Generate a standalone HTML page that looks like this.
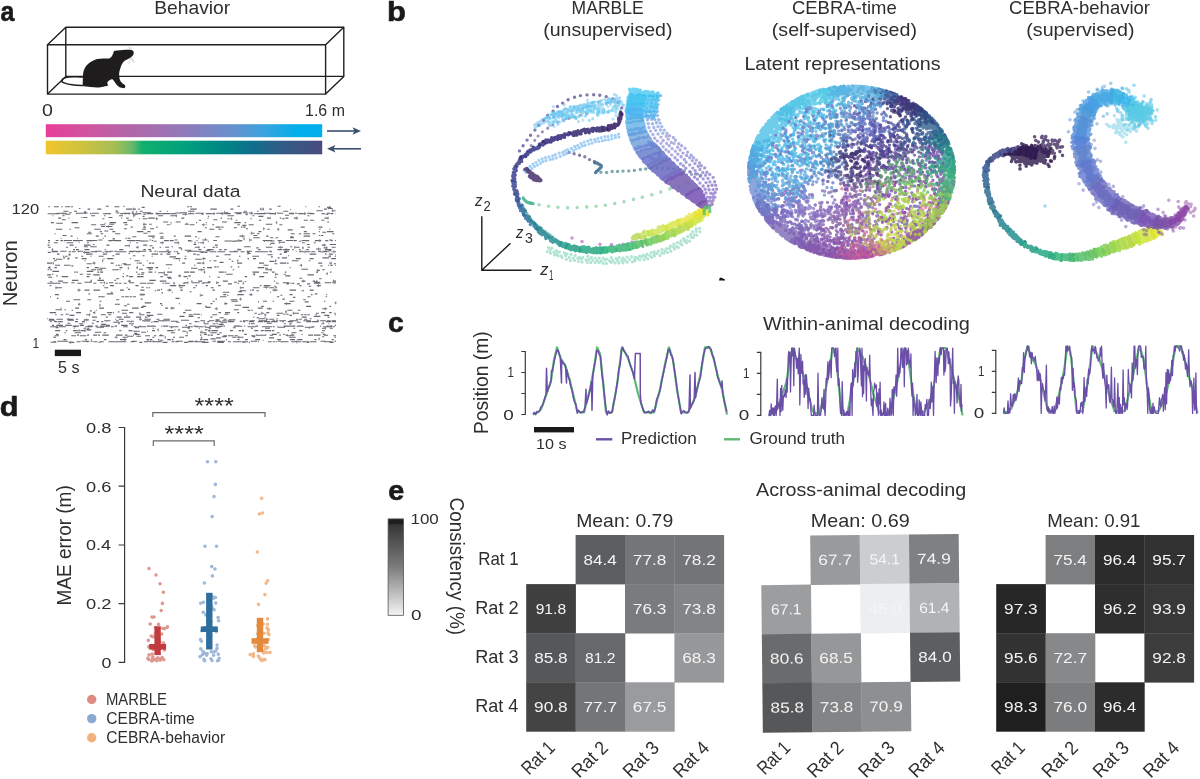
<!DOCTYPE html><html><head><meta charset="utf-8"><style>html,body{margin:0;padding:0;background:#fff;}body{width:1200px;height:779px;overflow:hidden;font-family:"Liberation Sans",sans-serif;}svg{display:block;}#w{will-change:transform;width:1200px;height:779px;}</style></head><body><div id="w"><svg width="1200" height="779" viewBox="0 0 1200 779" font-family="Liberation Sans, sans-serif" fill="#2e2e2e"><rect width="1200" height="779" fill="#fff"/><text x="0.4" y="21" font-size="27" textLength="13.9" lengthAdjust="spacingAndGlyphs" font-weight="bold" fill="#1a1a1a" stroke="#1a1a1a" stroke-width="0.6">a</text><text x="154.2" y="14.2" font-size="17.7" textLength="76" lengthAdjust="spacingAndGlyphs">Behavior</text><g fill="none" stroke="#231f20" stroke-width="1.4" stroke-linejoin="round"><path d="M65.8 27.2H343.8V76.4H65.8Z"/><path d="M47.5 44.8H325.6V94.1H47.5Z"/><path d="M47.5 44.8L65.8 27.2M325.6 44.8L343.8 27.2M325.6 94.1L343.8 76.4M47.5 94.1L65.8 76.4"/></g><path fill="#1e1c1d" d="M114.3 50.9C114.9 50.5 115.9 50.5 117.3 50.4C118.6 50.2 120.4 50.0 122.5 49.9C124.6 49.8 128.2 49.5 130.0 49.8C131.8 50.0 132.9 50.4 133.4 51.3C133.9 52.1 133.7 53.9 133.2 55.0C132.6 56.1 131.3 57.1 130.0 58.0C128.7 58.9 126.8 59.4 125.5 60.3C124.3 61.1 123.4 61.9 122.5 63.3C121.6 64.6 120.8 66.8 120.3 68.5C119.7 70.3 119.2 71.9 119.1 73.8C119.1 75.6 119.4 78.2 119.9 79.8C120.4 81.3 121.3 82.2 122.1 83.1C123.0 84.1 124.8 84.6 125.1 85.4C125.5 86.2 125.2 87.6 124.4 88.0C123.6 88.4 121.3 87.9 120.3 87.6C119.2 87.3 118.9 87.0 118.0 86.1C117.1 85.3 116.0 83.5 115.0 82.4C114.0 81.2 113.3 79.2 112.0 79.2C110.8 79.1 108.2 81.0 107.5 82.0C106.8 83.0 108.0 84.4 107.9 85.0C107.8 85.7 108.3 85.5 106.8 85.9C105.2 86.3 101.3 87.2 98.5 87.4C95.8 87.6 92.8 87.1 90.3 86.9C87.8 86.6 84.8 87.0 83.5 85.9C82.3 84.8 82.8 82.9 82.8 80.5C82.8 78.1 82.9 74.0 83.5 71.5C84.1 69.0 85.3 67.1 86.5 65.5C87.8 63.9 89.3 62.8 91.0 61.8C92.8 60.7 95.0 59.7 97.0 59.1C99.0 58.6 101.0 58.7 103.0 58.5C105.0 58.4 107.5 58.8 109.0 58.4C110.5 58.0 111.3 57.1 112.0 56.1C112.7 55.2 113.0 53.6 113.4 52.8C113.7 51.9 113.6 51.3 114.3 50.9Z"/><path fill="none" stroke="#1e1c1d" stroke-width="1.5" d="M83.5 85.5C81.9 85.4 77.0 85.4 73.8 85.0C70.5 84.6 66.0 83.7 64.0 82.9C62.0 82.2 61.8 81.3 61.9 80.5C62.0 79.7 62.8 78.5 64.8 77.9C66.7 77.3 70.7 76.9 73.8 76.8C76.8 76.6 81.4 77.0 82.9 77.1"/><path fill="none" stroke="#aaa" stroke-width="0.45" d="M131 58L133.5 63M130.5 58.5L128.5 64.5M131.5 57.5L134.5 62M129.8 49.6L129 46.5M130.5 50L131.5 47"/><text x="42.1" y="115.6" font-size="16.2" textLength="10.9" lengthAdjust="spacingAndGlyphs">0</text><text x="305.1" y="115.6" font-size="15.8" textLength="39.8" lengthAdjust="spacingAndGlyphs">1.6 m</text><defs><linearGradient id="gr1" x1="0" x2="1" y1="0" y2="0"><stop offset="0" stop-color="#e83e97"/><stop offset="0.15" stop-color="#d0559f"/><stop offset="0.3" stop-color="#b366a8"/><stop offset="0.45" stop-color="#9a75b5"/><stop offset="0.6" stop-color="#7a86c5"/><stop offset="0.7" stop-color="#5f95d2"/><stop offset="0.8" stop-color="#35a5e0"/><stop offset="0.9" stop-color="#05aeea"/><stop offset="1" stop-color="#00b0ed"/></linearGradient><linearGradient id="gr2" x1="0" x2="1" y1="0" y2="0"><stop offset="0" stop-color="#f0c52c"/><stop offset="0.15" stop-color="#c8c243"/><stop offset="0.25" stop-color="#a5bd55"/><stop offset="0.31" stop-color="#6ab96a"/><stop offset="0.35" stop-color="#12b06e"/><stop offset="0.5" stop-color="#00a07d"/><stop offset="0.65" stop-color="#008585"/><stop offset="0.75" stop-color="#0f6e8c"/><stop offset="0.85" stop-color="#2f5d85"/><stop offset="1" stop-color="#4a4a80"/></linearGradient></defs><rect x="45.8" y="124.2" width="276.4" height="13" fill="url(#gr1)"/><rect x="45.8" y="140.7" width="276.4" height="13.6" fill="url(#gr2)"/><path d="M327 131H355" stroke="#3d4f6e" stroke-width="1.6"/><path d="M361 131L352.5 127.2L354.5 131L352.5 134.8Z" fill="#3d4f6e"/><path d="M333 148.8H361" stroke="#3d4f6e" stroke-width="1.6"/><path d="M327 148.8L335.5 145L333.5 148.8L335.5 152.6Z" fill="#3d4f6e"/><text x="140.4" y="196.5" font-size="17.4" textLength="100.1" lengthAdjust="spacingAndGlyphs">Neural data</text><text x="11.6" y="214" font-size="14.8" textLength="27.6" lengthAdjust="spacingAndGlyphs">120</text><text x="32.5" y="347.6" font-size="14.8" textLength="6.7" lengthAdjust="spacingAndGlyphs">1</text><text x="-1.6" y="0" font-size="19.9" textLength="66" lengthAdjust="spacingAndGlyphs" transform="translate(16.7 304.7) rotate(-90)">Neuron</text><rect x="54.8" y="349.7" width="26.2" height="6.4" fill="#1a1a1a"/><text x="58" y="372.6" font-size="16.2" textLength="21.5" lengthAdjust="spacingAndGlyphs">5 s</text><path stroke="#676970" stroke-width="1.1" fill="none" d="M48.4 206.8h1.5M53.9 206.8h5M61.3 206.8h1.5M65.2 206.8h5M71 206.8h2M105.8 206.2h3M114.4 206.8h5M123.4 206.2h1.5M141.7 207.4h3M187.1 206.8h2M189.9 206.8h2M237.5 206.2h2.5M277.6 206.2h3M305.4 206.8h1M318.4 206.8h1.5M327.1 207.4h4M78.9 208.5h1.5M87.6 209.1h2.5M97.3 209.1h4M126.1 209.1h6.5M133.4 209.1h2.5M138.3 209.1h1.5M190.2 209.1h6.5M210.3 209.1h6.5M230.4 209.1h3M259.8 209.1h1.5M262.1 209.1h1.5M269.2 209.1h2.5M290.1 209.7h1M323.9 209.1h3M327.7 208.5h5M63.4 211.3h5M74 211.3h3M84.2 211.9h2M115.8 211.3h2.5M131.9 211.9h1.5M135.8 211.9h1.5M139.7 211.3h3M159.5 211.3h2M167.1 211.3h1M188.1 211.3h6.5M224.2 211.3h1M243.6 211.3h3M257 211.3h1.5M283.3 211.3h5M316.3 210.7h6.5M331.6 210.7h4M55.6 213.6h4M62 213.6h2.5M65.3 214.2h5M75.9 213.6h1M82.5 213h5M89.9 213.6h1.5M105 213.6h2M107.8 213.6h3M116.4 213h3M120.2 213.6h3M124 213.6h3M127.8 213.6h2.5M132.7 214.2h5M138.5 213.6h2.5M143.4 214.2h2.5M146.7 213.6h6.5M155.6 213.6h5M163 213.6h6.5M171.9 213.6h2.5M175.2 213h6.5M182.5 214.2h5M189.9 213h1M191.7 213.6h1M201.5 214.2h2M205.9 213.6h5M213.3 213.6h1.5M220.4 213.6h3M224.2 213.6h6.5M236.3 213.6h5M245.3 214.2h2.5M248.6 213h4M256.6 213.6h1.5M258.9 213.6h6.5M269.4 213.6h6.5M276.7 213h2M289.1 213.6h5M298.1 213.6h5M303.9 213.6h1.5M309.4 213.6h5M321.6 213.6h3M325.4 214.2h3M330.8 213.6h2.5M335.7 213.6h0.3M52.4 215.8h1M62.2 215.8h2.5M91.1 215.8h4M103.9 215.8h1.5M119 215.8h4M133.4 215.8h2M142.6 216.4h2M158.2 215.8h5M170.4 215.8h6.5M208.1 216.4h1M227.5 215.8h6.5M252.4 215.8h2M258.4 216.4h5M285 215.2h4M307.4 215.8h2M58.2 218.1h3M68.4 218.1h1M81.4 217.5h1M83.2 217.5h4M102.4 218.7h2M108.4 217.5h4M121.2 218.1h1M126.2 218.1h2.5M139.1 218.7h1M142.5 218.7h5M148.3 218.1h6.5M155.6 218.7h2.5M181.3 218.1h3M207.5 218.1h1M220.5 218.1h1.5M227.6 218.7h2M230.4 218.7h1.5M250.3 218.7h1.5M267 218.1h4M279.8 218.1h1.5M282.1 218.7h2.5M285.4 218.1h3M294 218.1h4M324.4 218.1h4M61.8 219.7h4M127.4 220.3h5M198.8 220.3h2.5M213.3 219.7h4M235.7 220.3h1.5M258.8 220.3h2.5M303.7 220.3h4M310.1 220.3h4M321.3 220.3h3M50.9 222.6h3M56.3 223.2h6.5M71.6 222.6h6.5M104.5 223.2h1M109.5 222.6h6.5M123.2 222.6h4M163.2 222h5M170.6 222.6h1M175.6 222h5M186.2 223.2h1M196 222.6h1M205.8 222.6h1M222 222h5M234.2 222.6h6.5M244.7 222.6h1.5M275.8 222.6h1M327.2 222h2M91.2 224.8h5M100.2 224.8h5M109.2 224.2h5M124.6 224.8h3M142.8 224.2h4M149.2 224.2h2.5M166.9 224.8h2.5M170.2 224.2h1M184.8 224.2h4M189.6 224.8h5M201.8 224.8h3M205.6 224.8h1M212.2 224.8h2M237.4 224.8h2.5M242.3 225.4h4M248.7 224.8h5M265.7 224.2h6.5M279.4 224.8h3M74.5 227.7h5M101.1 226.5h4M105.9 226.5h6.5M130.8 227.1h2M143.2 227.1h2.5M156.1 227.1h1.5M204.8 227.7h2M215.6 227.1h5M221.4 227.1h2M233.8 227.7h3M240.8 227.1h1.5M243.1 227.1h2.5M300.8 227.1h4M318.4 227.1h4M55.8 229.3h6.5M69.5 229.3h1.5M94.2 229.3h6.5M109.5 229.3h4M123.9 228.7h3M142.1 229.3h4M150.1 228.7h4M209.3 229.3h5M218.3 229.3h3M246.1 228.7h2M263.3 228.7h1.5M267.2 229.3h2.5M276.9 229.3h2M287.7 229.9h5M319.1 229.3h1.5M329.4 229.3h1M88.1 232.2h3M99.9 231.6h2M104.3 231h4M112.3 231.6h3M136.9 231.6h6.5M147.4 231.6h3M197.6 231.6h4M258.4 231.6h3M303.8 231.6h3M318.8 231.6h1M322.2 232.2h4M327 231.6h6.5M54.7 233.8h1M86.9 233.8h5M100.7 233.8h2.5M115.2 233.8h5M143.4 233.2h4M159.4 233.2h4M250.6 233.2h4M257 233.8h2.5M290.7 233.8h4M298.7 233.8h2.5M303.6 233.8h6.5M312.5 233.8h3M332.3 233.8h2M62.6 235.5h4M70.6 236.1h2M95.8 236.1h3M104.4 236.1h1.5M132.3 236.7h4M148.3 236.1h6.5M160.4 236.7h3M173.8 236.1h2M184.6 236.1h6.5M195.1 236.7h2M215.5 236.7h4M239.5 236.1h5M253.3 235.5h4M266.1 236.1h2.5M290.2 236.7h3M303.6 236.1h6.5M318.9 235.5h1M320.7 235.5h2.5M60.7 238.3h1M76.9 238.3h1M102.7 238.3h1M112.5 238.9h2.5M125.4 238.3h1.5M127.7 238.3h3M152.3 237.7h2M159.9 238.3h4M198.3 238.3h1M204.9 238.9h1M243.5 238.9h1M253.3 237.7h6.5M270.2 237.7h3M275.6 237.7h2.5M290.1 237.7h4M48 240.6h2M60.4 240.6h2.5M63.7 240.6h2M72.9 240.6h6.5M86.6 240.6h6.5M108.3 240.6h4M114.7 240.6h6.5M128.4 240.6h6.5M138.9 240.6h1.5M141.2 241.2h1M143 241.2h1M149.6 240h1.5M151.9 240.6h1.5M154.2 241.2h2.5M163.9 240.6h5M169.7 240.6h4M174.5 240h3M187.9 240.6h3M196.5 240.6h1M207.9 241.2h1M232.1 241.2h5M237.9 240h1.5M240.2 240.6h2M249.4 240h2.5M263.9 241.2h1M265.7 240.6h6.5M293.8 240.6h3M299.2 241.2h2M305.2 240.6h4M314.8 240.6h6.5M325.3 240.6h3M330.7 240.6h2M48.3 242.8h1.5M53.8 242.8h4M66.6 242.8h6.5M78.7 242.2h1M86.9 242.8h2M129.7 242.8h1M136.3 242.8h2M159.9 242.8h4M174.3 242.8h5M194.5 242.8h1M197.9 242.8h1.5M200.2 242.8h4M270.6 243.4h4M278.6 242.2h6.5M301.9 242.8h3M313.7 242.8h2M47.6 245.1h2M69.6 245.1h4M84 245.1h6.5M92.9 244.5h1.5M106.4 245.1h3M124.6 245.7h5M143.2 245.1h4M149.6 245.7h3M193.4 244.5h3M214.8 245.1h3M269.8 244.5h1M306.8 244.5h3M321.8 245.1h4M329.8 244.5h6.2M48.2 247.3h2.5M65.9 247.3h2M75.1 247.3h1.5M83.8 246.7h4M90.2 246.7h6.5M135.9 247.3h2.5M152 247.9h2M159.6 247.3h1.5M165.1 247.3h4M171.5 246.7h1.5M178.6 247.9h2.5M194.7 247.3h5M203.7 247.3h1.5M212.4 247.3h2.5M215.7 247.3h2M244.1 246.7h6.5M256.2 247.9h2.5M265.9 247.3h6.5M278 247.3h5M290.2 246.7h2M294.6 247.3h5M302 247.9h1.5M307.5 247.3h2.5M323.6 247.9h4M331.6 247.3h4M51.6 249.6h1.5M73.1 249.6h2M75.9 249.6h3M84.5 249.6h5M104.7 249.6h1M119.3 249.6h4M143.3 249.6h2.5M148.2 249.6h3M166.4 250.2h2.5M180.9 249h1.5M184.8 250.2h6.5M198.5 249.6h3M207.1 249.6h6.5M219.2 249.6h2.5M224.1 249.6h2.5M237 249.6h1M238.8 249.6h2.5M258.1 249.6h2.5M277.4 249.6h5M283.2 249.6h6.5M292.1 249.6h1.5M299.2 249.6h1.5M306.3 249.6h2.5M316 249h5M325 249.6h6.5M47.8 252.4h3M51.6 251.8h6.5M68.5 251.8h2.5M71.8 251.8h4M78.2 251.8h1M83.2 252.4h6.5M90.5 251.8h6.5M97.8 251.2h4M102.6 252.4h1M104.4 251.8h6.5M116.5 251.8h2.5M119.8 251.8h6.5M128.7 251.8h5M136.1 251.8h4M142.5 251.2h3M149.5 251.2h2.5M154.4 251.2h2M157.2 251.8h1M159 251.8h6.5M167.9 252.4h2M173.9 251.8h1.5M176.2 251.8h2M187 251.8h2.5M196.7 251.2h1.5M200.6 252.4h3M204.4 252.4h3M209.8 251.8h6.5M218.7 251.8h6.5M229.2 251.8h4M234 251.2h2.5M240.5 251.8h4M246.9 252.4h2.5M250.2 251.2h1M255.2 251.8h6.5M262.5 251.8h5M269.9 251.8h2M283.9 252.4h3M295.7 251.2h1M299.1 251.8h1.5M301.4 251.8h2.5M304.7 251.8h2.5M308 251.8h2.5M311.3 251.8h4M319.3 251.8h1.5M321.6 252.4h1M323.4 251.8h4M328.2 251.8h1M331.6 251.8h1M333.4 251.8h2.6M57 254.1h2.5M68.3 254.7h2.5M86 254.1h6.5M102.9 254.1h4M115.7 254.1h4M128.5 253.5h1.5M151.6 254.1h6.5M160.5 254.1h2M166.5 254.1h4M177.7 253.5h2M193.3 254.1h2.5M196.6 254.7h3M224.4 254.7h6.5M247.7 253.5h3M267.5 254.7h5M279.7 254.1h2M309.7 254.1h6.5M325 254.1h1.5M328.9 254.1h4M335.3 254.7h0.7M62.8 256.3h1.5M65.1 256.3h2.5M81.2 256.3h2M90.4 256.3h1M98.6 256.3h5M112.4 255.7h2M132.8 255.7h2.5M142.5 255.7h2M151.7 256.3h1M169.5 256.9h6.5M184.8 256.3h1.5M215.9 256.3h3M238.9 256.3h1.5M252.4 256.3h6.5M270.9 256.9h2M288.1 255.7h1M328.3 256.3h2.5M334.8 256.3h1.2M53.1 258.6h2M55.9 259.2h6.5M63.2 257.9h2M67.6 258.6h2M75.2 257.9h2.5M81.7 258.6h5M103.5 258.6h1M106.9 258.6h6.5M130.2 258.6h1M173.6 258.6h1M175.4 258.6h5M184.4 258.6h2M195.2 259.2h6.5M202.5 258.6h3M228.7 259.2h2M247.5 258.6h1.5M253 258.6h3M277.6 257.9h2M282 257.9h5M295.8 258.6h5M309.6 258.6h4M322.4 257.9h6.5M331.3 258.6h4.7M54.1 260.8h2.5M84.6 260.8h1M102.4 260.8h1M134.6 260.8h5M146.8 260.8h1M179 260.8h1M209.6 260.8h1.5M213.5 260.8h3M231.7 261.4h1.5M237.2 260.8h1M269.4 261.4h5M275.2 260.8h1.5M291.9 260.8h6.5M308.8 260.8h1.5M47 263.1h5M52.8 263.1h1M86.6 263.7h5M92.4 263.1h3M110.6 263.1h3M122.4 263.7h4M136.8 263.1h1M138.6 263.1h3M148.8 263.1h2.5M152.1 263.1h2M182.1 263.1h3M197.1 263.1h4M201.9 263.1h2.5M219.6 262.4h4M237.2 263.1h5M259 263.1h5M274.4 263.7h3M279.8 263.1h6.5M287.1 263.1h1.5M318.2 263.1h4M329.4 263.1h2M333.8 263.7h2.2M55 265.3h5M64 265.3h6.5M71.3 265.9h2M115.7 265.3h1.5M118 265.3h2M120.8 265.3h1M124.2 264.7h6.5M142.7 265.3h1.5M165.8 264.7h6.5M193.9 265.3h1.5M263.4 265.3h5M299.6 265.3h2.5M320.5 265.9h2M328.1 265.3h1M329.9 265.3h3M335.3 265.3h0.7M47.9 267.6h2.5M54.4 267.6h2.5M86.5 267.6h2.5M94.6 267.6h4M99.4 268.2h6.5M119.5 267.6h3M128.1 268.2h1M136.3 267.6h1.5M146.6 267.6h6.5M155.5 267.6h2.5M168.4 268.2h1M191 268.2h6.5M203.1 267.6h1.5M207 267.6h5M214.4 266.9h2M217.2 266.9h1.5M230.7 266.9h1.5M237.8 266.9h1.5M257.7 267.6h6.5M265 268.2h3M289.6 267.6h1M47.6 269.8h1.5M49.9 269.8h2M91.1 269.8h5M96.9 269.8h5M112.3 269.8h6.5M119.6 269.8h1M139 269.2h4M148.6 269.2h4M198.2 269.8h6.5M232.7 269.8h1.5M265.4 269.8h6.5M301.5 269.2h6.5M316.8 270.4h3M322.2 269.8h2.5M52.5 271.4h6.5M74.2 272.1h1.5M76.5 272.1h1.5M86.8 271.4h6.5M97.3 272.1h2M100.1 272.1h3M135.9 272.1h1.5M141.4 272.7h3M148.4 272.1h4M154.8 272.1h1M158.2 272.7h6.5M167.1 272.1h5M184.1 272.1h5M189.9 272.1h5M203.7 272.1h1.5M218.8 272.1h5M224.6 272.1h1.5M252.5 272.1h6.5M263 272.7h5M272 272.1h2.5M284.9 272.1h1.5M316 272.1h2M330 272.1h1.5M47.1 274.9h4M51.9 274.3h1.5M79.8 274.3h3M86.8 274.3h4M93.2 274.9h6.5M122.9 273.7h1M137.5 274.3h2.5M140.8 274.3h3M163.8 274.9h4M226.2 274.3h6.5M252.7 274.3h2.5M275.2 274.3h3M283.8 274.3h2M307.4 274.9h6.5M325.9 273.7h1.5M48.2 277.2h4M56.2 275.9h1.5M61.7 276.6h6.5M86.6 276.6h3M122.4 276.6h1.5M126.3 275.9h2M129.1 276.6h4M137.1 276.6h6.5M160.4 276.6h2.5M166.9 277.2h4M178.1 275.9h3M183.5 276.6h4M188.3 275.9h2.5M209.2 276.6h1M217.4 277.2h2.5M244.7 276.6h2.5M259.2 276.6h5M274.6 277.2h2M285.4 275.9h5M99.4 278.2h1.5M116.1 278.8h3M167.9 278.2h4M187.1 278.8h1M299.3 278.2h3M319.1 278.8h2.5M50 281.7h2.5M58.1 281.1h5M71.9 280.4h6.5M90.4 281.1h1.5M97.5 280.4h6.5M114.4 280.4h1.5M127.9 281.1h3M149.3 280.4h6.5M159.8 281.1h6.5M191.1 281.1h1.5M198.2 281.1h4M207.8 281.7h3M222.8 281.1h5M238.2 281.1h4M244.6 281.7h1.5M274.1 281.1h1M301.5 281.1h4M312.7 281.1h2.5M316 281.1h1.5M332.7 281.1h3.3M48.2 283.3h5M55.6 283.3h5M93.4 283.3h3M103.6 282.7h1.5M105.9 283.3h2M115.1 283.3h3M118.9 283.3h2.5M123.8 283.3h3M129.2 282.7h5M139.8 283.3h6.5M147.1 283.3h6.5M162.4 283.3h1.5M164.7 283.3h5M173.7 283.3h1.5M184 282.7h4M201.6 283.3h2.5M216.1 282.7h3M227.9 283.9h4M237.5 283.3h1.5M243 283.3h1M286.4 283.9h2.5M289.7 283.3h1M291.5 283.3h3M296.9 283.9h3M307.1 283.9h3M314.1 283.3h6.5M324.6 282.7h6.5M331.9 282.7h2M334.7 282.7h1.3M49.8 285.6h1.5M103.3 285.6h1M109.9 285.6h4M135.5 285.6h3M169.7 285.6h6.5M178.6 285.6h6.5M195.5 285.6h1.5M205.8 285.6h2M218.2 285.6h2.5M259.9 285.6h1.5M263.8 285.6h6.5M274.3 286.2h2M299.5 285.6h2M308.7 286.2h2.5M316.8 285.6h4M55.4 287.8h6.5M104.3 287.8h4M126.7 287.8h1M141.3 287.2h2.5M146.2 287.8h1.5M148.5 287.8h1.5M179.6 287.8h3M193 287.8h2.5M210.7 287.8h3M240.1 287.8h4M252.9 287.8h6.5M263.4 287.2h5M269.2 287.8h5M275 287.8h2M77.5 290.1h3M84.5 290.1h5M93.5 290.1h6.5M120 290.1h4M128 289.4h2M140.4 290.1h4M154.8 290.7h1.5M157.1 290.1h3M160.9 289.4h1M167.5 290.1h4M180.3 290.1h2.5M212.4 290.1h2.5M239.7 290.7h6.5M250.2 290.1h1M252 290.1h2M256.4 290.7h2.5M272.5 290.1h5M289.5 290.1h6.5M301.6 290.7h2.5M309.7 290.1h4M110.7 292.3h2M161.5 292.9h1.5M171.8 292.3h1M189.6 291.7h2M222.8 292.3h6.5M238.1 291.7h4M270.1 292.3h1M54.9 294.6h4M88.5 293.9h1.5M106.8 293.9h6.5M139.7 294.6h2M142.5 294.6h2.5M200.2 295.2h3M223.2 294.6h3M227 295.2h1.5M237.3 294.6h6.5M249.4 294.6h3M280.4 295.2h2M289.6 294.6h3M311 294.6h1.5M314.9 293.9h2.5M326.2 294.6h1M50 296.8h1M98.2 296.8h6.5M121.5 296.8h2.5M124.8 296.8h4M129.6 296.8h2.5M132.9 296.8h3M219.9 296.8h6.5M276.8 296.8h2.5M292.9 297.4h2.5M307.4 296.8h3M325.6 296.8h1.5M56.9 298.4h1.5M73.6 299.7h6.5M87.3 299.7h4M116.1 299.7h3M140.7 299.1h2M175.5 298.4h4M215.5 299.1h1.5M230.6 299.7h6.5M239.5 299.1h2M282.3 299.1h2.5M303.2 299.7h2.5M65.9 301.3h4M99.5 301.3h2M212.7 301.3h2M231.5 301.3h6.5M258 301.9h1M263 301.3h4M272.6 301.3h1.5M289.3 301.3h5M304.7 301.9h4M323.9 301.3h1.5M77.9 304.2h2.5M114.8 304.2h5M127 304.2h2.5M144.7 302.9h6.5M160 303.6h2M178.8 303.6h1M196.6 303.6h5M210.4 303.6h2M224.4 303.6h3M284.2 303.6h6.5M334.7 302.9h1.3M99.7 305.2h1M123.9 305.8h3M142.1 306.4h4M161.3 305.2h1.5M205.2 306.4h1.5M234.7 305.2h6.5M261.2 306.4h2.5M306.1 306.4h5M329.5 306.4h1.5M60.5 308.1h1M75.1 308.1h4M99.1 308.1h5M132.1 308.1h6.5M141 307.4h2.5M165.1 308.1h3M170.5 308.1h4M205.7 307.4h5M214.7 308.7h3M242.5 307.4h6.5M257.8 308.1h5M266.8 308.7h5M322.2 308.7h5M55.5 309.7h6.5M64.4 309.7h1.5M71.5 310.3h1.5M89.8 310.9h2M95.8 310.3h1M121.6 310.3h6.5M184.9 310.3h6.5M233.8 309.7h5M247.6 310.3h3M251.4 310.3h1.5M287.3 310.3h5M297.9 310.3h2.5M49.6 312.6h6.5M76.1 312.6h5M93.1 312.6h2M107.1 312.6h5M112.9 312.6h1M117.9 311.9h1.5M121.8 313.2h5M129.2 312.6h4M138.8 313.2h2M146.4 312.6h4M183.2 312.6h2.5M218.5 312.6h2.5M225 312.6h5M237.2 312.6h2M254.4 313.2h2.5M260.9 313.2h3M266.3 312.6h3M276.5 313.2h6.5M285.4 311.9h1.5M292.5 313.2h6.5M315.8 313.2h3M321.2 312.6h4M329.2 312.6h2.5M334.1 313.2h1.5M55.2 314.8h1.5M60.7 314.8h2.5M65.6 314.2h3M69.4 315.4h5M86.4 314.8h4M100.8 314.8h5M108.2 314.8h3M126.4 315.4h1M139.4 314.8h5M146.8 315.4h6.5M157.3 314.2h5M188.7 314.8h4M193.5 314.2h6.5M200.8 314.8h1M212.2 314.8h5M224.4 314.2h4M258 314.2h2.5M264.5 314.8h2M276.9 315.4h2.5M283.4 314.2h2M286.2 314.2h2.5M289.5 315.4h2.5M300.8 314.8h2.5M304.1 314.8h2.5M307.4 314.8h2.5M315.5 314.8h1.5M324.2 315.4h5M334.8 314.8h1.2M92 317.1h5M105.8 317.1h2M116.6 317.1h5M124 317.1h6.5M136.1 317.1h5M145.1 317.1h2.5M148.4 316.4h1.5M179.5 316.4h5M188.5 316.4h5M197.5 317.7h2.5M210.4 317.1h2M219.6 317.7h4M253.2 317.1h1M256.6 317.7h2.5M264.7 317.1h1M301.7 317.1h5M313.9 316.4h6.5M327.6 317.1h2M47.2 318.7h1M49 319.3h5M56.4 319.3h6.5M66.9 319.3h6.5M75.8 319.3h2.5M83.9 319.9h5M115.3 319.3h1M118.7 319.3h5M138.9 319.3h3M144.3 319.3h6.5M156.4 319.3h3M163.4 319.3h6.5M215.5 319.9h4M223.5 319.3h3M228.9 319.9h6.5M258.6 318.7h6.5M265.9 319.3h2.5M269.2 319.3h5M276.6 318.7h1M296 319.3h2.5M299.3 319.3h2.5M304.2 319.3h3M309.6 318.7h2M50.2 321.6h1.5M54.1 321.6h3M57.9 321.6h5M74.9 321.6h3M81.9 321.6h2.5M96.4 321.6h2.5M101.3 321.6h2M105.7 320.9h2M113.3 322.2h6.5M120.6 321.6h2.5M130.3 321.6h1.5M143.8 320.9h6.5M151.1 322.2h1.5M153.4 321.6h5M162.4 320.9h2M176.4 322.2h3M194.6 321.6h3M198.4 321.6h1M203.4 322.2h1.5M207.3 321.6h2M216.5 320.9h1.5M220.4 322.2h6.5M227.7 321.6h6.5M243 321.6h2M249 321.6h5M258 321.6h5M263.8 321.6h6.5M271.1 321.6h6.5M280 320.9h1.5M282.3 321.6h1.5M287.8 321.6h5M296.8 322.2h4M306.4 321.6h5M312.2 321.6h6.5M322.7 322.2h1M326.1 321.6h5M331.9 321.6h4M58.6 323.8h1.5M67.3 323.2h3M79.1 323.8h4M91.9 323.2h2M101.1 324.4h5M118.1 323.8h2M128.9 323.8h5M189.1 323.8h2.5M203.6 323.8h5M212.6 323.8h3M216.4 323.8h1.5M218.7 324.4h5M248.5 323.8h1.5M250.8 323.8h4M266.8 323.2h5M283.8 323.8h2M289.8 323.8h2M321.4 323.8h3M328.4 323.8h1M52 325.4h2M56.4 325.4h6.5M65.3 325.4h6.5M72.6 326.1h6.5M79.9 325.4h4M87.9 326.1h5M95.3 326.1h2.5M100.2 326.1h5M106 325.4h4M110.8 326.7h3M114.6 326.1h2.5M121.1 325.4h6.5M131.6 325.4h1M139.8 326.1h1M141.6 326.7h3M147 326.1h2M149.8 326.1h1.5M152.1 326.1h2M161.3 326.1h1M163.1 326.1h5M175.3 326.7h3M185.5 325.4h1.5M187.8 326.7h5M193.6 326.1h2M196.4 326.1h1M204.6 326.1h1M209.6 326.1h6.5M218.5 326.7h2.5M223.4 326.1h1.5M233.7 326.1h6.5M244.2 326.1h1M255.6 326.1h2.5M266.9 326.7h5M272.7 326.7h2M277.1 326.7h1M283.7 326.1h4M288.5 326.1h2M291.3 326.1h4M297.7 326.1h5M311.5 326.7h3M320.1 326.1h1M326.7 326.1h2M329.5 326.1h3M334.9 325.4h1.1M55.6 327.7h3M73.8 328.3h1M83.6 328.3h2.5M86.9 328.9h2.5M135 327.7h4M152.6 328.3h1.5M170.9 327.7h1.5M187.6 328.3h2.5M198.9 328.3h1M208.7 328.3h2.5M215.2 327.7h4M232.8 327.7h3M251 328.3h2M265 328.3h5M293.2 328.3h2M308.8 328.3h1M321.8 328.3h4M329.8 328.3h3M55.2 330.6h5M65.8 330.6h1.5M72.9 330.6h5M78.7 330.6h1M80.5 330.6h5M86.3 329.9h5M119.3 330.6h2M128.5 330.6h4M133.3 331.2h6.5M147 331.2h1M152 330.6h3M157.4 329.9h1M167.2 330.6h6.5M174.5 329.9h1M177.9 329.9h2M182.3 331.2h4M188.7 330.6h3M200.5 331.2h2M204.9 329.9h2.5M208.2 330.6h2.5M211.5 330.6h6.5M230 330.6h3M238.6 330.6h2.5M241.9 330.6h2M254.3 330.6h4M260.7 330.6h3M264.5 330.6h6.5M271.8 330.6h2.5M287.9 330.6h1M299.3 330.6h3M322.3 330.6h2.5M64.3 332.8h1.5M74.6 332.8h6.5M94.7 332.2h6.5M103.6 332.8h2.5M134.1 333.4h3M141.1 332.2h5M170.9 332.8h4M186.9 332.8h1M199.9 332.8h6.5M210.4 332.8h6.5M219.3 332.8h2.5M277 332.8h2.5M291.5 332.8h5M321.3 332.8h2M56.1 334.4h2.5M77 335.1h2M79.8 335.7h6.5M87.1 335.1h2M93.1 335.1h4M97.9 335.1h2M102.3 335.1h6.5M116 335.1h6.5M124.9 335.1h2.5M133 335.1h1M134.8 334.4h5M159.8 335.1h2M185 335.7h3M200 335.1h1.5M203.9 334.4h3M207.7 335.1h2M210.5 335.1h2.5M217 334.4h2.5M244.3 334.4h2.5M255.6 335.1h2M264.8 335.1h1.5M271.9 334.4h5M279.3 335.1h1.5M283.2 334.4h1.5M285.5 335.1h2.5M290.4 335.1h4M301.6 334.4h1M308.2 335.1h5M314 335.1h6.5M322.9 334.4h2.5M334.2 335.7h1.8M53.1 337.3h3M114.5 337.3h2.5M122.6 337.3h5M152.4 337.3h2M164.8 337.3h1M173 337.3h2M179 337.3h5M200.8 337.9h1.5M215.9 337.9h5M221.7 336.7h5M232.3 337.3h4M237.1 337.3h6.5M252.4 336.7h3M269 337.9h5M289.2 337.3h6.5M322.1 336.7h2M334.5 337.3h1.5M63.5 339.6h3M84.9 339.6h2M90.9 339.6h1M103.9 339.6h2.5M120 339.6h6.5M146.5 339.6h2.5M149.8 339.6h2.5M157.9 339.6h1.5M160.2 340.2h3M167.2 339.6h4M172 339.6h1.5M199.9 339.6h2.5M203.2 339.6h5M210.6 338.9h5M226 339.6h1M237.4 339.6h2M245 339.6h3M255.2 339.6h5M262.6 340.2h1M277.2 339.6h4M290 339.6h5M297.4 339.6h5M314.4 339.6h2M318.8 338.9h1M331.8 339.6h2M53 341.8h3M61.6 341.2h6.5M68.9 342.4h2M71.7 342.4h2.5M76.6 341.8h4M86.2 341.8h2M90.6 341.2h2M93.4 341.8h4M99.8 341.8h4M111 341.8h2.5M114.3 341.8h5M123.3 341.8h3M131.9 341.2h5M139.3 342.4h3M144.7 341.8h3M150.1 341.8h1.5M152.4 341.2h2M155.2 341.8h6.5M162.5 342.4h5M171.5 341.8h3M175.3 341.8h3M183.9 342.4h4M188.7 341.2h5M194.5 341.2h3M198.3 341.8h3M202.1 342.4h6.5M217.4 342.4h6.5M227.9 341.8h3M233.3 341.8h1.5M238.8 341.8h2M241.6 341.8h6.5M248.9 342.4h1M250.7 341.2h6.5M258 341.8h1M267.8 341.8h4M272.6 341.8h2.5M275.9 341.8h1.5M278.2 341.2h2M282.6 341.8h1.5M291.3 341.8h6.5M298.6 341.8h2.5M301.9 341.8h4M306.7 342.4h2.5M310 341.8h6.5M320.5 341.2h5M329.5 342.4h4M334.3 341.2h1.7M47.6 213.8h8.9M57.6 213.3h8.9M69.2 212.8h2.5M76.2 213.3h6.7M84 213.3h3.3M91.8 213.3h7.1M102.9 213.8h4.8M122.9 213.3h7.7M131.7 213.3h2.4M135 213.8h6.5M142.5 212.8h8.5M160.6 213.8h2.7M168.1 213.8h7.8M180.5 212.8h6.5M188 213.8h6.4M195.4 213.3h8.3M206.3 213.8h8.8M216.2 213.3h6.4M223.5 212.8h4.9M234.3 212.8h7.6M242.9 212.8h4.8M250.6 213.8h2.2M253.9 213.8h5.3M260.1 213.8h2.5M263.6 213.3h7.1M278.2 213.3h5M289.1 213.3h5M295.1 213.3h2.3M298.4 213.8h7.5M306.9 213.3h4.6M326.9 213.3h3.7M52 251.3h5.6M60.2 251.3h6.3M77.6 251.3h5.4M95.2 251.3h4.9M109.9 251.3h3.4M114.3 251.3h2.2M117.5 251.8h8.9M129.6 251.3h7.6M138.1 251.3h4.8M143.9 251.3h2.3M162.3 251.8h8.9M189.1 251.3h8.3M198.4 251.8h6.1M205.5 250.8h4.6M217.5 251.8h7.5M231.2 251.8h6.8M246.6 251.3h5.4M261 251.8h7M269.1 251.3h2.5M284.3 251.3h4.7M299.7 251.3h2M305.9 251.8h3.3M317.9 251.3h3.6M322.5 251.3h5.2M328.7 250.8h2.4M55.7 240.5h2.8M65.2 240.5h6.9M78 240.5h4.8M90.1 240.5h7.2M98.3 240h4.1M112.4 240.5h4.8M126.9 240.5h7.3M135.2 240.5h4.3M140.5 241h7.8M187.9 241h4.6M202.3 240h5.2M213.3 240.5h3.6M224.5 241h7.9M233.5 241h7.6M262.6 240.5h6.8M270.4 241h4.1M277.6 240.5h4.2M285.9 240.5h7.5M301.6 240.5h5.7M329.1 240h3M335.1 240.5h0.9M48.6 320.3h6.6M67.7 320.3h6.4M92.5 320.3h3.1M104.2 320.8h6.2M116.1 320.8h2.6M126.4 321.3h3.5M130.9 321.3h3M142 320.8h8.1M158.1 320.8h5.3M164.4 320.8h5.3M170.7 321.3h6.9M181 320.3h8.2M200.3 320.8h4.7M208.8 320.8h5.4M215.1 321.3h6M222.2 320.8h4.6M227.7 320.3h3.4M239.7 321.3h2.3M242.9 320.8h5.6M249.6 320.8h5.3M258.8 320.8h8.5M272.5 320.8h2.5M276 320.3h2.2M279.2 320.8h6.7M289.4 320.8h8.6M303.3 320.8h7.7M316.8 320.3h2.3M320.1 320.8h5.8M326.9 320.8h3.7M331.6 320.8h4.4M50.2 326.7h7.8M58.9 326.7h6.9M73.8 326.7h2.3M85.4 326.7h6.8M96.5 327.2h7.5M105.1 326.2h4.4M123.1 326.7h4.7M133.6 326.7h3.1M137.7 326.7h8.5M147.3 326.2h8.7M163.5 326.2h4.8M169.3 326.7h8.6M181.9 327.2h7.7M195.3 326.7h8.4M204.8 327.2h5.5M215.2 326.2h7.6M234.6 326.2h7.7M247.6 326.7h8.1M261.9 326.7h5.9M268.7 326.7h2.5M277.9 327.2h7.2M286.1 326.2h5.7M296.6 326.2h7.1M304.8 327.2h8.6M323.2 326.7h8.7M332.9 326.7h2M50.5 342.2h5.8M57.3 341.2h8.2M68.7 342.2h4.2M81.6 341.2h7.9M98.4 342.2h2.2M108.5 341.7h6.1M115.6 341.7h7.9M130.5 341.7h4.2M143.9 341.7h2.1M147 341.2h4.3M152.3 341.7h5M158.3 341.2h2M176.2 341.2h6.5M187.7 341.7h5.7M194.4 341.7h5.6M201 341.7h4M212.5 341.2h3.6M217.1 341.2h8M233 341.7h8.2M242.3 342.2h3.3M280.3 341.7h8.2M294 341.7h4.8M304.3 341.7h5.1M324.2 341.7h8.1M54.5 335.8h4.4M71.3 335.8h4.8M127.3 336.3h5.8M136.4 336.3h4.7M145.2 335.8h4.8M153.8 335.8h2.5M159.1 335.8h4.7M223.3 335.8h3.8M228 335.8h5.6M234.7 335.8h3.1M251.2 335.8h3.7M255.9 335.3h9M269.8 335.3h3.2M287 335.8h3.6M323.9 335.3h4.2M333.3 335.8h2.7M47.4 283.2h2.6M51 283.2h6M62.6 282.7h5.4M71.3 282.7h3.3M77.3 283.2h4.3M84.4 282.2h6.9M100.1 282.7h2.2M109.1 282.7h4.3M182.7 283.2h2.9M191.5 282.7h8.1M202.7 282.7h7.3M233.9 282.2h3M276.1 283.2h2.5M282.8 282.7h6.5M314.1 282.2h5.7"/><path stroke="#7a7c84" stroke-width="0.8" fill="none" d="M329.7 205.9v3M133.6 207.6v3M261 207.6v3M263.5 207.6v3M116.2 209.8v3M332.6 209.2v3M157.1 212.1v3M185.5 212.7v3M214 212.1v3M222.6 212.1v3M246.9 212.7v3M251.6 211.5v3M275.5 212.1v3M304.7 212.1v3M133.5 214.3v3M176.4 214.3v3M156.5 217.2v3M231.7 217.2v3M296.8 216.6v3M328.1 216.6v3M276.7 221.1v3M144 222.7v3M203.5 223.3v3M108.2 225v3M144.7 225.6v3M263.6 227.2v3M278.7 227.8v3M251.5 231.7v3M242.5 234.6v3M244.2 237.4v3M249.6 238.5v3M319.8 239.1v3M162.4 241.3v3M178.3 241.3v3M195.1 241.3v3M203.1 241.3v3M279.4 240.7v3M129.3 244.2v3M324.3 243.6v3M138 245.8v3M198.8 245.8v3M280.3 245.8v3M294.7 245.8v3M302.8 246.4v3M326.5 246.4v3M52.6 248.1v3M181.4 247.5v3M238.8 248.1v3M286.2 248.1v3M318.6 247.5v3M84.6 250.9v3M106.8 250.3v3M304.9 250.3v3M333.8 250.3v3M69.6 253.2v3M177.8 252v3M247.8 252v3M330.3 254.8v3M68.3 257.1v3M203.3 257.1v3M102.6 259.3v3M237.7 259.3v3M275.5 259.3v3M53.1 261.6v3M94.3 261.6v3M203.6 261.6v3M331.2 261.6v3M301.5 263.8v3M49.8 266.1v3M128.2 266.7v3M137.4 266.1v3M101.6 268.3v3M149.9 267.7v3M201.3 268.3v3M271.1 268.3v3M317.8 268.9v3M164.4 271.2v3M204.4 270.6v3M254.5 272.8v3M275.7 272.8v3M327.3 272.2v3M179.8 274.4v3M99.6 276.7v3M91.3 279.6v3M129.5 279.6v3M303.3 279.6v3M333.5 279.6v3M104.3 281.2v3M173.8 281.8v3M187.9 281.2v3M216.7 281.2v3M243.1 281.8v3M334.7 281.2v3M179.7 284.1v3M318.4 284.1v3M56 286.3v3M240.3 286.3v3M266.5 285.7v3M79 288.6v3M169.5 288.6v3M274.6 288.6v3M141.1 293.1v3M142.9 293.1v3M200.3 293.7v3M251.1 293.1v3M240.6 297.6v3M79.2 302.7v3M225.3 302.1v3M286.5 302.1v3M335.9 301.4v3M99.9 303.7v3M171.8 306.6v3M216.7 307.2v3M269.3 307.2v3M325.4 307.2v3M94.8 311.1v3M261.7 311.7v3M285.9 310.4v3M293.6 311.7v3M89.6 313.3v3M265 313.3v3M68.4 317.8v3M86.5 318.4v3M140.2 317.8v3M266.4 317.8v3M84.2 320.1v3M216.7 319.4v3M221.7 322.9v3M290.1 322.3v3M88.3 327.4v3M325.6 326.8v3M79.1 329.1v3M84.9 329.1v3M158.2 328.4v3M209.3 329.1v3M242.8 329.1v3M187.2 331.3v3M292.3 333.6v3M116.9 335.8v3M165.2 335.8v3M201.6 336.4v3M238.9 335.8v3M124.7 338.1v3M318.9 337.4v3M70.7 340.9v3M296.7 340.3v3"/><text x="387.1" y="20.8" font-size="27" textLength="18.9" lengthAdjust="spacingAndGlyphs" font-weight="bold" fill="#1a1a1a" stroke="#1a1a1a" stroke-width="0.6">b</text><text x="571.6" y="14.2" font-size="18.2" textLength="72.1" lengthAdjust="spacingAndGlyphs">MARBLE</text><text x="543.2" y="35.5" font-size="18.6" textLength="129.3" lengthAdjust="spacingAndGlyphs">(unsupervised)</text><text x="791.9" y="14" font-size="18.2" textLength="104.8" lengthAdjust="spacingAndGlyphs">CEBRA-time</text><text x="771.8" y="35.6" font-size="18.6" textLength="145.2" lengthAdjust="spacingAndGlyphs">(self-supervised)</text><text x="1009.1" y="14" font-size="18.2" textLength="140.9" lengthAdjust="spacingAndGlyphs">CEBRA-behavior</text><text x="1026.3" y="35.6" font-size="18.6" textLength="108.2" lengthAdjust="spacingAndGlyphs">(supervised)</text><text x="744.4" y="69.8" font-size="18.5" textLength="196.3" lengthAdjust="spacingAndGlyphs">Latent representations</text><path fill="none" stroke="#1e1c1d" stroke-width="1.4" d="M481.8 216.3V270.2H531.4M481.8 270.2L510.5 243.2"/><text x="474.9" y="205.9" font-size="17" textLength="7.5" lengthAdjust="spacingAndGlyphs" font-style="italic">z</text><text x="483.6" y="211.3" font-size="14.5" textLength="7.3" lengthAdjust="spacingAndGlyphs">2</text><text x="516.1" y="237.6" font-size="17" textLength="7.4" lengthAdjust="spacingAndGlyphs" font-style="italic">z</text><text x="524.9" y="243.2" font-size="14.5" textLength="7.9" lengthAdjust="spacingAndGlyphs">3</text><text x="540.3" y="274.6" font-size="17" textLength="8.2" lengthAdjust="spacingAndGlyphs" font-style="italic">z</text><text x="549" y="280" font-size="14.5" textLength="4.4" lengthAdjust="spacingAndGlyphs">1</text><path d="M719 280.4L719.6 278L721 277.6L725 279.6L725 280.4Z" fill="#111"/><path fill="none" stroke="#6c609c" stroke-width="3.4" stroke-opacity="0.85" stroke-linecap="round" d="M519.5 150.9h0M523.1 145.8h0M527.1 140.1h0M530.6 135.2h0M534.9 130.1h0M538.8 125.2h0M543.5 120.2h0M547.6 115.5h0M553.1 111.1h0M557.5 106.5h0M562.7 103.1h0M568.1 99.8h0M574.5 97.2h0M580.4 95.6h0M587 94.9h0M593.7 94.8h0M599.8 95.2h0M606.2 96.6h0M612.8 98.9h0M618.1 102.4h0M621.7 107.9h0M621.8 113.6h0"/><path fill="none" stroke="#7860a8" stroke-width="3.2" stroke-opacity="0.7" stroke-linecap="round" d="M525 155.9h0M528.3 150.9h0M531.2 145.5h0M534.8 140.3h0M538.1 136h0M542.4 131.8h0M547.7 128.2h0M552.7 125h0M558 122h0M563.5 120.4h0M569 118.3h0M575.2 117h0M580.6 115h0M586.7 113.7h0"/><path fill="none" stroke="#6c6090" stroke-width="3.4" stroke-opacity="0.8" stroke-linecap="round" d="M569 152.4h0M574.1 153.7h0M579.6 155.2h0M584.8 156.7h0M589.5 159.6h0M594.4 161.4h0"/><path fill="none" stroke="#3c6c90" stroke-width="3.4" stroke-opacity="0.9" stroke-linecap="round" d="M594.8 162.7h0M596.3 162.9h0M597.4 163.3h0M598.3 163.9h0M599.5 164.4h0M600.6 165.1h0M601.3 165.8h0M601.1 167.3h0M600 168.3h0M599.1 169.1h0M598.3 170h0M597.6 170.6h0M596.5 171.4h0M595.6 172.6h0"/><path fill="none" stroke="#60909c" stroke-width="3.4" stroke-opacity="0.8" stroke-linecap="round" d="M600.9 172.3h0M606.6 172.5h0M612.2 171.5h0M617.6 171.5h0M623 171.1h0M628.8 170.9h0M634.4 170.4h0M640.3 169.5h0M645.6 168.9h0M650.9 168.2h0M656.9 167.8h0M662.3 168.2h0M668.4 168.3h0M673.6 169h0M679.1 169.8h0M684.4 170.9h0M690.2 172.1h0M695.6 173.9h0M700.7 175.4h0"/><path fill="none" stroke="#9cd8b4" stroke-width="3.6" stroke-opacity="0.9" stroke-linecap="round" d="M530.1 202.6h0M539.1 204.8h0M548.6 206.2h0M557.9 207.3h0M567.6 207.8h0M577.2 207.5h0M586.8 206.9h0M596.1 206.2h0M605.4 205.2h0M614.7 203.5h0M624 201.7h0M633.5 199.4h0M642.3 197.3h0M651.8 194.7h0M660.7 192h0M669.9 188.9h0M678.9 186.8h0M687.8 183.6h0"/><path fill="none" stroke="#48b490" stroke-width="3.2" stroke-opacity="0.9" stroke-linecap="round" d="M523.2 197.8h0M523.6 198.9h0M524.4 199.6h0M525 200.4h0M525.8 200.9h0M526.3 201.7h0M527.5 202.2h0M528.1 202.6h0M529.1 202.9h0M530.2 203.1h0M531.1 203.4h0M532.1 203.4h0M533.1 203.7h0"/><path fill="none" stroke="#c48cd6" stroke-width="3.6" stroke-opacity="0.9" stroke-linecap="round" d="M582 241.5h0M600 244.2h0M611.5 244.6h0M623 244.2h0M632 242h0M572 238h0"/><path fill="none" stroke="#90d8c0" stroke-width="3.2" stroke-opacity="0.7" stroke-linecap="round" d="M548.5 247.6h0M551.9 248.1h0M556.6 250.7h0M559.3 252h0M564.3 252.8h0M567.1 253.9h0M571.1 254.6h0M575.2 255.4h0M579.4 257.4h0M582.9 257.3h0M587.8 256.4h0M591.4 257.6h0M595.2 258.1h0M599.1 258.1h0M603.2 258h0M607 259.1h0M611.3 257.7h0M616.1 258.7h0M619.2 257.7h0M623 258.2h0M627.2 257h0M631.6 256.7h0M635.2 257h0M639.5 256h0M643.2 255.2h0M646.9 254.2h0M651.2 252.6h0M654.2 251.9h0M658.4 250.8h0M662 249.4h0M666.4 248.6h0M670.4 246.2h0M673.8 244.1h0M677.3 242.6h0M680.9 240.8h0M683.7 238.4h0M687.7 236.6h0M690.7 234.4h0M692.6 231.7h0M696.1 228.8h0M550.3 250h0M553.9 252.1h0M556.9 253.9h0M561.2 255.8h0M565.5 255.6h0M569.1 257.4h0M573 258.1h0M577.8 258.4h0M581.3 259h0M586 259.9h0M588.9 259.6h0M592.7 260.4h0M597.2 260.7h0M601.2 260.8h0M604.9 260.1h0M609.6 260.8h0M612.9 260.6h0M617.7 260.9h0M621.7 260.4h0M625.1 260.1h0M629.6 259.4h0M634.5 259.6h0M637.4 258.2h0M641.6 256.9h0M645.6 256.7h0M649.8 255.5h0M654 254.7h0M657 253.4h0M661.7 252.8h0M665 250.8h0M669.4 248.6h0M673.2 247.1h0M676.5 246.3h0M680.3 243.5h0M684.4 241.2h0M686.3 240.4h0M691.1 237.2h0M694.1 234.8h0M696.3 231.4h0M699.6 228.3h0M547.3 251.7h0M550.5 253.2h0M554.6 254.9h0M558 255.8h0M562.1 257.6h0M566.3 259.4h0M570.4 260.6h0M574.5 260.5h0M578.5 261.5h0M582.1 262.1h0M587.2 262.4h0M590.7 262.7h0M595.2 262.6h0M599.2 262.7h0M603.1 263.3h0M606.4 263.4h0M611.1 262.5h0M614.9 262.9h0M618.9 263.1h0M623 262.7h0M627.1 262.2h0M632.4 262h0M635.1 260.8h0M639.7 259.8h0M644.2 259.6h0M647.8 258.8h0M651.6 257.3h0M654.5 256h0M659.9 255.6h0M663.7 253.2h0M667.5 252.5h0M670.9 251.3h0M674.7 249h0M678.4 247.5h0M682 244.9h0M686.5 242.7h0M689.5 241.2h0M693.4 237.6h0M696.8 235.2h0M700 231.8h0"/><path fill="none" stroke="#84c0f0" stroke-width="3.2" stroke-opacity="0.75" stroke-linecap="round" d="M524.1 170.3h0M527.5 168.3h0M530 166.3h0M532.9 164.2h0M536 162.5h0M538.9 160.3h0M542.1 158.8h0M545.3 157.6h0M548.8 156.9h0M552.6 155.9h0M555.3 154.7h0M559.1 153.2h0M562.6 152.4h0M565.1 150.9h0M567.7 149.6h0M571.4 148.4h0M574.6 146.3h0M577.7 145.4h0M580.9 143.3h0M584.2 142.2h0M587.7 141h0M590.8 139.9h0M594.5 139.6h0M597.7 138.4h0M601.1 137.7h0M604.8 136.7h0M608 136.5h0M611.7 135.7h0M615.2 135.3h0M618.6 134.1h0M525.8 172.3h0M528.5 170.5h0M531.9 168.7h0M534.5 166.4h0M537.5 165.1h0M540.6 163.2h0M543 161.5h0M546.1 160.6h0M550.1 159.6h0M552.9 159.1h0M556.2 157.9h0M560.2 156.4h0M563.7 154.8h0M566.4 153.7h0M570 152.2h0M573.6 150.6h0M576.2 148.8h0M579.5 147.9h0M582.2 145.9h0M585.1 145.4h0M589 144h0M592.2 143.1h0M595.4 141.6h0M598.8 141.5h0M602.3 140.9h0M605.2 140h0M608.4 139.7h0M611.8 138.8h0M615.4 137.7h0M618.9 137.1h0"/><path fill="none" stroke="#84ccf0" stroke-width="3.2" stroke-opacity="0.6" stroke-linecap="round" d="M560.2 115.3h0M550.3 125.4h0M600.3 107h0M613.1 119.2h0M620.3 109.9h0M600.3 106.4h0M567.9 113.8h0M607.8 112.6h0M611 99.6h0M560 121.9h0M562.3 118.8h0M617.5 108.9h0M601.1 109.8h0M577.3 106.6h0M598.6 108.6h0M599.9 112.6h0M582.8 112.5h0M602.5 105.2h0M597.3 111.3h0M587.6 100h0M599.8 101.3h0M587.9 113.1h0M578.5 121.4h0M550.4 122.6h0M548.5 117.7h0M618.8 101.8h0M571.3 116.9h0M572.2 113.8h0M579.2 115.7h0M614.3 94.3h0M619.6 103.1h0M558.4 117.4h0M553.6 106.7h0M558 124.5h0M553.6 116.3h0M547.4 117.1h0M592.6 111.4h0M598.9 113.6h0M585.3 112h0M561.8 116.6h0M618.9 101.9h0M581.9 108.6h0M615.1 100.7h0"/><path fill="none" stroke="#90d8f0" stroke-width="3.2" stroke-opacity="0.6" stroke-linecap="round" d="M562.8 113.2h0M574.6 108.5h0M578.4 109.1h0M576.1 112.9h0M612.3 101.5h0M580.3 105h0M602.9 108.6h0M555.1 116.1h0M554.3 126.5h0M573.9 116.3h0M599.3 107.7h0M608 106.8h0M561.1 114.9h0M588.8 105.9h0M553.1 113.4h0M586.6 107.3h0M564 120.8h0M602.8 111.9h0M582.8 120.2h0M566.3 112.2h0M621.4 102.4h0M581.9 115.4h0M583.2 104.7h0M619 105.1h0M564 115.3h0M573.3 116.1h0M582.3 114.1h0M554.8 115h0M557.7 122.6h0"/><path fill="none" stroke="#78ccf0" stroke-width="3.2" stroke-opacity="0.6" stroke-linecap="round" d="M597.4 114.4h0M593.1 104.3h0M576.7 112.3h0M616.5 95.6h0M553.7 116.2h0M617 106.4h0M553.2 115.8h0M620.1 101.5h0M614.2 99.2h0M591.5 108.9h0M557.1 114.7h0M610.5 104.5h0M558.5 112.4h0M586.3 114.4h0M609.6 110.9h0M549.4 125.2h0M582.9 108.4h0M608.6 111.8h0M587.6 106.4h0M583.3 111.2h0M554.9 114.1h0M606.9 101.8h0M612 110.3h0M591.1 110.3h0M592.7 118.7h0M566.9 116.4h0M616.7 105.9h0M563.8 109.7h0M609.2 111.2h0M578.8 108.4h0M591.4 107.2h0M606.6 104.4h0M623.8 105.6h0M566.3 118.1h0M618.7 105h0M570.4 110.8h0M616.2 115.6h0M594.1 102.9h0"/><path fill="none" stroke="#54c0f0" stroke-width="3.2" stroke-opacity="0.6" stroke-linecap="round" d="M598.4 102.5h0M626.2 109.2h0M597.3 108.4h0M552.8 112.3h0M594.2 108.1h0M587.1 104.9h0M603.5 110h0M604 109.6h0M603.3 111.7h0M553.3 122.6h0M614.5 106.1h0M603 113h0M547.9 117.1h0M555.6 119.6h0M553.2 122.9h0M553.6 117.1h0M580.6 111.7h0M561.8 113.1h0M570.2 106.5h0M615.2 103.3h0M574.2 117.6h0M588.6 110.2h0M565.7 108.8h0M566.1 115.4h0"/><path fill="none" stroke="#60ccf0" stroke-width="3.2" stroke-opacity="0.6" stroke-linecap="round" d="M593.7 112.4h0M598.7 110.1h0M615.5 109.4h0M566.4 118.4h0M558.5 115.1h0M590.7 112.1h0M608.5 102.5h0M597.3 113.5h0M572.5 110.6h0M557.3 112h0M579.1 111.5h0M608.5 98.3h0M577.4 111.2h0M615.5 108.9h0M571.9 116.5h0M571.7 113.6h0M586.9 108.4h0M568.4 115.6h0M548.4 122.3h0M559.7 111.4h0M578.9 116.6h0M590.8 105.6h0M555.7 114h0M583 109.7h0M611.4 100.1h0M556.8 122.1h0M549.2 117.8h0M589.2 120.4h0M622.6 104.6h0M564.4 114.6h0M570.9 111h0M591.3 104h0"/><path fill="none" stroke="#54ccf0" stroke-width="3.2" stroke-opacity="0.6" stroke-linecap="round" d="M592.8 102.4h0M553.9 121.4h0M570.4 117.5h0M618.7 102.1h0M615.7 112h0M574.5 107.7h0M586.2 112.1h0M590.3 110.2h0"/><path fill="none" stroke="#6cccf0" stroke-width="3.2" stroke-opacity="0.6" stroke-linecap="round" d="M594.4 107.3h0M581.1 110.4h0M608.4 111.4h0M570.4 117.3h0M564.2 104.6h0M568.2 110.1h0M586.5 106h0M573.7 115.9h0M572.6 115.9h0M589 107.3h0M589.2 105.9h0M616.4 106.8h0M571.3 116.4h0M595.4 106.7h0M564.5 118.8h0M596.1 108.3h0M569.3 115.8h0M561.8 112.4h0M612.5 110.6h0M561.4 116.1h0M597.9 115.5h0M607.6 102h0M573.5 106.4h0M550.9 114.3h0M604.5 112.3h0M587.3 111.2h0M594 109.5h0M605.4 111.9h0M612.8 107.7h0M577.2 109.5h0M559.8 111.9h0M610.7 102.2h0M585.2 116.3h0M595 105.9h0"/><path fill="none" stroke="#9cd8f0" stroke-width="3.2" stroke-opacity="0.6" stroke-linecap="round" d="M558.7 117.9h0M616.9 104.9h0M597 108.5h0M551.7 121.5h0M575.7 117.8h0"/><path fill="none" stroke="#48c0f0" stroke-width="3.2" stroke-opacity="0.6" stroke-linecap="round" d="M576.2 118.4h0M598.8 111.7h0M545.4 118.5h0M584.2 106.8h0M606.1 103.3h0M566 118.6h0M562.9 116.1h0"/><path fill="none" stroke="#6cc0f0" stroke-width="3.0" stroke-opacity="0.6" stroke-linecap="round" d="M535.1 128.1h0M537.2 126.3h0M539.6 125.6h0M541.6 123.8h0M543.9 122.7h0M545.8 121.2h0M548.2 120.4h0M550.2 118.6h0M552.8 117.9h0M554.8 116.9h0M557.7 116.2h0M559.6 115.2h0M561.8 114h0M563.7 113.7h0M566.3 112.5h0M567.9 111.6h0M571.5 110.4h0M573.7 110.4h0M576 109.7h0M578.7 109h0M580.3 108.2h0M582.8 108h0M585.9 107.4h0M588.1 106.3h0M590.8 106.6h0M592.6 106h0M595.2 105.5h0M598.2 104.7h0M600.7 103.8h0M602.1 103.9h0M605.8 102.9h0M607.8 102.8h0M610.1 102.2h0M613 102.1h0M615.4 101.6h0M618 100.6h0M620.2 100.9h0M534.5 125h0M535.9 124.1h0M537.8 122.5h0M540.1 121.4h0M541.9 119.8h0M544.5 118.5h0M547 117h0M548.6 116.4h0M551.3 114.9h0M554 113.9h0M555.5 113h0M558.7 112.2h0M561.3 111.4h0M563.4 111h0M565.5 108.7h0M568.2 109.2h0M570.6 107.9h0M573.1 107.9h0M575.4 106.5h0M577.7 106.2h0M579.8 105.8h0M582.2 105.4h0M584.9 104.5h0M587.7 103h0M590.2 102.8h0M592.4 102.6h0M594.4 101.8h0M597.5 101.7h0M600.2 101.1h0M601.5 100.6h0M604.6 99.5h0M607.5 100h0M609.9 99.2h0M612.1 98.8h0M615.1 98.7h0M617.4 98.2h0M619.6 97.8h0"/><path fill="none" stroke="#6c90d8" stroke-width="3.2" stroke-opacity="0.8" stroke-linecap="round" d="M648.6 142.2h0M650.1 142.8h0M651.1 143.7h0M652.2 144.9h0M653.8 145.4h0M655.2 146.2h0M656.2 146.3h0M657.5 147.5h0M658.8 148.2h0M660 149.5h0M660.3 151.1h0M660.2 152.3h0M660 153.7h0M659.8 155.4h0M659.6 156.6h0M658.8 158.3h0M658 159.1h0M656.9 160.5h0M655.1 159.8h0M653.6 159h0M651.9 158.5h0M651.1 157.9h0M649.6 156.8h0M648.9 156.1h0"/><path fill="none" stroke="#3cc0f0" stroke-width="3.4" stroke-opacity="0.72" stroke-linecap="round" d="M630.6 95.8h0M629.7 97.2h0M629.7 98.5h0M629.9 99.3h0M629.7 100.4h0M628.5 102h0M628.9 103.1h0M628.4 104.3h0M631.2 95.8h0M631 96.9h0M630.7 98.2h0M630.5 99.6h0M630.1 100.7h0M629.9 101.6h0M630 102.9h0M629.8 103.8h0M632 95.4h0M632.8 96.7h0M631.7 98.4h0M631.5 99h0M630.7 101.2h0M631.2 101.5h0M630.5 102.8h0M630.7 104.5h0M633 95.8h0M632.7 97.3h0M632.5 98.4h0M632.5 99.6h0M632.9 101.1h0M631.6 102.6h0M631.9 103.4h0M631.9 104h0M634 95.9h0M634 97.3h0M633.5 98.6h0M633.7 99.6h0M633 100.3h0M633.2 101.5h0M633.3 103.3h0M632.5 105h0M635.3 96.1h0M635.4 97.4h0M634.5 98.6h0M634.9 99.7h0M634.4 100h0M634.2 102.3h0M633.7 103h0M633.6 104.2h0M636 96.3h0M636.7 97.1h0M635.9 98.5h0M635.7 99.8h0M635.7 101.3h0M635 102.1h0M635.3 103.5h0M635.2 103.9h0M637.7 95.3h0M637.3 97.3h0M637 98.1h0M637.1 99.6h0M636.3 100.7h0M636.3 101.4h0M635.7 103h0M635.6 104.5h0M638.3 95.8h0M638.3 97.1h0M638.2 98.3h0M637.9 99.4h0M638.4 100.5h0M636.8 101.9h0M636.9 103.2h0M639.4 96h0M640.2 97.1h0M638.8 98.4h0M639 100.3h0M638.7 100.7h0M638.6 102h0M638.3 103.7h0M640.7 95.8h0M640.3 97.2h0M640.6 98.3h0M639.8 99.5h0M639.8 101.1h0M639.6 102.1h0M639.4 103.1h0M642.1 96h0M641.9 97.4h0M641.5 98h0M641 99.5h0M640.2 101.1h0M640.4 101.7h0M640.1 103.3h0M643.2 96.2h0M642.3 97h0M642.4 98h0M642.6 99.9h0M641.7 100.7h0M641.1 101.8h0M641.5 103.3h0M644.1 95.8h0M643.6 96.9h0M643.6 98h0M643 99.6h0M643.3 100.7h0M642.3 101.8h0M642.1 103.1h0M644.5 96.2h0M645.2 97.9h0M644.6 98.3h0M644.1 100.2h0M643.7 101.4h0M643.6 102h0M643.6 102.8h0"/><path fill="none" stroke="#3cb4f0" stroke-width="3.4" stroke-opacity="0.72" stroke-linecap="round" d="M628.1 105.8h0M628.2 106.8h0M628.2 108h0M627.9 108.7h0M627.4 109.7h0M628.9 105.9h0M628.7 106.3h0M628.8 107.9h0M628.3 108.9h0M627.7 110.6h0M630.3 105h0M629.7 106.5h0M630.1 107.7h0M630.3 109.3h0M629.7 110.6h0M631.2 104.9h0M631 106.8h0M631.7 107.8h0M630.3 108.7h0M632.6 106.1h0M632.1 106.4h0M632 107.7h0M631.8 109.5h0M633.8 105.3h0M633.9 106.2h0M632.9 107.9h0M632.7 109.8h0M634.5 105.8h0M634.6 106.8h0M634.4 108.1h0M633.8 108.6h0M635.4 105.9h0M635.4 107h0M634.8 107.8h0M635.5 109.3h0M636.8 103.8h0M636.5 105.1h0M636.8 106.4h0M636.3 108.4h0M636 108.5h0M638.1 104.7h0M637.3 105h0M638.3 106.6h0M637.1 107.8h0M637.2 108.4h0M638.7 104.1h0M638.7 105.7h0M638.8 106.7h0M638.4 107.3h0M638.2 108.7h0M640.4 104.5h0M640.2 104.9h0M639.7 106.5h0M639.3 107.3h0M639.2 109h0M641.5 103.9h0M641 104.9h0M640.3 106h0M640.4 107.3h0M639.8 108.8h0M641.8 104.3h0M641.8 105.9h0M642.1 106.6h0M641.9 107.8h0M640.6 109.3h0M643.7 103.9h0M642.7 104.7h0M642.6 106.9h0M642.4 107.6h0M642.4 109h0"/><path fill="none" stroke="#48b4f0" stroke-width="3.4" stroke-opacity="0.72" stroke-linecap="round" d="M627.6 110.8h0M627.2 112.6h0M627.3 114h0M626.8 115.4h0M626.7 116.2h0M628.8 112.1h0M628.2 112.5h0M628 113.7h0M627.7 115h0M628.2 115.4h0M629 111.3h0M629.1 112.3h0M628.6 113.3h0M629.4 114.6h0M629.1 115.9h0M631.4 110.1h0M630.4 111.3h0M630.1 112.4h0M630.4 113.8h0M630 115.2h0M632.2 110.3h0M632.3 110.9h0M631.5 111.9h0M631.2 114.1h0M631.3 115.1h0M633 110.3h0M632.6 111.7h0M632.9 112.5h0M632.9 113.5h0M632.7 115h0M633.8 109.5h0M633.7 111h0M633.3 112.2h0M633.3 113.2h0M633.6 114.6h0M634.8 110.4h0M634.9 110.7h0M634.1 112.1h0M634.7 113.8h0M635 114.6h0M636.2 110.2h0M636 112.2h0M635.9 112.4h0M635.4 113.9h0M636 115.5h0M636.6 110.6h0M636.4 111.5h0M636.1 112.7h0M636.8 113.4h0M637.2 114.6h0M638.9 110h0M638.1 111.6h0M637.9 112.4h0M637.2 113.5h0M638.1 115.1h0M639.3 110.2h0M638.6 111.3h0M639.3 112.9h0M638.6 113.5h0M639.2 114.9h0M640.3 110.3h0M640.1 111.4h0M639.7 112.5h0M639.8 114.1h0M640.3 115.2h0M641.1 109.7h0M641.3 111.6h0M640.9 112.9h0M641.3 113.6h0M640.8 114.9h0M642.1 110.4h0M642.3 111.2h0M641.8 112.3h0M641.7 113.6h0M641.9 114.9h0"/><path fill="none" stroke="#48b4e4" stroke-width="3.4" stroke-opacity="0.72" stroke-linecap="round" d="M627.3 117.9h0M627.6 118.5h0M628.7 117.7h0M628.3 118.5h0M629.2 117.3h0M628.6 118.3h0M631 115.4h0M630.5 117.2h0M630.5 118.3h0M631.4 116.2h0M631.4 117.7h0M632.2 116.3h0M632.4 117.6h0M633.5 115.8h0M633.7 117h0M634.3 117h0M634.6 116.6h0M635.7 116.7h0M635.2 117.4h0M636.5 115.6h0M636.3 117.5h0M638.1 115.8h0M638.3 116.9h0M638.6 115.6h0M639 117h0M640.2 116h0M639.9 117.5h0M640.9 116.3h0M641.2 117.8h0M641.5 116.2h0M642.5 117.1h0"/><path fill="none" stroke="#48a8e4" stroke-width="3.4" stroke-opacity="0.72" stroke-linecap="round" d="M627.4 120.2h0M627.3 120.5h0M626.7 121.6h0M628.5 119.9h0M628.4 121h0M628.1 122.1h0M629.6 119.5h0M628.8 120.9h0M629.4 121.8h0M630 120.1h0M630.9 121.1h0M630.9 122.3h0M631.1 118.8h0M631.6 119.5h0M630.9 121.1h0M631.1 122.3h0M632.8 118.2h0M632.2 119.8h0M632.4 120.7h0M633.6 118.4h0M633.7 119.7h0M634.3 120.9h0M634.1 119h0M635 119.8h0M635.9 120.7h0M635.9 118.2h0M636 120h0M636.1 120.8h0M636.9 118h0M636.9 119.7h0M636.8 120.8h0M637.7 118.5h0M638.3 119h0M638.1 120.3h0M639.2 118.4h0M639 119.5h0M639.5 120.8h0M639.7 119.1h0M640.7 119.2h0M640.4 120.8h0M640.8 118.5h0M641.5 119.8h0M641.7 120.6h0M642.1 118h0M642.7 120.2h0"/><path fill="none" stroke="#54a8e4" stroke-width="3.4" stroke-opacity="0.72" stroke-linecap="round" d="M626.8 123.4h0M627.7 125.1h0M627.4 125.6h0M627.3 126.5h0M627.6 128.2h0M627.8 128.2h0M628.2 123.2h0M628.3 124.1h0M629.2 126h0M629.8 126.4h0M629.6 128.2h0M629.1 129.6h0M629.3 123.1h0M629.8 124.6h0M630 126h0M630.4 127.4h0M630.1 127.8h0M630.6 129.6h0M630.6 123.2h0M630.5 124.2h0M630.6 126.2h0M631.1 127.1h0M631.1 128.3h0M631.7 129h0M632.5 123.2h0M631.8 125.2h0M632.3 125.6h0M632.6 127.3h0M632.4 127.9h0M633.2 129.2h0M632.9 122.2h0M633.1 122.8h0M632.9 124.2h0M633.2 125.6h0M633 126.4h0M633.4 127.8h0M633.7 128.6h0M634.1 122.3h0M634 123.7h0M634.2 124.7h0M633.8 125.6h0M634.5 127h0M634.9 128.1h0M635.2 122.3h0M635 124h0M634.4 124.6h0M635.6 125.5h0M635.6 126.9h0M636.2 128.3h0M636.2 122.3h0M636.7 123.7h0M636.6 124.8h0M636.7 126h0M636.9 127.8h0M636.9 128.8h0M637.1 122.4h0M637 123.4h0M637.8 123.9h0M637.3 126.1h0M638 127.3h0M638.3 127.6h0M638.3 121.7h0M638.5 123.5h0M638.3 124.2h0M639.4 125.3h0M639.3 126.5h0M639.8 128.3h0M640 121.7h0M640 123.6h0M640 123.9h0M640.1 125.6h0M640.6 126.6h0M641 128.5h0M640.3 122.2h0M640.7 124h0M640.9 123.9h0M641.6 125.9h0M641.9 126.5h0M641.9 127.9h0M642.1 122.1h0M641.8 123.4h0M641.9 123.9h0M642.6 124.9h0M642.6 126.2h0M642.7 120.4h0M642.2 121.9h0M643.8 123.1h0M643.6 124.1h0M644.3 125.9h0M643.9 126h0"/><path fill="none" stroke="#549ce4" stroke-width="3.4" stroke-opacity="0.72" stroke-linecap="round" d="M628.6 130.4h0M628.2 131.7h0M629.1 133.2h0M629 134.4h0M629.4 130.5h0M629.6 131.5h0M630.1 132.7h0M630 133.7h0M631.1 130h0M630.8 131.3h0M631.4 132.4h0M631.1 134.6h0M631.4 130.8h0M631.8 131.7h0M632.6 133h0M633.4 130.4h0M633.3 131.4h0M633.8 132.4h0M634.1 130.5h0M634.2 131.2h0M634.9 132.7h0M635.7 129.1h0M635.5 131.1h0M636.6 131.6h0M636.3 132.7h0M635.4 128.8h0M636.8 130h0M636.7 131.7h0M637.2 133.2h0M637 129.4h0M637.8 130.3h0M638.2 131.6h0M638.9 132.4h0M638.5 128.4h0M639 129.9h0M639.8 131.8h0M639.7 129.3h0M639.9 130h0M640.9 132.1h0M641 129.2h0M642 130.8h0M642 131.5h0M642.1 128.8h0M642.3 129.9h0M642.8 131.1h0M643.2 127.8h0M643.3 129.5h0M644.4 129.8h0M644.3 131.3h0M644.6 128.5h0M644.6 129.4h0M645.5 130.4h0M645.3 131.2h0"/><path fill="none" stroke="#609ce4" stroke-width="3.4" stroke-opacity="0.72" stroke-linecap="round" d="M629.6 134.8h0M632.2 133.8h0M634.1 134.2h0M634.5 133.5h0M639.5 132.3h0M641 132h0M642.2 132h0"/><path fill="none" stroke="#609cd8" stroke-width="3.4" stroke-opacity="0.72" stroke-linecap="round" d="M630 136.3h0M630.2 137.6h0M630.4 138.3h0M631 140.2h0M630.8 135.2h0M630.6 136.3h0M631.5 137.5h0M631.8 139.2h0M632.6 140.1h0M631.8 135h0M632.6 136.4h0M632.7 137h0M632.9 138.5h0M633.2 139.4h0M633.5 135h0M632.9 136.2h0M633.6 137.4h0M634.1 137.8h0M634 134.4h0M634.8 135.4h0M635.2 136.9h0M636 139.1h0M636.1 135.1h0M635.6 135.6h0M636 137.1h0M637 138.1h0M637 134.1h0M636.9 135.3h0M637 136.4h0M638 136.7h0M638.3 138.4h0M637.4 134h0M638.1 135.1h0M638.7 136h0M639.6 137h0M639.1 133.5h0M639.5 134.7h0M639.3 135.9h0M640.4 136.7h0M640.3 133.7h0M640.8 134.9h0M641.6 135.9h0M642 136.7h0M642 133.8h0M642.2 134.7h0M642.7 135.8h0M642.8 136.9h0M643.2 133.8h0M642.9 134.7h0M643.7 135.6h0M644.4 137.3h0M643.6 132.3h0M644.3 133.6h0M644.8 134.9h0M644.9 135.8h0M646.1 136.5h0M644.9 132.1h0M645 133.5h0M646.1 134.1h0M646.9 135.2h0M647.1 136.2h0M646.3 132.2h0M646.3 132.8h0M647.4 134.3h0M647.8 135.6h0"/><path fill="none" stroke="#6090d8" stroke-width="3.4" stroke-opacity="0.72" stroke-linecap="round" d="M631.9 140.8h0M632.6 141.7h0M632 143h0M632.8 143.9h0M633.6 145.4h0M633.8 145.8h0M634.2 147.4h0M633.1 141.2h0M633.2 141.2h0M632.9 143.6h0M633.7 144.3h0M634.8 144.9h0M635.8 146.3h0M635.9 147.5h0M633.8 140.9h0M633.9 141.4h0M634.5 142.8h0M635 143.8h0M636.1 145h0M637.1 146h0M637.8 147.3h0M634.9 140.2h0M635.5 140.7h0M635.3 142.3h0M636 142.8h0M636.9 144.3h0M637.1 144.7h0M638.2 145.8h0M635.3 139.8h0M636.3 140h0M637 141.5h0M637.2 142.7h0M638.6 144h0M639 144.6h0M639.8 145.8h0M638 139.5h0M638.1 140.6h0M639.1 142h0M639.4 142.3h0M639.7 143.4h0M640.7 145h0M641 145.8h0M638.6 139h0M639.2 140.4h0M639.9 142.2h0M640.8 142.4h0M640.5 143.9h0M641.9 144.2h0M642.4 145.3h0M639.1 137.9h0M640.1 139h0M641.5 140.7h0M640.8 141.1h0M642.1 142.2h0M643.2 143.6h0M643.1 144h0M640.7 138.7h0M641.8 139.1h0M642.3 140.3h0M642.4 141.1h0M643.1 142.4h0M644 143.7h0M644.4 144.3h0M642.3 138h0M643 139.6h0M643.2 140h0M644.7 141.5h0M644.3 142h0M644.8 143h0M646.3 144.3h0M643.9 137.7h0M644.5 138.7h0M645.2 140.2h0M645.7 141.3h0M646.1 142.2h0M646.6 143.5h0M647.1 144.7h0M644.4 137.8h0M645.8 139h0M646.4 139.4h0M646.1 141h0M647.3 141.9h0M648.1 142.9h0M648.4 143.9h0M646.7 138.4h0M646.3 138.4h0M647.7 140.3h0M648.1 141.3h0M649.9 141.3h0M649.6 142.6h0M647.5 137.6h0M649 139.3h0M649.1 140h0M649.8 140.6h0M649.6 141.8h0M651.3 142.4h0M648.3 136.5h0M649.7 137.9h0M650.4 138.9h0M650.4 139.6h0M651.2 141.1h0M651.8 141.4h0M652.3 142.4h0"/><path fill="none" stroke="#6c90d8" stroke-width="3.4" stroke-opacity="0.72" stroke-linecap="round" d="M635.2 148.8h0M635.1 149.4h0M636.2 148.3h0M637.9 147.8h0M638.5 146.1h0M638.9 147.6h0M639.9 146.9h0M641.6 146.7h0M643.6 147.1h0M644.4 145.8h0M645.2 146.4h0M645.7 145.3h0M646.6 145.4h0M648.4 144.9h0M650 144.9h0M650.7 142.8h0M651 144.7h0M652.2 144.1h0M653.4 143.4h0"/><path fill="none" stroke="#6c84d8" stroke-width="3.4" stroke-opacity="0.72" stroke-linecap="round" d="M636.2 150h0M637.4 150.9h0M637 149.5h0M638.2 150.7h0M638.7 150.8h0M638.4 149.1h0M639.1 149.6h0M640 150.8h0M640.3 148.3h0M640.5 150.3h0M640.6 147.8h0M640.8 149.1h0M642.5 149.3h0M642.2 147.5h0M642.9 149h0M643.7 149.1h0M643.2 148.1h0M644.8 148.2h0M645.5 149.3h0M645.6 147.2h0M645.7 148.9h0M645.8 146.1h0M646.7 146.7h0M647.8 148.4h0M647.7 146.3h0M648.8 147.3h0M649.2 147.9h0M648.8 145.3h0M649.9 147h0M650.7 148.3h0M650.3 145.8h0M651.4 147.1h0M651.8 145.5h0M652.7 146.6h0M652.7 144.3h0M653.4 145.3h0M654.2 146h0M654.9 144.5h0M655.2 144.5h0M655.9 145.5h0"/><path fill="none" stroke="#6c84cc" stroke-width="3.4" stroke-opacity="0.88" stroke-linecap="round" d="M637.1 152.4h0M637.9 153.5h0M639.1 155h0M639.4 155.5h0M640 156.6h0M641 157.4h0M641.2 157.9h0M638.3 152.6h0M639.3 153.2h0M640.7 154.3h0M641.2 155.8h0M642.3 156.1h0M642.3 157.8h0M643.8 158.4h0M640.8 152h0M641.4 153.1h0M641.8 154.3h0M642.7 155.2h0M643 155.4h0M644.4 156.8h0M641.5 150.8h0M641.2 152.2h0M642.5 153.1h0M643.1 154.1h0M644.3 154.7h0M644.6 155.9h0M646.4 156.5h0M642.5 150.9h0M643.7 151.5h0M644.2 152.9h0M644.8 153.7h0M645.7 154.3h0M646.3 155.2h0M647 156.3h0M644.7 150.7h0M644.3 151.3h0M645.3 152.7h0M646.9 152.9h0M647.4 154.6h0M648.2 155.1h0M645.8 150.4h0M647.1 151.4h0M647.7 152.5h0M647.9 153.2h0M649 153.5h0M649.3 155.1h0M647 149.4h0M647.7 150h0M647.9 150.8h0M648.9 151.8h0M649.7 153.3h0M650.7 153.8h0M651.1 154.2h0M648 149.4h0M649.3 149.9h0M650.2 151h0M650.7 151.7h0M651.7 152.8h0M652.5 153.2h0M650.3 149.3h0M650.8 150h0M650.9 150.4h0M651.8 151.7h0M653 152.6h0M654.1 153.3h0M651.7 148.9h0M652.1 149.5h0M652.7 149.9h0M653.4 151.5h0M654.4 151.9h0M654.2 153.4h0M652.1 147.6h0M653.4 148.2h0M653.8 149.2h0M654.4 150.6h0M655.3 151h0M656.2 151.5h0M657.3 152.8h0M653.2 147.2h0M654.1 147.9h0M655.3 149h0M656.1 149.9h0M657 150.3h0M657.7 151.3h0M655.7 146.6h0M656.2 147.6h0M656.6 148.5h0M658 150.2h0M658.5 149.9h0M658.6 151.5h0M656.3 146.3h0M657.5 147.4h0M658.4 148h0M659.1 149.8h0M659.3 150.3h0M660.6 150.6h0"/><path fill="none" stroke="#6c78cc" stroke-width="3.4" stroke-opacity="0.88" stroke-linecap="round" d="M642.7 158.9h0M643.2 160.7h0M643.9 161.4h0M644.6 162.2h0M646.3 163.6h0M647.2 164.3h0M647 164.1h0M644.9 159.3h0M644.8 158.9h0M645.1 160.9h0M645.9 162.1h0M646.8 162.6h0M648.3 162.8h0M648.8 164.7h0M644.5 157.9h0M645.2 158.5h0M646.3 159.7h0M647.2 160.7h0M647.6 160.7h0M648.3 162.2h0M648.8 162.9h0M646.4 157.9h0M647.3 158.5h0M648 159.4h0M648.7 160.9h0M649.4 160.8h0M650.5 162.5h0M651.4 162.8h0M647.9 157.5h0M648.7 158.1h0M649.5 159.9h0M650.3 160.2h0M651 160.7h0M651.7 162.2h0M648.6 156.2h0M649 156.6h0M650.5 158.2h0M651.3 158.7h0M651.8 159.7h0M653.2 160.3h0M653.8 161.3h0M650.9 155.9h0M650.8 157h0M652.4 157.8h0M653 159.1h0M654.3 159.6h0M654.6 160h0M655.7 161.1h0M652.3 155.7h0M653.2 156.9h0M653.9 157h0M654.4 158h0M655.6 159h0M656.1 160.1h0M652.5 155.2h0M653.6 155.5h0M654.4 156.4h0M655.6 157.3h0M655.8 158.3h0M657.3 158.9h0M657.8 159.8h0M654.5 154.1h0M654.9 154.7h0M655.3 155.8h0M657.1 156.9h0M657.7 158.2h0M658.8 159h0M659.4 159.7h0M656.2 153.6h0M656.9 154.9h0M657.6 155.9h0M658.7 157h0M659.9 157h0M660.2 158.6h0M661.4 159.3h0M658 153.8h0M658.5 154.3h0M658.9 155.4h0M660 156.4h0M661.2 157.9h0M661.5 157.9h0M658.6 152.9h0M659.4 153.1h0M660.3 154.6h0M660.8 155.2h0M661.8 156.5h0M662.8 157.1h0M663.6 157.9h0M660.4 152.6h0M660.9 153.5h0M662.1 154h0M662.5 155.1h0M663.4 155.4h0M664.4 156.1h0M665.5 158h0M661.4 152.9h0M662.8 152.5h0M663.3 153.1h0M663.8 154.4h0M664.8 155.5h0M665.9 156.8h0M666.1 156.4h0"/><path fill="none" stroke="#6c78c0" stroke-width="3.4" stroke-opacity="0.88" stroke-linecap="round" d="M648.4 165.9h0M649 166.8h0M649 167.4h0M650 165.3h0M650.2 166.4h0M651.3 167.3h0M650.7 164.5h0M651.1 165.3h0M652.3 166.4h0M651.7 163.8h0M653.4 164.2h0M653.9 165.2h0M652.2 162.7h0M653.6 164.2h0M654.8 164.2h0M654.7 162.9h0M655.4 163.4h0M656.9 164.1h0M656.1 162.3h0M656.8 163.2h0M657.8 163.2h0M656.9 160.9h0M658.2 162.6h0M658.7 163.5h0M658.8 160.6h0M659.4 161.4h0M660.1 162.4h0M660.3 160.5h0M661 161.6h0M661.8 162h0M662.4 159.4h0M662.9 160h0M663.1 159.4h0M663.7 160h0M664.2 160.4h0M664.2 158.6h0M664.8 159.5h0M665.8 160.2h0M666.1 158.5h0M666.7 159.1h0M666.7 160.1h0M666.8 158.2h0M668.2 158.4h0"/><path fill="none" stroke="#6c6cc0" stroke-width="3.4" stroke-opacity="0.88" stroke-linecap="round" d="M650.6 168.1h0M651.1 168.7h0M652.3 169.6h0M652.9 170.9h0M653.9 171.1h0M655.1 172.1h0M656.2 172.7h0M657.1 173.8h0M657.9 174.9h0M659.1 175.3h0M659.3 175.6h0M660.3 176.6h0M661 177.9h0M662.2 178.9h0M652.2 168.1h0M653.3 168h0M654.7 169.1h0M654.8 170.8h0M655.6 170.6h0M655.9 171.9h0M656.8 172.3h0M658.8 173.6h0M659.8 174.6h0M660 175h0M661 176.1h0M662 176.9h0M663 177.2h0M652.9 166.9h0M653.9 167.4h0M655.1 169.1h0M655.5 168.9h0M656.9 170.3h0M658 169.7h0M658.9 171.3h0M659.8 172.6h0M659.7 173.3h0M661.1 173.9h0M661.5 174.6h0M662.7 176.4h0M664.4 176.5h0M664.8 177h0M654.6 165.6h0M656.1 167.5h0M656.1 168.1h0M656.9 168.3h0M658.7 169.3h0M659.7 170.2h0M659.5 171.2h0M661.3 171.8h0M662.1 173h0M662.7 173.6h0M664.1 174.9h0M664.5 175.1h0M665.5 175.5h0M655.7 165.3h0M655.6 166h0M656.9 167h0M657.6 167.4h0M659.4 168.4h0M660 169.8h0M660.5 170.2h0M662.2 171.4h0M662.4 172.5h0M663.4 172.6h0M665.1 172.8h0M665.4 174.6h0M666.8 175.1h0M667.3 176.1h0M657.4 165.2h0M658.1 165.9h0M658.3 166.3h0M660.5 167.3h0M660.5 168.3h0M661.3 168.7h0M662.6 170.1h0M663.7 171.4h0M663.7 172.4h0M664.6 172h0M666 172.8h0M667.3 173.2h0M668 174.8h0M659.1 165h0M659.3 165.5h0M659.6 166.6h0M661.1 167.4h0M661.5 167.7h0M662.4 168.1h0M663.6 170.1h0M665.3 169.7h0M666.2 171.2h0M666.6 172.4h0M667.5 172.7h0M668.3 173.1h0M669.3 174.7h0M659.7 163.4h0M660.3 164.3h0M661.7 165.5h0M662.6 166.1h0M663.2 166.7h0M664.4 167.5h0M665 168.5h0M665.6 169.6h0M666.4 170.2h0M667.1 170.5h0M668.2 171.8h0M669 172.3h0M670 173.9h0M661.3 163h0M662.7 163.9h0M662.9 165.2h0M663.8 165.5h0M664.6 166.7h0M665.8 167h0M666.4 169.3h0M667.3 169.3h0M668 170h0M669.3 170.7h0M670.1 171.3h0M670.2 172.4h0M672.1 173.2h0M663.1 162.5h0M663.6 163.4h0M664.7 164.8h0M665.2 165.9h0M666.5 166.3h0M667.6 166.5h0M668.1 167.6h0M668.6 168.2h0M670 169h0M671.3 170.3h0M671.3 171.3h0M672.7 172.2h0M673.4 172.6h0M663.4 161.5h0M664.4 163.1h0M665.6 163.4h0M666.6 165.2h0M666.7 164.7h0M667.2 165.5h0M669.2 166.8h0M670 167.3h0M670 168.9h0M671.3 169.9h0M672.3 169.5h0M673.2 170.7h0M674 172h0M665.1 161.8h0M665.8 163.3h0M667.4 162.1h0M667.7 164.1h0M668.3 165h0M669.1 165.5h0M670.6 166.2h0M671.7 167.5h0M672.3 168h0M672.5 168.8h0M674.1 170.1h0M674.5 170.6h0M675.8 171.6h0M666.4 160.8h0M667.4 162.1h0M669.1 163.1h0M669.2 163.5h0M670.3 164.6h0M671.6 165h0M671.6 166.5h0M672.1 167.1h0M673.6 168h0M674.6 169.2h0M676 169.5h0M676.2 170.1h0M676.8 170.9h0M668.4 161h0M669.5 161.2h0M670.2 162.7h0M670.6 163.6h0M671.7 164.3h0M672.9 165.1h0M673.1 165.5h0M674.9 166.7h0M674.9 167.5h0M676.4 168.8h0M677.2 169.4h0M678.2 170.1h0M669.7 159.5h0M669.8 161.4h0M670.9 161.7h0M671.5 162.5h0M672.9 162.9h0M673.4 163.3h0M674.8 165.3h0M675 165.8h0M676.4 166.9h0M677.6 167.3h0M677.9 167.9h0M678.9 169.4h0M679.5 169.8h0"/><path fill="none" stroke="#786cc0" stroke-width="3.4" stroke-opacity="0.88" stroke-linecap="round" d="M663.4 179.4h0M664.6 179.5h0M665.1 180.9h0M664.1 178.5h0M664.7 178.4h0M665.8 179.2h0M665.8 177.4h0M666.2 178.7h0M666.7 179.1h0M665.9 177.1h0M667.4 177.7h0M667.9 177.8h0M667.9 176.1h0M669 177.2h0M670.3 178h0M668.6 175.9h0M669.7 175.6h0M669.4 177.2h0M670.3 175.2h0M671.6 175.7h0M671.6 176.8h0M671 174h0M671.8 174.2h0M672.6 175.5h0M672.6 173.7h0M673.8 174.2h0M673.8 176.1h0M674.8 173.3h0M675.5 174.9h0M675.8 175h0M675.6 172.3h0M675.8 173.2h0M676.5 174.3h0M676.3 172.2h0M678.3 173.5h0M678.2 173.6h0M678.4 171.9h0M679.2 173h0M679.6 173.5h0M678.9 171.2h0M680.3 171.5h0M680.4 172.9h0M681.2 170h0M681.2 171.5h0M682.7 172.3h0"/><path fill="none" stroke="#7860c0" stroke-width="3.4" stroke-opacity="0.88" stroke-linecap="round" d="M666 181.9h0M667.3 180h0M668.4 179.7h0M668.8 178.8h0M670.8 178.9h0M671 177.4h0M672.7 178.2h0M673.7 176.9h0M674.7 175.7h0M676.4 176.1h0M677.2 174.3h0M679.5 174.2h0M680.9 174.2h0M680.8 173.1h0M683.1 173h0"/><path fill="none" stroke="#7860b4" stroke-width="3.4" stroke-opacity="0.88" stroke-linecap="round" d="M666.6 182.5h0M667.8 182.1h0M668.7 183.4h0M669.8 183.8h0M671.3 185h0M671.9 185.7h0M672.8 187.2h0M673.6 186.7h0M674.5 187.5h0M675.5 188.3h0M677.1 188.6h0M677.3 189.9h0M678.3 190.9h0M680.1 190.5h0M681.3 192.3h0M681.7 192.7h0M682.2 193.5h0M684 194.3h0M685.2 194.5h0M685.6 195.2h0M667.3 181h0M668.8 181.5h0M669.5 182.9h0M670.5 183.2h0M670.8 183.9h0M672.8 184.3h0M673.4 185.1h0M675 186.4h0M674.9 186.7h0M675.7 186.9h0M677.2 188.6h0M678.3 188.4h0M679.4 189.6h0M680.3 190.2h0M681.1 191.3h0M682.4 191.1h0M682.7 192.3h0M684.1 193.1h0M684.8 194.2h0M686.3 194.7h0M669.1 180.9h0M669.6 181.4h0M670.9 181.9h0M671.2 183.3h0M673.4 183.4h0M673.8 183.9h0M675 185.7h0M675.9 186.5h0M676.7 187.5h0M677.8 186.9h0M678.5 187.9h0M679.9 188.8h0M680.6 189.6h0M681.6 190.2h0M683 191.9h0M683.3 192h0M684.8 192.5h0M685.5 192.8h0M686.6 193.8h0M670.1 180h0M671.2 180.5h0M671.5 181.5h0M673.1 182.1h0M673.8 183h0M674.9 183.4h0M675.6 184.5h0M676.8 184.3h0M677.3 185.3h0M678.5 186.4h0M679.1 186.4h0M681 187.4h0M681.8 189h0M682.6 189.3h0M683.1 191h0M684.3 191h0M685.1 191.3h0M686 192.1h0M687.2 193.5h0M687.6 194h0M671.7 179.8h0M672.4 180.5h0M673.3 181.8h0M674.3 181.6h0M675.5 182.7h0M676.3 183.4h0M678 184.9h0M677.9 185.4h0M679.4 185.6h0M680.5 186.4h0M681.6 186.5h0M681.6 188.2h0M682.6 188.7h0M683.8 189.5h0M684.6 189.7h0M685.9 191h0M687.1 191.5h0M688 192h0M688.5 193.4h0M671.8 178.8h0M672.7 179h0M673.8 180.1h0M675 181.2h0M676 182.1h0M678.1 182.3h0M677.9 183.5h0M678.6 183.7h0M680 184.7h0M681 185.1h0M682.1 186.2h0M682.7 187.6h0M683.6 187.5h0M684.4 188.5h0M685.3 189.7h0M686.7 189.2h0M686.8 190.7h0M688 191.2h0M689.3 192.1h0M673.9 178.9h0M674.9 179.1h0M675.8 179.9h0M677.2 180.9h0M677.4 181.4h0M678.6 182h0M679 183.1h0M680.6 183.2h0M681.2 184.4h0M682.3 185.6h0M682.9 185.9h0M684.7 186.6h0M685.3 187.3h0M686.8 187.9h0M686.1 188.8h0M688.7 189.6h0M688.8 190.7h0M690.4 191.5h0M690.8 192.4h0M674.1 177.5h0M675.6 178h0M676 178.7h0M676.9 179.4h0M678.6 180.2h0M679.6 181.2h0M680 182h0M681.2 182.4h0M682.4 183.5h0M682.6 184.2h0M683.7 184.7h0M685 185.6h0M685.3 186.7h0M686.2 187.5h0M687.1 187.6h0M688.1 189.3h0M689.1 189.8h0M690.6 190.5h0M691 190.6h0M676.3 176.8h0M677.1 177.9h0M678.1 178.7h0M678.9 179.2h0M679.8 180.1h0M680.8 181.1h0M681.9 182.1h0M682.4 182.5h0M684.1 183h0M684.8 184.4h0M685 185.2h0M686.4 185.8h0M687.4 186.7h0M687.8 187.3h0M689.5 187.3h0M690.1 188.8h0M690.6 189.3h0M692 190.7h0M692.6 190.8h0M677.5 177.1h0M678.9 177.8h0M679.6 177.9h0M680.8 179h0M681.1 179.8h0M682.8 180.4h0M683 181.3h0M683.8 181.6h0M684.9 183.1h0M685.8 184.1h0M687.1 184.6h0M687.6 185.9h0M689.6 186.1h0M688.9 186.8h0M690.3 187.6h0M691.1 188.3h0M692.5 189.2h0M693.3 190.2h0M678.3 176.2h0M679.3 176.6h0M680.1 177.3h0M681.5 178.1h0M681.9 178.5h0M682.9 179.4h0M684.1 180.5h0M684.3 181.1h0M685.6 182.6h0M686.1 182.6h0M687.8 183.4h0M688.5 184.4h0M689.3 185.3h0M690.2 185.9h0M691.1 186.8h0M692.3 187.2h0M692.9 188.1h0M693.9 189.5h0M694.2 189.6h0M680.7 175.1h0M680.7 176.3h0M681.5 177.1h0M682.5 177.7h0M683.5 178.2h0M684.6 179.7h0M685.5 180.4h0M685.7 180.5h0M687.6 182.1h0M687.9 182.5h0M689.2 183.4h0M690.3 183.8h0M691.2 185h0M691.9 185.7h0M691.9 186.8h0M693.2 187.8h0M693.9 188.1h0M695.4 188.9h0M682.1 176h0M681.9 175.6h0M683.6 176.6h0M683.7 177.1h0M685.1 178.3h0M686.4 179.6h0M686.8 180.4h0M688 180.9h0M689.2 181.9h0M690.2 182.2h0M690.8 182.9h0M691.2 183.7h0M692.6 185h0M692.9 184.9h0M694.2 186.3h0M694.8 187.3h0M695.7 188.3h0M696.7 189h0M682.5 174.1h0M684 175.2h0M684 175.5h0M684.9 177h0M685.9 177.1h0M686.8 177.7h0M687.8 179.4h0M688.1 180h0M689.7 180.8h0M690.4 181.4h0M691.1 182.6h0M692.1 182.9h0M692.8 184.2h0M694.1 184.2h0M694.8 185.1h0M695.5 186.6h0M696.3 187.4h0M697.5 187.8h0M683.6 173.9h0M684.7 174.9h0M685.9 175.2h0M686.4 175.3h0M687 178.1h0M688.2 177.4h0M689.2 178.4h0M689.5 179.7h0M690.9 180.7h0M692 181.1h0M692.4 182.1h0M693.8 183.5h0M694.6 184.2h0M695.1 184.7h0M696 185.5h0M696.8 186.4h0M697.6 187.8h0M698.4 188.2h0"/><path fill="none" stroke="#7854b4" stroke-width="3.4" stroke-opacity="0.88" stroke-linecap="round" d="M686.4 196.3h0M687 197.3h0M688.7 197.5h0M688.9 198.1h0M690.7 198.9h0M691.4 199.8h0M692.5 200.7h0M693.7 201.4h0M694.3 201.9h0M695.1 202.1h0M696.2 202.8h0M697 204h0M698.4 204.2h0M687 195.5h0M688.1 196.4h0M688.5 196.2h0M689.6 198.1h0M690.7 198.1h0M692 199.7h0M693 200.2h0M693.1 200.2h0M694.7 200.6h0M695.9 202.4h0M696.9 202.4h0M697.5 203.5h0M697.4 204.4h0M687 194.6h0M688.5 195.9h0M689.4 196.3h0M690.4 197h0M690.7 198h0M692.3 198.6h0M692.9 199.4h0M694.4 199.4h0M695.3 201.1h0M695.9 201.4h0M696.7 202.3h0M697.6 203.2h0M698.3 203.9h0M688.7 194.5h0M689.9 195.5h0M691.3 196.4h0M691.7 196.9h0M693.3 197.8h0M693.3 198.3h0M694.6 198.6h0M695.5 200.2h0M695.9 200.4h0M697 202.1h0M697.8 202.8h0M699.1 202.9h0M689.3 193.7h0M690.1 194.5h0M691.5 195.5h0M691.9 196.6h0M693.4 197.1h0M693.3 197.5h0M695.2 199.1h0M695.6 199.6h0M696.3 199.8h0M697.6 201.1h0M698 201.2h0M698.6 202.7h0M700.1 203.9h0M690.2 192.8h0M691 193.3h0M692.4 194.7h0M692.5 195.3h0M694.2 196.2h0M694.3 197h0M695.3 197.8h0M696.6 198.6h0M697.1 198.9h0M697.5 200.2h0M698.2 201.5h0M698.8 202.2h0M699.9 202.8h0M692.1 193h0M692.8 193.2h0M693.2 194.8h0M693.9 195h0M695.2 196.6h0M695.2 197.5h0M696.4 197.7h0M697.3 199h0M698.1 199.8h0M698.5 200.4h0M700.1 201.5h0M701.3 202.5h0M691.2 192h0M692.5 192.6h0M693.2 193.8h0M694.4 194.8h0M695.4 195.3h0M696.4 195.9h0M697.4 196.9h0M697.7 198.7h0M698 199h0M699.1 199.7h0M699.7 200.9h0M700.7 202h0M700.9 203.1h0M693.5 191.8h0M694.5 192.5h0M694.6 193.5h0M695.5 194.5h0M696.7 196h0M696.9 196.1h0M698 197.8h0M699 198.8h0M699.5 199.1h0M700.6 200.9h0M700.8 201.6h0M701.1 201.9h0M693.7 190.7h0M694.2 192.1h0M695.6 192.3h0M696.3 194.2h0M697.1 194.5h0M698.3 195.7h0M698.4 196.4h0M699.2 197.8h0M699.3 198.2h0M701 199.7h0M701.2 200.9h0M702.5 201.8h0M695.1 190.9h0M695.7 192.3h0M697.4 192.6h0M698 194h0M698.1 194.7h0M698.8 195.8h0M700.1 196.8h0M700.5 197.6h0M701.1 198.5h0M701.6 199.6h0M702 200.9h0M702.8 201.7h0M695.7 190.2h0M697.4 191.1h0M698 192.1h0M698.8 193h0M698.9 194.1h0M699.5 195.2h0M700.7 195.3h0M701 197.1h0M701.7 197.5h0M702.4 199.1h0M702.9 200h0M703.3 201.3h0M696.9 190.7h0M698 191.1h0M698.5 191.9h0M699.9 193.4h0M700.3 194h0M700.6 195.1h0M701.7 195.7h0M702.3 196.8h0M701.9 198h0M702.8 199.2h0M704 199.7h0M703.8 200.5h0M698.2 189.2h0M698.5 190.2h0M700.3 191.2h0M699.4 192.3h0M700.4 192.4h0M701.6 193.6h0M701.8 195.1h0M702.8 196.4h0M703 197.5h0M703.2 198.9h0M704.2 199.1h0M704.2 200.5h0M704.7 201.1h0M699 188.6h0M700.2 189.1h0M700.3 191.1h0M701.8 191.5h0M701.7 192.6h0M702.1 193.9h0M703.6 195.3h0M703.7 196.2h0M703.5 197.6h0M704.1 198.2h0M705.5 199.4h0M705.9 200.6h0"/><path fill="none" stroke="#7854a8" stroke-width="3.4" stroke-opacity="0.88" stroke-linecap="round" d="M699 205.5h0M699.5 205.5h0M700.9 206h0M702.1 207.5h0M703.1 208.6h0M704.2 209.2h0M699.2 205.3h0M700.1 206.1h0M700.8 206.7h0M702.1 207.6h0M703.3 207.8h0M704 209.5h0M699.5 204.2h0M700.8 205.6h0M700.8 206.3h0M702.2 206.7h0M702.7 208.1h0M704.5 208.4h0M699.2 203.6h0M701 204.7h0M701.8 205.8h0M702.7 206.5h0M703.7 207.5h0M703.6 208h0M700.6 204.6h0M701.9 205.6h0M702.2 205.9h0M702.9 207h0M704.2 207.3h0M701 203.9h0M702 204.8h0M702.4 206.3h0M703.1 206.7h0M704.7 207.9h0M704.8 208.5h0M700.9 203.2h0M702.3 204.5h0M703.1 205.5h0M702.9 206.8h0M704.6 206.9h0M705.3 208.4h0M702.4 203.4h0M702.8 204.9h0M704 205h0M704 206.2h0M705.7 207.8h0M702.7 202.8h0M703.2 204.1h0M703.5 205.8h0M704.2 206.4h0M705.4 207.2h0M705.8 208.3h0M702.5 202.1h0M703.4 203.6h0M703.9 204.7h0M704.5 206.1h0M705.3 206.6h0M706 208h0M703.2 202.4h0M704.1 204h0M705 204.8h0M704.9 206.6h0M706.1 208h0M706.4 208h0M704 202.4h0M704.6 203.9h0M704.2 204.1h0M705.4 205.5h0M705.4 206.6h0M706.3 207.5h0M704 202.7h0M705.1 203.6h0M705.1 204.2h0M706.3 205.9h0M706.5 207h0M706.5 207.8h0M706 202.9h0M705.5 204h0M706 205.7h0M706.3 205.9h0M706.3 207h0M705.8 201.7h0M705.4 203.8h0M706.3 204.1h0M706.9 205.7h0M706.7 206.8h0M707.1 207.2h0"/><path fill="none" stroke="#6cb4e4" stroke-width="3.4" stroke-opacity="0.8" stroke-linecap="round" d="M649.4 95.9h0M653.1 96.3h0M656.9 95.8h0M660.5 95.6h0"/><path fill="none" stroke="#78b4e4" stroke-width="3.4" stroke-opacity="0.8" stroke-linecap="round" d="M648 99.9h0M647.1 103.6h0M646.6 108.3h0M652.3 99.8h0M651.4 103h0M650.7 107.4h0M655.6 99.7h0M655.8 104h0M653.8 107.6h0M658.7 100.1h0M658.1 104.6h0M657.1 108.1h0"/><path fill="none" stroke="#84a8e4" stroke-width="3.4" stroke-opacity="0.8" stroke-linecap="round" d="M646.2 111.9h0M646.1 115.8h0M647.4 119.7h0M648.2 123.6h0M650.4 112h0M651 115.7h0M651.7 119.3h0M652.5 123.8h0M654.2 110.8h0M654.5 115.3h0M654.9 119.6h0M656.5 122.8h0M657.4 111.5h0M657.5 115.6h0M658.8 119.7h0M660.1 123.1h0"/><path fill="none" stroke="#90a8e4" stroke-width="3.4" stroke-opacity="0.8" stroke-linecap="round" d="M648.9 127.5h0M650.6 131.1h0M653.8 127.5h0M655.7 130.4h0M658 126.6h0M660.5 130h0M661.8 126.6h0M664.3 130.1h0"/><path fill="none" stroke="#90a8d8" stroke-width="3.4" stroke-opacity="0.8" stroke-linecap="round" d="M652.9 134.5h0M658.1 134h0M662.9 133.2h0M667 133.2h0"/><path fill="none" stroke="#9c9cd8" stroke-width="3.4" stroke-opacity="0.8" stroke-linecap="round" d="M654.7 138.2h0M657.4 140.9h0M661 143.3h0M663.2 146.8h0M666 149.7h0M668.9 151.8h0M661 137.1h0M663.2 140.5h0M666.6 143.4h0M669.2 145.8h0M672.1 148.6h0M675.3 151.2h0M666.3 136.3h0M668.2 139.3h0M671.3 142.4h0M674.1 143.6h0M677.7 147.3h0M680.1 150h0M669.5 135.8h0M673.3 137.5h0M675.4 140.3h0M678.8 143.7h0M681.6 145.7h0M685.1 148.3h0"/><path fill="none" stroke="#9c90d8" stroke-width="3.4" stroke-opacity="0.8" stroke-linecap="round" d="M671.7 154.9h0M677.9 154.1h0M683 153.1h0M687.6 152.1h0"/><path fill="none" stroke="#9090d8" stroke-width="3.4" stroke-opacity="0.8" stroke-linecap="round" d="M675 157.8h0M677.5 160.1h0M680.5 163.8h0M681.1 156.7h0M684.3 159.4h0M686.1 162.3h0M686.6 155.5h0M689.7 157.8h0M692.2 160.6h0M691.1 155.3h0M693.5 157.6h0M696.3 160.1h0"/><path fill="none" stroke="#9090cc" stroke-width="3.4" stroke-opacity="0.8" stroke-linecap="round" d="M683.4 165.8h0M689.7 164.9h0M694.9 163.5h0M699.5 162.9h0"/><path fill="none" stroke="#9084cc" stroke-width="3.4" stroke-opacity="0.8" stroke-linecap="round" d="M685.8 168.2h0M689.8 171.6h0M691.6 174.4h0M694.6 177.2h0M697.5 179.2h0M699.9 183h0M692.8 168.1h0M695.2 170.8h0M697.4 173.9h0M700.2 176.2h0M703.2 178.9h0M706 182.6h0M698.2 166.2h0M699.9 169.4h0M702.8 172.5h0M705.5 175.3h0M708 178.4h0M709.9 181.9h0M701.2 165.7h0M704.7 167.9h0M706.9 172.2h0M709.8 174.5h0M713.1 177.5h0M714.6 181.7h0"/><path fill="none" stroke="#9078cc" stroke-width="3.4" stroke-opacity="0.8" stroke-linecap="round" d="M703.1 186h0M705.1 189.3h0M706 193h0M707.5 197.1h0M708.3 186h0M709 189.7h0M710.8 193.2h0M710.2 197.4h0M712.1 185.3h0M713.1 189.6h0M713.3 194h0M713 197.1h0M715.7 185.2h0M716.6 189.1h0M715.2 192.5h0M714.8 197.2h0"/><path fill="none" stroke="#9078c0" stroke-width="3.4" stroke-opacity="0.8" stroke-linecap="round" d="M707.8 201.4h0M709.7 200.7h0M711.8 201.6h0M713.1 200.3h0"/><path fill="none" stroke="#906cc0" stroke-width="3.4" stroke-opacity="0.8" stroke-linecap="round" d="M708.3 205.2h0M709.9 205.5h0M710.9 205h0M712.2 204.2h0"/><path fill="none" stroke="#54b4f0" stroke-width="3.4" stroke-opacity="0.7" stroke-linecap="round" d="M627.1 113.5h0M645.1 116.7h0M641.1 116.6h0M632.2 114.4h0M648.5 117.8h0M635.4 114.2h0M647.5 116.6h0M630.5 114.5h0M638.8 115.4h0M633.4 115.1h0M630.1 114.1h0M649 117.5h0M629.5 114.4h0M653.4 118.1h0M638.6 115.7h0M641.4 115.4h0M627.5 113.5h0M652.6 117.7h0M629.7 113.9h0M637.6 115.1h0M639.4 115.9h0"/><path fill="none" stroke="#30c0f0" stroke-width="3.4" stroke-opacity="0.7" stroke-linecap="round" d="M635.7 89.3h0M640.9 91.7h0M629.8 89.4h0M642.9 94.4h0M634.2 89.8h0M653.3 92.3h0M644.8 93h0M630.7 91.6h0M645.8 91.9h0M640.8 93.5h0M642.4 93.5h0M633.5 90.8h0M640.9 92.8h0M630.3 91.4h0M649.4 94.4h0M655.7 94.5h0M644.8 92.9h0M638 90.5h0M645.6 92.3h0M642.6 92.6h0M638 94.3h0M629.6 89.3h0M644.8 91.5h0M638.9 90.7h0M656.7 96.9h0M657.6 97.2h0M646.4 91.4h0M640.5 91.7h0M658.5 96.1h0M649.8 95.3h0M636.3 91.9h0M635.6 92h0M632.9 93.6h0M633.4 90.5h0M637.4 94.4h0M648.2 91.8h0M639.5 93.3h0M633 88.9h0M638.4 93.2h0M651.4 94.6h0M637.9 89.8h0M654.2 95.1h0M658.1 93h0M631.7 91.9h0M657.1 93.4h0M648.8 95.6h0M643.1 94.9h0M631.7 92.5h0M658.2 93.3h0M653.4 94.9h0M641.3 94.8h0M646.2 95.3h0M653.3 96h0M635.7 90.2h0M645.9 93.1h0M651.7 93.3h0M630.7 93h0M636.1 92.9h0M648.7 93.4h0M652.3 91.9h0M640.3 90.3h0M656 94.8h0M648.1 93.4h0M655.8 95.6h0M649.5 92.4h0"/><path fill="none" stroke="#3cc0f0" stroke-width="3.4" stroke-opacity="0.7" stroke-linecap="round" d="M635.7 102.1h0M647.9 101.9h0M635.5 100.3h0M656.7 106.7h0M655.5 100.4h0M640 103.8h0M649 99.3h0M656.2 100.9h0M628.6 102h0M642.7 100.3h0M654.6 98.9h0M645.7 103.7h0M628.3 96.8h0M627.6 100.8h0M649.9 101.7h0M632.9 101.1h0M645.4 105.7h0M638.3 103.9h0M638.4 103.4h0M643.4 99.1h0M646.3 103h0M628.8 102.4h0M647.3 100.3h0M631.1 94.6h0M651.1 96.8h0M654.3 100.2h0M640.7 104.6h0M636 95.4h0M655.2 103.5h0M638.8 100.3h0M653.2 97.2h0M652.9 103.7h0M639.6 101.7h0M645.7 98.7h0M645.1 102h0M648.5 102.1h0M638.6 97.8h0M645.9 99.4h0M630.7 101h0M655.1 102.4h0M630.3 97.7h0M645.3 103.5h0M651.9 101h0M633.3 95.5h0M636.2 101.7h0M638 97.7h0M656.9 101.4h0M651.9 98.1h0M653 99.4h0M645.4 102.2h0M652.3 102.1h0M638.4 102.8h0M639.3 99.3h0M649.2 101.5h0M639.1 98.6h0M635.6 102h0M637.3 104h0M629.7 94.5h0M633.1 96.5h0M645.5 96.5h0M647.2 99.5h0M630 102.8h0M645.9 97.2h0M657.6 97.8h0M651.9 104.5h0M634.2 102h0M654.9 100.3h0M644.9 97.4h0M628 98.5h0M632.6 98.4h0M630.3 102.7h0M636.3 100h0M644.3 103.8h0M643 103.7h0M630.3 95.5h0M645 105.6h0M630.3 95.7h0M639.2 99.7h0M642.8 96.1h0M633.5 97.5h0M654.4 98.9h0M639.2 94.8h0M655.8 100.2h0M655.8 105.3h0M644.2 100.3h0M640.2 103h0M633.6 96.3h0M648.7 97.5h0M654.5 103.9h0M629.1 99.1h0M633.1 96.4h0M639.1 103.7h0M652.8 98.2h0M636 97.8h0M640.7 100.4h0M639.8 98h0M653.6 101.4h0M652.3 101.7h0M649.6 97.8h0M635.6 103.7h0M633.4 102.3h0M637.6 97h0M641.1 103.1h0M651.9 105.7h0M633.4 99.4h0M638.9 99.9h0M629.2 97.3h0M649 102.8h0M634.4 96.2h0M641.6 105h0M631.3 97.5h0M649.7 100.2h0M649.6 104.8h0M631.7 96.7h0M635.2 100.9h0M642.4 99.9h0M653.2 104.9h0M630.2 99.5h0M631.1 102.2h0M632.7 96.5h0M651.7 100.7h0M641 96.4h0M651.2 105.5h0M651.8 98h0M647.8 98.1h0M634.2 102h0M632.2 97.4h0M644 104.3h0M634.2 100.2h0M646.7 103.2h0"/><path fill="none" stroke="#48c0f0" stroke-width="3.4" stroke-opacity="0.7" stroke-linecap="round" d="M641 105.4h0M644.8 110.5h0M653.4 108h0M635.4 105.3h0M634.7 105h0M633.9 105.6h0M645.7 108.9h0M655 110.9h0M651.8 108.4h0M628.9 105.6h0M628.8 103.3h0M649.7 110h0M652.5 109.6h0M653.2 108.6h0M648.3 107.9h0M627.6 106.8h0M647.5 109.5h0M633 103.8h0M628.5 107.6h0M634.9 105.5h0M656.2 107.8h0M638.5 105.7h0M643 106.7h0M633.7 108.1h0M628.8 104.2h0M655.8 109.1h0M636.3 106h0M652.2 106.8h0M631.3 103.6h0M643.3 107.5h0M634 105.7h0M645.6 107h0M649.3 111h0M630 107.6h0M649.3 108.9h0M648.5 111h0M639.6 106.6h0M648.6 111h0M641.1 109.7h0M653.7 107h0M636.5 107.1h0M643.2 108.8h0M632.3 105.5h0M627.2 104h0M645.5 109.2h0M631.6 106.2h0M652.3 109h0M649.5 111.2h0M649.8 106.7h0M643.7 106.6h0M647.9 106.5h0M645.2 108.8h0M630 106.1h0M637.6 107.5h0M629.7 106.3h0M651.4 110h0M638.5 105.8h0M653.7 110.6h0M640.6 109.6h0M641 107.8h0M632.7 105.4h0M649.1 109.4h0M628.6 107.1h0M651.1 111.3h0M649.8 108.8h0M627.1 104.3h0M630 105.5h0"/><path fill="none" stroke="#48b4f0" stroke-width="3.4" stroke-opacity="0.7" stroke-linecap="round" d="M638.6 113.7h0M629.9 110.1h0M635.5 112.1h0M639.9 114.7h0M638.9 109.9h0M644.8 114.5h0M652.5 113.8h0M628.4 112.2h0M654.9 112.4h0M634.5 113.1h0M635.1 109.3h0M626.8 108.1h0M632.4 109.7h0M636.9 113.9h0M627.5 111.2h0M632.3 113.5h0M627.9 112.7h0M649.6 112.1h0M646.7 115.4h0M638.1 111.6h0M653.2 116.3h0M631 111.3h0M637.1 110.3h0M652.9 112.9h0M630.8 109.9h0M648.7 116h0M648.9 111.2h0M642.9 113.3h0M649.5 111.6h0M650.9 111.9h0M642.8 111.9h0M630.1 112.7h0M652 115.9h0M636.5 114.2h0M628.4 111.6h0M626 111.3h0M637.8 109.8h0M637.4 109.7h0M639.8 114.1h0M632.6 113.5h0M634.6 113.8h0M647 114.6h0M650.2 111.6h0M632 110.7h0M633 112.2h0M634.6 111.1h0M640.4 112.6h0M631.4 112.3h0M632.6 111.4h0M645.1 114.4h0M634 112.6h0M653.6 112.8h0M640.6 110.3h0M637.8 111.6h0M653.2 114.3h0M645.9 112.4h0M644.1 111.3h0M644.8 114.9h0M654.1 116.4h0M651.9 114.9h0M630.5 108.8h0M655.4 113.2h0M633.1 111.6h0M627.3 110h0M646 115.1h0M652.9 114.2h0M648.3 115.4h0"/><path fill="none" stroke="#301860" stroke-width="3.4" stroke-opacity="0.85" stroke-linecap="round" d="M620.6 112.3h0M620.9 112.6h0M621.3 113.9h0M620.1 114h0M621.9 114.7h0M620 114.8h0M621.2 115.9h0M620.3 116.7h0M620.2 117h0M620.8 117.2h0M618.7 118h0M620.8 118.8h0M619.2 118.9h0M618.5 119.5h0M619 119.9h0M620 121h0M618.8 121.6h0M619.4 122h0M619.3 122.8h0M618.2 123.7h0M618.5 124.4h0M617.7 124.7h0M617.6 125.2h0M616.2 124.5h0M615.6 124.9h0M614.4 123.9h0M615.2 126.7h0M614.6 127.4h0M614.7 127.7h0M612.6 126h0M613.3 127.3h0M611.3 125.3h0M611.9 128.4h0M610.8 128h0M609.8 126h0M610.1 128.8h0M608.3 125.8h0M609.2 130h0M608 127.9h0M608.2 130.1h0M1035.4 155h0M1036.5 151.2h0M1035.4 157.8h0M1035 158.2h0"/><path fill="none" stroke="#302460" stroke-width="3.4" stroke-opacity="0.85" stroke-linecap="round" d="M607 129.6h0M606 128.2h0M606.2 129.7h0M604.8 129.3h0M604 127.5h0M603.7 128.8h0M604 130.5h0"/><path fill="none" stroke="#30246c" stroke-width="3.4" stroke-opacity="0.85" stroke-linecap="round" d="M601.8 127.2h0M602.3 130.5h0M601.7 129.8h0M601.3 131h0M600.4 128.7h0M599.7 128.3h0M599.4 131h0M598.3 128.2h0M598.3 130.8h0M597.2 128h0M596.5 130.7h0M596.4 130.8h0M595.3 129.9h0M595.3 128.8h0M593.9 128.6h0M593.2 129.1h0M593.1 128.3h0M592.8 131.4h0M591.7 128.8h0M591.5 129.5h0M590.9 130.4h0M589.7 131.3h0M589.3 132.8h0M589.1 131h0M588.1 129.1h0M588.6 131.6h0M586.9 131h0M586.8 131.9h0M586 129.7h0M585.5 132.7h0M584.4 129.3h0M584.7 131.1h0M583.3 130.5h0M582.6 129.9h0M582 130.9h0M581.5 130.5h0M581 132.9h0M581 133.9h0M579.5 132.3h0M579.8 133.7h0M578.7 131.5h0M578 130.8h0M578.1 132.8h0M576.9 135h0M576.9 132.2h0M575.6 131.6h0M576.1 135.1h0M575.3 134.3h0M573.8 131.9h0M573.5 132.9h0M573.4 135.6h0M572.5 134.1h0M572.2 134h0M571.7 133.9h0M570.7 133h0"/><path fill="none" stroke="#302478" stroke-width="3.4" stroke-opacity="0.85" stroke-linecap="round" d="M569.5 133.1h0M568.9 132.7h0M568.9 134.5h0M568.3 134.4h0M568.2 134.7h0M566.7 134.5h0M566.4 134.3h0M565.9 134.3h0M564.5 134h0M564.5 134.6h0M564.6 137.3h0M564.3 137.2h0M563.3 137.1h0M562.3 135.6h0M561.8 135.5h0M560.9 135.6h0M560.8 137h0M560.6 138.6h0M559.7 136.4h0M558.7 135.8h0M558.1 137h0M557.7 136.2h0M557.8 139.6h0M556.8 137.1h0M556.4 139h0M555.4 138.2h0M554.9 137.4h0M555 139.3h0M553.3 138.4h0M553.6 140.2h0M553.2 139h0M551.7 137.6h0M552 140.1h0M550.8 139.9h0M551.1 142.1h0M550.6 140.9h0M549.2 141.5h0M549.4 141.8h0M548.2 139.9h0M548 142h0M548 142h0M545.9 139.9h0M545.7 140.7h0M546 142.9h0M544.8 141.4h0M543.6 141.4h0"/><path fill="none" stroke="#303078" stroke-width="3.4" stroke-opacity="0.85" stroke-linecap="round" d="M544.3 143.7h0M542.9 141.7h0M542.5 143.1h0M543.1 145.1h0M541.9 143.7h0M540.8 143.6h0M540.8 143.9h0M540.4 144.5h0M539.4 144.2h0"/><path fill="none" stroke="#303084" stroke-width="3.4" stroke-opacity="0.85" stroke-linecap="round" d="M539.3 145.7h0M539.8 146.5h0M538.9 147.8h0M537.9 146.8h0M538 147.4h0M537.5 148.1h0M537.3 148.6h0M537 148.7h0M534.7 147.9h0M533.4 147.1h0M533.9 148.7h0M533.9 147.7h0M534.1 149.9h0M532.4 148.9h0M532.3 150.3h0M531.7 150.6h0M530.1 149.9h0M530.6 151.5h0M530.8 151.9h0M529.8 152.1h0M529 152.1h0M528.7 152.7h0M528.2 152.9h0M527.4 152h0M527.8 154.6h0M527.2 153.8h0M526.3 153.9h0M526.1 154.3h0M525.8 154.9h0M525.3 154.8h0M525.8 156.5h0M523.7 156.5h0M522.8 156.1h0M522.3 156.4h0M522.6 157.4h0M520.9 156.9h0"/><path fill="none" stroke="#3c3084" stroke-width="3.4" stroke-opacity="0.85" stroke-linecap="round" d="M520.8 157.3h0M520.3 158.3h0M519.8 158.7h0"/><path fill="none" stroke="#3c3c84" stroke-width="3.4" stroke-opacity="0.85" stroke-linecap="round" d="M521.5 159.7h0M521.7 161.5h0M520.2 160h0M519.1 160.9h0M518.9 161.7h0M519.5 162.1h0M518.4 162.7h0M519.3 163.6h0M517.6 163.3h0M517.6 163.6h0M516.8 164.3h0M516.4 165.1h0M516.3 164.9h0M517 166.3h0M1008.9 151.9h0M1008.3 150.1h0M1007.7 148.4h0M1009.4 151.7h0M1008.1 151.3h0M1007.4 152.1h0M1006.4 150.2h0M1006.9 150h0M1007.8 153.8h0M1006.6 150h0M1005.7 149.8h0M1006.6 153.4h0M1006.7 152.6h0M1007.1 154h0M1005.2 150.7h0M1005.4 153.1h0M1005.5 154.3h0M1005 150.6h0M1005.8 152.3h0M1005.8 153.5h0M1004.6 153.5h0M1005.2 154.6h0M1004.3 151.1h0M1004.7 151.8h0M1002.8 150h0M1004 152.9h0M1003.6 153.2h0M1004 153.5h0M1003.3 155.9h0M1002.9 150.7h0M1002.2 150.2h0M1003 152.1h0M1002.6 153h0M1001.7 151.1h0M1003 152h0M1003.3 154h0M1002 153.5h0M1001.4 153.2h0M1000 151.3h0M1001.3 155h0M1000.9 154.9h0"/><path fill="none" stroke="#3c3c90" stroke-width="3.4" stroke-opacity="0.85" stroke-linecap="round" d="M515.5 166.7h0M515.1 166.8h0M514.7 167.4h0M515.9 168.5h0M515.6 168.7h0M513.9 169h0M516.3 170.6h0M515.1 170.4h0M514.6 171.7h0M515 171.7h0M514.8 172.3h0M513.3 172.5h0M514.7 173.4h0M513.5 174.6h0M514.1 174.9h0M515.2 175.2h0M512.8 175.5h0M512.7 176.6h0M513 177.3h0M514.2 177.4h0M514.3 178.3h0M514.8 179h0M513.3 179.6h0M512.1 180.5h0M514.4 180.3h0"/><path fill="none" stroke="#3c4890" stroke-width="3.4" stroke-opacity="0.85" stroke-linecap="round" d="M513.1 181.4h0M512.8 182.3h0M515.4 182.1h0M513 183.1h0M513.1 183.5h0M514.4 184.1h0M515.3 184.4h0M513.5 185.7h0M512.8 186h0M515.4 186.6h0M514.5 187.4h0M514.5 187.5h0M513.7 189h0M514 189.6h0M514 189.7h0M515.8 190.4h0M516.8 190.6h0M514.8 191.7h0M517.3 191.9h0M515.7 192.8h0M515.8 192.8h0M514.5 194h0"/><path fill="none" stroke="#3c5490" stroke-width="3.4" stroke-opacity="0.85" stroke-linecap="round" d="M515.5 194.2h0M517.9 194.1h0M517.4 195.2h0M517.3 195.6h0M516.6 196h0M989.4 161.3h0M989.9 161.3h0M987.8 161.7h0M988.4 162.3h0M986.8 161.5h0M988.7 163.9h0"/><path fill="none" stroke="#305490" stroke-width="3.4" stroke-opacity="0.85" stroke-linecap="round" d="M517.4 196.8h0M518.1 197.8h0M516.3 198.7h0M519.2 198.7h0M516.8 199.9h0M516.4 200.4h0M517.8 200.5h0M986.9 163h0M986.6 163.5h0M988.4 165.7h0M987.2 164.5h0M988.2 165.7h0M987.2 165.3h0M987.2 166h0M986.6 165.6h0M985.4 165.7h0M987.9 166.4h0M986.4 168h0M988.1 167.7h0M984.8 167h0M986.9 167.9h0M983.7 168h0M985.3 168.7h0M984.1 169.5h0M985 169.1h0M986.7 170.2h0M988.6 170.2h0M985.7 171h0"/><path fill="none" stroke="#30549c" stroke-width="3.4" stroke-opacity="0.85" stroke-linecap="round" d="M518.2 200.3h0M517.9 202.4h0M518.8 202.3h0M518.3 203.4h0M518.1 203.7h0M518.8 203.8h0M518.6 205.8h0M519.1 205.3h0M520.7 205.5h0M522 205.2h0"/><path fill="none" stroke="#30609c" stroke-width="3.4" stroke-opacity="0.85" stroke-linecap="round" d="M520.2 207.3h0M521.1 206.7h0M519.7 208h0M521.3 208.7h0M520.8 209.6h0M520.5 210.5h0M523.3 209.1h0M522.4 210.3h0M522.7 211.3h0M524.9 210.5h0M525.3 211h0M523 213.1h0M523.4 213.7h0M523.6 213.6h0M524.3 214.9h0"/><path fill="none" stroke="#306c9c" stroke-width="3.4" stroke-opacity="0.85" stroke-linecap="round" d="M523.7 215h0M524.5 215.8h0M525.6 215.9h0M526.6 215.9h0M526.5 216.8h0M525.6 218.3h0M527.7 217.1h0M529.3 216.7h0M527.3 219.6h0M528 219h0M529 219.5h0M528.2 221h0M530.2 220.1h0M530.1 219.7h0M530 221h0"/><path fill="none" stroke="#30789c" stroke-width="3.4" stroke-opacity="0.85" stroke-linecap="round" d="M531.3 220.9h0M531 221.3h0M531.8 221.9h0M530.3 224.5h0M533.5 222.4h0M532.6 223.1h0M534.5 223.5h0M534.6 223.7h0"/><path fill="none" stroke="#24789c" stroke-width="3.4" stroke-opacity="0.85" stroke-linecap="round" d="M535.1 223.9h0M533.9 226h0M535 226.3h0M536.1 225.8h0M536.4 226.2h0M535.5 227.9h0M535.8 228.3h0M536.9 228.7h0"/><path fill="none" stroke="#247890" stroke-width="3.4" stroke-opacity="0.85" stroke-linecap="round" d="M537.1 229.1h0M537.5 229.4h0M993.5 210.9h0M994.9 211.5h0M995.6 211h0M994.1 213.1h0M993.9 212.5h0M995.1 213.5h0M995.7 212.7h0M997.2 212.8h0M996 213.1h0M996.8 213.1h0M995.4 215.9h0M995.6 216h0M996.4 215h0M996.6 216.4h0M995.7 215.6h0M997.5 215.9h0M997.7 216.7h0M998.7 214.8h0M998.7 216.7h0M1000.6 215.9h0M997.7 217.9h0"/><path fill="none" stroke="#248490" stroke-width="3.4" stroke-opacity="0.85" stroke-linecap="round" d="M539.2 227.5h0M538.8 229.5h0M541 228.3h0M538.4 231.8h0M540.6 230.1h0M540.8 230.2h0M539.7 233.2h0M541.9 231.6h0M541.7 233h0M541.5 233.2h0M543.6 231.8h0M542 234.8h0M544.5 233h0M544.7 234.2h0M545.5 234.3h0M545.6 235.5h0M545.5 236.8h0M547.2 235.2h0M546.7 236.1h0M547 236.6h0M545.9 238.5h0M548.3 236.7h0M999.5 217h0M998.8 219.1h0M998.8 218.2h0M999.9 218.8h0M999.6 219.4h0M998.7 220.6h0M999.4 221.2h0M999.2 220.7h0M1001.3 219.6h0M999.8 222.4h0M999.7 222h0M1000.2 222.3h0M1002.6 221.1h0M1001 223.5h0M1000.2 225.2h0M1001.8 224.2h0M1002.9 222.5h0M1002.1 225.2h0M1002.4 224.7h0M1003.2 223.7h0M1004.8 224.4h0M1002.5 225.7h0M1003.9 223.8h0M1003 226h0M1005.2 225.2h0M1004.3 226.5h0M1003.4 227.9h0M1005.8 226.6h0M1004.9 227.8h0M1004.7 227.8h0M1004.6 228.3h0M1007.3 227h0M1007.7 226.4h0M1007.4 227.6h0M1006.8 228.7h0M1008.2 228.5h0M1008.5 229.2h0M1006.6 230.6h0M1007.7 230.3h0M1008.9 229.2h0"/><path fill="none" stroke="#249090" stroke-width="3.4" stroke-opacity="0.85" stroke-linecap="round" d="M549.3 236.9h0M549 237.7h0M549.6 238.8h0M550 237.9h0M550.3 238.6h0M552 237.9h0M550.6 240.9h0M551.7 240.6h0M552 239.6h0M552.9 239.9h0M552.8 242.3h0M553.6 241.5h0M555.3 239.5h0M554.6 241.3h0M556 241.4h0M557 240.7h0M556.4 242.1h0M557.5 242.3h0M558.3 241.5h0M558.2 243.9h0M559.3 242.5h0M559.1 243.4h0M559.7 242.8h0M559.1 243.2h0M559.9 243.8h0M560.6 242.4h0M559.8 245.5h0M559.9 245h0M1010.1 229.8h0M1010.1 229.2h0M1008.2 232.8h0M1010 231.1h0M1009.6 231.4h0M1011.2 230.6h0M1010.1 231.9h0M1010.9 232.4h0M1010.9 233.3h0M1010 234.9h0M1012.4 232.5h0M1011.9 233.2h0M1013.5 232.2h0M1013.4 234.1h0M1011.3 235.5h0M1013 235.3h0M1012.5 237h0M1012.8 236.5h0M1015.6 234.7h0M1013.1 237.3h0M1014 237.3h0M1016.6 235.6h0M1016.6 236.1h0M1013.7 238.2h0M1014.4 237.6h0M1016.1 237.3h0M1014.9 238.7h0M1017.5 237.1h0M1016.5 238.3h0M1017.5 237.6h0M1018 237.2h0M1017.1 240.5h0M1017 241.3h0M1018.9 238.5h0M1018.1 241.3h0M1018.5 240.4h0M1020.2 239.2h0M1019.3 241h0M1019.5 242.1h0M1020.4 240h0M1019.9 241.9h0"/><path fill="none" stroke="#249c90" stroke-width="3.4" stroke-opacity="0.85" stroke-linecap="round" d="M561.8 242.7h0M560.9 244.1h0M561.3 244.8h0M561.8 245.4h0M562.1 244.6h0M562.5 245.2h0M563.1 243.9h0M562.8 245.5h0M562.7 246.5h0M563.7 244.4h0M564.9 243.9h0M563.9 245.8h0M565.3 243.4h0M564.9 245.5h0M565.4 246h0M565.6 244.9h0M565.2 247.5h0M565.5 246.5h0M567.2 244.2h0M566.1 246h0M1021.5 240.7h0M1022.2 241.5h0M1020.3 243.4h0M1021.2 242h0M1020.8 244.3h0M1022 243.4h0M1024.7 241.5h0"/><path fill="none" stroke="#249c84" stroke-width="3.4" stroke-opacity="0.85" stroke-linecap="round" d="M566.5 246.2h0M566.7 247.9h0M567.7 245.4h0M567.2 247.3h0M567.7 247h0M568.5 244.7h0M568.3 247.5h0M569.3 244.9h0M569.3 247.5h0M569.6 245.8h0M570.1 247.5h0M569 248.8h0M570.5 247.9h0M570.5 246.6h0M570.2 248.2h0M570.7 247.7h0M571.1 249.7h0M571.1 249.7h0M572.8 246.4h0M572.5 247.1h0M573.1 247.2h0M572.8 247.7h0M573.1 248h0M574 247.3h0M573.4 249.4h0M574.4 245.9h0M574.3 246.8h0M574.8 248.4h0M575.1 247.5h0M574.9 247.8h0M575.3 250.8h0M576.3 246.6h0M576.2 247.2h0M576.6 248.7h0M576.6 248.4h0M576.5 250.2h0M577.2 249.3h0M577.6 247.3h0M577.5 248h0M577.9 248.4h0M578.4 250.2h0M578.3 250.2h0M578.9 247.9h0M578.9 248.8h0M579.8 249.1h0M579.9 250.6h0M1022.3 244.6h0M1022.5 243.8h0M1023.7 243.2h0M1025.3 242.3h0M1024.5 242.9h0M1025.5 243.9h0M1025.3 245.3h0M1024.6 246.8h0M1025.4 245.7h0M1025.2 245.5h0M1026.1 245.6h0M1027 245.9h0M1027.1 245.5h0M1027 246.1h0M1027.4 246.9h0M1028.4 246.6h0M1027.6 247.5h0M1029.2 246.8h0M1029.1 246.4h0M1030.8 246.1h0M1029.8 247.5h0M1030 247.2h0M1030.3 247.3h0M1030.4 248.2h0M1031.4 248.9h0M1031.7 246.8h0M1031.9 247h0M1030.9 250h0M1032.8 249.5h0M1032.1 250h0M1032.2 251.2h0M1033 250.8h0M1034.3 248.9h0M1034.6 248.2h0M1036 247.8h0M1036.5 248.9h0"/><path fill="none" stroke="#24a884" stroke-width="3.4" stroke-opacity="0.85" stroke-linecap="round" d="M580.3 248.1h0M579.8 251.2h0M580.9 251h0M581.1 247.3h0M581.1 249.9h0M581.8 248.1h0M582.2 247.3h0M581.7 251h0M582.6 250.8h0M583 248.5h0M583.4 251.6h0M583.9 246.8h0M584.5 249.3h0M583.2 251.1h0M584.1 250.3h0M583.6 247.9h0M584.9 248.6h0M585.3 251.7h0M585.5 251.9h0M585.8 249.3h0M586.9 247.5h0M586.8 252.6h0M586.8 248.2h0M586.3 251.3h0M587.6 248.8h0M587.1 247.6h0M588.4 250.3h0M588.3 249.8h0M588.7 247.2h0M588.7 251.2h0M589.3 251.3h0M589 249.3h0M589.8 250.9h0M590.3 252h0M590.6 250.8h0M590.1 248.6h0M591.6 249.5h0M591.2 249.2h0M591.6 250.8h0M591.6 250.3h0M592.8 249.8h0M591.5 251.4h0M593.1 251.6h0M593.6 251.1h0M593.6 248.4h0M592.7 252.4h0M593.7 251.9h0M594 252.8h0M594.9 248.9h0M594.8 249.1h0M595.1 251.3h0M595.3 250.3h0M595.6 250.2h0M595.8 250.9h0M596.2 247.7h0M596.6 250.6h0M597.1 249h0M596.9 252.9h0M597.7 248.5h0M598.1 249.8h0M598.2 251.6h0M598.6 248.8h0M598.9 251.5h0M598.8 251.1h0M599.7 248.7h0M599.3 252.4h0M600.5 252.5h0M600.1 247.6h0M600.9 250.9h0M600.4 252.9h0M601.4 249.5h0M602.4 248.1h0M1036.9 249.6h0M1036.6 249.7h0M1035 251.8h0M1037.1 252.1h0M1037.5 249.3h0M1036.8 251.8h0M1038.1 250.9h0M1037.5 250.8h0M1037.9 251.2h0M1038.6 251.2h0M1039.2 252.1h0M1040.4 250.3h0M1039.7 253.6h0M1039.6 253.2h0M1041.2 254.1h0M1041.7 252.8h0M1041.8 251.8h0M1041.8 254.2h0M1042.5 253.1h0M1041.9 251.7h0M1043.6 251.5h0M1042.5 254.6h0M1043.8 254.3h0M1045.1 251.6h0M1044.3 252.4h0M1045.1 254.7h0M1045.8 251.7h0M1045.3 256.1h0M1045.8 255.7h0M1046.7 254.1h0M1047.3 252.3h0M1046.2 256h0M1048.1 255.8h0M1048.8 254.3h0M1048.2 254.1h0M1049.4 252.9h0M1049.3 253.8h0M1048.8 255.3h0M1048.9 255.6h0M1049.4 252.9h0M1049.3 257.4h0"/><path fill="none" stroke="#24b484" stroke-width="3.4" stroke-opacity="0.85" stroke-linecap="round" d="M602.1 248.9h0M602 252.6h0M602.9 250.6h0M602.7 251.3h0M603.2 248.3h0M602.8 249.2h0"/><path fill="none" stroke="#30b484" stroke-width="3.4" stroke-opacity="0.85" stroke-linecap="round" d="M604.2 251.7h0M603.4 248.3h0M604.4 249.7h0M605 247.6h0M604.6 252.5h0M604.9 249.8h0M605.6 248.4h0M605.3 248.6h0M605.7 248.6h0M606.5 251h0M606.3 247.8h0M606.2 250.1h0M1052.4 255.9h0M1052.2 254.9h0M1052.6 256.4h0M1053.1 254.5h0M1053.6 255.3h0M1053.3 254.3h0M1053.7 258h0M1053.3 257.3h0M1054 256.5h0M1053.1 258.2h0M1054.3 255.8h0M1054 255h0M1053.7 257.5h0M1054.3 256.5h0"/><path fill="none" stroke="#30b478" stroke-width="3.4" stroke-opacity="0.85" stroke-linecap="round" d="M607.2 252.1h0M607.4 250.1h0M608 251.3h0M607.9 250.9h0M608.7 248.2h0M608.2 248.1h0M609.2 248h0M608.9 249.8h0M609.3 249h0M609.3 248.3h0M609.9 246.9h0M610.2 249.7h0M610.8 247.8h0M611 251.1h0M611.6 251h0M611.9 251.7h0M612.1 247.2h0M611.8 248.7h0M612.6 246.6h0M613.2 251.4h0M613.2 248.7h0M613.2 246.9h0M613.7 247.1h0M613.2 248.8h0M614.6 249.6h0M614.3 247.7h0M615.2 249.3h0M615.2 250.7h0M615.7 250.6h0M614.9 248.1h0M616.7 250.4h0M616.3 250h0M1055.8 253.3h0M1054.4 258.7h0M1054.7 255.1h0M1054.8 257.4h0M1055.2 258.6h0M1055.3 254.6h0M1057.5 254h0M1055.4 258.9h0M1057.2 258.3h0M1056.4 258.3h0M1056.7 256.6h0M1057 258.8h0M1057.8 255.8h0M1057.3 257.9h0M1057.8 259.1h0M1057.8 257.1h0M1058.3 257.9h0M1058.3 256.5h0M1057.4 258.9h0M1058.5 258.9h0M1058 259h0M1058.8 255.9h0M1060.7 255.8h0M1060.7 254.7h0M1059.5 256.4h0M1059.3 258.4h0M1060 258.3h0M1059.8 257.1h0M1060.4 258.2h0M1061.3 256.2h0M1061.1 257.6h0M1060.8 260.2h0M1061 255.2h0M1061.5 256.4h0"/><path fill="none" stroke="#3cb478" stroke-width="3.4" stroke-opacity="0.85" stroke-linecap="round" d="M616.9 250.4h0M616.7 248.8h0M616.8 246.1h0M617.2 246.4h0M617.5 246.5h0M617.7 250.1h0M618.1 246.3h0M618.6 247.7h0M619.9 250.7h0M619.2 250h0M619.3 245.2h0M619.5 245.4h0M621.2 249h0M621.1 250.3h0M621.4 248.6h0M620.9 247.9h0M621.1 247h0M621.5 249.9h0M622.4 249.7h0M622.3 247.5h0M623.2 249.7h0M623.6 250.1h0M622.8 245.6h0M623.7 248.2h0M624.2 247.3h0M624.7 249.9h0M625.4 248.4h0M625 249.9h0M624.8 245.7h0M624.7 246.6h0M625.4 244.8h0M625.8 245.8h0M626.5 250h0M626.5 249.2h0M627.6 248.9h0M626.1 244.8h0M627.9 249.1h0M628.3 249.3h0M1062 257.9h0M1062.4 254.9h0M1061.5 260.2h0M1062.5 257.6h0M1062.1 258.1h0M1062.5 256.2h0M1063 258.8h0M1063.5 254.9h0M1063.3 254.7h0M1063.3 258.8h0M1063.3 258.4h0M1063.7 258.2h0M1065 257.1h0M1064.3 259.2h0M1065.4 259.1h0M1064.6 257h0M1065.4 254.9h0M1064.8 258.1h0M1065.6 259.5h0M1065.7 256.9h0M1066.2 256.7h0M1066.2 257.8h0M1066.5 259.1h0M1066.2 259.6h0M1067.2 256.6h0M1066.7 259.3h0M1067.4 257.7h0M1066.5 258.9h0M1067.4 255.7h0M1067 258h0M1067.7 258.5h0M1067.5 254.6h0M1068.5 255.7h0M1067 259.4h0M1068.4 256.3h0M1068 259.5h0M1069.1 256h0M1069.2 255.2h0M1070.2 258.8h0M1069.4 258.6h0"/><path fill="none" stroke="#3cc078" stroke-width="3.4" stroke-opacity="0.85" stroke-linecap="round" d="M628 245.3h0M628.1 247h0M627.6 244.2h0M629.7 249.4h0"/><path fill="none" stroke="#48c078" stroke-width="3.4" stroke-opacity="0.85" stroke-linecap="round" d="M628.9 244.5h0M628.6 243.7h0M629.3 245.9h0M630.3 249h0M629.8 244h0M631.3 248.8h0M631.1 246.9h0M630.1 244h0M631.5 245.9h0M631.4 245.3h0M631.9 244.5h0M632.3 248.2h0"/><path fill="none" stroke="#48c06c" stroke-width="3.4" stroke-opacity="0.85" stroke-linecap="round" d="M633 246.2h0M633.5 247.5h0M633.9 246.5h0M632.7 244.2h0M634 245.5h0M634.1 247.5h0M634.8 247.1h0M634.4 243.1h0M635.6 247.4h0M634.5 242.5h0M636.1 247h0M635.5 245.9h0M1074.4 260.2h0M1073.5 255.9h0M1074.8 255.8h0M1074.2 260h0M1074.9 255.8h0M1074.9 258.4h0M1075.7 259.8h0M1074.7 256.4h0M1076 254.3h0M1075.5 256.5h0M1075.5 259.7h0M1076.5 257.8h0M1076 256.5h0M1076.1 257.9h0M1076.8 259.9h0M1076.6 255.4h0M1076.7 254.9h0M1077.2 258.8h0M1077.5 258.1h0M1077.5 260h0"/><path fill="none" stroke="#54c06c" stroke-width="3.4" stroke-opacity="0.85" stroke-linecap="round" d="M636.3 245.2h0M636.6 246.4h0M637.1 247.2h0M637.3 245.8h0M637 242.5h0M638.2 245.6h0M638.5 246.7h0M637.5 241.9h0M638.6 244.9h0M639.5 245.6h0M639.6 244.6h0M639.8 244.9h0M640 243.7h0M638.9 243.4h0M640.3 242.7h0M639.9 243.7h0M640.3 242.3h0M641.5 245h0M641.4 241.5h0M641.4 242.5h0M1077.9 257.6h0M1078.3 257.1h0M1078.7 255.1h0M1078.6 259.9h0M1078.8 259.9h0M1078.7 254.8h0M1078.9 259.2h0M1078.5 255.7h0M1078.6 255.2h0M1079.4 257.8h0M1078.4 254.1h0M1080 256h0M1079.9 259h0M1079.8 257.4h0M1080.2 255.4h0M1080.1 258.6h0M1080.4 255.9h0M1079.8 256h0M1080.7 260.3h0M1079.5 253.9h0M1081.5 259.5h0M1081 258.9h0M1081 256.7h0M1081.9 259.8h0M1081.4 255.1h0M1081.5 257h0M1082.6 259.7h0M1081 258.6h0M1081.4 257.5h0M1082.7 257.4h0M1082.5 259.4h0M1082 258h0M1082.4 252.9h0M1081.9 254h0M1082.9 257.4h0M1082.9 256.5h0M1083.3 257h0M1083.3 258.6h0M1082.8 256h0M1083.2 257.8h0M1083.2 258.6h0M1085 259.1h0M1082.8 255.6h0M1083.3 254.8h0M1083.7 255.1h0M1082.9 253.8h0M1085 254.8h0M1085.2 255.4h0M1083.7 257.6h0M1085.2 255.9h0M1083.9 253.4h0M1085.4 258.3h0M1085 253.2h0M1085.3 254.8h0M1084.9 255.4h0M1084.9 255.6h0"/><path fill="none" stroke="#60c06c" stroke-width="3.4" stroke-opacity="0.85" stroke-linecap="round" d="M640.9 241.1h0M642.4 245.3h0M642.8 246.5h0M642.1 243.2h0M642.6 242h0M643 243h0M643.2 241.7h0M643.3 241.4h0M644.1 241.2h0M644.5 242.6h0M645.3 242h0M644.8 241.7h0M1085.1 254.5h0M1086.3 258.8h0M1086.6 259.2h0M1086.3 257.8h0M1086.2 253.1h0M1086.6 254.9h0M1086.2 252.7h0M1086.8 257.7h0M1086.6 257.9h0M1087.4 259.1h0M1088.2 258.7h0M1086.5 252.7h0M1088.4 259h0M1088.4 259.2h0M1087.9 257.7h0M1088 253.7h0M1087.4 251.9h0M1087.1 254.5h0M1087.4 255.8h0M1089.7 259.4h0M1088.2 253.7h0M1089.3 257.2h0M1088.7 257.4h0M1088.8 255.3h0M1089.1 254h0M1089.5 257.3h0M1088.2 255.6h0M1087.5 252.8h0M1089.6 254.3h0M1089.6 258h0"/><path fill="none" stroke="#60c060" stroke-width="3.4" stroke-opacity="0.85" stroke-linecap="round" d="M645 240.6h0M646.6 244.6h0M646.2 244.2h0M647 243.3h0M646 240.9h0M647.4 245.1h0M1090 256.1h0M1088.9 254.1h0M1089 252.3h0M1089.4 252.7h0M1090.1 255.4h0M1089 253.2h0M1089.8 252.8h0M1091.4 255.6h0M1090 252.6h0M1090.7 255.6h0M1091.1 254.6h0M1091.7 255.2h0M1091.6 254.2h0M1090.3 251.1h0M1090.6 251.2h0M1091.6 255.8h0M1091.1 253.2h0M1091.3 253.7h0M1091.9 253.5h0M1091.8 254.6h0M1091.5 256h0M1092.7 259.1h0M1092.6 258.4h0M1092.2 254.3h0M1092.4 253.9h0M1092.5 253.1h0M1092.9 254h0"/><path fill="none" stroke="#6ccc60" stroke-width="3.4" stroke-opacity="0.85" stroke-linecap="round" d="M646.2 239.3h0M647.8 243.8h0M647.2 240h0M647.9 242.3h0M648.3 240.7h0M648.1 241.4h0M648.6 239.9h0M649.1 243.2h0M650.6 243.1h0M649 239.6h0M650.9 244.2h0M650.6 244h0M651.3 241.7h0M651.5 242.2h0M651.9 242.8h0M651.1 239.4h0M651.8 239h0M652 240.9h0M1096.6 257h0M1095.9 254.6h0M1095.9 254.9h0M1094.5 249.1h0M1095.5 250.6h0M1094.1 250.4h0M1096.7 254.5h0M1096.1 252.1h0M1096.2 252.8h0M1097.5 256.3h0M1096.8 255.8h0M1096.1 252.5h0M1097.3 254.2h0M1097.7 254.4h0M1096.4 253.2h0M1098.1 252.3h0M1097.4 253h0M1097.7 255.2h0M1097.6 250.1h0M1098.6 255.3h0M1097.8 253.4h0M1097.9 252.7h0M1098.1 252.5h0M1096.6 249.4h0"/><path fill="none" stroke="#78cc60" stroke-width="3.4" stroke-opacity="0.85" stroke-linecap="round" d="M651.9 238h0M652.2 240.7h0M654 242.4h0M653.9 241.4h0M653.2 237.8h0M653.7 240.4h0M653.7 238.3h0M654.8 240.5h0M654 238h0M655.4 241.8h0M654.6 237.5h0M655.2 237.7h0M656.5 240.7h0M655.9 239h0M657.1 241.8h0M656 237.4h0M657 238.7h0M656.1 236.3h0M1098.2 251.6h0M1097.8 253.1h0M1097.4 251.4h0M1098.3 250.7h0M1099.2 253.6h0M1099.4 253.5h0M1099.5 252.9h0M1098.3 248.7h0M1097.6 249.3h0M1100.5 253.7h0M1098.6 248.6h0M1100.4 254.1h0M1100.9 252.6h0M1101.5 255.1h0M1101.6 256.3h0M1100.9 255.2h0M1098.9 249.3h0M1100.8 253.2h0M1100.7 253h0M1100.6 250.5h0M1100.8 251.2h0M1101.9 254.1h0M1100 249.3h0M1101.5 253.8h0M1102.4 254.7h0M1100.3 250.1h0M1102.3 251.9h0M1102.6 254h0M1102.7 251.3h0M1102.5 253.4h0M1101.3 247h0M1101.3 249.9h0M1101.4 248.9h0"/><path fill="none" stroke="#84cc60" stroke-width="3.4" stroke-opacity="0.85" stroke-linecap="round" d="M658.9 240.9h0M656.6 237.3h0M657.8 236.5h0M656.5 235.9h0"/><path fill="none" stroke="#84cc54" stroke-width="3.4" stroke-opacity="0.85" stroke-linecap="round" d="M658.5 238.2h0M658.2 237.5h0M659.1 237.4h0M659.8 239.3h0M659.6 236.2h0M660.9 240.8h0M660.9 239.6h0M660.7 238.2h0M660.1 236.4h0M661.3 239.2h0M662.3 240.1h0M663.2 239.1h0M663.4 239.4h0M661.7 236.4h0M1104.4 253.9h0M1105 254.9h0M1104.1 249.3h0M1103.8 251.6h0M1104.5 251.8h0M1103.3 250.8h0M1103.9 248.6h0M1104.2 250.6h0M1105.4 253.2h0M1105.1 250.8h0M1106.9 254h0M1106.3 254.4h0M1103.9 245.7h0M1105.9 253.9h0M1105.9 250.4h0M1104.8 246.7h0M1104 245.8h0M1105.9 251.4h0M1106.3 248.6h0M1106.2 248.3h0M1104.9 248.6h0M1105.7 246h0M1104.7 246.2h0M1105.9 246.9h0M1107.4 252.6h0M1106.8 249.9h0M1107.3 251.6h0M1108 251.9h0M1105 245.5h0M1105.8 245.2h0M1106.7 248.9h0M1106.6 248.6h0M1107.4 251.4h0M1107.8 247.8h0M1109 253.5h0M1109.6 252.4h0M1107.7 248.8h0M1106.9 245.8h0M1108.3 249.4h0"/><path fill="none" stroke="#90cc54" stroke-width="3.4" stroke-opacity="0.85" stroke-linecap="round" d="M662.6 237h0M663.6 239h0M663.3 236.4h0M663.9 238.3h0M663.2 235.1h0M664.6 238.6h0M664 234.9h0M664.9 236.1h0M1108.2 248.6h0M1108.7 249.2h0M1109.8 252.4h0M1108.2 247.8h0M1110.1 250.4h0M1108.9 249.5h0M1111 251.9h0M1108.8 246.2h0M1108.1 247.4h0M1109.8 247.3h0M1108.5 245.4h0M1109.9 245.7h0M1108.6 245.7h0M1110.6 248.1h0M1109.9 248.2h0M1109.2 246.3h0M1109.5 245.5h0M1110.6 248.1h0M1111.5 250.9h0M1109.9 247h0M1110.6 249.5h0M1111.2 248.5h0M1110.2 245.3h0M1110.4 243.8h0M1110.3 244.8h0M1111.9 247.3h0M1111.3 250.7h0M1111.8 250.5h0M1111.1 247h0M1111.3 245.6h0M1113.5 251.8h0M1111.8 246.2h0M1112.3 248.9h0M1110.7 246.3h0M1110.6 243.4h0M1112 243.2h0M1112.7 247.1h0M1111.2 245.4h0M1112.3 248.5h0M1113.1 250.2h0M1114.4 251.5h0M1113.6 249.8h0M1112.2 249.3h0M1113.2 249.1h0"/><path fill="none" stroke="#90d854" stroke-width="3.4" stroke-opacity="0.85" stroke-linecap="round" d="M665.3 236.8h0M663.9 235.2h0M665.7 236h0M666.5 238.5h0M667 238h0M665.6 234.6h0M667.8 238.3h0M665.5 233.7h0M668.1 236h0M666.2 232.8h0M666.5 232.2h0M668.6 237.1h0M1112.8 246.5h0M1113.5 249.5h0M1113.6 247h0M1112.7 247.1h0M1113.3 244.5h0M1111.5 243h0M1114.1 247.9h0M1115.2 248.5h0"/><path fill="none" stroke="#9cd854" stroke-width="3.4" stroke-opacity="0.85" stroke-linecap="round" d="M667.3 232h0M667.6 233.1h0M668.2 232.1h0M669.4 235.4h0M668.6 231.5h0M669.1 233.4h0M669.3 232.4h0M669 232.5h0M670.6 234.7h0M671.3 235.7h0M670.2 231.3h0M670.5 233h0M672.6 235h0M671.2 231.2h0M671 231.1h0M671.1 232h0M1113.1 244.7h0M1114 245.8h0M1114.3 249.2h0M1115 249.7h0M1114.4 246.4h0M1114.6 245.9h0M1114.1 248.1h0M1113.8 245.2h0M1115.3 249.4h0M1114.7 245.2h0M1115 245.8h0M1113.2 244.1h0"/><path fill="none" stroke="#9cd848" stroke-width="3.4" stroke-opacity="0.85" stroke-linecap="round" d="M673.2 234h0M673.1 233.7h0M674.4 235.7h0M672.3 229.7h0M674.2 231.8h0M672.3 229.6h0M673.9 231.5h0M675.5 233.8h0M1114.4 244.2h0M1115.5 248.3h0M1116 249.4h0M1114.2 244.3h0M1115.1 246h0M1117 250.4h0M1113.9 241.4h0M1114.8 245.8h0M1116.3 246h0M1118 249.4h0M1116.3 248.8h0M1115.9 248.3h0M1116.2 247.5h0M1117.2 248.3h0M1115 242.5h0M1118.2 250.1h0M1115.2 243h0M1115.9 244.5h0M1116 247.6h0M1115.7 243.6h0M1117.3 247.7h0M1117.6 249.1h0M1116.8 244.7h0M1118.3 247.9h0M1116.1 242.4h0M1119 249.5h0M1117.8 247.7h0M1118.1 249h0M1118.1 247.3h0M1119.6 250.5h0M1119 247.6h0M1118.5 247.8h0M1118.1 247.9h0M1118.7 245h0M1117.4 241.2h0M1117.5 244.1h0M1118.5 245.7h0M1119.4 248h0M1118.3 244.8h0M1117.5 243.1h0M1117.7 242.2h0M1118.2 244.5h0M1118.9 245.7h0M1119 245.7h0"/><path fill="none" stroke="#a8d848" stroke-width="3.4" stroke-opacity="0.85" stroke-linecap="round" d="M674.4 230.5h0M675.9 234.4h0M674.6 230.7h0M674.5 230.3h0M675.4 230.1h0M675 229.2h0M675.9 229.1h0M675.5 229.8h0M677.3 231.2h0M675.9 229.4h0M677.1 229.3h0M677.8 230.8h0M678.7 232.7h0M679.7 232.3h0M679.9 232.2h0M678.6 230.2h0M679.5 230.3h0M678.6 227.3h0M678.7 227.6h0M678.8 228h0M679.1 226.3h0M678.8 227.7h0M1119.3 243.6h0M1117.8 241.7h0M1119.8 248.4h0M1118.3 243.6h0M1118.5 243.7h0M1120.2 246.9h0M1120 247h0M1118.4 244.1h0M1119 242.7h0M1119.8 245.4h0M1119.7 243.5h0M1120.5 248.1h0M1119.9 242.7h0M1121 244.1h0M1120.9 244.7h0M1121.3 246.1h0M1122.4 246.6h0M1121.2 245.5h0M1121.1 245.8h0M1121.3 246.2h0M1120.2 242h0M1121.1 245.2h0M1121.9 246.7h0M1122 246.5h0M1121.7 244h0M1122 245.6h0M1119.2 240.5h0M1119.5 240.2h0M1122.9 248.4h0M1121.1 241.3h0M1120.8 243.1h0M1121.8 243h0M1122 241.4h0M1123.4 247.9h0M1121.7 243.8h0M1120.2 239.8h0M1121.8 242.9h0M1123.7 247.4h0M1123.3 245.5h0M1122.2 240.9h0M1122.7 242h0M1121.9 240.5h0M1123.5 247.6h0M1122.9 243.4h0M1122.8 241h0M1122.3 241.7h0M1123 241h0M1122.7 241.7h0M1124.5 243.3h0M1124.4 243h0M1124.7 246.1h0M1124.2 243h0M1123.1 239.1h0M1125.9 246.2h0M1121.9 240.1h0M1125.5 248.1h0"/><path fill="none" stroke="#b4d848" stroke-width="3.4" stroke-opacity="0.85" stroke-linecap="round" d="M681.8 231.6h0M681.3 229.6h0M681.9 229.6h0M680 225.9h0M680.3 225.8h0M681.1 227.1h0M683.7 230.2h0M683.5 230h0M682.9 228.1h0M682.8 227.3h0M683 226.5h0M683.7 228.4h0M685.2 228.6h0M683 224.5h0M683.4 225h0M683.2 224.5h0M686.4 229h0M684.7 225.4h0M685.4 226.9h0M686.3 227h0M688.1 229.3h0M686.7 227h0M685.7 224.2h0M687.4 227.6h0M1122.3 238.8h0M1125.1 244.7h0M1123.5 243.2h0M1125.6 243.4h0M1125.9 245.8h0M1123.9 240.1h0M1123.2 239.3h0M1125.6 244.3h0M1126.9 246.4h0M1124.3 239.6h0M1125.6 246.7h0M1126.1 244.9h0M1127 247.8h0M1126.5 245.2h0M1124.4 239.8h0M1127.1 245.4h0M1126.3 242.9h0M1127.8 246.1h0M1125.4 239.8h0M1126.7 241.5h0M1124.6 238.1h0M1128 247.5h0M1125.6 241.6h0M1126.2 239.5h0M1127.4 246.4h0M1127.4 245.3h0M1125 239.6h0M1127.9 245.8h0M1125.9 239.6h0M1128.2 245.1h0M1125.1 237.8h0M1127.2 242.2h0M1127.4 241.8h0M1128.3 242.5h0M1126.6 238.9h0M1126.7 240.7h0M1129.3 243.8h0M1127.7 242.8h0M1127.5 240.4h0M1128.5 242.7h0M1127.5 242.1h0M1126.7 238.8h0M1129.4 245.5h0M1128.6 242.8h0M1129.7 244.8h0M1127.2 242.1h0M1128 239.6h0M1128 242.2h0"/><path fill="none" stroke="#c0d848" stroke-width="3.4" stroke-opacity="0.85" stroke-linecap="round" d="M685.9 222.9h0M688.4 227.4h0"/><path fill="none" stroke="#c0d83c" stroke-width="3.4" stroke-opacity="0.85" stroke-linecap="round" d="M687 224.8h0M686.9 223.3h0M686.7 222.1h0M688.5 226.1h0M689.1 224.5h0M690.1 226.6h0M688.5 222.4h0M689.4 224h0M688 222.4h0M690.7 225.8h0M689.5 223.1h0M690.1 223.9h0M690.1 221.9h0M691.9 226h0M691.6 224.7h0M690.1 221.1h0M1129.9 236.6h0M1132.3 241.8h0M1132.4 243.5h0M1132.5 241.8h0M1131.5 240.3h0M1133 243.2h0M1133.9 244.4h0M1131.7 239.1h0M1134.2 243.1h0M1131.8 238.5h0M1133.4 242h0M1130.9 237.8h0M1133.3 241.2h0M1132.1 238.5h0M1131.9 237.6h0M1131.2 236.4h0M1132.7 240h0M1131.8 236.1h0M1132.6 239.1h0M1131.4 236.9h0M1133.7 240.3h0M1135.2 243.2h0M1134.6 243.3h0M1132.8 239.6h0M1132.9 237.1h0M1132.7 238.2h0M1133.6 238.8h0M1132.3 235.5h0M1135.3 242.5h0M1133.9 240h0M1134.5 240.1h0M1133.7 239.1h0M1135.7 240.7h0M1133.6 236.3h0M1135.2 242.4h0M1135.4 241.1h0M1134.2 235.8h0M1134.8 240.6h0M1136.6 241.7h0M1133.8 236.6h0M1135.2 238.6h0M1133.9 236.2h0M1136.3 242.1h0M1132.9 234.1h0M1136.2 239.5h0M1135.3 238.1h0M1135.3 238.3h0M1135.1 236.5h0M1136 239h0M1136.2 239.6h0M1137.5 241h0M1136.8 240.8h0M1135 234h0M1137.9 242.1h0M1137.4 242h0M1136.1 237.9h0"/><path fill="none" stroke="#c0e43c" stroke-width="3.4" stroke-opacity="0.85" stroke-linecap="round" d="M692 222.5h0M690 221h0M692.8 223.4h0M691.2 221.1h0M691.6 221.1h0M1136.5 237.4h0M1137.3 242h0M1135.3 235.9h0M1136 235.8h0M1137.8 239.7h0M1139.6 244.2h0M1138.5 241.3h0M1135.6 234.9h0M1138.3 239.7h0M1136.5 236.5h0M1135.7 232.7h0M1137.5 239.4h0M1138.6 239.4h0M1138.4 237.1h0M1138.4 239.6h0M1137.8 237h0M1138.7 240.3h0M1137.3 235.1h0M1140 242.7h0M1139.1 239.3h0M1137.3 233.4h0M1136.9 233.7h0M1137.6 235.1h0M1139.3 239.2h0"/><path fill="none" stroke="#cce43c" stroke-width="3.4" stroke-opacity="0.85" stroke-linecap="round" d="M692.4 221.4h0M692.9 222.4h0M690.7 219.7h0M694.1 223.1h0M695 224.3h0M694 222.5h0M695.4 224h0M692 219.5h0M692.3 219.3h0M694 220.6h0M695.6 223.5h0M694.2 221.3h0M693.4 219.2h0M694.3 220.3h0M695.4 222h0M694.7 220.1h0M694.9 220.4h0M694.9 219.1h0M696.9 221h0M696.3 221.1h0M696.7 221.3h0M696 220.2h0M696.7 220.6h0M697.5 221.7h0M696.2 219.3h0M696.6 219.4h0M697.3 219.7h0M697.5 219.6h0M698 220.5h0M695.4 216.8h0M699.1 220h0M699.3 221.3h0M697.3 217.6h0M699.4 220.1h0M697.5 218h0M697.2 217.3h0M1139.8 239.4h0M1139.4 237.2h0M1141.9 242.5h0M1138 235.3h0M1138.3 236.1h0M1141 240.6h0M1139 237.6h0M1137.4 234h0M1139.4 238.4h0M1138.4 233.4h0M1141.3 241.9h0M1141.6 241.6h0M1141.1 239.5h0M1138.5 234.4h0M1142.7 241.2h0M1140.7 238h0M1140.3 238.2h0M1141.7 241h0M1141.2 237.8h0M1141.7 239.9h0M1141.3 239.5h0M1139.2 235h0M1140 236.3h0M1139.3 231.5h0M1139.2 231.8h0M1139.1 232.8h0M1138.6 233.3h0M1142.4 236.7h0M1143.1 241.7h0M1140.6 236.6h0M1140.9 236.7h0M1141.8 235.7h0M1142.9 240.5h0M1142 237.3h0M1140.4 232.6h0M1140.1 232.6h0M1140.9 235.6h0M1143 238.6h0M1141.3 234.3h0M1143 239.6h0M1141.6 236.2h0M1141.1 234h0M1140.7 231.5h0M1142.6 237h0M1144 238.4h0M1143.5 239.6h0M1141.5 233h0M1141.5 232.8h0M1143.6 237.6h0M1144.3 240h0M1144.4 241.4h0M1143.8 238.3h0M1143.7 235.4h0M1142 232.4h0M1141 232.7h0M1140.9 230.9h0M1143.4 235.8h0M1141.8 232.1h0M1144.7 240.5h0M1143.4 233.9h0M1142.4 232.2h0M1141.5 232h0M1141.6 230.2h0M1144.7 237.2h0M1143 233.8h0M1143.4 234.4h0M1143.2 232.9h0M1143.4 232.8h0M1144.5 235.4h0M1145 238.6h0M1144.1 236.5h0M1144.8 237.3h0M1144.3 233.7h0M1141.9 231.1h0M1143.9 234.1h0M1144.5 234.4h0M1146.6 240.4h0M1145.9 238.9h0M1143.8 233.1h0M1144.9 233.3h0M1143.8 231.3h0M1144.2 232.8h0M1144.5 233.8h0M1143.7 230.4h0M1146.9 241.1h0M1145.7 236.2h0M1144 233.4h0M1143.2 230.4h0M1146.3 236.8h0M1145.4 233.9h0M1147.4 238.1h0M1145 232.7h0M1144.7 232h0M1144.4 230.5h0M1148.1 239.9h0M1144.5 231.2h0M1146.7 236.6h0"/><path fill="none" stroke="#d8e43c" stroke-width="3.4" stroke-opacity="0.85" stroke-linecap="round" d="M697.6 216.5h0M698.5 217.5h0M699.8 218.9h0M698.3 217.1h0M696.7 215h0M698.2 217.3h0M699.7 218.5h0M699.6 217.1h0M701 218.9h0M699.6 216.5h0M700.8 217.4h0M701.9 219.9h0M699.8 215.9h0M700.7 216.5h0M698.8 214.1h0M1149.4 237.7h0M1148.2 238.4h0M1146.7 234.7h0M1144.8 230.6h0M1147 237.7h0M1146.2 233.6h0M1149.2 238.9h0M1147 236.8h0M1145.9 233.8h0M1145.2 232.8h0M1149.4 237.7h0M1149.3 239.5h0M1148.9 239.8h0M1149.3 239.6h0M1146.1 231.3h0M1148.6 237h0M1148.4 238.1h0M1150.2 239.6h0M1146.1 231.5h0M1144.4 229.9h0M1146.2 231h0M1146.6 231.9h0M1148.7 234.6h0M1147 232.6h0M1147.4 233.9h0M1147.1 230h0M1146 229.3h0M1148.9 235.5h0M1146.4 231h0M1149.9 237h0M1147.4 230.8h0M1150.7 237.9h0M1148.6 233.3h0M1147.7 228.8h0M1150.4 238h0M1151.7 239h0M1150.8 236h0M1147.4 229h0M1148.8 233.1h0M1149.4 233.7h0M1149.8 236.4h0M1150.2 233.5h0M1148.4 231.5h0M1150.8 236.6h0M1148.5 231.1h0M1152.1 238.1h0M1150.2 234.1h0M1149.5 232.7h0M1151.5 234h0M1151.2 235.8h0M1149.1 229.7h0M1151 232.7h0M1150 233.5h0M1151.8 238.3h0M1149.1 231.1h0M1150.9 232.7h0M1150.2 233.7h0M1152.3 237.8h0M1149.9 231.5h0M1152 234.5h0M1149.9 230.2h0M1149.9 232.5h0M1151.8 235.8h0M1152.5 237h0M1150.5 231.7h0M1152.7 236.4h0M1153.8 238h0M1151.1 233.6h0M1152 235.6h0M1152.9 235.7h0M1150.3 228.6h0M1149 228.6h0M1149.7 228.3h0M1148.8 226.5h0M1151.5 231.5h0M1150.4 227.2h0M1151.4 229.3h0M1154 235.3h0M1150.2 227.9h0M1151.1 230h0"/><path fill="none" stroke="#d8e430" stroke-width="3.4" stroke-opacity="0.85" stroke-linecap="round" d="M699.3 214.2h0M700.1 215h0M700.3 216.6h0M699.4 213.8h0M700.5 214.9h0M702.3 216.8h0M703 217.1h0M700.7 212.9h0M703.1 216.5h0M701.8 214h0M702.9 215.6h0M702.1 214.7h0M700.5 212.1h0M701.3 213.5h0M703.7 215.7h0M703.1 213.5h0M703.5 214.3h0M704.7 215.3h0M1149.6 228.2h0M1155 237.3h0M1151.3 229.4h0M1152.6 234h0M1153.3 234.9h0M1152.3 230.7h0M1150.7 226.5h0M1151.9 232.2h0M1154.2 237.7h0M1151.4 227.8h0M1152.3 231.8h0M1151.5 227.3h0M1152.7 232.4h0M1154.1 233.8h0M1153 232h0M1152.8 229.9h0M1153.3 230.8h0M1153.6 233.8h0M1153.4 229.9h0M1153.4 233.2h0"/><path fill="none" stroke="#e4e430" stroke-width="3.4" stroke-opacity="0.85" stroke-linecap="round" d="M701.7 211h0M703.4 213.5h0M704.4 214h0M704.4 214.1h0M702.1 211.5h0M704.9 214.5h0M703.6 212.7h0M706.4 214.2h0M702.6 210.5h0M703.6 211.6h0M703.8 211h0M705.2 212h0M704.6 211.7h0M704.4 211h0M703.6 210.1h0M707.8 214.9h0M705.9 211h0M705.2 210.5h0M704.6 209h0M705 209.6h0M704.8 209.5h0M708.6 213.3h0M706 210.6h0M707.2 211.5h0M1153.9 233.3h0M1153.9 230.5h0M1153.3 229h0M1156 236.8h0M1151.8 226.8h0M1152.7 229.5h0M1152.8 226.5h0M1152.1 226.9h0M1155.3 234.5h0M1156.4 235.9h0M1153.7 227h0M1156.1 235.3h0M1155.2 232.4h0M1156.5 236.6h0M1153.3 227h0M1155.6 233.5h0M1154 231.1h0M1156.2 233.5h0M1156.1 233.3h0M1153.8 230.4h0M1157.7 235h0M1157.3 234.8h0M1153.5 226.4h0M1156.3 233.7h0M1154.4 231.1h0M1155.2 229.5h0M1153.1 226.3h0M1155.9 230.4h0M1157.3 234.7h0M1153.7 226.1h0M1154.8 226.3h0M1154.4 226.3h0M1155.1 227.5h0M1157.3 231.3h0M1154.3 226h0M1155 227h0M1156 228.2h0M1156.5 230.5h0M1157.7 234.8h0M1154.8 224.7h0M1159.1 234.2h0M1159.5 233.7h0M1155.4 226.7h0M1158.3 233.7h0M1157.8 233.1h0M1155.6 225h0M1156 227.3h0M1157.2 231.5h0M1156.6 225.6h0M1157.5 232.2h0M1155.8 226.2h0M1156.6 229.4h0M1155.4 226.2h0M1156.4 225.6h0M1157.4 229.1h0M1159 233.4h0M1156 225.6h0M1158.7 231.4h0M1158.9 231.7h0M1156.4 226.5h0M1159.8 233.6h0M1157.6 226.4h0M1156.7 226.3h0M1158.2 229.7h0M1161.4 234.5h0M1157.2 226.6h0M1159.4 234.3h0M1159.1 231h0M1158 228.5h0M1157.6 228.6h0M1158 226.1h0M1156.9 225.7h0M1160.4 233.1h0M1156.7 224.4h0M1157.5 225.8h0M1161.9 234.4h0M1159.2 229.2h0M1161.2 231.6h0M1158.1 226.3h0M1157.9 227h0M1158.5 226.6h0M1159.1 228.4h0M1161.4 231.6h0M1157.8 224.3h0M1158.8 226.2h0"/><path fill="none" stroke="#249090" stroke-width="3.0" stroke-opacity="0.6" stroke-linecap="round" d="M521.8 205.1h0M522.9 206.5h0M523.4 207.6h0M524.3 209.1h0M524.9 210.6h0M525.8 211.9h0M526.7 212.9h0M527.3 214.2h0M528.5 215.7h0M529.1 216.9h0M530 217.9h0M531 219.3h0M531.9 220.5h0M532.8 221.4h0M533.9 222.7h0M534.8 223.3h0M535.9 224.6h0M537.3 225.4h0M538.6 227.1h0M539.7 227.8h0M540.7 228.6h0M541.8 229.7h0M543.1 230.2h0M543.9 231.3h0M545.7 231.7h0M546.5 232.9h0M547.7 233.5h0M549.6 234.6h0M550.6 235.4h0M551.6 236.7h0M553.1 237h0"/><path fill="none" stroke="#48306c" stroke-width="3.4" stroke-opacity="0.85" stroke-linecap="round" d="M526.7 168.5h0M527.5 169.2h0M528 169.7h0M528.5 170.4h0M529.8 171.3h0M530.2 171.8h0M530.7 172.7h0M531.8 173.3h0M532.7 173.5h0M533 174.8h0M534.1 174.9h0M535.1 175.5h0M536 176.1h0M536.8 176.3h0M537.7 176.8h0M538.6 177.8h0M539.3 178.6h0M539.5 179h0M540.7 179.6h0M540.9 180.4h0M540.1 180.8h0M539.2 180.7h0M537.7 180.2h0M536.9 180.5h0M536.1 180.5h0M535.2 179.9h0M533.7 179.9h0M532.7 178.8h0M532.6 178.4h0M531.6 178.1h0M530.7 177.6h0M529.9 176.7h0M529.4 176.3h0M525 169.2h0M525.8 169.6h0M526.8 170.4h0M527.4 171.1h0M528.1 172h0M529.5 172.3h0M529.8 173h0M530.5 173.5h0M531.3 174.1h0M532 174.8h0M532.7 175.9h0M534 175.8h0M534.8 176.7h0M535.7 177h0M536.2 178h0M537.1 178.4h0M538.3 179.5h0M538.8 179.5h0M539.2 180.4h0M539.9 180.5h0M540.1 179.5h0M539.6 179.6h0M538.5 179.5h0M537.5 179.3h0M537 178.9h0M536 178.9h0M534.6 178.6h0M534.4 178.2h0M533.4 177.8h0M532.5 177h0M531.6 176.6h0M531.2 176.1h0M530.4 175.5h0"/><path fill="none" stroke="#b4d854" stroke-width="3.4" stroke-opacity="0.8" stroke-linecap="round" d="M632.4 238.2h0M633.4 238h0M634.2 238.8h0M633.4 236.5h0M634.9 238h0M634 236.7h0M634.7 237.6h0M635.2 237h0M635 235.2h0M636.3 238.3h0M636.3 239.6h0M635.7 236.3h0M636.1 235.1h0M636.7 236.3h0M638.3 235.7h0M637.6 236.8h0M637.4 234.2h0M638.6 237.6h0M639.4 237.5h0M639.5 237.6h0"/><path fill="none" stroke="#c0d854" stroke-width="3.4" stroke-opacity="0.8" stroke-linecap="round" d="M640.3 237.3h0M640.9 237.6h0M639.8 236.2h0M640.4 236.3h0M641.7 237.8h0M640.2 234.5h0M642.1 236h0M642 237.7h0M643.1 236.6h0M643.3 236.1h0M644.4 236.6h0M643.7 238.1h0M643.1 232.6h0M644.9 236.4h0"/><path fill="none" stroke="#c0e454" stroke-width="3.4" stroke-opacity="0.8" stroke-linecap="round" d="M645 236.5h0M645.2 235.9h0M645.3 235.1h0M644.3 231.3h0M645.4 231.8h0M644.8 232h0M646.3 232.4h0M646.4 235.1h0M647.2 234.7h0M647.8 234.3h0M649 235.6h0M647.3 231.7h0M648.5 233.4h0M649.2 235h0"/><path fill="none" stroke="#c0e448" stroke-width="3.4" stroke-opacity="0.8" stroke-linecap="round" d="M649.2 234.5h0M649.3 233.8h0M649.3 232.6h0M648.8 231.5h0M651 232.8h0M650.8 233.4h0M652.6 234.5h0M651.2 234.6h0M651 231.1h0M652.4 233.5h0"/><path fill="none" stroke="#cce448" stroke-width="3.4" stroke-opacity="0.8" stroke-linecap="round" d="M653.2 233.8h0M653.5 233.2h0M653.9 234h0M652.3 230.3h0M654.1 231h0M654.5 232.1h0M655.5 233.9h0M654.5 230.9h0M654.7 233.2h0M656.5 233.5h0M656.4 231.3h0M656.1 232h0M655.8 230.5h0M656.5 231.9h0M657 231.6h0M656.1 230.6h0M657.8 231.4h0M657.7 230.3h0M659.1 232.8h0M658.3 228.2h0M658.2 227.2h0M659.1 229.1h0M660 229.8h0M659.2 228.5h0M661.1 231.9h0M661.1 230.4h0M660.4 226.8h0M660.4 227.3h0M662.1 229.4h0M661.7 229.8h0M662.9 230.6h0M662.1 228.8h0M663.5 229.4h0M662.6 228h0M664.4 229.5h0M663.4 228.2h0M663.2 225.7h0M664.5 227.9h0M664.4 226.6h0M665.8 229h0"/><path fill="none" stroke="#d8e448" stroke-width="3.4" stroke-opacity="0.8" stroke-linecap="round" d="M666.2 229.6h0M665.6 226.8h0M666.4 227.6h0M666 226.7h0"/><path fill="none" stroke="#d8e43c" stroke-width="3.4" stroke-opacity="0.8" stroke-linecap="round" d="M667.1 227.7h0M667.5 226.7h0M667.7 225.2h0M667.4 225.9h0M668.6 228.5h0M668.3 227.6h0M669.9 229h0M670.2 228.6h0M670 225.9h0M670 227.8h0M670 226.5h0M670.6 223.7h0M670.6 225.4h0M670.4 224h0M670.2 223.5h0M671.8 225.4h0M672.4 224.5h0M671.1 224.5h0M673.2 227h0M673.2 225.4h0M672.7 224.5h0M672.7 222.4h0M673.8 223.8h0M673.6 224.3h0M674.5 222.8h0M674.4 222.6h0M676.7 225.8h0M674.7 222.5h0M677.5 225.8h0M676.2 224.5h0M675.9 221.6h0M676.1 222.5h0M677.8 221.9h0M678 224.5h0M677.3 220.9h0M677.7 222.2h0M678.6 221.1h0M677.4 220.5h0"/><path fill="none" stroke="#e4e43c" stroke-width="3.4" stroke-opacity="0.8" stroke-linecap="round" d="M679.1 222h0M678.9 219.9h0M679.7 221.5h0M680.3 224h0M680.9 221.5h0M681.4 223.1h0M682 223.6h0M681.4 221.7h0M682.6 222.2h0M680.8 219.4h0M682.8 221.4h0M682.7 222.8h0M682.9 219.9h0M683.4 220.5h0M683.9 220.4h0M683.8 220.7h0M684.9 219.7h0M684.5 218.8h0M685.6 220.6h0M684.1 219.1h0M687.2 221.7h0M686 218.8h0M686.3 218.9h0M687.5 221.3h0M686.5 216.7h0M687.3 218.3h0M687.9 219.3h0M688.1 219.6h0M688.3 218.2h0M688.6 218.8h0M689.9 220.1h0M688.9 217.5h0M689.5 217.8h0M690.7 218.2h0M690.4 217.2h0M690.4 217.6h0M689.7 214.5h0M691 218.7h0M691.2 215.9h0M691.7 218.4h0M693.3 218.4h0M692.2 215.8h0M692.8 216.8h0M692.8 217h0M694.2 217.2h0M693.1 214.5h0M694.6 214.8h0M695 216.5h0M693.8 213.1h0M694.8 214.9h0M696.3 216.3h0M695.7 215.1h0M695.1 212.9h0M695.3 214.1h0"/><path fill="none" stroke="#e4e430" stroke-width="3.4" stroke-opacity="0.8" stroke-linecap="round" d="M696.3 215.2h0M695.6 212.5h0M697.8 216.4h0M697.6 212.4h0M698.9 215.5h0M696.9 212h0M698.7 216.1h0M698.6 212.4h0M698.9 211.7h0M699.1 214.2h0M698.3 210.7h0M700.7 213.5h0"/><path fill="none" stroke="#f0e430" stroke-width="3.4" stroke-opacity="0.8" stroke-linecap="round" d="M699.2 210.2h0M699.8 212.5h0M700.5 212h0M701.6 214h0M699.7 209.8h0M700.5 209.9h0M702.7 213.5h0M702.4 212.5h0M703 210.2h0M703.7 212.1h0"/><path fill="none" stroke="#54c06c" stroke-width="3.2" stroke-opacity="0.8" stroke-linecap="round" d="M704.1 213.7h0M704 212.9h0M704.2 211.9h0M704.1 210.9h0M704.4 209.9h0M704.7 208.8h0M705 207.8h0M705.8 207.2h0M706.9 206.8h0M707.8 206.4h0M708.7 206.8h0M709.4 207.6h0M709.6 208.2h0M709.7 209.5h0M709.7 210.5h0M710 211.6h0"/><path fill="none" stroke="#50bee6" stroke-width="3.4" stroke-opacity="0.78" stroke-linecap="round" d="M787.7 120.1h0M793.4 105.5h0M844.2 91.6h0M820 103.6h0M790.1 105.2h0M801 100.6h0M790.2 146.1h0M805.2 125.7h0M828.6 89.6h0M826.8 101h0M828.7 89.1h0M799 141.3h0M798.2 156.7h0M827.4 94.4h0M800.6 128.9h0M823.9 114.9h0M822.6 90.6h0M793.7 110.5h0M812.9 114.8h0M813.5 137.7h0M842.4 104h0M777.7 112.2h0M806.4 118.1h0M795.3 129.3h0M795 107h0M798.4 99.6h0M797.6 114.7h0M807 156.6h0M807.6 164.2h0M832.8 87.9h0M838.2 96.3h0M828.7 92.9h0M795.6 125.5h0M783.3 108.8h0M808.8 110.5h0M786.8 148.8h0M827.7 91.9h0M837.7 93.5h0M806.7 125.9h0M828.5 106.2h0M838.3 88.2h0M808.2 135.6h0M835.3 88.7h0M807.4 132h0M807.4 105.6h0M830.4 107.1h0M781.8 112.8h0M812.6 108h0M821.8 91.7h0M792.2 134.9h0M838.3 92.7h0M824.4 93.4h0M826.9 148.9h0M804.7 99.8h0M791.3 102.6h0M791.7 112.1h0M806.1 146.7h0M791.3 110.7h0M793.4 104h0M792.2 103.5h0M811.7 134.7h0M830.7 95.6h0M790.5 111h0M833.3 91.1h0M835.5 87.1h0M801.7 98.8h0M830.2 96.5h0M812.6 128.6h0M844.3 104h0M799.4 107.2h0M786.6 112.6h0M830.1 88.1h0M788.4 112h0M789.6 144h0M812.5 147.1h0M808.8 145.2h0M795.2 147.9h0M808.5 102.8h0M789.1 103.7h0M828.5 146.9h0M808.8 123.2h0M840.5 92.8h0M814.5 99.6h0M804.6 144h0M802.9 149.7h0M832.1 94.9h0M810.9 135.8h0M800.9 97.2h0M791.4 143.7h0M803 99.2h0M796 115.2h0M826.7 96.6h0M806.5 110.2h0M786.3 146.3h0M799.5 111.7h0M798.6 138.4h0M822.9 118.5h0M814.3 94.5h0M823.1 89.7h0M821.2 109.1h0M803.6 153.2h0M839 99.6h0M796.7 117h0M794.1 106.2h0M798.8 103.7h0M825 89.5h0M833.9 87.3h0M829.9 95.3h0M787.7 107.7h0M806 109.1h0M832.6 91h0M827.6 110.9h0M794.6 150.3h0M794.3 101.2h0M814.8 111.6h0M803.9 113.4h0M827.8 97.8h0M788.1 142.3h0M806.8 94.9h0M827.8 90.6h0M802.9 142.3h0M797.2 99h0M787.5 106.5h0M806.6 133.4h0M817.5 115.5h0M802.5 98.3h0M807.4 156.2h0M803.1 147.8h0M789.4 144.3h0M805.9 115.2h0M806.2 133h0M810.2 138.8h0M808.2 131h0M795.6 103h0M840.3 89.1h0M803.1 144.5h0M830.2 97.7h0M805.7 107.4h0M844.2 88.7h0M837.8 93h0M795.1 109.4h0M789.5 143.2h0M798.2 106.1h0M792.4 103.7h0M831 103.7h0M785.5 107.6h0M807.1 137.1h0M815.2 120.2h0M783.7 110.9h0M825.2 91.8h0M802.7 127.3h0M795.6 143.6h0M791.7 104.9h0M841.1 88.7h0M808.9 101.5h0M801.7 139h0M829.9 102.3h0M796.8 120.9h0M825.2 102.9h0M826 98.8h0M834 88.2h0M796.7 115.9h0M799.6 124.6h0M793.1 127.6h0M835.5 88.9h0M788.6 147.8h0M804.2 118.7h0M796.9 99.2h0M834.9 96.9h0M814.3 114.7h0M815.2 138h0M813.7 119.3h0M786.5 107.2h0M829.7 91.3h0M808.6 118h0M786.8 110.4h0M809.9 150.6h0M782.5 114.7h0M831.6 90.3h0M795.4 108.5h0M825.3 99.8h0M798.1 144h0M793.5 134.7h0M820.9 146.7h0M791 125.1h0M800.5 101.1h0M794.9 122.3h0M821.6 98.5h0M812.7 112.1h0M838.2 90.7h0M838.2 87.6h0M833.4 98h0M798 136.8h0M798.9 122h0M813 110.9h0M797.2 142.9h0M788.9 106.6h0M824.6 97.1h0M786.9 105.1h0M795.1 101.2h0M829.4 114.5h0M833.3 89.9h0M798.8 104.2h0M806.6 129.9h0M836.6 105.4h0M789 141.2h0M812 114.4h0M788 107.6h0M806.7 103.4h0M779.2 113.9h0M785.5 135.1h0M839.7 92.6h0M841.2 92.4h0M786.7 106.7h0M797.7 107h0M832.5 92.2h0M843.9 86.3h0M833.8 87.3h0M824.1 89.6h0M793.9 109.5h0M800.2 98.8h0M819 144.8h0M781.2 109.5h0M784 107.5h0M835.3 89h0M845.7 89.4h0M815.4 128.1h0M799.8 98.5h0M813 123.9h0M787.6 106.1h0M802.5 125.7h0M813.7 146.6h0M779.6 118.9h0M812.3 96.4h0M820.2 90.1h0M804 116.8h0M837.1 95.5h0M808 101.3h0M836.5 92.8h0M837.4 92.2h0M800.2 155h0M835.3 111.2h0M797 99.1h0M804.8 104.2h0M797.1 105.2h0M817.7 112.8h0M819.3 150.7h0M827.9 89.5h0M811.6 109.7h0M845 91.2h0M790.8 114.8h0M813.3 115.3h0M809.4 145h0M818.1 113.1h0M833.3 108.8h0M800.3 97.7h0M797.1 108.7h0M794.7 103.8h0M800 112.7h0M837 94.7h0M802.5 135.2h0M797.4 107.6h0M833 92.9h0M808.2 139.1h0M807.9 95.5h0M793.3 109.8h0M806.8 153.5h0M813.5 111.8h0M797.7 101.1h0M791.8 106.1h0M791.1 104.5h0M813.3 138.5h0M795 103.9h0M840.2 95h0M806.1 136.5h0M791.9 155.2h0M819.5 91.1h0M799.7 99h0M798.2 103.4h0M802.5 121.9h0M816.4 95.5h0M801.4 100.6h0M808.8 112.8h0M784.2 145.9h0M804.8 116.1h0M807.9 155h0M828.3 128.1h0M802.1 135h0M782.1 118.9h0M806.6 149.5h0M794.4 129.8h0M793.1 106.8h0M785.8 120.2h0M811 137.9h0M801.7 102.2h0M806.7 139.7h0M837.3 89.1h0M789.6 104.3h0M811.8 145.9h0M790.8 115.5h0M800.3 104.1h0M832.7 87.5h0M819.1 138h0M834.8 94.3h0M799.4 136.1h0M829.6 92h0M805.4 116.5h0M833.3 88.8h0M793.8 107.4h0M836.6 91.2h0M803.5 104h0M830.3 89.1h0M804.5 138.7h0M791.3 103.8h0M795.6 99.9h0M822.2 127.7h0M793.4 122.7h0M807.1 106.5h0M830 93.8h0M811 124.2h0M792.9 150.9h0M805 163.3h0M792.7 119.8h0M797.7 100.6h0M787.1 115.2h0M787.3 140h0M802.5 142.1h0M793.5 142.3h0M789 106.1h0M826.6 92.4h0M819.6 136.3h0M834.5 88.4h0M793.9 101.1h0M798.5 138.7h0M791.1 109.8h0M832.4 88.6h0M790.7 118.8h0M833.1 108.4h0M806.3 105h0M793.6 154.2h0M795.2 105.5h0M832.1 93.3h0M814.6 146.1h0M817.6 145h0M789.7 105.2h0M785.4 107.9h0M831.1 89.6h0M785.1 108.8h0M814.9 148.3h0M837.4 93.1h0M835.7 92.6h0M839.8 93.2h0M814.4 137.8h0M797.9 115.7h0M820.3 90.5h0M785.6 109.3h0M842.5 88.4h0M837.8 92.2h0M819.8 116h0M792.3 106.8h0M781.2 109.3h0M791.3 104h0M821.2 113.5h0M823.3 96.7h0M836.1 99.1h0M840.7 90.4h0M812.7 123.2h0M819.3 94h0M802.4 154.5h0M814.7 141.7h0M795.8 153.1h0M816.6 117.8h0M801.2 99.8h0M802.6 129.3h0M835.9 110.5h0M826.2 99.6h0M802 112.2h0M789.2 153.3h0M800.1 97.6h0M843.7 87.9h0M833 95.7h0M805.7 158.7h0M796.2 103.7h0M833.2 91.4h0M830.1 88h0M791.2 108.9h0M797.6 104.4h0M789.5 107.7h0M804.5 137h0M800.6 146.2h0M802.8 147.7h0M831.4 87.7h0M792.4 101.8h0M827.5 89.2h0M789.6 136.9h0M790.1 160.8h0M795.7 102.7h0M794.8 128.2h0M797.9 98.9h0M797.2 108.6h0M796.1 117.2h0M837 90.5h0M804.1 105.9h0M815.9 131.4h0M807.9 111.7h0M803.3 96.1h0M804 100.3h0M788.9 111.3h0M808 119.7h0M810.1 105.5h0M794.2 153.5h0M848.6 88.3h0M801.7 102h0"/><path fill="none" stroke="#dc6ea0" stroke-width="3.4" stroke-opacity="0.78" stroke-linecap="round" d="M921.1 182.8h0M948 202.3h0M948.3 197.3h0M948 185.9h0M858.6 257.3h0M888.1 235h0M932.2 223.2h0M944.6 206.4h0M926.2 230.8h0M890.9 189.9h0M848.2 232h0M923.5 232h0M919.9 221.7h0M846.2 254.6h0M904.2 180.8h0M870.9 235.8h0M843.4 243.3h0M846.7 211h0M920.3 228.9h0M924.6 230.1h0M953.6 184h0M920.7 230.7h0M850.3 253.4h0M858 258h0M929.6 214.3h0M941.9 208h0M944 201.6h0M879.6 211.8h0M915.2 236h0M935 194.2h0M894.6 241.8h0M924.4 221.6h0M921 184.2h0M849.5 230.8h0M941.1 207.5h0M881.7 231.7h0M887.6 219.5h0M943.9 206.7h0M930.8 195.7h0M871.1 250.4h0M873.8 249h0M879.1 229.4h0M850.5 236.3h0M851.9 187.7h0M912.9 236.7h0M933.5 210.1h0M843.7 257.5h0M912.7 233.9h0M859.1 213.2h0M847.5 190.3h0M911.2 226.5h0M913.2 236.6h0M949.4 194.4h0M888.7 245.1h0M871.3 229.6h0M862.9 222.3h0M952.8 183.3h0M924.8 215.7h0M939.8 213.2h0M910.9 228.9h0M850.8 219.2h0M848.2 220.8h0M850.1 245.3h0M937.1 206.8h0M882.9 220.8h0M923.8 196.6h0M862.8 225.1h0M904.6 225.6h0M858.2 258h0M948.8 188.9h0M901.5 247.4h0M875.9 245.4h0M889.9 250.5h0M869.3 256.1h0M859 228.4h0M872.9 254.7h0M905.4 241h0M934.3 190.2h0M919.9 213.9h0M931 220.2h0M883.5 244h0M943.1 195.9h0M925.7 207.5h0M844.2 185h0M942.4 208.5h0M851.3 218.7h0M911.3 186.2h0M937.7 212.6h0M934.5 199h0M889.7 239.8h0M893.9 215h0M949.8 191.5h0M856.6 220.3h0M862.7 256.2h0M901.3 245.2h0M901.3 235.2h0M861.5 230.1h0M934.9 214.7h0M922.6 205.8h0M846.2 257.1h0M909.2 215.3h0M879.5 191.6h0M920.1 228.7h0M902.4 246h0M901.8 236.2h0M863 256.9h0M895.5 229.1h0M909.6 243.2h0M897.8 199.1h0M854.3 255.4h0M935.3 213.1h0M880.4 247.1h0M937.9 185.4h0M892.8 240.7h0M843.2 198.2h0M902.8 212.9h0M926.1 229h0M887 249.6h0M928.2 223.9h0M844.7 220.5h0M871 233h0M921.6 219.2h0M848.4 251.6h0M941.6 182.2h0M904.6 216h0M926.4 229.2h0M915.1 237.9h0M879.1 243.8h0M841.9 188.8h0M842.4 213.6h0M904.7 219.2h0M890.1 251.8h0M845 257.8h0M934.1 223.6h0M948.6 197.8h0M879.8 251.5h0M950.7 186.9h0M876.4 198.3h0M949.3 198.1h0M914.1 234.3h0M923.1 230h0M880.3 185.1h0M902.1 242.9h0M865.6 227.4h0M934.4 193.9h0M846.7 205.8h0M902.8 238h0M910 237.9h0M866 212.3h0M861.8 213h0M909.3 198.9h0M870.2 204.5h0M896.9 245.1h0M945 201.8h0M936 205.2h0M926.3 228.8h0M847.3 257.9h0M917 231.8h0M931 182.7h0M920.6 208.2h0M914.2 222.8h0M850.8 253.2h0M900.5 246.5h0M944.1 207.8h0M860.8 214.6h0M882.6 196.3h0M922.8 223.5h0M939.8 194.4h0M870.6 247.3h0M921.8 181.7h0M853 254.5h0M924 199.9h0M867.5 245.2h0M914.5 212.1h0M860 190.6h0M878.5 187.6h0M900.9 188.9h0M948 189.5h0M901.1 242.4h0M953.7 183.1h0M874.8 248.8h0M874.4 248.4h0M869.9 187.6h0M876.6 252.7h0M953.2 182.7h0M847.2 255.4h0M936.5 212.5h0M888.1 219.5h0M923.7 200.4h0M928.9 202.5h0M909.8 236.8h0M847 256.6h0M918.6 235.4h0M921.9 233.1h0M944.5 192.1h0M857.7 253.2h0M931.4 185.7h0M930.5 220.8h0M927.4 219.9h0M928.6 217.5h0M945.3 207.8h0M931 220.2h0M894.3 217.3h0M885.4 185.2h0M894.8 183.8h0M880.2 217.7h0M879.4 191.7h0M910.1 235h0M913.7 232.8h0M946 195.7h0M895.1 241.6h0M860.3 226.2h0M872.9 181.8h0M897.8 201.1h0M937.4 218.2h0M949.6 186.4h0M884.2 252.2h0M877.2 201.4h0M895.6 246.1h0M889.3 203.6h0M898.9 209h0M908.9 213.2h0M854.3 251.4h0M877.3 250.2h0M900.2 212.7h0M858.9 243.4h0M944 193.6h0M904.3 201.1h0M949.4 199h0M921 225.8h0M844.6 251.9h0M918.5 186.1h0M858.2 252.3h0M932.9 202.2h0M951.7 188.2h0M892.4 198.3h0M928.9 223.8h0M853.8 251.6h0M870.1 187.8h0M867.3 253.2h0M890.5 238.7h0M931.1 226.8h0M861 219.2h0M952.8 182.6h0M921.1 184.6h0M914.2 216.5h0M847.8 244.7h0M870.9 253.5h0M854.5 254.1h0M854.8 185.5h0M939.3 214.7h0M953.3 185.4h0M874.7 203.8h0M940.9 180.9h0M857 210.4h0M882.9 184.6h0M917.6 190.7h0M892 247.8h0M915.7 238h0M913.1 234.6h0M929.9 207.9h0M856.6 256.1h0M875.6 209.1h0M883.7 195.1h0M938.8 203.3h0M858.6 252.9h0M931.5 205.8h0M913.2 221.6h0M933.6 188.2h0M911.1 232.5h0M842.3 209.9h0M922.7 209.9h0M878.9 233.5h0M865.4 256.2h0M849.5 238.9h0M866.6 232h0M889.7 210.6h0M859.1 253.9h0M940.9 204.5h0M932.9 200.4h0M934.8 208.4h0M920.7 235.4h0M864.8 233.5h0M938 204.5h0M874 251.2h0M930 207.2h0M939.3 210.3h0M887.5 246.8h0M887.1 227.7h0M880 181.7h0M922.1 234.8h0M924.7 205h0M909.2 239.3h0M949.7 194.2h0M895 245.1h0M920.3 197.6h0M922.3 223.7h0M947.1 188.8h0M943.7 206.6h0M842.5 245h0M881.5 251.7h0M849.5 200.5h0M882.9 253h0M847.5 225.2h0M883.8 247.8h0M870.3 247.6h0M861 255.5h0M874.6 255.2h0M879.4 247.3h0M949 198.6h0M857.5 221.6h0"/><path fill="none" stroke="#785ab4" stroke-width="3.4" stroke-opacity="0.78" stroke-linecap="round" d="M863 216.8h0M888.4 220.6h0M806.4 197.7h0M801.2 196.8h0M830 237.1h0M899.2 226.7h0M845.8 193.4h0M820.8 206.7h0M869.8 206.6h0M791.3 222.9h0M778.5 198.7h0M837.7 206.9h0M906.6 208.4h0M848.9 240.1h0M878.9 195.6h0M853.7 219.9h0M840 219.2h0M889.7 194.5h0M790.3 191.2h0M918.7 206.7h0M774 196.2h0M875.4 221.5h0M899.1 221h0M790.2 200.9h0M896.8 196.8h0M804.3 210.6h0M861.8 214.7h0M886.5 227.7h0M835.6 206.6h0M846.6 202h0M877.7 228.6h0M856 241.1h0M895.6 205.2h0M799.6 228.8h0M896.5 198.4h0M867 205.3h0M880.8 192.1h0M798.7 207.4h0M868.2 226.3h0M830.6 240.4h0M849.5 225.8h0M843.3 200h0M814.4 214.9h0M838.7 212.7h0M836.4 234.9h0M802.5 212.2h0M919.6 197.4h0M844.8 216.8h0M783.6 194.8h0M887.9 206.9h0M861.8 239.8h0M770.9 197.4h0M838.9 239.8h0M895.3 192.5h0M904.5 212.8h0M861.3 206.6h0M817 237.9h0M914.2 206.3h0M857.2 202.5h0M836.3 243.1h0M798.5 205.4h0M854.6 238.3h0M866.1 224.9h0M931.7 198.1h0M877.1 234.6h0M819.2 228h0M804.8 213.7h0M892.2 189.8h0M799.1 201h0M861.5 223.2h0M854.1 190.5h0M827.9 211.6h0M836.4 207.1h0M828.2 219.7h0M819.2 223.6h0M867.1 215.4h0M783.3 205.7h0M802.1 192.2h0M823.7 221h0M901 217.9h0M893.5 221.5h0M785.3 190.6h0M899.1 189.7h0M869.4 189.9h0M856.2 230.7h0M864.3 221.2h0M850.5 213.6h0M882.8 194.6h0M852.2 231.7h0M908.2 200.9h0M876.6 224.4h0M825.2 211h0M901.4 229.3h0M841.3 202.7h0M877.8 215.7h0M854.3 189.6h0M869.5 223.7h0M793.2 193.4h0M906.9 222.5h0M877.6 212.2h0M886 195.3h0M786.7 199.7h0M897.5 224.5h0M859.5 228.4h0M836.3 225.5h0M775.9 194.2h0M786.3 190h0M831.6 207h0M799.2 209.4h0M855.2 201.2h0M875.5 197.8h0M848.3 243.4h0M796.7 225.3h0M855.8 228.5h0M878.5 231.6h0M866.1 218.3h0M836.9 237.8h0M837 218.7h0M775.8 208.5h0M823.8 230.4h0M887.6 191.7h0M891.6 190.9h0M860.7 238.2h0M768.3 193.3h0M920.1 203h0M934.8 193.5h0M847.7 245.4h0M868.6 206.1h0M920.1 206.6h0M890.6 204.2h0M838.8 206.8h0M785.9 192.5h0M792.5 189.5h0M804.9 207.8h0M905.7 217.3h0M892.4 214.8h0M935.4 189.6h0M884 218.1h0M916.4 199.6h0M844.6 206.5h0M813.2 215.8h0M790.9 213.7h0M915.9 206.3h0M848.6 227.8h0M841.6 236.2h0M859.1 237.8h0M837.8 232.1h0M815.6 234.9h0M904.5 223.4h0M911.9 193h0M888.7 195.9h0M869.4 227.1h0M851.9 224.5h0M918.4 210.4h0M909.4 196.9h0M796.1 197.1h0M783.3 216.7h0M772.6 190.3h0M841.2 230.1h0M785.8 216.6h0M787.8 222.5h0M821.6 231.1h0M866.8 204h0M852.6 209.7h0M791.8 223.7h0M844.3 239.7h0M820 221.2h0M788.8 198.6h0M876.8 216h0M876.9 224.7h0M874.8 196.7h0M812.5 195.4h0M815.3 205h0M821.6 239.2h0M837.5 218.3h0M781.7 212.2h0M902.1 222.2h0M907.1 225.2h0M879.6 204.5h0M876.1 192.9h0M827.9 209.7h0M870.9 229.9h0M815.2 235.3h0M871.9 240.2h0M931.2 196.9h0M917.4 217.5h0M773.8 198.3h0M914.9 195.5h0M902.7 212.4h0M829.7 217.9h0M842 236.6h0M846.7 204.5h0M816.3 216h0M834.1 243.8h0M856 206.9h0M777.4 198.9h0M843.6 234.3h0M908.4 215.6h0M817.5 211.3h0M802.8 229.8h0M842.5 242.5h0M802.6 211.6h0M885.1 197.2h0M781.5 206.7h0M897.6 213.6h0M869.7 190.3h0M868.2 215.8h0M807.2 201.2h0M788.5 203.9h0M833.3 240.4h0M848.7 237.9h0M859.6 203.8h0M861.4 243.3h0M818 216.1h0M913.2 222.2h0M910.6 212.3h0M851.3 229.5h0M910.5 206.4h0M791.3 204.8h0M839.4 243.4h0M849.1 240.8h0M841.2 229.3h0M785 211.2h0M835.9 190.5h0M874.1 238.2h0M902.4 209.2h0M808.7 233.6h0M823.2 216.6h0M784.8 202.1h0M841.1 230.2h0M844.9 204h0M782.4 193.3h0M851.9 217.1h0M827.7 235.6h0"/><path fill="none" stroke="#46bee6" stroke-width="3.4" stroke-opacity="0.78" stroke-linecap="round" d="M777.2 115.6h0M761.5 131.6h0M786 113.4h0M788.4 117.9h0M758.4 139h0M778.6 113.6h0M774.2 138.8h0M787.1 112.6h0M757.6 145.6h0M774.6 117.9h0M780.2 114.9h0M772.4 148.1h0M784.5 109.4h0M777.7 114.4h0M774.1 115.4h0M788 112.3h0M763.6 128.9h0M756.5 140.5h0M780.3 112.6h0M766.7 135.3h0M783.2 111h0M763.6 140.9h0M784.4 110.7h0M772.2 144.7h0M772.8 133.1h0M767.1 140.9h0M785.6 125.9h0M778.1 114.1h0M763.4 127.7h0M768.9 120.8h0M773.7 119.8h0M757.9 144.5h0M794.2 112.3h0M784.5 107.1h0M763.5 130.2h0M765.1 128.8h0M772.2 128.3h0M753.1 150.9h0M777.9 129.4h0M779.8 127.4h0M760.8 147.3h0M776.6 141.3h0M767.7 123.6h0M791.1 114.8h0M773 150.6h0M785.9 122.8h0M762.5 137h0M770.9 157.1h0M775.7 115.6h0M758 136.2h0M756.6 139h0M759.5 142.9h0M771.1 142.1h0M790.1 146h0M780.8 130.1h0M766.5 127.4h0M753.3 151.5h0M762.8 139.5h0M785.1 144.1h0M768.8 120.9h0M775.3 130.8h0M767.8 151.2h0M778.8 114.6h0M765.9 140.4h0M753.5 145.8h0M766.7 145h0M767.7 131.2h0M758.3 138.1h0M769.1 139.7h0M781.9 124.8h0M782 148h0M769.9 150.2h0M759.9 138.6h0M759.7 143.7h0M763.9 130h0M759.1 146.2h0M755 147.4h0M757.3 145.5h0M762.5 134.5h0M777 127.7h0M785.5 112.8h0M752.7 149.8h0M764.3 129.4h0M760.7 136h0M762.5 147.8h0M775.6 122.9h0M764.1 144.6h0M783.6 111.4h0M762.5 130.7h0M757 140.8h0M766.4 126.9h0M768.7 127.9h0M783 120.9h0M760.8 143.6h0M772.1 125h0M766.8 147.8h0M760.9 134.2h0M785.5 144.1h0M786.8 114.8h0M772.1 124.6h0M778.2 127h0M761.5 141.2h0M776.1 117.6h0M760.5 137.5h0M782.5 112.1h0M772.5 131.5h0M782.4 113h0M765.9 136.5h0M764.8 137.2h0M778.8 120.2h0M760.6 137.3h0M776.2 118.7h0M775.4 121.4h0M767.3 127.5h0M764.8 127.1h0M777.4 119.8h0M768.8 130.8h0M767.8 136.4h0M752.7 148.2h0M783.9 120.6h0M772.5 136.1h0M777.9 114h0M787.4 109.5h0M780 113.5h0M766.2 126.1h0M757.7 143.9h0M756.6 139.2h0M779.2 117.8h0M761.6 131.2h0M759.7 140.6h0M774 117.4h0M787 119.9h0M760.1 141.2h0M773.5 138.7h0M761.7 137.2h0M762.1 138.5h0M782.7 128h0M759.1 148.3h0M783.6 128.9h0M774.4 115.1h0M778.8 150.5h0M779 125.8h0M784.3 113.8h0M787.7 139.3h0M780.6 117.8h0M796.6 127.3h0M778.2 138.5h0M777.2 114.1h0M767.7 139.3h0M769.5 137.3h0M766.1 127.5h0M791 114.6h0M770.9 122.2h0M764.6 127.7h0M775.9 115.1h0M776.2 122.6h0M784.3 120.9h0M765.6 133h0M791 107.2h0M782.5 126.4h0M761.5 137.4h0M787 109.5h0M781.4 109.5h0M764.6 144.4h0M762.3 137h0M770 132.9h0M763.3 129.9h0M779 114.6h0M785.2 115.4h0M779.8 114.2h0M772.9 125.3h0M767.9 140.1h0M761.6 137.4h0M764.6 127.1h0M762.6 135.9h0M760.7 136.4h0M758.9 137.5h0M767.1 129.9h0M756.1 140.1h0M762.8 139.8h0M774.8 122.1h0M787.1 108.5h0M780 120.7h0M776.4 113.3h0M757.6 139.3h0M787.2 137.2h0M772.5 120.8h0M765.9 138.1h0M768 135.5h0M780.4 113.6h0M767.5 136.2h0M776.8 117.4h0M792.8 107.1h0M785.6 111.7h0M760 139.1h0M789.1 108h0M788.9 121.5h0M776.8 129.9h0M775.5 119.7h0M781.7 123.9h0M773.3 117.8h0M771.1 127.2h0M767.8 132.5h0M762.3 129.2h0M758.5 135.4h0M787.6 108.7h0M779.2 145.3h0M780.4 112.1h0M781.8 108.8h0M764.5 133.9h0M778.1 114.2h0M765 137.2h0M754.7 145.9h0M759.3 149.6h0M754.5 144.4h0M775.1 131.6h0M784.6 117.9h0M779.2 116.9h0M771 129h0M766.8 125.5h0M784.6 114.5h0M760 145.8h0M791.4 109.7h0M774.6 123.4h0M758.6 139.2h0M794.7 130.3h0M756.2 147.2h0M771.2 119.9h0M781.5 120.9h0M772.2 119h0M772.1 117.4h0M785.9 132.8h0M758 138.7h0M764.9 144.5h0M775.8 120.3h0M772.6 137.9h0M785.6 121.4h0M773.8 142.4h0M773.2 118.1h0M751.2 153.9h0M786.7 115.6h0M783.5 122.7h0M764.1 134.2h0M776.7 126.1h0M776.6 113.2h0M788 123.3h0M775.5 117.5h0M755 144.2h0M764.5 142.2h0M766.5 125.6h0M772 127.8h0M768 128.3h0M754.9 147.7h0M786.1 109.2h0M784.9 113.2h0M774.7 126.4h0M786.6 114.4h0M760.7 131.6h0M785.7 111h0M789.2 110.3h0M764.5 132.3h0M791.9 116h0M769.2 132.5h0M761.6 130.3h0M753.7 151.1h0M783.2 119.1h0M755.3 144h0M766.2 141.6h0M771.9 130.8h0M761.8 141.6h0M765 134.6h0M752.7 149.3h0M784.1 115.1h0M784.6 108.5h0M766 124.2h0M785.1 135h0M772.6 147.8h0M772.2 136.5h0M792.8 108h0M793.1 107.6h0M762.9 128.4h0M775.2 137.2h0M754.4 144.5h0M795.9 126.4h0M780.9 137.9h0M781.6 115.2h0M769.2 127.9h0M784.9 109.5h0M770.7 130.5h0M779.9 136.9h0M784.9 117.5h0M765.1 132.3h0M774.9 118.4h0M789.1 108h0M773.9 121.2h0M780.4 133.6h0M768.2 133.2h0M797.5 127.9h0M760 139.7h0M762.7 129.6h0M787.7 109.1h0M767.5 132.5h0M775.5 131.3h0M790.6 117.9h0M753.5 152.1h0M772.2 136.3h0M785.6 124.8h0M784.3 122.7h0M776.7 125.3h0M767.1 135.8h0M761.4 137.4h0M760.7 143.4h0M759.5 135.6h0M776.2 125.5h0M762.8 141.2h0M779.9 134.6h0M765.9 134h0M778.9 141.7h0M768.1 130h0M765.6 130.5h0M766.9 125.2h0M773.9 116.2h0M770.3 142.1h0M787.8 111.4h0M768.7 124h0M765.4 144.1h0M760.7 131.6h0M755.4 142.3h0M752.2 149.9h0M769 124.2h0M781.1 139.2h0M784.4 109.7h0M763.3 129.1h0M786.6 111.7h0M782.4 114.6h0M777.2 132.5h0M764 139.4h0M763.1 128.1h0M782.4 114.9h0M769 145.8h0M793.4 134.7h0M769.7 138.6h0M763.4 143.5h0M757 145.1h0M775.9 131.7h0M775.3 115.9h0M776.1 128.9h0M757.8 138.1h0M782.5 114.3h0M781.8 128h0M791.5 112.7h0M775.5 116.5h0M771 126.4h0M786.5 116.9h0M785 136.3h0M776.4 135.9h0M779.9 114.5h0M756.3 142.8h0M768.2 125.3h0M773.7 118.5h0M769.1 132.1h0M780.7 111.6h0M755 151.7h0M760.4 138.2h0M790.2 111.1h0M783 113.6h0M775.4 121h0M774.5 135.4h0M756.6 145.9h0M766.1 132h0M805.5 112.5h0M771.2 142.8h0M764.7 133.1h0M767.8 123.4h0M793.8 114.3h0M767 144.5h0M760.8 142.1h0M787 105.9h0M765.7 133.2h0M793.9 132.8h0M778.7 113.5h0M767.6 130.2h0M764.9 128.3h0M764.7 137.6h0M763.8 135.4h0M791.4 118.1h0M767.5 137.8h0M757.8 136.6h0M765.3 127.4h0M797.9 126.9h0M776 115h0M768.7 132.6h0M784.4 151.6h0M772.5 124.3h0M792.6 139.1h0M762.4 138h0M772.4 124.2h0M758.3 144.6h0M783.7 112.9h0M757.5 137.3h0M769.1 126.7h0M765.4 136.3h0M770.6 127.3h0M767 127.2h0M784.7 122.3h0M777 122.5h0M762.8 146.4h0M791.8 123.1h0M772 117.8h0M793 107h0M780.7 109.9h0M763.3 144.7h0M777.1 123h0M766.6 126.5h0M771.6 142.5h0M772 130.1h0M787.9 112.1h0M763.1 142.7h0M764.9 127.9h0M768.3 121.5h0M789.9 113.2h0M763.7 127.9h0M772.9 141.1h0M764.5 132.7h0M776 113.8h0M782.8 109.1h0M762.6 156.2h0M759.6 136h0M785.6 116.1h0M780.2 115h0M767 126.3h0M780 112.7h0M760.3 138.3h0M763.9 131.4h0M778 117h0M789.5 110h0M782.5 111.8h0M768.5 141.4h0M771 119.6h0M756.6 138.8h0M763.2 137.3h0M751.5 154.2h0M762.9 141.4h0M785.7 121.1h0M761.2 136.3h0M781.3 118.7h0M774.5 115.1h0M758.8 150.9h0M766.3 124.7h0M757.3 141.8h0M775 114.6h0M772.8 123.5h0M785.4 142.1h0M762 138.7h0M777.8 112.9h0"/><path fill="none" stroke="#965aa0" stroke-width="3.4" stroke-opacity="0.78" stroke-linecap="round" d="M826.8 254.3h0M836.6 257h0M852.5 243.2h0M840.7 243.9h0M840.2 249.5h0M835.1 250.4h0M851.6 255.3h0M846.6 257.6h0"/><path fill="none" stroke="#50c8e6" stroke-width="3.4" stroke-opacity="0.78" stroke-linecap="round" d="M814.5 92.9h0M810.5 98.6h0M800.6 98.8h0M811.9 93.9h0M807.6 94.3h0M801.5 108.1h0M798.3 99.6h0M812.5 99.9h0M823.1 95.7h0M815.2 96.7h0M815.4 108.6h0M833.2 97.3h0M823.8 101h0M806.5 111.7h0M805.1 95.7h0M806.2 101.2h0M812.2 93h0M810.6 99.4h0M816.3 94.1h0M802.3 100.5h0M804.4 98.3h0M829.4 98.6h0M820.1 93.2h0M825 90.5h0M811.3 101h0M803 104.2h0M820.9 93.7h0M810.3 99.7h0M825.8 99.4h0M809.7 96.1h0M835 92.4h0M818.7 96.1h0M803.9 99.1h0M793.9 103.7h0M809.7 94.3h0M802.3 103.8h0M817.3 95.2h0M798.7 100.1h0M804.8 99.7h0M812.1 93h0M806.2 111.2h0M822.6 89.6h0M803 108.6h0M825.7 92.7h0M801.1 99.5h0M804.8 102.3h0M809.9 99.8h0M814.1 93.9h0M810.5 96.5h0M800.7 97.3h0M818.7 90.6h0M813.7 102.9h0M806.6 98.7h0M816.3 117.7h0M832.4 91.9h0M817.2 93.3h0M802.5 98.5h0M825.6 103.1h0M817.1 91h0M805.2 96.7h0M795.1 102.8h0M807.5 96h0M801.5 102h0M812 99.6h0M799.3 99.6h0M825.4 94.2h0M795.3 104.6h0M807.7 95.5h0M815.7 95h0M808.4 99.1h0M809.4 93.9h0M820.6 90.5h0M817.6 90.9h0M823.3 92.4h0M815.8 91.4h0M813 104h0M792.2 101.8h0M827.3 106.3h0M814.1 98.9h0M805.8 102.7h0M815.8 93.3h0M817.3 92.8h0M811 102.6h0M803 99.8h0M831 99.9h0M820.1 101.8h0M804.3 102.1h0M823.8 94.9h0M812.6 95.8h0M810.4 101.1h0M797.5 99.9h0M829 89h0M806.5 97.2h0M815.8 91.6h0M819.7 90.3h0M830.7 92.2h0M829.4 110h0M818.5 94.6h0M814.3 95.5h0M823.6 93.6h0M813.8 100h0M819.4 91.1h0M814.4 99.5h0M800.1 101.2h0M820.5 91.7h0M815.7 104h0M813.4 111.9h0M823.4 109.3h0M815.9 94.8h0M827.3 91.4h0M801 101.3h0M796 105.5h0M818.5 92.1h0M833.2 91.4h0M815.2 97h0M814.6 101.4h0M815.5 91.9h0M819.6 101.9h0M810.3 95.1h0M801.7 100.2h0M803.7 101.8h0M798.8 99.7h0M808.7 97h0M810.1 99.6h0M810.4 94.7h0M814.8 94.8h0M827.8 103.2h0M799.7 104h0M810.3 100.7h0M796.6 101.4h0M822.1 95.2h0M841 102.7h0M820.3 90.1h0M812.4 93.1h0M810.2 103.4h0M785.5 107.5h0M794.4 101.7h0M801.6 96.8h0M822.8 91.3h0M803.8 95.9h0M800.2 108.9h0M804.4 98h0M819.5 96.4h0M819.5 90.3h0M812.4 102.6h0M815.9 91.6h0M821.1 90.1h0M808.8 97.5h0M823.6 97.5h0M812.4 93.3h0M820.1 90.3h0M800.1 106.9h0M806 95.8h0M814.9 95.3h0M813.7 92.3h0M797.9 104.9h0M825.3 90.3h0M823.7 93.8h0M811.9 97.5h0M817.5 109.6h0M808.1 117.2h0M822.2 92.3h0M821.9 101.5h0M813.9 103.1h0M815.8 97h0M817.1 103.3h0M826.1 91.8h0M808.5 94h0M815.7 96.3h0M806.7 97.1h0M798.4 101.9h0M808.9 94.6h0M816.9 92.1h0M818.3 96.3h0M809.4 96.9h0M804.9 107.8h0M829.5 89.1h0M806.6 95.3h0M791.5 103.6h0M816.7 93h0M808.3 96.9h0M810.8 96.5h0M814.2 98.7h0M799.9 103.1h0M803.2 99.5h0M800.2 108.9h0M815.8 92.4h0M827.7 89.4h0M805.7 99.5h0M815.7 91.8h0M817.6 92.9h0M822.1 90.7h0M810.3 100.3h0M818.5 93.5h0M818.5 91.7h0M819.2 90.4h0M815.7 99.3h0M806.1 107.7h0M815.3 92.6h0M815.4 93.4h0M823.3 93.6h0M816.6 97.4h0M798.3 98.5h0M818.6 91.8h0M826.7 93.1h0M806.4 105.6h0M817.3 97.8h0M825.9 95.1h0M807.7 98.5h0M799.3 98.5h0M817.9 92.2h0M807.1 101.4h0M820.4 100.5h0M800.1 99h0M814.2 94h0M820.8 93.1h0M813.6 92.9h0M814.4 104h0M823.4 89.3h0M813.7 95.7h0"/><path fill="none" stroke="#b4dc50" stroke-width="3.4" stroke-opacity="0.78" stroke-linecap="round" d="M911.3 237h0M910.5 240.6h0M907.7 242.6h0M913.2 237.5h0M918.1 230.8h0M912.2 222.9h0M916.1 239.2h0M906.9 241.3h0M905.3 243.1h0M917.2 237.5h0M924.6 226.2h0M915.6 236.6h0M925.4 231.2h0M929.3 227.8h0M927.8 215.5h0M900.9 245.8h0M928.9 227h0M906 245h0M913.1 197.8h0M908.5 235.7h0M914.3 230.8h0M907.8 238.5h0M916.5 225.7h0M924.5 222.3h0M907.9 240.2h0M914.6 233.5h0M918.7 231.3h0M919.9 232h0M911.5 241.7h0M908.4 200.2h0M915.7 236.2h0M918.8 235.5h0M917.3 233.9h0M905.3 241.8h0M905.7 245.3h0M917.4 232.7h0M909.7 237.2h0M914.9 238.2h0M897.5 240.6h0M911.3 234.5h0M913.6 237.3h0M915.1 235.5h0M916.8 238.8h0M923.4 230h0M909.3 238.4h0M916.4 237.1h0M912.9 239.9h0M906 242.9h0M931.5 221.8h0M912.8 228.8h0M904.6 236.8h0M911 235.7h0M915.4 229.2h0M930 225.9h0M908.1 236.2h0M899 247.9h0M912.9 240.3h0M917.1 223.7h0M914 218.7h0M904 245.8h0M919.8 196.3h0M914.9 240h0M924 225.3h0M921 234.7h0M914.1 239.7h0M913.9 233.3h0M920.9 231.9h0M913.8 239.8h0M910.7 240.9h0M921.5 233.2h0M908.1 242.3h0M909 239.8h0M931.7 226.2h0M916.6 231.1h0M911.5 231.6h0M904.7 226.5h0M908.6 238h0M907.1 242.1h0M912.2 235.5h0M914.6 226.2h0M902.7 243.2h0M912.5 233.6h0M916.1 234.2h0M902.1 244.1h0M912.6 227.3h0M891.9 249.7h0M902.2 238.3h0M918.7 236.9h0M901.7 237.1h0M915.8 235h0M924.7 226.7h0M919.7 228.7h0M917.2 236.7h0M923.1 234.1h0"/><path fill="none" stroke="#8c78be" stroke-width="3.4" stroke-opacity="0.78" stroke-linecap="round" d="M821.4 213.1h0M815.7 225.6h0M813.2 219h0M815.5 226.9h0M819.7 202.9h0M829 206.9h0M816.3 217h0M804.2 213.3h0"/><path fill="none" stroke="#5ab4e6" stroke-width="3.4" stroke-opacity="0.78" stroke-linecap="round" d="M855.2 88.8h0M870.4 87.5h0M857.8 88.7h0M843.5 87.4h0M861.9 86.5h0M855.5 88.2h0M861.1 100.5h0M843.5 87.9h0M859.2 95.9h0M873.2 89.3h0M870.9 93h0M876.7 93.2h0M861.5 88h0M848.6 102.2h0M866.7 87h0M840.6 89.9h0M848 86.3h0M848.5 86.1h0M859 95.1h0M872.7 96.4h0M861.1 104.4h0M871 87.7h0M842.3 88.4h0M864.4 93.3h0M869.3 93.8h0M852.4 86.4h0M866.1 87.4h0M863.2 88.9h0M864.9 89.7h0M860.4 97.7h0M857.5 89.7h0M862.3 89h0M832.1 90.4h0M864.5 86.7h0M858.4 91.9h0M871.5 88.1h0M884.5 93.2h0M872.6 90.7h0M867.5 96.9h0M870.6 89.1h0M850.7 90.3h0M868.4 94.6h0M867.7 87.1h0M847.7 86.7h0M848.6 90.3h0M844 89h0M876.5 88.7h0M877.3 92.6h0M862.4 86.7h0M864.4 90.5h0M839.5 88.2h0M853.2 87h0M863.8 91.3h0M874.1 93.7h0M855.9 89.7h0M873.4 90.4h0M871 101.7h0M860.5 92h0M859.6 86.3h0M867.8 87.9h0M841.6 89.7h0M873.4 90.9h0M846 90.3h0M845.3 97.5h0M851.5 98.5h0M844.3 100.5h0M853.3 88.3h0M871.9 97.5h0M874.4 90.4h0M871.3 91.2h0M853.8 87.5h0M869.9 91.7h0M868 94.4h0M863.1 89.8h0M864.7 86.7h0M851.8 86.1h0M879.4 91h0M859.8 105.2h0M860.9 90.2h0M867.3 94.5h0M864.3 89.1h0M877.2 98.1h0M859.2 88.8h0M865.3 91.5h0M878.4 92.7h0M850.1 90.7h0M852.6 97h0M866.2 88.6h0M862.4 93.4h0M854.8 94.4h0M867 87h0M847.9 87h0M864 90.8h0M863.9 86.6h0M847.6 93.6h0M851.5 93.9h0M852.2 88.3h0M847.2 90.3h0M883.4 95.9h0M846.4 91.8h0M867.2 94.8h0M885 91h0M865.4 90h0M871.7 89.3h0M859.1 101.4h0M862.5 90.1h0M846.6 93.2h0M851.9 94.3h0M851.9 88.3h0M844.4 86.5h0M848.6 91.3h0M870.9 96.1h0M851.9 91.4h0M865.6 87.5h0M874 93.3h0M842.1 93.6h0M846.4 88.4h0M869.8 91.3h0M861.5 91h0M838.9 89.5h0M850.2 89.7h0M871.8 93.4h0M849 88.7h0M873.7 94.3h0M860.6 93.9h0M883 97.2h0M861.8 90.6h0M859.2 104.2h0M864.5 88.8h0M841.4 88.7h0M879.1 99.1h0M855.9 92h0M852.2 89.2h0M872 94.7h0M861 88h0M883.6 92h0M866.8 91h0M859.4 110h0M858.6 92.2h0M875.4 88.6h0M878 89.4h0M856 96.1h0M844.2 89.8h0M864.8 96.4h0M874.4 90.4h0M870.7 87.7h0M870.2 91.7h0M858.5 86.5h0M882.2 93.4h0M888.2 92h0M861.3 90.3h0M850.9 90.7h0M853.1 94.8h0M850.5 87.6h0M858.1 87.9h0M858 92.6h0M844.8 88.6h0M842.4 97.9h0M873.1 90.6h0M864.2 93h0M880.4 92.8h0M872.7 91.4h0M849.9 89.2h0M879.9 96.2h0M867.7 94.9h0M864.4 88.9h0M870.6 98.3h0M877.1 94.1h0M862.8 107.6h0M858.4 93.5h0M851.3 90h0M875.7 92.4h0M854.4 100.8h0M875.7 90.2h0M862.7 86.5h0M853.8 90.6h0M870.7 92.9h0M858.9 88h0M855.4 86.1h0M875.6 89.9h0M849.5 94.4h0M856 86.9h0M852.3 86.5h0M877.8 89.8h0M868.5 91.4h0M856.3 86.3h0M849.2 92.5h0M837.9 91.3h0M854.6 90.8h0M863.3 88.4h0M856.6 86.1h0M854 91.6h0M836.1 90.7h0M885.9 93.7h0M848.2 94.8h0M853.3 92.3h0M879.8 91.4h0M871.7 100.2h0M861.5 88.9h0M852 90.3h0M866.9 92.6h0M865 90.1h0M849.2 90.1h0M849 89.1h0M847.5 89.1h0M863.3 88.9h0M880.7 91.8h0M872.3 88h0M877.2 96.5h0M861.7 90.6h0M861.8 93.5h0M874.5 91.3h0M840.8 86.5h0M877.2 90.3h0M848.4 88.6h0M869.7 89.9h0M865.5 89.1h0M883.7 90.3h0M869.5 89.3h0M865.6 88.6h0M837.7 96.3h0M870.7 94h0M880.8 94.6h0M860.4 97.6h0M848 89.2h0M876.9 89.9h0M874.8 89.6h0M863.2 93.1h0M869.2 91.3h0M877.1 93.6h0M831.5 94.3h0M865.8 86.9h0M867.1 100.4h0M857.7 91.3h0M856.6 88.3h0M871.8 102.7h0M875.1 88.3h0M879.8 90.3h0M868.1 89.9h0M843.3 90h0"/><path fill="none" stroke="#5a5aa0" stroke-width="3.4" stroke-opacity="0.78" stroke-linecap="round" d="M857 144h0M890 134.4h0M879 139h0M874.5 131.8h0"/><path fill="none" stroke="#aad250" stroke-width="3.4" stroke-opacity="0.78" stroke-linecap="round" d="M902.4 199.5h0M904.3 199h0M923.8 226.3h0M923.5 224.9h0M921.4 219.6h0M924.2 231h0M897.3 202.2h0M905 201.6h0M890.9 211.3h0M912.6 217.7h0M927.7 222.1h0M886.7 229h0M919 225h0M930 208.2h0M904.9 218.6h0M893.8 217.6h0M924.5 232.2h0M915.4 211.1h0M869.2 226.5h0M913.9 197.1h0M932.3 215.9h0M882.1 220h0M898.1 206.4h0M929.5 227.7h0M891.2 228.3h0M923.9 230.6h0M929.4 225.2h0M882.2 215.6h0M879.1 212.8h0M882.3 217.3h0M918.7 224.7h0M913.5 225.8h0M912.2 182.2h0M921.8 225.5h0M881.7 212.8h0M921 227.8h0M907.1 201.8h0M892.3 206.5h0M886.6 207.5h0M890.3 216h0M887 209.6h0M880.6 211.9h0M887.1 221.6h0M925.9 220.2h0M869.1 217.7h0M900.1 207.5h0M914.4 212.2h0M870 212h0M880.6 212.3h0M886 217.9h0M883.2 218h0M873.3 211.8h0M921.5 226.3h0M879.4 218.6h0M877 226.1h0M930.4 225.3h0M884.2 229.4h0M892.6 220.1h0M922 230.3h0M922.6 227h0M927.8 222.4h0M922.7 194.1h0M915.9 215.2h0M930.5 224.1h0M917.6 229.6h0M917.7 192.5h0M885.6 220.5h0M932.1 223.9h0M922.4 228.2h0M886.1 217.7h0M915.3 229.8h0M884.7 215.5h0M927.6 228.7h0M917.9 217.8h0M874.8 231h0M883.8 199h0M894.7 225.1h0M885.4 219h0M902.5 206.1h0M923.2 215.9h0M883.9 220.8h0M933.5 224.3h0M921 193.4h0"/><path fill="none" stroke="#825aaa" stroke-width="3.4" stroke-opacity="0.78" stroke-linecap="round" d="M813.2 249.6h0M811.1 247.6h0M818.2 247.5h0M810.4 244.4h0M809.1 248.1h0M815.9 246.4h0M812.3 248.1h0M815.1 251.4h0M811.6 237.1h0M808.8 228.4h0M807.3 243.2h0M816.6 251.2h0M789.1 233.7h0M804 244.4h0M801.9 247.4h0M812.9 237.9h0M814.5 244.2h0M824.2 244.2h0M820.3 253.4h0M807.1 245.9h0M805.3 245.2h0M833.5 248.1h0M808.3 246.7h0M810 248.9h0M811.6 240.2h0M801 245.4h0M806.3 248.3h0M824.2 234.7h0M811.9 247.3h0M799.6 245.9h0M807.9 245.3h0M808.7 241.4h0M808.5 246.1h0M809.7 250.4h0M799.8 238.4h0M812.3 249h0M799.7 245.5h0M802 247.5h0M806.4 235.9h0M809.7 245.7h0M806.6 249.5h0M800.4 244.1h0M809.1 249h0M800.2 245.3h0M803.8 244.3h0M823.6 234.3h0M807.8 249.7h0M816 249.9h0M809.5 242.5h0M798.3 241.2h0M810.5 250.9h0M813.4 249h0M812.9 236.7h0M817.4 241.6h0M807.1 249.5h0M823.6 249.4h0M821.6 239.7h0M804.5 234.2h0M813.4 246.2h0M818.6 249.5h0M814 245.2h0M830 240.5h0M812.9 243.2h0M815.5 247.5h0M807 245.7h0M811.3 249.4h0M803.6 244.5h0M810.6 246.9h0M804.4 243.2h0M812.7 238.5h0M814.5 244.5h0M817.7 253.3h0M804.8 247.2h0M801 244.7h0M813.5 252.1h0M800.4 242.6h0M816.6 249.2h0M804.9 244.5h0M806 243.2h0M804.4 246.6h0M806.7 238.7h0M815.5 244h0M804.8 242.6h0M810.9 251.1h0M815.8 249.4h0M823 252.4h0M803.5 244.5h0M810.6 239.4h0M825.7 252.9h0M810.7 249.3h0M813.5 241.4h0M804.8 247.8h0M811.8 248.7h0M804.8 245.7h0M800.7 246.9h0M808.6 244.5h0M813.9 252.2h0M802.9 242.5h0M815.5 240.2h0M806.4 243.8h0M812.5 247.4h0M808.5 243.8h0M819.6 247.9h0M807.3 248.4h0M809.7 246.2h0M843.6 245.5h0M806.6 237.6h0"/><path fill="none" stroke="#8cc85a" stroke-width="3.4" stroke-opacity="0.78" stroke-linecap="round" d="M949.7 197.9h0M938 206.4h0M947.2 203.7h0M940.3 196.9h0M940.6 197.3h0M941.5 201.8h0M919.5 186.3h0M943.4 199.2h0M941 206.7h0M944.6 209.1h0M939 213.3h0"/><path fill="none" stroke="#3c326e" stroke-width="3.4" stroke-opacity="0.78" stroke-linecap="round" d="M867.8 164.2h0M851.1 169.3h0M869.7 171h0M892 105.2h0M869.2 162.8h0M907.1 104.1h0M860 155.8h0M860.1 150.1h0M905.5 117h0M871.3 159.4h0M870.6 168.2h0M857.8 157.6h0M852.2 153.3h0M843.7 158.1h0M855.7 152h0M881.8 166.9h0M910.5 107.3h0M847.3 165.5h0M871.4 159.8h0M901.6 98.7h0M912.2 106.8h0M912.6 106.1h0M881.4 167.5h0M849 177.7h0M851.7 161.3h0M845.1 162.4h0M842.3 154h0M857.8 163.6h0M906.2 102.7h0M846.6 156.4h0M857.7 152.5h0M868.6 151.8h0M900.4 97.6h0M875.2 169.8h0M914.1 105.3h0M868.5 161.8h0M839.4 152.2h0M857.2 163.9h0M869.3 170h0M845 160.9h0M871.7 168.6h0M902.6 109h0M884.9 156.9h0M841.1 179.7h0M851.6 156.8h0M861.1 171.6h0M840.8 172.2h0"/><path fill="none" stroke="#8c6ea0" stroke-width="3.4" stroke-opacity="0.78" stroke-linecap="round" d="M832.2 228h0M864.4 204.1h0M852.7 210.8h0M855.3 232.3h0M858.1 200.3h0M872.7 207.8h0M829.1 231.8h0M864.8 202h0M850 227.9h0M868.7 222.1h0M834 216.9h0"/><path fill="none" stroke="#50b4dc" stroke-width="3.4" stroke-opacity="0.78" stroke-linecap="round" d="M838.7 88.7h0M858.4 113.2h0M853.2 93.7h0M830.9 125.3h0M852.7 100.1h0M836.8 146h0M834.9 142h0M819.4 123.1h0M823 136.7h0M842.8 100.8h0M815.7 149.6h0M832.7 107.4h0M816 139.8h0M825.8 139.8h0M830.2 104.2h0M821.7 125.8h0M832.5 117.3h0M818.5 148.6h0M845.6 107.8h0M805.6 159.3h0M814.3 120.3h0M808.4 158h0M846.9 95.7h0M835.3 145.9h0M825.1 121.9h0M822.5 133.6h0M839.6 104.5h0M818.7 125.7h0M831.8 141.4h0"/><path fill="none" stroke="#5a64b4" stroke-width="3.4" stroke-opacity="0.78" stroke-linecap="round" d="M893.4 133.6h0M884.2 131.4h0"/><path fill="none" stroke="#7864b4" stroke-width="3.4" stroke-opacity="0.78" stroke-linecap="round" d="M790.9 230.8h0M782.8 229h0M794.2 229.3h0M773.7 224.7h0M783.1 226.4h0M794.7 238.7h0M770 224.6h0M783.5 233.5h0M794.2 238.1h0M791.8 234.8h0M786.3 236.1h0M772.6 224.8h0M779.6 227.8h0M794.3 241.8h0M794.5 234.2h0M798.4 232.5h0M800.5 240.6h0M804.4 234.4h0M786.6 237.2h0M795.2 238.6h0M768.3 220.5h0M795.7 231.4h0M788.8 240h0M794.8 238.1h0M773.7 220.8h0M766.8 212.5h0M801.3 239.9h0M776.1 227.5h0M789.2 238.8h0M780.2 233.2h0M787.1 229.1h0M799.7 246.1h0M770.6 215.9h0M782.6 234.7h0M764.8 213.6h0M780.5 228.5h0M784 230.8h0M770.3 217.5h0M785.8 227.6h0M778.3 227.4h0M783.1 233h0M792.6 240.7h0M780.8 234.6h0M802.8 247.2h0M775.4 224.4h0M771 224h0M791 240.8h0M781.7 232.4h0M780.6 234.1h0M771.1 214.6h0M791.7 231.5h0M774.7 225.7h0M776.4 211.9h0M806.6 237.9h0M770.8 217.1h0M773.5 227.9h0M780.5 225.4h0M781.7 226.7h0M783.3 232.9h0M782.2 225.1h0M784.1 235.5h0M784.3 227.1h0M774.8 223h0M787.6 239.6h0M798.8 232.3h0M797.6 234.5h0M783.5 232.1h0M767.3 217h0M770 222.8h0M790.2 230.4h0M778.4 231.7h0M798.4 234.7h0M776.3 208.2h0M768.3 222.7h0M787.4 226h0M785.4 236.1h0M783.1 231.5h0M791.7 235.4h0M783.1 230.6h0M796.8 238.4h0M792.7 228.6h0M799.6 235.8h0M787.1 232h0M800.9 229.7h0M763.9 215.1h0M776.2 228.7h0M802 241.8h0M786.5 238.7h0M804.4 244.8h0M801.3 243.5h0M784.8 219.7h0M784 234.4h0M797.8 243.6h0M780.8 227.4h0M807 229h0M792.2 228.5h0M777.7 227.5h0M769.8 223.2h0M769.5 223.8h0M803.8 247.6h0M793.8 238.9h0M802 221.3h0M794.5 224h0M772.4 225.7h0M794.2 239.8h0M775.2 228.2h0M785.5 221.9h0M784.9 216.9h0M779 230.7h0M809.2 244.2h0M765.8 219.7h0M792.4 235.7h0M790.3 233.3h0M777.9 217.4h0M776.7 229.2h0M785.4 225.8h0M783.9 235.9h0M801 232.5h0M786.4 232.1h0M790.2 233.3h0M772 225h0M787.7 236.9h0M790.9 238.1h0M801.9 235.3h0M781.4 231.8h0M793.2 236.5h0M783 225.7h0M795.5 236.4h0M799.4 234.7h0M776.6 229.8h0M769 222.2h0M780.7 232.2h0M790.5 237h0M794.1 233h0M776.5 231h0M776.4 227.7h0M798.9 245h0M779.9 228.5h0M797 238.2h0M769.1 219.5h0M797.4 239h0M785.1 229.5h0M804 242.2h0M792.4 231.2h0M769.9 224.5h0M793 242.2h0M791.6 234h0M781.4 234h0M785.7 238.2h0M769.8 224.2h0M780 229.8h0M778.1 225.3h0M803.5 236.7h0M776.4 208.7h0M780.4 224.1h0M780.5 220.8h0M774.7 222.6h0M775.1 214.9h0M775.3 228.1h0M804.6 230.2h0M777.2 229.2h0M792.1 242.3h0M786.7 228.4h0M797.9 240h0M776.9 227.9h0M783.3 233.2h0M785.2 228.6h0M798.8 244h0M803 240.9h0M777.5 229.9h0M798.3 236.9h0M767.3 221h0M783.3 226.6h0M785.6 237.2h0M800.1 227.3h0M789.7 236.9h0M792 232h0M781.5 224.9h0M798.6 240.8h0M804 244.8h0M771.1 221.4h0M784.8 231.2h0M794.9 242h0M796.6 235.9h0M799.9 236.8h0M786 238.1h0M780.4 230.8h0M794.4 241.1h0M778.9 222.9h0M786.5 229h0M776.4 224.7h0M793.1 234.5h0M781.5 231.4h0M781.1 232.7h0M779.4 228h0M789.2 231h0M780.2 226.5h0M793.6 241.1h0M782.5 232.8h0M781.1 233.3h0M802 244.9h0M799.8 238.8h0M772.6 226.9h0M782.7 236h0M778.2 215.7h0M770.8 221.9h0M800.1 227.4h0M791.9 232.9h0M800.2 225.3h0M776.7 223.9h0M772.9 226.4h0M766.6 218h0M776.1 226.8h0M784.5 224.9h0M769.4 218h0M776 229.3h0M792.7 240.8h0M800.7 245.3h0M788.4 239.8h0M772.7 227.4h0M790.1 221.6h0M790.7 238.7h0M785.7 227.9h0M783.4 228.7h0M784.5 230.1h0M778.5 225.7h0M799.5 244.9h0M775 225.2h0M777.4 228.7h0M770.9 223.8h0M801.7 228.7h0M769.7 216.1h0M779.2 229.8h0M777 217.7h0M780.2 230.8h0M778.2 223.3h0M784.6 232.9h0M771.6 215.5h0M787.9 231h0M778.9 228.5h0M782.8 225.7h0M772.1 226.2h0M773.8 228.5h0M783 231.4h0M775.8 221.4h0M775.6 225.4h0M775.3 227.4h0M780.2 224.6h0M771.3 225h0M765.9 217.4h0M773.8 227h0M783.2 221.2h0M793.7 240.9h0M781.1 227.4h0M805.6 246.3h0M781.3 223h0M766 215.1h0M786.8 227.1h0M795.4 242.5h0M778.3 228.4h0M789 240.5h0M771 221.9h0M776.9 226.7h0M782 233.6h0M787.2 235.2h0M783.3 235.7h0M790.7 240.8h0M771.6 226.2h0M799.4 240h0M800.4 243h0M781.1 230.1h0M776.5 229.8h0M790.5 240.9h0M791.7 237.5h0M792.8 231.9h0M783.5 228.9h0M768.1 219.2h0"/><path fill="none" stroke="#6e8cd2" stroke-width="3.4" stroke-opacity="0.78" stroke-linecap="round" d="M760.6 190.1h0M753.3 186.9h0M753.6 173.3h0M764.3 204.5h0M757.5 179.7h0M748.6 171.8h0M748.7 175.1h0M751.2 188.4h0M759 193.2h0M755.3 176.6h0M767.7 209.1h0M749.2 181.3h0M750.1 167.3h0M767.9 205.8h0M763.6 197.5h0M763.9 205.1h0M764.5 172.1h0M760.9 191.4h0M757.9 193.7h0M754.6 183.9h0M764.1 212.7h0M758 184.7h0M757 185.9h0M752.4 187.7h0M772.2 183.1h0M750.1 186.1h0M761.5 204.5h0M794.2 199.7h0M751.7 185.1h0M754.9 184.2h0M754.2 200.2h0M749.3 163.3h0M752.4 185.5h0M748.9 167.1h0M751.7 193.1h0M759.8 183.5h0M757.4 200.3h0M771.1 202.5h0M749.6 178.3h0M753.1 195.6h0M751.6 186.3h0M755 176.5h0M753.6 175.9h0M770.1 184.9h0M753.1 189h0M753.5 180.9h0M751.6 186.2h0M750.5 181.9h0M749.2 170.1h0M753.4 193.8h0M754.9 195.7h0M756.1 187.9h0M756.6 181.4h0M754.7 178.4h0M759.2 187.3h0M765.1 196.8h0M755.4 181.8h0M751.6 181.7h0M750 172.6h0M757.7 200.7h0M753.6 192.4h0M749.1 175.2h0M765.4 204h0M758.7 186h0M753.7 194.9h0M762.8 198.8h0M755.5 184.6h0M796.4 187.4h0M752.6 176.8h0M753.7 183.4h0M751.4 175.5h0M753.4 174.7h0M775.4 208.4h0M757.9 188.4h0M816.6 182h0M757.4 180.4h0M760.1 181.6h0M756.5 172.8h0M756.1 184.7h0M754.6 187.3h0M754.9 157.7h0M759.3 196.3h0M754.8 194.4h0M756.6 184.9h0M762.6 202h0M755.1 191.3h0M759.6 172h0M756.2 177.8h0M749.7 179.8h0M749.2 169.8h0M750.8 180h0M751.2 191.3h0M753.5 188.9h0M750.7 189.5h0M755.2 202.3h0M756.7 176.8h0M750.4 182.7h0M758.6 207.8h0M753.1 192.4h0M752 176.9h0M757 188.6h0M756 174.5h0M750.7 181.7h0M753.1 170.3h0M757.2 181.9h0M754.5 184.3h0M754.5 166.7h0M756.9 199.2h0M753.8 188.8h0M762.5 199.4h0M754.2 195.7h0M756.8 195.2h0M786.5 204.7h0M758.4 187.4h0M752.6 172h0M778.7 198.9h0M752.8 184.6h0M751.8 169.7h0M753 187.4h0M752.1 189.4h0M803.8 188.1h0M755.5 177.1h0M790.4 200h0M750.7 187.7h0M755.6 195.5h0M751 189.7h0M751.3 174.8h0M760.8 197.7h0M753.8 185h0M762 179h0M751.8 188.1h0M762.5 185.4h0M754.7 175.8h0M755.2 182.5h0M750.1 167.8h0M760.3 197h0M757.7 198.3h0M755.9 200.1h0M749 179.8h0M754.2 193.8h0M755.5 202.3h0M754.4 171.7h0M762.6 191.4h0M753.2 168.5h0M754.7 164.6h0M751.8 170.7h0M764.7 202.2h0M755.4 189.7h0M749.7 165.5h0M797.7 202h0M756.2 175.1h0M759.2 202h0M755.6 176.9h0M748.8 172h0M749.1 180.6h0M749 178.6h0M755.1 194.4h0M760.6 209.7h0M751.5 191.3h0M755.3 176.5h0M751.5 168.9h0M748.6 172.1h0M754.1 195.7h0M752.5 191.4h0M750.6 174.8h0M760.7 194.2h0M753.7 175.3h0M752.9 191.4h0M756.3 179.4h0M755.8 176.5h0M752.4 182.6h0M754.6 192.9h0M762 201h0M760.7 181.1h0M760.3 194.2h0M764.1 203h0M773.1 200.3h0M756.9 175.2h0M755.7 203.4h0M753.5 198h0M758.3 201.1h0M762 194.1h0M763 186.7h0M752.4 169.1h0M764.1 182.1h0M753.4 193.8h0M759.6 201.7h0M773.9 200.5h0M753.8 178h0M758.2 192.2h0M760.2 179h0M754.6 183h0M755.5 195.1h0M758.2 192.7h0M758.3 185.6h0M771.8 187.7h0M753.4 194.4h0M753.8 199h0M763 204.3h0M750.9 182.2h0M752.4 176h0M761.2 194.9h0M760.6 192.8h0M756.4 191.8h0M759.4 195.6h0M754.4 196.4h0M757.5 199.8h0M763.9 174.4h0M758.2 181.4h0M754.6 172h0M754.9 196.4h0M749.5 175h0M748.6 173.8h0M749.1 172.3h0M752.4 180.1h0M751.4 183h0M758.3 194.4h0M756.5 178.3h0M754 173h0M755.3 198.5h0M763.9 203h0M755.3 189.1h0M758.2 207h0M751.6 192.6h0M761.1 200.2h0M763.9 196.2h0M754.1 175.4h0M749.3 162.3h0M748.6 171h0M753.4 170.4h0M756.3 176.5h0M760.5 209.5h0M754 194.7h0M754.6 187.2h0M754.8 188.3h0M754.4 185.2h0M751.9 173.4h0M753.6 190.2h0M748.9 166.3h0M759.4 191.2h0M748.9 179h0"/><path fill="none" stroke="#46b4e6" stroke-width="3.4" stroke-opacity="0.78" stroke-linecap="round" d="M764.4 163.8h0M759.8 155.7h0M791.6 153.3h0M763.2 154.4h0M768.7 158.1h0M779.3 170.9h0M786.7 156.1h0M767.4 152.2h0M778.6 175.4h0M784.9 175h0M764.4 149.9h0M778.8 168.2h0M756.2 146.3h0M772.2 171.9h0M757.1 157.9h0M767.4 151.7h0M786.4 161h0M779.8 150.4h0M791.3 161.2h0M780.2 153.3h0M759.3 167.4h0M776.1 168.9h0M758.5 163.2h0M770.2 168.1h0M795.1 148.7h0M767.4 172.7h0M751.1 163.4h0M782.3 159.4h0M797.4 164h0M777.9 161.8h0M764.2 148.3h0M778.5 158.9h0M770.6 154.3h0M761.1 165.3h0M757.1 166.5h0M771.3 143.8h0M753.5 145.8h0M792.6 154.1h0M793.4 160.1h0M755.1 159.4h0M756.1 152.7h0M771.4 168.2h0M759.1 162.5h0M761.9 161.9h0M751.3 163.4h0M752.1 154.4h0M768.8 145h0M764.2 141.1h0M779.2 156.4h0M775.8 155.2h0M751.5 155.5h0M769 140.2h0M760.7 161.6h0M769.2 152.3h0M752.5 148.8h0M761.9 172.5h0M771 160.1h0M767.2 140.8h0M762.8 151.2h0M763.9 156.3h0M780.7 160.4h0M776.4 174h0M753.3 155.7h0M780.8 162.1h0M761.8 146.8h0M784.1 159.6h0M785.3 159.5h0M773.3 164.6h0M762 146.3h0M773.3 154.6h0M787.9 168.8h0M761 149.6h0M783.8 164.3h0M776.8 170.1h0M764.5 152.9h0M758.2 155.1h0M767.4 160.2h0M764.6 173.3h0M765.9 158.3h0M770.1 162h0M768.9 166.4h0M755.7 172.7h0M757.8 181.6h0M766.7 158.6h0M756.3 153.9h0M782.8 157.7h0M771.6 175.1h0M769.8 161.8h0M773.7 162.6h0M782.6 168.4h0M788.7 152.3h0M778.4 150.9h0M764.1 151.1h0M775.3 164.9h0M760.6 162.6h0M754.2 147.7h0M756.4 157.1h0M753.2 159.7h0M750.2 157.2h0M766.7 156.4h0M781.7 159.7h0M758.7 153.8h0M762.2 170.1h0M759 147.8h0M784 170.2h0M779.9 159.4h0M758.4 142.1h0M760.2 149.8h0M769 156.1h0M756.9 150.7h0M750 157.9h0M756.2 154.4h0M766.1 150.9h0M781.1 155.2h0M764.8 161.2h0M761.2 154.3h0M774.5 161.7h0"/><path fill="none" stroke="#6e78c8" stroke-width="3.4" stroke-opacity="0.78" stroke-linecap="round" d="M817.6 123.7h0M789.3 183.6h0M770.1 210.1h0M848 135.6h0M789.4 158.3h0M772.4 215.1h0M788.6 147.4h0M870.9 132.8h0M798 132.7h0M822.4 126.5h0M803.8 116.4h0M811.1 149.7h0M814.5 120.2h0M776.2 156.7h0M877.4 126.1h0M781.6 151.3h0M814 173.8h0M851.2 155.1h0M812.9 164.6h0M800.2 160.8h0M761.5 202.5h0M789.4 159.2h0M782.4 162.8h0M839.8 171.9h0M851.1 154.3h0M831.2 159.3h0M824 119.9h0M827.5 153.9h0M812.6 166.8h0M772.9 145.4h0M790.3 146.5h0M838.3 160.6h0M816.2 138.4h0M829.9 127.1h0M816.4 135.3h0M871.4 123.8h0M879.9 134.9h0M807.1 182.5h0M820.2 173.5h0M844.8 160.8h0M830.3 131.4h0M837.2 115h0M758.6 204.2h0M840.3 108.3h0M858.9 129.2h0M765.8 175.9h0M806.4 141.8h0M867 131.7h0M787.1 183.1h0M806.2 111.8h0M796.2 176.6h0M786.9 176.5h0M789 121.8h0M871.6 126.1h0M825.4 171.6h0M757.3 206.6h0M790.8 135.3h0M846.3 141.5h0M821.5 135.7h0M802.2 133.8h0M800.4 158h0M772.9 208.1h0M763 209.9h0M775.5 154.1h0M788.4 141.1h0M860.5 121.3h0M769.8 169.7h0M801 185.2h0M763.9 202.9h0M806.6 109.2h0M815.3 161.2h0M845.2 138.4h0M875.9 131h0M836.6 124.2h0M776.6 146.9h0M845.1 107.7h0M808.7 149.8h0M809.8 107.8h0M821.3 163.1h0M817.3 135.7h0M850.7 107.5h0M818.6 128h0M793.9 188.7h0M807 110.1h0M851.6 129.9h0M862.7 130.3h0M810.2 108h0M775.7 135h0M763.7 204.7h0M840 159.5h0M840.4 180.1h0M831.6 175.7h0M802 145.9h0M829.5 174.8h0M804 127.6h0M765 207.4h0M826.7 157.4h0M866.5 132.8h0M849.1 126.6h0M764.6 173.6h0M827.6 105.2h0M860.9 126.4h0M832.4 172.6h0M823.8 124.6h0M819.4 111h0M843.4 144.3h0M870.7 131.1h0M766.5 210.1h0M803.1 131.7h0M827.6 181.4h0M768.5 157.6h0M804.3 123.2h0M757.3 199.7h0M777.6 148.7h0M803.4 186.3h0M829.6 149.8h0M875.5 130.3h0M802.6 131.4h0M879.1 128h0M765.9 215h0M766.1 211.9h0M871.2 123.1h0M784 140.8h0M869.6 131.3h0M771.5 158h0M802.2 170.1h0M786 188.6h0M864.8 129.5h0M877 139.5h0M825.4 121.7h0M792.6 165.8h0M866.4 129.1h0M794.6 181.4h0M832.8 163.7h0M821 163.5h0M882.8 135.1h0M758 204.5h0M874.7 126.5h0M867.3 134.3h0M822.2 117.2h0M772.9 143.6h0M764.5 163.1h0M845.6 189.1h0M785.9 130h0M837.5 167.7h0M845.6 188.7h0M865.3 124.1h0M788.6 182.3h0M840.3 145.5h0M771.1 199.1h0M870.6 133.9h0M802.4 150.9h0M762.1 214.6h0M791.3 161.1h0M805 152.7h0M801.8 185.2h0M849.4 145.2h0M818.6 113.2h0M810.1 146.5h0M826.1 161.6h0M812.6 127.9h0M770.1 185.8h0M761.1 211.7h0M798.1 161h0M787.7 151.4h0M834.4 116.8h0M830.6 172.8h0M776.4 145.7h0M793.2 143.3h0M810.3 127.9h0M789.4 153.3h0M787.8 146.3h0M789.4 121.7h0M849.9 113.7h0M884 129.5h0M784.9 133h0M838.7 130.9h0M825.3 123.5h0M875.1 136.2h0M873.2 119.8h0M849.6 106.2h0M869.5 129.7h0M810.8 130.8h0M874.9 123.7h0M800.5 170.5h0M830.1 111.4h0M813.2 116.3h0M809.2 126.5h0M774.6 211.6h0M808.9 108.2h0M795.4 117.8h0M830.2 147.6h0M795.4 180.6h0M807.6 139.6h0M837.2 146.7h0M846.8 113.2h0M777.8 167.4h0M782.3 135.4h0M877 124.3h0M783.1 128.1h0M876.9 123.4h0M786 130.8h0M870.2 123.2h0M831.8 171h0M863.1 125h0M870.9 122.9h0M823.2 180h0M798.6 136.8h0M841.1 157.3h0M822.2 174.6h0M804.4 140h0M860.5 133.5h0M758.3 202.4h0M875 132.6h0M760.3 211.3h0M810.4 135.9h0M813.6 152.5h0M764.5 211h0M827 116.6h0M768.8 212h0M803.1 127.5h0M809.2 180.5h0M832.9 100.9h0M851.4 130.3h0M830.2 114.7h0M775.9 205.7h0M858.7 119.5h0M832.9 182.8h0M775.8 147.4h0M811.3 127.8h0M860.4 122h0M832.2 105.7h0M878.4 123.9h0M786 152h0M795.9 124.7h0M780.2 154.4h0M792 165.9h0M760.9 205.7h0M838.1 176.5h0M848.5 145.2h0M817.1 126.6h0M849.6 114.4h0M812.4 131.2h0M845 140.8h0M847.1 188.2h0M812.4 152.7h0M804.8 159.2h0M769.4 210.1h0M766.8 171.8h0M830.2 153.2h0M841.8 164.6h0M821.3 157.5h0M786.9 137.8h0M808.2 183.9h0M846.9 177.9h0M823.5 159.8h0M767.1 160.3h0M800.9 133.8h0M873.4 128.9h0M765.5 183.8h0M760.2 211.7h0M768.6 160.9h0M794.9 124.8h0M777 210.2h0M793.9 146.1h0M800.7 120.8h0M880.5 125h0M775.4 210.4h0M767.1 210.1h0M830.9 169.3h0M804 148.2h0M810.2 158.2h0M773.8 185.5h0M849.3 137.6h0M768.9 179.6h0"/><path fill="none" stroke="#50b4e6" stroke-width="3.4" stroke-opacity="0.78" stroke-linecap="round" d="M827.5 154.7h0M802.1 158.2h0M761.5 150h0M820.4 129.7h0M749.9 159.3h0M758.2 153.9h0M793.4 157.5h0M785.7 171.1h0M796.1 160.6h0M752.9 148.8h0M782.6 171.1h0M757.1 177.2h0M765.9 186.9h0M835.8 117.3h0M753.3 151.1h0M810.2 122h0M775.7 177.3h0M830.6 103.2h0M760.5 167.1h0M837.1 90.4h0M753.5 155.3h0M752.5 153.9h0M795 162.5h0M749.3 162.4h0M755 156.3h0M791.2 152.4h0M825.4 160.3h0M752.1 150.3h0M761.2 173.2h0M758.3 159.7h0M830.6 117.1h0M755 154.1h0M817.5 156.1h0M762.7 164.3h0M840.8 91.1h0M787.9 162h0M817.2 127.1h0M758 143.6h0M766.4 168.3h0M788.2 166h0M760.5 165.6h0M789.2 160.2h0M750.2 157.2h0M750.4 160.8h0M754.6 175.2h0M753.6 154.6h0M807.8 160.4h0M806.6 160.4h0M757.6 155.1h0M814.6 155.1h0M803.6 162.3h0M843.4 86.3h0M756.2 156h0M791.2 169.6h0M846.4 91.8h0M755.2 154.2h0M761.4 173h0M752.1 155.7h0M781.8 170.3h0M756.9 153.7h0M777.1 155.7h0M813.3 141.1h0M808.4 154.1h0M809.1 162.5h0M825.8 117.3h0M792.1 172.8h0M785.4 168.7h0M816.7 162.1h0M786.2 178.6h0M752.4 150.2h0M829.6 88.5h0M752.2 153.3h0M795.7 161.7h0M811.7 129h0M757.4 165.9h0M774.1 173.9h0M825.4 128.2h0M793.8 142.2h0M820.6 148.9h0M829.5 141h0M787.7 169.3h0M756.5 148h0M759.8 143.3h0M833.3 94.1h0M823.9 109.8h0M767 147.7h0M766.1 162.4h0M796.2 160.7h0M838.6 93.8h0M842.5 93.8h0M833.8 133h0M759.3 150.1h0M820.3 147.3h0M841.8 92.3h0M774.6 175.9h0M823.9 135.6h0M781.7 149.8h0M832.1 102.5h0M755.8 149h0M787.9 168.6h0M769.3 160.4h0M834 92.8h0M804.1 162.5h0M832.7 111.8h0M761.6 165.5h0M840.8 86.6h0M794.6 176.7h0M838.1 88.8h0M757 142.3h0M751.9 150.6h0M752.8 154.9h0M790.7 144.7h0M822.2 116.1h0M840.5 90.1h0M821.7 152.4h0M782.2 173.1h0M797.9 156.5h0M826.9 106.8h0M767.3 173.2h0M823.5 161.1h0M753.9 160.4h0M754 147.2h0M761.4 159h0M755.1 164.3h0M813.8 163.2h0M826.6 148.8h0M755.1 147.1h0M807.1 124.6h0M795.6 156h0M750.1 157.6h0M842.4 91.7h0M835.3 87.1h0M751.9 155.8h0M818.8 125.9h0M848.7 90.9h0M771.9 185.9h0M813.6 135.8h0M806.3 156.2h0M828.7 95.1h0M812.3 157h0M815.4 123.8h0M787.6 157.6h0"/><path fill="none" stroke="#5aa06e" stroke-width="3.4" stroke-opacity="0.78" stroke-linecap="round" d="M885.6 172.3h0M879.1 170.6h0M891.2 157.4h0M896.3 176.6h0M878.2 171.2h0M885.4 168.9h0M892.3 164.8h0M887.3 177.6h0"/><path fill="none" stroke="#28968c" stroke-width="3.4" stroke-opacity="0.78" stroke-linecap="round" d="M947.6 152.1h0M944.5 163.5h0M948.2 154.9h0M933.9 152h0M946 144.7h0M951.7 157.7h0M951 149.5h0M949.7 156.7h0M949.7 163.9h0M946.7 152.8h0M942.6 149.2h0M953.7 161.1h0M946.5 139.7h0M951.6 170.5h0M950.5 149.3h0M949 148.4h0M942.5 151.2h0M950.4 164.7h0M954.3 166.8h0M949.8 158.4h0M947.8 152.3h0M946.5 158.3h0M934 149.2h0M948.5 171.7h0M953.6 161h0M947.6 152.4h0M947.9 159.9h0M950.8 148.9h0M948 169.8h0M947.8 148.7h0M939.8 148.9h0M947.3 157.2h0M945.9 143.6h0M951.8 152.3h0M951 156.5h0M949.7 150.8h0M951.1 149.9h0M948.8 161.8h0M950.4 161.7h0M942.2 139.9h0M952.2 164.1h0M949.6 156.7h0M951 154.3h0M938.3 149.2h0M923 154.4h0M953.9 162.5h0M951 169.1h0M950.2 155.2h0M946.3 150.1h0M938.7 159h0M946.9 162.6h0M947.9 147.2h0M937.9 158h0M943.6 157.6h0M943.6 171h0M941.2 161.2h0M947.1 160.6h0M939.6 138.9h0M951.5 165.8h0M948.8 162.1h0M944.3 155.2h0M953.2 163.6h0M947.8 149.3h0M949.6 159h0M947.7 156.5h0M950.5 157.4h0M945.2 162.2h0M951.7 166.8h0M951.4 158.8h0M944.1 160.8h0M932.5 148.8h0M952.5 154.9h0M935.8 157.1h0M948.7 150.4h0M951.4 155.4h0M932.8 140.3h0M948 148h0M946.7 153.3h0M948.1 158.8h0M953.7 168.3h0M953.4 169.8h0M942.1 150h0M943.8 156h0M941.2 161.4h0M953.6 160.3h0M947.4 154.9h0M947.8 143.3h0M943.8 158.4h0M952.2 163.1h0M942.1 153.5h0M941.7 164h0M947.4 156.2h0M951.2 156.5h0M947.5 154.6h0M950.3 155.2h0M943.5 153.6h0M935 158.1h0M946.5 161.4h0M947.9 161.4h0M948.8 161.7h0M938.2 160.7h0M947.6 151.1h0M948.9 143.9h0M949 156.7h0M938.4 156h0M952.9 158.6h0M954.3 166.2h0M950.5 158.4h0M945.2 151.3h0M947 147.5h0M946 146.6h0M952.5 163.7h0M949.9 159.4h0M953.8 161.7h0M936.5 162.2h0M945.2 147.1h0M949.3 153.5h0M944.5 162.6h0M938.9 147.5h0M941.6 145.7h0M950.8 156.5h0M947.7 142.3h0M948.3 152.8h0M943.2 153.2h0M950.5 150.6h0M949.1 158.5h0M952 162.4h0M949.5 151.2h0M947.4 150.7h0M943.1 155.7h0M946.7 171h0M952.9 156.5h0M946.4 159.7h0M948.5 165.3h0M947 153.9h0M950.5 157.8h0M935.2 166.9h0M945.5 145.3h0M950.4 161.1h0M952.5 158.1h0M950.5 171.5h0M944.1 146h0M935.3 147.3h0M949.6 154.5h0M945.5 145.7h0M947.9 166.9h0M952.4 168.9h0M945.3 155h0M953.2 158.2h0M942.3 158.7h0M941.4 145.3h0M947 149.4h0M951.3 150.5h0M942.1 159.7h0M946.5 166.5h0M944.7 143.9h0M948.9 148.6h0M948.3 150.3h0M934.7 162.6h0M934.7 145.5h0M947.3 150.2h0M948 141.8h0M948 160h0M948.3 147.2h0M952 153.6h0M940.5 151.8h0M947 169.2h0M951.9 157.2h0M949.3 160.8h0M946.5 151h0M950.8 155h0"/><path fill="none" stroke="#28788c" stroke-width="3.4" stroke-opacity="0.78" stroke-linecap="round" d="M946.1 138.1h0M949.4 154.2h0M944.1 142h0M943.1 140.1h0M940.5 138h0M933.5 138.7h0M937.3 135.5h0M942 135.1h0M946.3 143.3h0M950.2 148.7h0M946.1 143.6h0M940.5 131.3h0"/><path fill="none" stroke="#6478be" stroke-width="3.4" stroke-opacity="0.78" stroke-linecap="round" d="M855.3 124.8h0M872.9 121.3h0M843.4 135h0M877.7 136.5h0M885.1 114.1h0M880.8 126.2h0M831.5 131.4h0M876.8 139.2h0M886.1 121.2h0M848.3 129.6h0M876.4 118.5h0M874 123.9h0M855.2 139h0M857.7 128.2h0M863.8 143.1h0"/><path fill="none" stroke="#28648c" stroke-width="3.4" stroke-opacity="0.78" stroke-linecap="round" d="M936 131.3h0M936.4 138.1h0M942.2 131.1h0M941.2 137.1h0M932.7 132h0M938.5 137.1h0M935.7 142.5h0M938.7 140.1h0M940.1 137.7h0M943.7 144h0M937.9 126.1h0M934.8 135h0M936.6 124.6h0M944.6 135.2h0M947.2 146.5h0M939.2 147.6h0M941.9 139.3h0M940.4 145.2h0M939.4 133.2h0M938.3 141.4h0M945.2 136.3h0M940.6 133.5h0M930.1 153.3h0M941.4 133h0M939.4 128.2h0M945.8 140.6h0"/><path fill="none" stroke="#8278c8" stroke-width="3.4" stroke-opacity="0.78" stroke-linecap="round" d="M801.1 191.1h0M804.7 190.2h0M809.2 205.6h0M805.4 190.7h0M804.2 194h0M798.3 202.8h0M782.9 212.2h0M793.7 198.3h0M790.8 215.6h0M791.4 193.6h0M824.7 191.3h0M801 195.6h0M807.3 202.4h0M793.6 205.5h0M795.3 210.1h0M801.9 205.7h0M800.7 196.7h0"/><path fill="none" stroke="#c85aa0" stroke-width="3.4" stroke-opacity="0.78" stroke-linecap="round" d="M863.3 249.8h0M870.6 256.7h0M870.4 247.5h0M851.9 257.4h0M878.7 253.6h0M877.8 253.4h0M857.6 250.8h0M859.5 257.7h0M861.6 250h0M867.6 253.1h0M867.8 255.5h0M870.2 253.9h0M862 254.2h0M868.1 257h0M863.9 254.7h0M854.2 254.9h0M867.7 251.8h0M880.6 248.6h0M869.5 251.5h0M856.6 257.8h0M879.1 254.7h0M861.5 257.7h0M858.1 252.2h0M856.8 258.1h0M869.2 255.6h0M862.8 253.2h0M880.7 254.6h0M867.4 257.1h0M851.2 254.3h0M861 253.6h0M862.6 256.8h0M863.1 252.7h0M860.5 256.3h0M859.9 253.9h0M854.1 255.4h0M855.1 258.1h0M863.8 257.2h0M868.6 256.8h0M860.9 254.8h0M861 257.1h0M869.6 254.2h0M872.8 256.3h0M870.4 251h0M872.3 253.6h0M858.6 257.3h0M861.2 254h0"/><path fill="none" stroke="#32a08c" stroke-width="3.4" stroke-opacity="0.78" stroke-linecap="round" d="M953.7 160.6h0M947.5 165.7h0M931 173.2h0M951.5 167.3h0M952.4 172.6h0M953.8 168.9h0M948.1 166.6h0M950.2 175.1h0M949.4 160.7h0M949 164.5h0M934.5 170.2h0M951.6 171.5h0M932.6 163.6h0M951.1 169h0M952.5 154.9h0M944.7 168.1h0M953 159.7h0M948.6 175.6h0M929.5 162.6h0M953.7 174.4h0M950.7 170.8h0M948.3 164.2h0"/><path fill="none" stroke="#8264aa" stroke-width="3.4" stroke-opacity="0.78" stroke-linecap="round" d="M820 233.7h0M844.3 196.7h0M809.8 235.5h0M851.5 196.6h0M847.9 181.7h0"/><path fill="none" stroke="#8c46aa" stroke-width="3.4" stroke-opacity="0.78" stroke-linecap="round" d="M899.5 228h0M921.5 230.4h0M908.3 241.5h0M923.4 227h0M881.3 250.1h0M949.2 198.9h0M929.2 210.1h0M929.1 211.9h0M935.7 220.1h0M874.3 251.5h0M871.6 255.8h0M912.9 199.2h0M946.3 203.3h0M858.6 250.6h0M869.8 254.8h0M949.9 191.4h0M881.5 217.5h0M887.3 240.2h0M905.7 194.4h0M876.6 248.8h0M866.6 252.9h0M897.2 247.1h0M938.9 184.8h0M903.1 246.7h0M888.9 252.2h0M848.8 258.1h0M877.3 250.8h0M859.4 239.2h0M845.5 250.9h0M864 250.7h0M897 243.3h0M936.1 209.2h0M891.2 224.7h0M875.3 250.6h0M878.2 253.3h0M872 250.9h0M947.1 192.9h0M858.6 233.1h0M893.7 238.1h0M930.6 224.5h0M945 203.3h0M886.7 193.5h0M848.3 258h0M854.4 257.8h0M863.5 256.4h0M948.3 191.4h0M940 190.1h0M935.7 194.3h0M858.9 248.2h0M879.6 251h0M859.2 240.4h0M939.2 204.8h0M846.9 241.1h0M933.1 222.7h0M942.8 200h0M882.4 222.3h0M939.6 201.9h0M908.1 233.4h0M889.8 246.8h0M898.2 239.7h0M848.6 255.4h0M938.7 191.3h0M878 251.1h0M870.6 252.2h0M948.4 186.4h0M942.3 191.7h0M920.3 231.8h0M890.6 248.3h0M884.7 248.1h0M922.8 232.7h0M895.7 199.2h0M866.1 257.3h0M886.3 221.4h0M946.8 189h0M899.5 236.1h0M868.5 255.3h0M948.2 194.5h0M843.1 256.2h0M881.1 234.9h0M941 189.6h0M886 211.1h0M860 253.7h0M942.1 211.1h0M873.7 250h0M902.3 244.8h0M906.4 244.1h0M846.2 202.9h0M932.7 224.2h0M930.6 225.9h0M850.7 258.2h0M935.1 219.3h0M906.5 240.8h0M944.5 201.1h0M914.5 186.1h0M891 247.5h0M867.1 257.1h0M911.8 238.3h0M878.5 253.8h0M900.8 242.5h0M906.4 241.1h0M945.6 207.2h0M854.4 251h0M883.9 247.3h0M944.4 184.3h0M866.7 248.3h0M897.7 233.3h0M878.4 220.3h0M847.2 232.1h0M951.4 182.8h0M927.7 220.2h0M937.3 219.5h0M873.8 196.8h0M883.1 195h0M877 250.1h0M865.2 247.7h0M918.3 230.3h0M904.3 246h0M926 225.5h0M940.2 200.8h0M945.1 207.8h0M893.6 248h0M940.5 212.5h0M881.4 254.5h0M916 225.1h0M947.5 181.7h0M912.2 215.4h0M846.7 253.4h0M908.4 236.3h0M847 256.6h0M933.5 223.1h0M941.9 202.1h0M862.5 256.5h0M886.1 208.6h0M853.8 246.2h0M905.9 228.3h0M863 231.1h0M893.4 247.5h0M953.5 184.8h0M927.9 218.4h0M865.6 255.6h0M884 253.8h0M945.3 198.4h0M870.1 251.3h0M863.3 251.6h0M907.3 242.2h0M870.4 254.8h0M886.4 251.4h0M850.1 252.2h0M867.8 254.5h0M946.1 195.5h0M944.7 187.5h0M936.3 200.3h0M905.9 187.5h0M865.5 257.4h0M854.2 240.4h0M901.8 245.6h0M844.7 185.3h0M894.5 185.7h0M864.4 247.4h0M864.9 195.5h0M941.8 182.7h0M937.6 209.2h0M924.3 181.6h0M842.6 231.2h0M899.8 245.1h0M932.3 221.2h0M912 238.4h0M947.7 203h0M846.4 189.3h0M862.2 247.9h0M889 211.1h0M895 250.1h0M872.7 213.8h0M919 231.8h0M944.6 209.1h0M943.3 206.9h0M935.9 218.7h0M939 217.6h0M886.8 247.8h0M884.2 252.2h0M930.6 226.8h0M905.8 241.9h0M937.2 209.6h0M932.8 203.3h0M847.4 252.4h0M876.9 249.9h0M928.7 224.8h0M932.6 220.9h0M905.8 231.9h0M854.9 254.5h0M846.5 196.7h0M936.8 209h0M853.2 252.5h0M893.1 181.6h0M912.7 237.3h0M938.4 203.5h0M946.1 191h0M881.8 251.5h0M846.2 257.5h0M875.8 251.5h0M937.8 219.3h0M915.3 232.5h0M896.8 247.7h0M942.5 187.6h0M905.5 191.3h0M927.3 221.1h0M930.4 219.8h0M942.8 205.8h0M915.7 223.9h0M870.7 252h0M916.4 233.3h0M929.9 202.9h0M841.8 200.4h0M948.4 185.6h0M923.8 198.7h0M944.9 203.9h0M845.3 254.9h0M947.9 202.5h0M845.1 258h0M891.9 250h0M871.6 255.9h0M913 235.3h0M861.9 252h0M873.9 225.6h0M846.2 213.2h0M877.3 249.9h0M907.2 234.6h0M903.4 246.1h0M925.2 228.8h0M948.5 200.1h0M937.7 214.6h0M906.7 240.8h0M940.9 199.4h0M845.2 252h0M943 200h0M843.1 256.1h0M954 181.1h0M903 241.2h0M882 249.2h0M906.8 242h0M927.3 215.1h0M866.8 255.6h0M873.7 245.1h0M907.2 220.3h0M871.2 254.3h0M939.9 213h0M884.6 242.5h0M921.9 234.8h0M934.8 200.5h0M941.4 209.8h0M925 220.8h0M916 236.3h0M929.4 226.1h0M869.7 247.5h0M902 241.8h0M926.4 205h0M943.1 198.6h0M864.3 256.6h0M913.7 232h0M934.7 220.4h0M939 189.3h0M871.5 254.5h0M892.6 219.2h0M937.9 216h0M934.3 223.2h0M940.2 203.8h0M842.8 252.5h0M912.8 237h0M849.2 258.1h0M938.9 199.4h0M857.5 256.7h0M842.9 257.8h0M907.7 236.6h0M859.6 251h0M915.5 235.3h0M868.4 252.4h0M873.9 250.6h0M853.4 213.6h0M915.4 235.5h0M900.6 207.2h0M918.5 198.5h0M912.3 236.2h0M908.6 237.7h0M862.3 251.7h0M904.7 242.1h0M930.1 218.6h0M874.2 251.8h0M912.9 239.9h0M948.1 184.3h0M870.3 244.3h0M890 248h0M863.4 255.5h0M867.3 239.5h0M865.7 250h0M895 182.4h0M888.6 206.9h0M841.9 246.5h0M934.8 222.2h0M940.3 206.5h0M860.5 239h0M863.8 256.6h0M947.2 192.5h0M878.9 231.1h0M850.8 248.7h0M857.7 256.7h0M943.8 183h0M949.3 192.5h0M882.9 250.4h0M889.4 252.2h0M905 212.4h0M905.6 242.6h0M886.1 249.8h0M894.6 184h0M889.9 218.2h0M852.3 241.3h0M936.2 212.8h0M948.5 193.7h0M882.4 249h0M941.8 204h0M882 249.8h0M904.2 194.4h0M912.7 201.7h0M913.7 233.8h0M911.2 237.7h0M865.4 254.8h0M918.9 237.2h0M889.1 247h0M857.2 245.1h0M930.8 227h0M901.4 247.1h0M903.2 246.3h0M945.4 207.5h0M848.7 255.6h0M845 252.4h0M915.4 231.5h0M917.7 237.8h0M878.2 251.4h0M903.2 221.2h0M844.9 252.1h0M883.5 248.5h0M915.5 239.2h0M877.7 184.9h0M946.7 181.7h0M948.9 197.7h0M896.6 207.3h0M909.1 242.8h0M887 241.5h0M904.2 240.9h0M869.2 236.8h0M903.3 218.2h0M931.6 221.5h0M939.7 213.2h0M907.8 237h0M927.5 227h0M930.1 223.2h0M943.9 181.9h0M843.6 250.5h0M935.1 217.3h0M851.2 255.7h0M938.2 216.5h0M846.7 205.6h0M936.3 216h0M911.8 237h0M925.5 183.2h0M896.1 248.6h0M871.9 249.6h0M896.3 247.7h0M860 241.3h0M937 217.5h0M872.5 201.8h0M899 248.2h0M939.6 182.6h0M911.3 229.4h0M939.6 198.2h0M915.9 233h0M857.9 220.3h0M891.7 232h0M853.8 253.1h0M927 220h0M929.8 226.5h0M893.8 244.6h0M886.6 251.2h0M943.3 211.3h0M926.9 229h0M861.7 256.3h0M947.4 197.8h0M858.9 216.6h0M928 212h0M909.1 209.2h0M922.3 231.9h0M860.4 250.6h0M923.4 228.2h0M876.9 242.6h0M872.1 247.8h0M919.4 233.1h0M939 205h0M941.7 207.6h0M845.4 254.2h0M852.7 227.4h0M923.3 224.1h0M917.2 236.3h0M895.8 244.4h0M889 244.8h0M842.2 249.3h0M880.4 249.5h0M933.2 222h0M896.9 240.3h0M943.7 196.3h0M892.5 243.4h0M946.7 181.8h0M862.7 246h0M848.1 253.7h0M918.6 237.4h0M912.1 238.2h0M882.4 249.1h0M911.9 236.7h0M846.8 209.1h0M850.9 251.2h0M932.5 189.2h0M857.7 180.8h0M906.1 239.6h0M888.5 196.3h0M945.3 187h0M916.2 198h0M921.1 232.2h0M904.4 239.5h0M941.6 188.1h0M856.1 204.6h0M947.3 198.1h0M949.1 194.7h0M862.6 255.8h0M859.5 246.1h0M879.6 253.1h0M843.2 237.7h0M874.3 204.6h0M864.7 254.1h0M941.8 205.1h0M881 251.5h0M918.2 213.8h0M912.7 227.7h0M937.4 204.7h0M945.7 187.2h0M907.8 234.6h0M861.7 248.9h0M907.2 234.4h0M843.7 252.5h0M941.6 213.1h0M863 255.9h0"/><path fill="none" stroke="#5a46a0" stroke-width="3.4" stroke-opacity="0.78" stroke-linecap="round" d="M922.6 172.3h0M929 146.7h0M870.4 122.4h0M896 153.7h0M859.9 182.6h0M864.2 119.3h0M894.7 177.7h0M880.4 150.7h0M883.7 145.2h0M852.7 139.9h0M920.9 153.1h0M854.4 118.1h0M902.9 176.7h0M879 162.2h0M928.5 175.1h0M926.2 182.3h0M901.7 149.8h0M862.4 121.1h0M873.9 135.1h0M855.5 167.9h0M933.7 150.8h0M876.8 158h0M865.3 166.9h0M892.9 168.7h0M894.3 110.9h0M902.9 187.4h0M918.5 185.4h0M925.6 164.8h0M925.8 144h0M851.7 176.3h0M865.4 150.7h0M855.3 154.2h0M900.2 115.1h0M933.2 155.8h0M874.7 121h0M880.7 135.5h0M908 145.5h0M860.4 125.7h0M937.1 183.3h0M872.9 155.1h0M926.4 148.5h0M855.4 131.7h0M883.7 168.5h0M934.7 171.1h0M896.5 181.9h0M864.3 142.3h0M898.3 123.6h0M876.1 137.9h0M867.3 155.9h0M914.1 149.8h0M925.8 177.7h0M893.2 128.9h0M873.6 131.4h0M912.6 181.7h0M916 178.2h0M934.8 166.1h0M922.4 145.2h0M870.4 168.4h0M914.9 137.2h0M857 114.4h0M858.2 135.5h0M863.9 139.8h0M854.8 167.2h0M862.9 159.6h0M879.1 183.5h0M864.4 151.6h0M902.6 158.9h0M863.4 160.7h0M922.9 149.7h0M898.5 148.3h0M879.7 129.1h0M859.2 123.5h0M898.8 113.7h0M904.3 168.9h0M904.1 149.8h0M872.8 155.5h0M902.1 157.1h0M873.7 125.7h0M926.2 180.1h0M891.6 106.7h0M918.9 164.7h0M927.7 149.2h0M859.2 129.7h0M875.3 137.5h0M868.1 115.6h0M855.8 162.6h0M865.4 101.5h0M867.1 183.2h0M853.8 144.5h0M852.6 117.5h0M896.5 141.1h0M869.9 119.3h0M871.4 103.3h0M920.2 142.7h0M907.2 160.1h0M934.1 150.7h0M889.2 160.8h0M902.5 122h0M861.7 108.5h0M901.9 163.7h0M871.9 124.5h0M931.2 170.4h0M928.8 146.2h0M888.7 181.8h0M885.5 167.7h0M906.6 162.7h0M882.3 151.8h0M902.7 131.3h0M870.1 113.3h0M870.7 104.9h0M877.5 189.2h0M876.5 167h0M882.7 186.1h0M888.4 167h0M856 187.1h0M936.8 183.3h0M878.3 147.4h0M867.3 185.9h0M862.6 127.3h0M854.5 105.7h0M854.1 113.5h0M867.2 137.7h0M901.7 158.3h0M889.2 151h0M926.3 153.1h0M899.9 184.1h0M918.9 181.1h0M916.4 128.1h0M868.5 164.7h0M919.8 141.8h0M867 183.6h0M881.2 127.9h0M866.9 141.3h0M891.2 166.5h0M928.2 137.6h0M920.7 166.3h0M868.7 113.9h0M928.6 151.8h0M903.5 152.9h0M864.9 108.3h0M874.4 182.9h0M920.4 130.4h0M863.2 135.4h0M878.8 149.3h0M866.5 174.4h0M870.2 153.9h0M866.2 100.5h0M937.9 176.9h0M857.9 136.6h0M900.5 141.9h0M925.8 186.7h0M853.7 131.2h0M922 147.6h0M895.6 158.6h0M918.1 163.1h0M927.4 150.1h0M861.9 180.8h0M868.7 146.6h0M925.5 155.4h0M865.2 166.5h0M917.6 133.4h0M856.8 107.8h0M909.7 176.2h0M880.8 105.3h0M880.1 125.2h0M875 130.1h0M863.3 150.6h0M912.5 131.6h0M874.7 126.9h0M857.8 159.1h0M932.2 161.9h0M869.8 115.9h0M908.5 169.3h0M852.7 170.9h0M859.8 112.9h0M889.3 151.7h0M890.4 136.4h0M897.1 145.9h0M900.8 180.1h0M869.1 177h0M918.2 178.1h0M867.1 187h0M866.8 100.7h0M925.7 137.5h0M865.3 157.9h0M896.4 171.2h0M857.1 187.1h0M873.6 139.9h0M901.6 187.2h0M870 174.5h0M877.5 188.5h0M854.5 117.1h0M879.4 137.5h0M870.2 123.1h0M868.4 111.2h0M874.2 133h0M873.1 175.5h0M894.5 127.7h0M912.9 163h0M920.5 173.3h0M885.3 155.3h0M904.8 168.9h0M880.3 188.7h0M855.2 176.1h0M885.1 137.9h0M870.2 135h0M859.5 168.4h0M893.8 128h0M889.8 168.9h0M881.2 177.1h0M877.2 186.7h0M936.3 166.1h0M935.2 189.1h0M878 169.1h0M882.8 142.2h0M874.6 126.4h0M894 144.6h0M873.4 138.9h0M853 116.9h0"/><path fill="none" stroke="#be5aa0" stroke-width="3.4" stroke-opacity="0.78" stroke-linecap="round" d="M849 257.7h0M848.5 253.8h0M865.6 254.6h0M841.3 255.5h0M852.9 251.8h0M840.8 256.8h0M854.1 256.2h0M840.9 257.1h0M855.4 255.3h0M859.5 256.3h0M853.2 254.5h0M847 256.3h0M857.2 252.4h0M854.8 256.1h0M868.5 256.2h0M861.2 250.5h0M853.9 258.1h0M857.3 252.1h0M854.6 258.1h0M862.7 253.2h0M854.2 258.1h0M851 258h0M860.5 257.5h0M846.4 255.9h0M865.4 254.2h0M858.9 255.7h0M844.3 253.9h0M852.4 255.2h0M856 256.6h0"/><path fill="none" stroke="#5aaadc" stroke-width="3.4" stroke-opacity="0.78" stroke-linecap="round" d="M797.6 181.3h0M784.3 184.3h0M804.4 162.8h0M750.4 160.7h0M870.8 91.5h0M804.5 182.4h0M799.8 165.9h0M793.9 182.8h0M776.7 185.5h0M801 173.3h0M814 171.2h0M805.2 172.5h0M880.2 90.9h0M804.4 188.7h0M805 174.6h0M790.9 176.3h0M796.3 179.4h0M809.6 180h0M873.7 109.7h0M789.3 186.7h0M771.1 189.9h0M793.3 180.1h0M821.2 169.8h0M782.2 175.8h0M804.8 171.6h0M859.8 101.6h0M808 177h0M775.7 187h0M795 179.7h0M796.5 185h0M773.9 196.7h0M809.9 169.9h0M804.1 161.7h0M790.1 178.7h0M797.9 190.8h0M879.1 89.2h0M842 116.4h0M794.4 193.8h0M806.3 175.5h0M785.9 182.9h0M749 165.1h0M751.7 151.8h0M801 195.9h0M881.6 90h0M753 147.2h0M888 96.3h0M796.1 176.4h0M797.6 195.1h0M749.6 181.6h0M851.7 103.2h0M797.8 184.7h0M784.7 177.5h0M798.9 188.1h0M871.7 108.2h0M805 178.5h0M792 186.3h0M880 96.6h0M796.4 179.7h0M806.4 177.8h0M795.5 182.6h0M808.6 165.9h0M844.3 108h0M792.3 190.9h0M798 191.8h0M874 101.6h0M834.6 111.7h0M782.5 180.5h0M795.5 191.1h0M799.6 183.6h0M776 178.4h0M880.4 106.7h0M862.5 103.5h0M854.4 97.7h0M759.7 168h0M790.5 181.6h0M783.1 169.3h0M791.9 169.4h0M787.6 173.7h0M862.4 97.4h0M847.6 95.6h0M792.4 185.9h0M783 189.5h0M868.5 100.7h0M789.3 185.5h0M795.7 189.1h0M782.3 190.9h0M801.8 184h0M794.4 188.7h0M838.3 103.9h0M876.8 93.3h0M871.1 89.8h0M789.7 193.1h0M792.6 171.3h0M854.6 97.4h0M750.1 174.8h0M886.8 91.4h0M844.1 94.3h0M788.7 179.6h0M804.4 175.1h0M787.6 189.7h0M800 186.7h0M886.2 91.5h0M857.5 104.9h0M795.9 180.9h0M878.7 89.8h0M864.9 99.5h0M783.1 182.8h0M791.4 180.9h0"/><path fill="none" stroke="#463c6e" stroke-width="3.4" stroke-opacity="0.78" stroke-linecap="round" d="M870.6 177.4h0M874.2 168.9h0M865.9 179.3h0"/><path fill="none" stroke="#5aaa78" stroke-width="3.4" stroke-opacity="0.78" stroke-linecap="round" d="M927.2 179h0M921.9 168.8h0"/><path fill="none" stroke="#7850aa" stroke-width="3.4" stroke-opacity="0.78" stroke-linecap="round" d="M900.6 147.2h0M921.2 147.5h0M906.1 152.5h0M863.7 170.5h0M937.4 152.2h0M911.8 168.2h0M914.3 146.8h0M915.8 146.6h0M939.8 151.6h0M941 178.9h0M930.4 154.3h0M930.2 158.1h0M934.5 162.7h0M939.8 149.7h0M904.8 169.8h0M912.3 176h0M895.4 149.2h0M942 153.8h0M943.8 170.5h0M929.7 153.7h0M885.8 179.5h0M941.2 169.4h0M897 154.6h0M929.4 147.2h0M913.9 173.5h0M902.6 158.4h0M862.2 159.9h0M937.2 165.6h0M888 157.6h0M931.2 147.1h0M895.8 152.8h0M905.5 177.9h0M887.6 157.6h0M870.2 165.2h0M869.6 168.1h0M868.3 162h0M872.7 169.5h0M925.1 156.9h0M900.4 155.6h0M905.2 156.4h0M930.3 168.7h0M915.3 177h0M887.2 167.6h0M865.8 168.1h0M908.9 169.7h0M909.7 172h0M906.5 172.3h0M913.2 174h0M924.6 175.4h0M902.7 159.2h0M907.8 172.4h0M919.8 169.1h0M890.8 179h0M882.7 154.2h0M900 180.5h0M919.8 180.7h0M935.2 148.1h0M943 163.4h0M920.3 163.1h0M893.2 167.9h0M898.2 146.3h0M938.3 157.1h0M936.5 173.7h0M925.7 168h0M941.8 172.8h0M920.3 147.7h0M884.7 151.8h0M935.4 156.4h0M936.1 155h0M884.8 166.2h0M938.8 156h0M935.8 171.9h0M929.4 161.7h0M875.8 166.8h0M940.8 174.3h0M939.5 170.6h0M914.5 155.1h0M941.9 171.3h0M894 175.8h0M942 166.1h0M936.8 175.2h0M882.6 146.3h0M895.9 167h0M892.2 166.8h0M901.6 167h0M900.5 155.9h0M871.8 154h0M865.7 175.2h0M899.3 157.5h0M878 175.5h0M909.4 178.9h0M907.4 152.8h0M886.2 154h0M912.7 150h0M943.1 166.5h0M943.1 179.6h0M938.2 159.1h0M883.6 167.1h0M906.6 159.9h0M877.5 173.8h0M939.4 158.7h0M887.5 169.6h0M883.1 152.3h0M870.3 152.4h0M906.8 151h0M885 153.9h0M904.8 152.3h0M929.7 155.9h0M867.5 157.3h0M943.6 177.1h0M932.3 149.8h0M934.3 171.7h0M939.7 179.7h0M898.7 173h0M870.8 180.7h0M903.8 149.5h0M927 176.7h0M933.5 171.5h0M911.4 151.7h0M868.1 172h0M938 156.1h0M933.4 153h0M917.6 171.7h0M873.2 161.9h0M900.1 175h0M904.2 149.6h0M922.2 160.6h0M894.6 152.7h0M910.1 179h0M887.3 153.5h0M894 159.4h0M927.1 158h0M863 176.8h0M877.2 147.3h0M907.3 158.1h0M932.9 180.3h0"/><path fill="none" stroke="#8c64aa" stroke-width="3.4" stroke-opacity="0.78" stroke-linecap="round" d="M852.6 197.2h0M853 210.6h0M858.9 208.6h0M859.2 217.1h0M839.9 206.6h0M862.6 214.8h0M830.4 233.4h0M859.7 212.3h0M849.7 206.8h0M828 229.4h0M823.3 229.7h0M836.8 221.8h0M867.8 212.6h0M853.8 204.5h0M861.3 224.3h0M837.6 216h0M840.6 229.7h0M853.4 202.4h0M849.2 207.5h0M830.6 227.4h0M857.7 194.8h0M856.3 195.3h0M838.8 237.5h0M846.1 214.8h0M854.3 195.9h0M828.5 241h0M846.6 185.4h0M834.1 216.2h0M853.3 217.1h0M840.5 223.2h0M858 200.8h0M861.1 207.5h0M837.8 218.2h0M850.1 194h0M845.2 210.3h0M845.6 238.2h0M856.2 196.7h0M841.1 238.6h0M839.4 223.8h0M859.4 210.9h0M843.9 238.2h0M844.7 218.1h0M834.6 218.6h0M849.2 205.6h0M836.6 204.8h0M842.7 211.5h0"/><path fill="none" stroke="#8c5aaa" stroke-width="3.4" stroke-opacity="0.78" stroke-linecap="round" d="M816.5 241.2h0M835.7 257.1h0M819.8 254h0M844.3 252.3h0M825.4 232h0M841 233.8h0M840 257h0M836.9 248.8h0M838.9 239.5h0M825.1 237.3h0M829.6 256.1h0M838.4 243h0M827.1 237.6h0M823.1 229.5h0M818.4 245h0M835.7 248.9h0M845.8 248.9h0M834.5 242.7h0M831.5 241.6h0M822.9 249.6h0M830 250h0M837.8 248.2h0M840.9 252h0M837.5 244h0M832.1 255.9h0M839.6 257.6h0M835.4 256.5h0M832.2 254.7h0M831.1 253.6h0M829.8 251.8h0M820.3 227.6h0M846.9 258h0M839.1 247.7h0M834.6 255.1h0M838.8 250.4h0M839 251h0M833.3 252.7h0M834.4 252.6h0M816.9 237.4h0M830.2 254.7h0M835.8 240h0M836.1 242.1h0M833.6 255.1h0M840 256.3h0M832.1 253.4h0M832.9 240.9h0M838.9 256.3h0M826.8 245.6h0M826.6 255.6h0M840.9 237.9h0M829 250.2h0M837.9 257.4h0M822.1 229.1h0M826 228.1h0M839.3 241.7h0M822.3 235.2h0M832.4 256.7h0M832.3 247.5h0M851.2 256.6h0"/><path fill="none" stroke="#965aaa" stroke-width="3.4" stroke-opacity="0.78" stroke-linecap="round" d="M840.3 256.8h0M840.7 248.4h0M842.7 257.8h0M842.6 251.1h0"/><path fill="none" stroke="#6ebe6e" stroke-width="3.4" stroke-opacity="0.78" stroke-linecap="round" d="M943 198.2h0M946.9 204.7h0M937 194.5h0M917.8 189.1h0M950.5 196.1h0M929.6 183.9h0M940.4 196.3h0"/><path fill="none" stroke="#3c286e" stroke-width="3.4" stroke-opacity="0.78" stroke-linecap="round" d="M900.3 99.8h0M902 103.6h0M905 98.5h0M903.7 100.7h0M868.2 165.9h0M906.9 102.9h0M869.8 173.7h0M902 100h0M911.6 104.3h0M908.6 100.8h0M902.1 97.7h0M906.9 109.4h0M862.7 159.4h0M905.7 101.2h0M895.3 102.3h0M901.2 99.4h0M892.6 93.2h0M896.7 96.3h0M904.9 101h0M902.8 100.2h0M906.5 108.5h0M907.9 101.1h0M893.7 98.4h0M907.8 101.3h0M901.8 105.9h0M852.8 173.2h0M895.6 102.2h0M901.4 109.9h0M902.6 108.6h0M907.4 107.9h0M854.8 164.3h0M894.2 107h0M912 106.1h0M895.9 98.2h0M904 105.3h0M911.4 105h0M917 108.6h0M895.6 99.7h0M901 105.3h0M915.9 104.9h0M902 100.3h0M897.8 99.4h0M913.4 104.5h0M897.2 100.7h0M851.9 174.4h0M907.3 110.1h0M895.8 104h0M900 99.8h0M903.3 103.7h0M898.6 97.9h0M908.3 107.6h0M905.9 99h0M864.9 161.9h0M856.6 162.5h0M893.9 94.6h0M899.2 103.5h0M909.4 106.6h0M898.4 97.3h0M894.2 101.6h0M857.1 174.7h0M900.4 101.8h0M899.9 99.5h0M899.8 114.8h0M867.7 163.6h0M860.1 173.1h0M899.8 100.4h0M894.9 96.6h0M851.5 153.7h0M854.5 158.7h0M890.6 92.5h0M909.4 103.8h0M891.5 98.9h0M897.3 99.1h0M910.9 106.7h0M911.9 107.6h0M855.5 164.2h0M900 97.3h0M846.7 168.9h0M903.6 107.8h0M877.2 161.3h0M916.2 105.8h0M898.2 101.6h0M864.4 168.3h0M898 112.9h0M894.7 110.6h0M914 107.8h0M909.4 104.1h0M893.9 99h0M854.2 166.7h0M867.6 167.3h0M901.6 100.9h0M870.7 157.3h0M899.9 98h0M850.6 160.6h0M855.9 154.5h0M857 151.5h0M899.2 110.1h0M895.1 94.3h0M908.8 100.6h0M904.8 104.9h0M909.4 106.8h0M896.5 94.7h0M913.2 112h0M886 92.2h0M857.1 168h0M860.4 166.7h0M908.8 101.9h0M911 107.6h0"/><path fill="none" stroke="#503c8c" stroke-width="3.4" stroke-opacity="0.78" stroke-linecap="round" d="M889 149.4h0M888.3 148.4h0M862.4 130.4h0M881.2 135.1h0M876.5 153.2h0M870.5 145.1h0M871.7 146h0M873.4 152.4h0"/><path fill="none" stroke="#5aa0d2" stroke-width="3.4" stroke-opacity="0.78" stroke-linecap="round" d="M881.3 96.4h0M877 99.4h0M810.2 179.6h0M874.4 106h0M816.1 175.8h0M882.6 91.8h0M875.6 100.7h0M867 100.9h0M849.7 115h0M836.3 114.8h0M843.2 105.6h0M874 105.2h0M833.9 114h0M848.1 104.7h0M880.1 90h0M872.1 91.5h0M871.3 109.6h0M849.8 110.5h0M828.5 160.6h0M875.6 90.3h0M842 110.9h0M877.2 100.1h0M875 96.9h0M844.6 111.4h0M878.7 91.4h0M816.2 156.5h0M844.1 112.9h0"/><path fill="none" stroke="#3c3278" stroke-width="3.4" stroke-opacity="0.78" stroke-linecap="round" d="M898.4 108.9h0M908.6 107.4h0M898 108.3h0M893.3 111.7h0M910.9 116.1h0M916.6 105.4h0M893.6 111.7h0M925.2 118.2h0M913.2 108.8h0M913.1 103.1h0M893 110.1h0M913.9 113.9h0M885.7 95.2h0M902.4 102.7h0M895.8 94.4h0M900.1 115.9h0M899.4 100.2h0M909.4 108.6h0M904 98.7h0M918.1 106.4h0M919.6 124h0M891.5 102.8h0M920.7 112.3h0M900.8 111.8h0M918.1 108.5h0M907.8 100.6h0M904.1 104.4h0M923 111.1h0M907.9 104.2h0M919.9 107.7h0M892.9 97.1h0M896.5 95.9h0M913.6 112.4h0M915.2 105.2h0M906.4 106.5h0M891.1 98.3h0M909 113.4h0M901.8 110.6h0M916.3 111.5h0M917.4 106.9h0M901.1 97.2h0M906.3 108.5h0M919.7 108.4h0M918.6 107.3h0M914 105.1h0M888.4 93h0M906.8 119.9h0M913.7 106.2h0M914.1 105.5h0M885.3 94.2h0M905.5 108.4h0M891.9 104.7h0M890.8 100h0M907.9 104.7h0M906.6 108.4h0M905.1 98.6h0M912.2 119.1h0M917.4 106.7h0M917.9 110.2h0M918.7 109.7h0M919.4 112.3h0M891.1 104.2h0M911.6 107.1h0M894.4 94.3h0M912.4 104.8h0M909.1 106h0M889.9 101.3h0M894.4 101h0M905.8 109.4h0M914.6 110.5h0M897.5 101.4h0M909.3 123.6h0M906.4 100.6h0M919.8 112.1h0M889.6 92.3h0M893.7 99.3h0M928.8 121.2h0M915.8 106h0M896.8 96.8h0M914.9 113.8h0M901.5 96.8h0M894.8 112.2h0M912.9 108.4h0M920.6 108.2h0M886.6 91.1h0M896.7 97.9h0M917.4 105.9h0M915.5 109.1h0M916.6 108.1h0M887.9 95.6h0M902.5 99.4h0M904.4 108.2h0M909.8 103.9h0M897.7 99h0M918.6 110.4h0M887.7 92.4h0M901.1 104.5h0M922.2 109.4h0M896.5 99.8h0M885.7 97.2h0M914.4 107.1h0M912.3 106.5h0M911.2 109.8h0M901 109.9h0M900.2 99h0M919.4 114.5h0M923.3 115.8h0M891.5 110.5h0M911.9 114h0M895.4 97.9h0"/><path fill="none" stroke="#b4d250" stroke-width="3.4" stroke-opacity="0.78" stroke-linecap="round" d="M918.2 217.5h0M896.6 213.6h0M925.7 230.9h0M871.2 231.7h0M912 225.7h0M892.3 216.5h0M908.1 226.4h0M913.6 226.9h0M912.4 226.8h0M911.7 211.8h0M890.7 230.8h0M894 211.1h0M882.3 231.8h0M899.3 203.7h0M911.2 223.9h0M931 223.9h0M895.9 205.8h0M900.1 220.1h0M903.1 205.6h0M901.4 207.7h0M889.3 211.2h0M919.5 234.3h0M893.5 225.8h0M888.8 223h0M899.7 194.8h0M915.3 221.4h0M919.6 218.8h0M924.1 232.1h0M922.8 213.3h0M908.9 215.6h0M915.5 234.4h0"/><path fill="none" stroke="#6496d2" stroke-width="3.4" stroke-opacity="0.78" stroke-linecap="round" d="M793.1 200.3h0M751.9 166h0M785.3 198.8h0M779.5 190.6h0M760.3 165.3h0M752.1 170h0M756.7 174.2h0M755.7 165.9h0M753.7 163.1h0M818.1 178.8h0M767.1 198.7h0M776.9 194.6h0M764.4 190.7h0M788.2 201.6h0M753.4 168.7h0M779.9 193.1h0M775.6 194.6h0M762.6 178.4h0M752.9 163.7h0M773.1 204.6h0M769.1 189.1h0M750.2 164.9h0M767.2 197.5h0M753.9 177.3h0M752.3 174.9h0M749.2 165.8h0M811.7 177.2h0M772.4 196.7h0M750.5 178.1h0M749.2 162.9h0M752.1 176.2h0M761.5 190.4h0M752.8 173.7h0M750.9 164.9h0M767.8 194.4h0M751.8 164.4h0M772.9 194.9h0M751.8 168.8h0M761.2 185.3h0M782.5 174.2h0M752 164.4h0M831.7 187.8h0M753.5 167.2h0M774.1 193.1h0M763.7 182.1h0M750.7 172.2h0M760.5 197.7h0M767 173.6h0M813.1 181.6h0M768.3 196.2h0M775.1 180.6h0M796.7 193.1h0M770.1 187.2h0"/><path fill="none" stroke="#5a96c8" stroke-width="3.4" stroke-opacity="0.78" stroke-linecap="round" d="M880.5 103.2h0M837 123h0M867.1 114.3h0M837.1 124.9h0M830.5 118.5h0M814 167.1h0M818.4 172.5h0M884.9 98.9h0M862.4 107.9h0"/><path fill="none" stroke="#8c6eb4" stroke-width="3.4" stroke-opacity="0.78" stroke-linecap="round" d="M834.5 220.2h0M830.7 219.3h0M830.8 214.4h0M845.3 214.5h0M843.9 211.6h0M832.6 220.6h0M831.9 216.2h0M831 209.2h0M849.1 210.8h0M829.9 211.8h0M817.6 214.3h0M820.7 210.7h0M821.4 221.7h0"/><path fill="none" stroke="#6478c8" stroke-width="3.4" stroke-opacity="0.78" stroke-linecap="round" d="M859.8 116.9h0M861.9 122.4h0M867.6 129.2h0M854.7 131.2h0M869.4 128.6h0M866.5 98.9h0M870.5 120.2h0M862.9 119.4h0M888.8 131.6h0M844.2 114.8h0M867.6 116.9h0M859.1 138.2h0M874 139.7h0M860.1 126.6h0M860.6 129.2h0M862.1 140.9h0M879.9 132h0M885.2 130.1h0M864.4 122.8h0M869.9 124.2h0M862.8 117.5h0M861.1 119h0M883.6 117.7h0M883.3 120.5h0M867.5 118.3h0M853.1 131h0M859.8 127.4h0M863.7 133.1h0M856.2 124.6h0M855.3 125.5h0M864.9 137.7h0M856 130h0M873.6 119.8h0M850.1 125.9h0"/><path fill="none" stroke="#64b46e" stroke-width="3.4" stroke-opacity="0.78" stroke-linecap="round" d="M899.7 170.6h0M895.9 169.6h0M911.3 179.3h0M903.6 182.8h0M885.7 181.9h0M915.7 180.8h0M890.4 188.1h0M907.9 166.9h0M898.9 180.9h0M897 171h0M903.1 181.8h0M879.3 183.6h0M900 182.7h0M891.8 187.8h0M901 187.1h0M913 181.4h0M901.5 178.1h0M911.1 172.3h0M902 192.1h0M903.5 178.1h0M904.8 174h0M906.8 175h0M891.1 172.8h0M898.8 175.2h0M905.6 184.9h0M889.9 181.1h0"/><path fill="none" stroke="#32968c" stroke-width="3.4" stroke-opacity="0.78" stroke-linecap="round" d="M950.8 151.2h0M944.8 158.6h0M926.3 160.2h0M939.2 163.3h0M947.9 146.2h0M952.7 155.6h0M952.1 153.5h0M922.4 156.6h0M929.1 167.6h0M945.6 141.8h0M933 166.6h0M936.6 158.3h0M945.2 144.4h0"/><path fill="none" stroke="#6496dc" stroke-width="3.4" stroke-opacity="0.78" stroke-linecap="round" d="M803.4 191.4h0M752.9 172.3h0M798.9 194.5h0M750 167.3h0M804 198.7h0M757.6 159.9h0M758 185h0M768.5 185.4h0M752.7 155.7h0M754.3 167.2h0M767.7 192.2h0M767.6 185.5h0M760.6 165.9h0M750.8 167.7h0M804.7 191.2h0M763.9 184h0M749.5 175.3h0M748.9 166.8h0M759.1 186.6h0"/><path fill="none" stroke="#28a08c" stroke-width="3.4" stroke-opacity="0.78" stroke-linecap="round" d="M950.3 159h0M945.8 165.7h0M953.9 162h0M947.6 161.1h0M953.6 163.9h0M945.3 175.2h0M947.4 164.7h0"/><path fill="none" stroke="#826ebe" stroke-width="3.4" stroke-opacity="0.78" stroke-linecap="round" d="M803.1 216h0M799.4 233.4h0M802.3 231h0M805.7 220.1h0M780 218h0M821.9 216.4h0M798.7 214.3h0M800.9 232.3h0M803 227.9h0M818 224.8h0M802.7 221.5h0M791.3 215.6h0M810.8 218.2h0M799.1 212.5h0M795.5 219.3h0M792.9 227.7h0M801.7 225.8h0M804.8 227.7h0M799 224.8h0M792.5 216.7h0M810.5 217.1h0M802 209.9h0M808.4 221.4h0M811.4 218.8h0M804.9 223.2h0M801.8 221.4h0M799.3 224h0"/><path fill="none" stroke="#648cd2" stroke-width="3.4" stroke-opacity="0.78" stroke-linecap="round" d="M771.9 193.7h0M749.9 166.4h0M749.1 164h0M757 170.7h0M755.9 190.9h0M759.3 196.3h0M766.9 192.2h0M768.2 189.2h0M763.7 192.8h0M856.1 119h0M767.9 186.3h0M762.3 190.4h0M752 167.6h0M753.3 171.5h0M748.7 168.3h0M752.2 166.6h0M765 195h0M754.8 171.9h0M762.1 190.2h0M765.9 182.1h0M750.6 168h0M764.2 197h0"/><path fill="none" stroke="#28828c" stroke-width="3.4" stroke-opacity="0.78" stroke-linecap="round" d="M944.7 139.7h0M946.4 141.4h0M943.2 139.6h0M944.5 139.3h0M953 157.2h0M939.9 145.1h0M934.6 141.9h0"/><path fill="none" stroke="#8c50aa" stroke-width="3.4" stroke-opacity="0.78" stroke-linecap="round" d="M836.8 247.7h0M829.5 254.1h0M846.3 255.8h0M851.5 253.7h0M830.6 249.6h0M835.1 256.1h0"/><path fill="none" stroke="#7864be" stroke-width="3.4" stroke-opacity="0.78" stroke-linecap="round" d="M773.2 227.2h0M784.6 215.7h0M772.5 218.9h0M781.7 213.9h0M782.3 209.9h0M769.4 222.6h0M773.4 222.7h0M772.7 217.6h0M770.6 222.4h0M787 214h0M772.5 223.6h0M775.8 213.6h0M772.7 210.3h0M767.7 213.7h0M759.8 210.6h0M780.3 225.7h0M769.7 216.9h0M782.2 212.7h0M781.9 218.6h0M763.3 211.5h0M767.9 221.1h0M768.6 216.2h0M770.3 216.1h0M770.4 217.9h0M766.1 213.1h0M765.5 218.1h0M775.3 214.3h0M776.9 222.7h0M780.9 218.9h0M770.5 216.2h0M777 215.1h0M764 213.3h0M772.3 219.3h0M770 220.1h0M767.9 204.5h0M769.1 221.2h0M769.5 215.8h0M790 229.7h0M801.6 240.4h0M768.2 218h0M768.7 212.9h0M775.3 209.5h0M768 206.7h0M806.2 225.1h0M777.6 215.3h0M792 213.3h0M783.2 214.6h0M763.9 212.8h0M765.6 215.3h0M775 213.7h0M797.4 220h0M789.3 212.9h0M784 209.8h0M768 214.8h0M768.4 216h0M808.3 230.2h0M764.4 213.4h0M779 224h0M769.7 208.7h0M799 225.6h0"/><path fill="none" stroke="#788278" stroke-width="3.4" stroke-opacity="0.78" stroke-linecap="round" d="M866.9 187.1h0"/><path fill="none" stroke="#b4dc46" stroke-width="3.4" stroke-opacity="0.78" stroke-linecap="round" d="M915.7 196h0M924.6 189.1h0M913.7 194.4h0M900.8 214h0M922.9 202.8h0M924.9 200.2h0M933 212h0M923 198.9h0M913.8 195h0M903.2 199.7h0M913.4 215.2h0M903.9 207.2h0M915.1 221h0M896.8 207.8h0M921.1 198.4h0M907.9 192.9h0M920.6 205.8h0M905.7 198.8h0M925.5 194.7h0M899.8 207.7h0M920.8 210.9h0M910.9 212.4h0M914.3 201.6h0M917.2 222.2h0M908.2 202.7h0M912 208.5h0M907.1 198.3h0"/><path fill="none" stroke="#50468c" stroke-width="3.4" stroke-opacity="0.78" stroke-linecap="round" d="M871.5 147.1h0M860.4 150h0M890.7 139.1h0M888.2 141.6h0M856.9 152.1h0M906.9 135.8h0M862 141.7h0M900 155.6h0M895.3 155.8h0M898.6 154.4h0"/><path fill="none" stroke="#5aa0dc" stroke-width="3.4" stroke-opacity="0.78" stroke-linecap="round" d="M753.8 164h0M779 174.6h0M796.4 186h0M794.4 169.2h0M803.6 186.8h0M778 188.8h0M751.4 152.1h0M771.6 196.9h0M752.1 171.5h0M782.4 185.7h0M773.8 177.6h0M757.1 158.3h0M761 177h0M771.3 187.8h0M778.8 191h0M753.5 167.2h0M749 178.2h0M814.6 172.5h0M801.9 177.7h0M793.7 195.3h0M751.5 163.1h0M752.2 159.1h0M779.5 194.4h0M754.5 173h0M764.5 184.9h0M804.8 180.7h0M806.4 177.6h0M753.6 164.3h0M844.4 107.3h0M750.5 165.7h0M757.1 159.1h0M772.4 174.4h0M761.2 175h0M750.8 155.9h0M769.2 184.8h0M752.4 162.3h0M760.8 155.2h0M764.2 187.4h0M751.1 177.2h0M789.2 205.7h0M751.3 161.3h0M756.4 154.6h0M754.8 164.2h0M751.8 164h0M791.8 198.2h0M753.4 168.5h0M752.3 174.6h0M757.8 186.5h0M785.8 197.4h0M847.4 107h0M772 207.2h0M763.1 165.9h0M805.1 179.1h0M755.7 161.8h0"/><path fill="none" stroke="#285a8c" stroke-width="3.4" stroke-opacity="0.78" stroke-linecap="round" d="M934.4 129.5h0M931.6 133.8h0M929.3 139.3h0M930.3 121.2h0M929.4 122h0M936.6 126.1h0M925.6 143.3h0M932 126.4h0M924.4 111.2h0M934.7 123.8h0M927.4 121.7h0M942.2 140.9h0M933.4 135.5h0M922.7 132.6h0M932.3 124.2h0M931.3 122.9h0M912.2 129.1h0M938.5 132.1h0M928.5 126.5h0M934.4 125.3h0M934.5 134.9h0M931.7 118.1h0M925.2 116.5h0M934.8 144.2h0M932 118.3h0M934 136.2h0M930.3 128.1h0M929.2 128.2h0M943.8 140.6h0M939.5 131.5h0M935.1 126.4h0M933.5 131.1h0M936.8 126.2h0M933 135h0M931.6 136.4h0M930.5 134.1h0M936.4 123.3h0M936.6 131.6h0M918.4 139.5h0M926.6 113.2h0M929.7 122.3h0M936.9 131.6h0M921.2 124.7h0M937.8 131.2h0M934.6 145h0M945.7 142.2h0M930.2 144.8h0M939.6 141.3h0M940.9 133.3h0M926.5 124.4h0M924.3 139.8h0M919.4 125.9h0M929.2 117.2h0M931.7 128.1h0M930.2 126.1h0M933.4 143.3h0M934.9 132.2h0M933.8 137.5h0M929.5 126.1h0M922 126.2h0M938.6 137.6h0M936.4 129h0M937.6 133.3h0M905 125.7h0M929.1 126.3h0M932.9 128.2h0M924 121.6h0M941.9 133.4h0M934.3 126.8h0M926.8 128h0M930.9 120.3h0M941.5 143h0M939.7 138.3h0M934.5 122.7h0M919.4 126.5h0M942 130.9h0M937.2 125.4h0M929 117.6h0M927.6 126.2h0M933.2 137.7h0M940.3 135.6h0M929.5 115.9h0M931.1 126.1h0M932.4 121.1h0M933.4 120h0M928.8 118.7h0M926.3 134.8h0M933.2 131.8h0M924.8 119.5h0M935.5 127.5h0M928.7 132.9h0M933.8 127.3h0M921.3 122.4h0M924.7 118.1h0M930 119.7h0M933.5 122.2h0M940.2 135.2h0M928.2 142.3h0M938.4 138.6h0M928 116.1h0M937.5 130.8h0M937.2 130.3h0M943.4 134.5h0M937.1 137.1h0M934.9 122.5h0M939.2 130.6h0M936.1 129h0M920.8 134.1h0M937 124h0M939.4 135.7h0M934.3 126.2h0M927.4 127.3h0M935.4 130.4h0M928.2 132.6h0M926.9 123.8h0M928.7 128h0M907.8 120.8h0M941.6 140.4h0M924.2 127h0M941.1 129.5h0M919.7 120.4h0M940.4 141.2h0M924.1 124.1h0M940.3 136.4h0M935 135.1h0M918.6 126.9h0M928.2 119h0M924.3 119.9h0M928.6 126.9h0M929.4 124.1h0M933.8 122.5h0M930 122.7h0M924.6 115.2h0M935.6 131.8h0M925.6 126.5h0M941.3 135h0M923.7 121.8h0M934.9 123h0M937.2 132.8h0M926.6 128.9h0M929.7 142h0M919.9 108.6h0M932.6 125.7h0M930.7 138.9h0M932.9 127.3h0M936.8 135h0M926.3 118.7h0M937.5 136.7h0M926.5 123.1h0M942.7 133.6h0M923 122.9h0M937.8 125.1h0M933.7 120.2h0M936.5 127.3h0M913.3 119h0M926 112.6h0M925.4 121h0M922 117.4h0M929.6 120h0M934 128.8h0M925.5 141.3h0M923.2 128h0M937.6 127.9h0M934.1 126.5h0M931.9 125.1h0M936.4 131.8h0M929.4 125.1h0M930.1 132.2h0M939.2 131.4h0M936.7 131.7h0M929.3 123.6h0M923.8 111h0M939.1 135.5h0M942.7 136.3h0M940.1 133h0M934.7 121.3h0M935.2 134h0M930.1 126.1h0M934.7 126.5h0M945.2 139.8h0M917.4 124.8h0M930.9 132.5h0M924.6 137.1h0M941.1 136.2h0M934.7 122.4h0M926.7 126.3h0M918.4 125.7h0M939.3 128.5h0M944.3 134.7h0M936.3 127.9h0M926 115.9h0M936.7 131h0M937.3 124.4h0M914.1 138.5h0M933.7 120.2h0M940.9 132.1h0M929.6 118.9h0M907.2 140.5h0M936.6 133.5h0M937.1 131.1h0M931.2 126.9h0M934.2 130.8h0M926.4 124h0"/><path fill="none" stroke="#a0d250" stroke-width="3.4" stroke-opacity="0.78" stroke-linecap="round" d="M929.3 224.4h0M924.9 204.6h0M938.7 212.2h0M934.1 200.9h0M940.1 211.7h0M907.8 183.9h0M928.7 204.3h0M926.2 227.5h0M939.7 210h0M932.5 220.5h0M934.6 218.3h0M931.6 196.8h0M929.1 220.8h0M942.1 213h0M924.9 203.9h0M946.1 205.2h0M929.6 225.5h0M933.1 209.2h0M939.9 210.4h0M929.3 212.1h0M938.5 215.9h0M931.5 221.6h0M924.8 222.9h0M925.3 226.1h0M930.7 216.9h0M939.3 213.8h0M925.3 220.3h0M923.9 221.4h0M941.1 205.8h0M934.8 219.7h0M934 218.4h0M930.6 216.5h0M934.6 211.8h0M929.7 219h0M925.3 222.8h0M934.9 218.8h0M935.1 212.4h0M933 213.9h0M945.7 206.4h0M939 211.9h0M936.3 219.7h0M936.1 212h0M942 209.7h0M924.4 213.7h0M937.8 212.7h0M941.3 211.8h0M938.7 214.5h0M932.2 198.5h0M919.6 220.9h0M943.6 209.8h0M934.6 219.6h0M929.3 198.2h0M936.1 215.1h0M941.4 208.9h0M935.4 209.1h0M929.2 221.4h0M939.6 216.8h0M940.2 210.9h0M936.6 211.5h0M928.3 220.3h0M935.3 197.1h0M943.3 204h0M945.8 201.6h0M942.4 208.8h0M939.5 213.6h0M941.5 207.8h0M942.7 206.4h0M931.1 220.5h0M923.6 212.4h0M934.2 221.6h0M931.9 217.3h0M935.8 204.1h0M931.1 225.4h0M935 212.9h0M923 225.3h0M931.8 204.9h0M931.5 215.2h0M936.1 219.9h0M938.8 216.1h0M943.7 210.7h0M942.2 212.9h0M925.9 219.4h0M941 204.8h0M936.4 209.8h0M941.3 209h0M941.2 212.8h0M926 225.3h0M936.8 215.4h0M937.1 214.1h0M943.9 208.6h0M945.9 206.6h0M925.1 229.4h0M940.3 213.3h0M942.5 212.6h0M940.6 208.9h0M942.4 210.1h0M942.6 212h0M937.8 200.6h0M920.4 215.2h0M941.2 204.2h0M927.2 205h0M931 226.9h0M934.5 217.1h0M918.2 197.6h0M919.9 211.3h0M942.8 212.1h0"/><path fill="none" stroke="#50aad2" stroke-width="3.4" stroke-opacity="0.78" stroke-linecap="round" d="M831.5 162.5h0M806.5 164.6h0M830.3 150.7h0M816.4 163.6h0M815.7 168.4h0M823.8 139.9h0M838.8 126.5h0M841.5 112.9h0M835.8 117.1h0M832.4 135.6h0"/><path fill="none" stroke="#786ebe" stroke-width="3.4" stroke-opacity="0.78" stroke-linecap="round" d="M766 213.7h0M765 210.2h0M764.4 212.2h0M760.2 201.4h0M773.4 221.5h0M772.6 217.7h0M782.2 205.8h0M773.8 209.6h0M767.1 208.8h0M765.3 210.7h0M758.4 205.8h0M766.9 221.1h0M769.1 218.6h0M787.5 212.4h0M795.8 212.3h0M767.8 210.2h0M766.7 217h0M800 211.7h0M763.7 213.6h0M769.3 219.9h0M763.1 213.4h0M765.8 205.9h0M761.5 212.6h0M793.4 206.2h0M782.6 210.3h0M765.1 208.8h0M774.1 211.8h0M765.5 214.2h0M766.2 212.5h0M786.8 210.7h0M766.5 215.8h0M762.3 210.7h0M767.3 211.9h0M758.1 207.7h0"/><path fill="none" stroke="#a07896" stroke-width="3.4" stroke-opacity="0.78" stroke-linecap="round" d="M848.8 231.4h0M856.3 230.2h0M848.6 232.7h0M849.1 231.9h0"/><path fill="none" stroke="#50508c" stroke-width="3.4" stroke-opacity="0.78" stroke-linecap="round" d="M847.2 144.6h0M861.9 143.1h0M912.6 144h0M858.1 142h0M891.1 152.1h0M912.4 152.1h0"/><path fill="none" stroke="#aa5aa0" stroke-width="3.4" stroke-opacity="0.78" stroke-linecap="round" d="M850.4 258.1h0M845.8 256.3h0M837 256.2h0M847.8 250.1h0M850.3 254.2h0M845.6 257.2h0M838.1 252.9h0"/><path fill="none" stroke="#504678" stroke-width="3.4" stroke-opacity="0.78" stroke-linecap="round" d="M850.1 180.7h0M860.8 184.8h0M866.1 190.1h0M857.3 168.2h0M850.9 178.4h0"/><path fill="none" stroke="#5096d2" stroke-width="3.4" stroke-opacity="0.78" stroke-linecap="round" d="M833.6 134.7h0"/><path fill="none" stroke="#46326e" stroke-width="3.4" stroke-opacity="0.78" stroke-linecap="round" d="M876.6 173h0M879.8 158.5h0M860.8 175.5h0M857.1 178.2h0M852.3 180.2h0M848.1 175.2h0M853.3 154.7h0M876.9 174.3h0M852.2 167.4h0M844.9 167.1h0M878.8 164.2h0"/><path fill="none" stroke="#325a8c" stroke-width="3.4" stroke-opacity="0.78" stroke-linecap="round" d="M922 139.1h0M920.9 122.2h0M914.6 145.1h0M928.3 141.4h0M929 117.2h0M911.7 128.8h0M922.6 134.1h0M920.7 124.4h0M919.9 130.8h0M917.4 129.6h0M926.6 123.5h0M918.4 119.7h0M918.6 135.2h0M924.6 138h0M926.1 112.7h0M913.2 132.6h0M911.1 120.5h0M909.4 141.6h0M921.2 115.1h0M900 130.1h0M916.5 121.5h0M932.6 123.3h0M917.1 137.3h0M914.9 123.5h0M914.3 138.9h0M915.2 143.7h0M914.3 119.7h0M907.8 124.2h0"/><path fill="none" stroke="#5a96d2" stroke-width="3.4" stroke-opacity="0.78" stroke-linecap="round" d="M822.1 169.2h0M832.9 124.2h0M846.7 116.7h0M860.1 107.2h0M844.2 117h0M840.7 123.6h0M865.9 111.7h0M868.2 91.7h0M857.8 107.2h0M858.9 115.4h0M863.7 108.4h0"/><path fill="none" stroke="#8250aa" stroke-width="3.4" stroke-opacity="0.78" stroke-linecap="round" d="M826.7 252.6h0M830.1 253.7h0M832.9 249.7h0M825.3 241.7h0M812.7 247.1h0M825.2 252.7h0M819.3 244.8h0M827 249.4h0M835.2 250h0M826.9 240.4h0M822.2 252.3h0M823.3 244.6h0M817.6 252.4h0M833.7 249.4h0M817.8 248.3h0M816.6 251.5h0M823.9 248.6h0M825.8 255.1h0M819.2 253.8h0M811.4 248.6h0M819.6 252.3h0M830.4 253.7h0M817.3 253.1h0M826.9 254.9h0M824.1 247.2h0M827.2 251.4h0M810.5 251h0M819.6 252.1h0M827.2 239.5h0M823 246.7h0M815 252.6h0M821.7 250.9h0M809.9 246.9h0M819.3 250.3h0M832.9 248.8h0M831.8 251.2h0M833.1 248.7h0M817.4 250.4h0M822 254h0M839.7 251.9h0M827.6 255.3h0M834.1 238.6h0M825.2 243.2h0M817.6 248.6h0M818.4 245.9h0M837.2 248.6h0M830 246.8h0M830.5 255.6h0M822.6 253.2h0M823.4 249h0M829.4 255.8h0M832.9 256.3h0M815.3 247h0M804.5 246.9h0M827.1 249.5h0M813.2 249h0M819.6 249.5h0M834.9 242.8h0M820.7 248.6h0M816.1 249.7h0M805 247.2h0M822.4 252.4h0M824.4 254.3h0M824.3 252.1h0M826.3 250.6h0M821.7 254.3h0M824.6 255.2h0M824.8 249.6h0M817 252h0M827.7 251.3h0M812.4 245.5h0M835.1 257.1h0M834.7 252.4h0M830.6 251.7h0M839.8 256h0M827.2 252.3h0M805.6 247.8h0M814.5 251.1h0M819.4 248.4h0M837.1 257.3h0M817.6 248.9h0M814.4 250.2h0M830.9 256.4h0M826.5 246h0M827.5 254.7h0M808 248.6h0M835.9 255.2h0M826.7 255h0M819.6 247.2h0M814.1 248.8h0M821.3 248.3h0M815.3 252.3h0M832.4 256.7h0M810.3 242.2h0M836.2 249.9h0M828.2 251.2h0M835 249.7h0M815.9 249.1h0M831 255.4h0M821 249.7h0M833.5 254.8h0M833.7 252.6h0M830.6 246.3h0M818.3 251.1h0M804.5 247.6h0M819 247.1h0M829.4 255.6h0M817 247.6h0M824.4 251.2h0M815.1 250.1h0M813 250.6h0M827.5 251.1h0M823.1 254h0M811.8 249.6h0M823.2 252.3h0M825.3 246.3h0M822.8 245.2h0M833.2 255.9h0M833 252.5h0M820.7 248.9h0M826 250.7h0M815 239.5h0M835.3 254.3h0M822.9 244.4h0M809.1 243.5h0M823.8 238.8h0M833.5 254.2h0M814.5 245.8h0M831.5 252.7h0M826.8 247h0M842.9 249.7h0M829.4 254.3h0M833.9 250.8h0M818.5 241.8h0M820 242.7h0M827.9 255.9h0M829.5 244.2h0M811.1 250.6h0M831.5 253.2h0M821.6 245.1h0M809.2 248.1h0M829.4 250.9h0M839 255.9h0M822.5 252.4h0M823.6 242.5h0M835.8 253.2h0M821.1 249.1h0M819.3 250.2h0M823.7 247h0M818.4 247.1h0M825.1 255h0M826.3 247.6h0M818 252.6h0M838.5 255.4h0M834.8 256.4h0M824 252.8h0M813.6 249.9h0M843.9 252.2h0M824 255h0M819.4 247h0M824.2 254.5h0"/><path fill="none" stroke="#8c64b4" stroke-width="3.4" stroke-opacity="0.78" stroke-linecap="round" d="M839.8 215.5h0M846.4 206.6h0M835.6 211.4h0M825.1 215.4h0M840.9 210.3h0M828.1 213.5h0M851.1 204.6h0M845.6 208.5h0M836.9 212.5h0M823.4 224.6h0M827.5 202.4h0M814.8 216.6h0M844.2 204.6h0M837.3 209.8h0M860.9 198.6h0M842.5 214.9h0M846.7 197.4h0M830.6 207.6h0M821.9 202.4h0M853.5 207.2h0M818.4 228.9h0M846.8 198.8h0M844.1 203.3h0M853.4 213.3h0M855.6 207.3h0M842 202.9h0M842.2 209h0M849.2 207h0M852.1 205.4h0M849.1 196.7h0"/><path fill="none" stroke="#6e82c8" stroke-width="3.4" stroke-opacity="0.78" stroke-linecap="round" d="M759 203.3h0M765.7 204h0M763.9 198.4h0M759.6 194.4h0M762.9 207.5h0M760.2 199.2h0M768.2 200.5h0M768.5 207.2h0M753.8 197.3h0M759.2 200.7h0M778 207.1h0M757.3 203.8h0M775.5 207.1h0M764.9 207.4h0M766.2 211.6h0M781.5 195.6h0M762.3 200.5h0M775.5 199.9h0M766.3 214.7h0M762.2 208.8h0M765.6 210.1h0M761.9 208.9h0M758.2 207h0M763 206.9h0M756.5 205h0M775.1 204.5h0M759.7 210.9h0M765.1 197h0M763.4 208.7h0M771 214.4h0M768.4 200.5h0M761.8 210.3h0M762.5 201.3h0M769.1 206h0M756.8 204h0M757.7 201.5h0"/><path fill="none" stroke="#3c3c78" stroke-width="3.4" stroke-opacity="0.78" stroke-linecap="round" d="M909 108.9h0M915.9 106.3h0M918.5 110h0M915.2 104.5h0M890 102.3h0M910.8 109.3h0M885.7 92.1h0M912.2 118.7h0M916.9 114h0M890.5 106.1h0M883.1 92.7h0M909.1 110.6h0M921.7 109h0M898.5 97.5h0M911.8 115.8h0"/><path fill="none" stroke="#3c7882" stroke-width="3.4" stroke-opacity="0.78" stroke-linecap="round" d="M936.2 145.6h0M923.1 143.8h0"/><path fill="none" stroke="#465a96" stroke-width="3.4" stroke-opacity="0.78" stroke-linecap="round" d="M891.3 99.7h0M887.4 103.5h0M838.4 147.1h0M885.5 94.1h0M894.4 106.6h0M888.6 92.5h0M885.9 90.9h0M840.7 151.5h0M882.4 91.6h0M890.3 99.3h0M889.7 102h0M840.1 153.6h0M840.4 157.1h0"/><path fill="none" stroke="#82aa6e" stroke-width="3.4" stroke-opacity="0.78" stroke-linecap="round" d="M883.1 183.5h0M902.7 193.7h0"/><path fill="none" stroke="#50aae6" stroke-width="3.4" stroke-opacity="0.78" stroke-linecap="round" d="M777.7 181.8h0M750.5 164.9h0M757.1 161h0M802.2 164.7h0M797.6 172.4h0M753.8 153.6h0M774.7 186h0M758.4 167.2h0M754.1 150h0M759 159.7h0M755 160h0M786.1 178.4h0M752 162.6h0M754.9 163.3h0M758.4 166.8h0M792.4 165.5h0M756.1 160.5h0M771.9 179h0M752.4 168.6h0M753.8 164.3h0M753.3 153.2h0M779.5 170.1h0M757.1 149.2h0M750.4 165.7h0"/><path fill="none" stroke="#50a0d2" stroke-width="3.4" stroke-opacity="0.78" stroke-linecap="round" d="M833 157.4h0M829.4 132.1h0M872.2 87.8h0M830.7 123.9h0M831.8 164.2h0M824.6 141.5h0M846.8 124.2h0M851 122.8h0M828.3 167.3h0M832.7 114.1h0M882.5 90.3h0M880.2 95.8h0M825.7 148.1h0M830.6 152.1h0M832.8 132.1h0M834.7 131.4h0M831.4 144.9h0M821.9 169.4h0M814.3 145.9h0"/><path fill="none" stroke="#c8dc46" stroke-width="3.4" stroke-opacity="0.78" stroke-linecap="round" d="M895.3 220.2h0M884.9 228.3h0M886.8 245.3h0M885.5 249.8h0M887.4 236.9h0M898 245h0M885 253.5h0M894.1 249.8h0M898.9 235.6h0M878.9 241.2h0M892.8 246.1h0M886.5 249.4h0M888.2 234h0M881.8 242.1h0M885.2 246.8h0M887.1 241h0M888.4 235.1h0M897.1 231.1h0M890.3 247.6h0M887.7 241.4h0M896.1 234.7h0M890.1 244.4h0M880.6 238.9h0M892 250.2h0M901.7 240.5h0M894.8 234.4h0M886.3 251.6h0M900.9 231.9h0M893.8 240.7h0M883.3 244h0M890.7 250.7h0M892.9 249.7h0M890.5 246.4h0M891.2 234.4h0M891.7 239.9h0M894.6 242.8h0M880 249.1h0M899.7 246.6h0M895.5 227.9h0M876.5 235.3h0M896.2 233.4h0M899.2 243.9h0"/><path fill="none" stroke="#46aa82" stroke-width="3.4" stroke-opacity="0.78" stroke-linecap="round" d="M954.3 177.6h0M953.8 161.7h0M954.4 172.5h0M930.8 167h0M950.4 177h0M944.7 175.2h0M949.3 177.9h0M944.6 171.1h0M953.7 168.9h0M951.6 167.8h0M941.4 166h0M934.2 171.5h0M949.8 172.7h0"/><path fill="none" stroke="#464682" stroke-width="3.4" stroke-opacity="0.78" stroke-linecap="round" d="M846.5 154h0M896.7 103.7h0M846.2 164.9h0M845.9 162.4h0M845.6 150.5h0M846.4 163.2h0M840.8 156.9h0M838.9 161h0M850.6 172.1h0M828.8 171.5h0"/><path fill="none" stroke="#505096" stroke-width="3.4" stroke-opacity="0.78" stroke-linecap="round" d="M899.3 127.1h0M873.6 145.4h0M859.9 137.5h0M900.3 137.2h0M875.3 145.5h0M891.1 123.1h0M897.8 130.5h0M893.6 135.9h0M879.2 138.8h0M892.8 129.4h0M894.7 131.7h0M895.2 128.2h0"/><path fill="none" stroke="#c85a96" stroke-width="3.4" stroke-opacity="0.78" stroke-linecap="round" d="M867.7 257h0M875.9 254.4h0M857.9 255.7h0M869.7 254.4h0M868.8 255h0M868.9 250.5h0M860.7 248.4h0M870.4 248.4h0M872.2 250.3h0M862.7 254.5h0"/><path fill="none" stroke="#5096c8" stroke-width="3.4" stroke-opacity="0.78" stroke-linecap="round" d="M842 140.9h0M878.7 89.8h0M887.7 95.9h0M888.5 93.6h0M819.1 155.2h0M892.3 102.7h0M819.4 155.6h0M884.6 93h0M828 158.6h0M884 94.7h0M881.3 91h0M841.8 125h0M829.4 132.3h0M888.5 92.9h0M836.4 142.8h0M829.4 124.7h0M832.9 156.9h0M890 97.4h0"/><path fill="none" stroke="#8c6eaa" stroke-width="3.4" stroke-opacity="0.78" stroke-linecap="round" d="M845.9 221.6h0M822.3 220.3h0M834.2 212.6h0M856.3 233.2h0M845.2 229.9h0M835.3 218.9h0M859.6 217.8h0"/><path fill="none" stroke="#3c9682" stroke-width="3.4" stroke-opacity="0.78" stroke-linecap="round" d="M924.3 167.1h0M909.3 167h0M921.6 149.4h0"/><path fill="none" stroke="#be8282" stroke-width="3.4" stroke-opacity="0.78" stroke-linecap="round" d="M869.7 241.2h0M864.3 239.5h0"/><path fill="none" stroke="#5ab4dc" stroke-width="3.4" stroke-opacity="0.78" stroke-linecap="round" d="M871.5 107.9h0M883 93.1h0M845.6 93.7h0M873.3 88.7h0M875.3 105.3h0M853 86h0M861.9 93.9h0M867.3 92.2h0M868.4 97h0M858.6 89.9h0M884 91.6h0M844.5 87.8h0M850.8 90.2h0M881.5 102.7h0M879.1 95.9h0M859.3 88.4h0M865.6 96.6h0M856.4 96.1h0M848.4 94.2h0M845.5 105.2h0M864 112.2h0M861.7 87h0M876.5 95.6h0M856.1 97.7h0M877.4 91.7h0M834 87.3h0M851.9 89.6h0M863.6 89.9h0M874.1 89.6h0M863.7 88.1h0M861 100.2h0M887.8 92.7h0M878.8 105.2h0M876.4 104.9h0M874.5 88.9h0M868.4 93h0M856.1 101.5h0M865.3 112.7h0M841.8 103.5h0M836.2 94.8h0M857.5 92.1h0M870.3 100.2h0M849.7 89.8h0M873.5 102.1h0M873.6 107.8h0M875 92.6h0"/><path fill="none" stroke="#50aadc" stroke-width="3.4" stroke-opacity="0.78" stroke-linecap="round" d="M854.3 97.5h0M825.3 128.6h0M760.9 149.4h0M834.9 133.4h0M801.5 162h0M765.9 178.9h0M817.6 165.1h0M821.3 162.3h0M828.7 148.6h0M811 162.6h0M802.3 159.4h0M757.7 170.4h0M814.7 164h0M817 164.2h0M750.5 177.2h0M819.7 126.1h0M810.8 159h0M754 159.2h0M806.5 168.9h0M828.4 125h0M833.1 135.7h0M826.1 144.9h0M829.6 137.1h0M833.9 130.2h0M824 128.1h0M836.4 115.9h0M834.4 130.8h0M752.7 151.5h0M819.9 150.9h0M752.3 154.2h0M754.6 155.4h0M751.7 151.3h0M832.6 126.6h0M831.7 160.5h0M823.7 124h0M835.2 116.4h0M829.4 125.1h0M835.9 121.1h0M843.9 98h0M830.2 135h0M809.4 149.3h0"/><path fill="none" stroke="#32a082" stroke-width="3.4" stroke-opacity="0.78" stroke-linecap="round" d="M949.3 176.2h0M951.5 177h0M941.4 166.8h0M949.9 170.6h0M937.3 165.8h0M953.6 167.7h0M943 166.2h0M950.5 169.6h0M919.5 169.6h0M950.5 170.8h0M940.4 172.2h0M939.8 170.5h0"/><path fill="none" stroke="#326e8c" stroke-width="3.4" stroke-opacity="0.78" stroke-linecap="round" d="M931.1 143.8h0M947 139.8h0M946.4 140.6h0M943.2 138h0M948.1 141.9h0M943.9 142.8h0"/><path fill="none" stroke="#8c78c8" stroke-width="3.4" stroke-opacity="0.78" stroke-linecap="round" d="M797.6 211h0M799.9 203.5h0M803.1 186.6h0M803.4 198.6h0M809.4 214.1h0M822.4 190.7h0M806.7 208.9h0M817.4 220.6h0M796.7 202.8h0M795.6 201.4h0M799.4 210.2h0M800.2 204.6h0M810.7 207.5h0M833.3 203h0M806.3 196.8h0M809.1 208.8h0M809.1 197.8h0M800.1 209.3h0M824.2 213.6h0M829 210.1h0M821.6 214h0M824.5 213.9h0M788.9 195.6h0M801.7 207.9h0M804.8 196h0M806.9 208.2h0M811.9 212.9h0M811.9 194.4h0M790.2 207.7h0M816.5 213.3h0M789.7 193.8h0M804.9 197.1h0M806 201.3h0M801.7 214.2h0M813.6 208.5h0M799.5 206.3h0M821.1 203.7h0"/><path fill="none" stroke="#325082" stroke-width="3.4" stroke-opacity="0.78" stroke-linecap="round" d="M930.5 119.3h0M916.4 105.4h0M919.4 114.5h0M925.1 113.7h0M917.2 108h0M925.9 114.6h0M920.8 110.2h0M920.7 111.6h0M930.2 117.8h0M924.9 112.3h0M920.4 108.1h0M927.6 115.1h0M932.4 120.7h0M917.7 122.3h0M926.4 121.4h0M922 118.3h0M919.5 124.9h0M924.8 113.7h0M918.8 112.6h0M921.3 116.6h0M925.6 118.8h0M925.7 118.8h0M922.2 115h0M932.1 119.6h0M925.2 114.9h0M931.4 121.7h0M922.4 111.8h0"/><path fill="none" stroke="#648cc8" stroke-width="3.4" stroke-opacity="0.78" stroke-linecap="round" d="M869.1 115.3h0M873.1 115.7h0M863.3 115.8h0M862.8 108.8h0M864.2 118.5h0M866.5 108.8h0M859.1 117.4h0M872.6 117.2h0M843.7 113.7h0M827 187.4h0M851.9 122.7h0M880.5 105h0"/><path fill="none" stroke="#bedc46" stroke-width="3.4" stroke-opacity="0.78" stroke-linecap="round" d="M903.8 241.3h0M904.9 221.4h0M901 244.7h0M900 231.5h0M891.6 220.2h0M888.2 240.8h0M890.8 238.5h0"/><path fill="none" stroke="#b4c85a" stroke-width="3.4" stroke-opacity="0.78" stroke-linecap="round" d="M874 226.5h0M879.1 228.9h0M876.3 227h0"/><path fill="none" stroke="#6eb46e" stroke-width="3.4" stroke-opacity="0.78" stroke-linecap="round" d="M889.5 179.9h0M924.7 177.5h0M913.9 181.3h0M909 182.2h0M913.9 171.7h0M896.1 190.2h0M928.2 185.1h0"/><path fill="none" stroke="#506eaa" stroke-width="3.4" stroke-opacity="0.78" stroke-linecap="round" d="M836.4 154.4h0M835.1 157.1h0M887 95h0M828.6 164.8h0M843 139.3h0M825.8 155.1h0"/><path fill="none" stroke="#bedc50" stroke-width="3.4" stroke-opacity="0.78" stroke-linecap="round" d="M906.9 231.3h0M897.2 237.5h0M900.3 247.9h0M904.7 244.7h0M903.4 241.3h0M904.5 244.5h0M894.4 242.7h0M908.2 239.8h0M911.1 240.9h0M893.8 250.6h0M892.4 240.1h0M901.1 246h0M901.9 243.1h0M897.3 246.3h0M902.1 244.2h0M898 240.7h0M906 238.2h0M900.1 246.1h0M894 242.3h0M895.7 247.8h0M904 222.1h0M894.8 240.1h0M909.8 224.7h0M896.9 249.2h0M899.1 248.5h0M912.4 229.8h0M902.3 231h0M899 245.6h0M900.4 226.2h0"/><path fill="none" stroke="#5082be" stroke-width="3.4" stroke-opacity="0.78" stroke-linecap="round" d="M896.9 94.8h0M830.6 140.3h0M900.6 107.5h0M892.3 96.9h0M876.4 92.8h0M832 139h0"/><path fill="none" stroke="#8c5aa0" stroke-width="3.4" stroke-opacity="0.78" stroke-linecap="round" d="M832.7 227.6h0M840 242.5h0"/><path fill="none" stroke="#a08c8c" stroke-width="3.4" stroke-opacity="0.78" stroke-linecap="round" d="M863 220.5h0"/><path fill="none" stroke="#c88282" stroke-width="3.4" stroke-opacity="0.78" stroke-linecap="round" d="M885.9 252.8h0M879.2 254.4h0M880.8 244.9h0"/><path fill="none" stroke="#a0b464" stroke-width="3.4" stroke-opacity="0.78" stroke-linecap="round" d="M864.3 212.7h0M875.3 196.4h0"/><path fill="none" stroke="#6478aa" stroke-width="3.4" stroke-opacity="0.78" stroke-linecap="round" d="M835 174.7h0"/><path fill="none" stroke="#46b482" stroke-width="3.4" stroke-opacity="0.78" stroke-linecap="round" d="M947.7 189h0M952.6 178.6h0M951.7 192.3h0M950.8 182.7h0M949.9 171h0M949.8 178.4h0M949.8 185h0M952.8 186.8h0M948.8 193.9h0M953.2 176.8h0M941.9 199.7h0M950.3 174.9h0M948.9 185.7h0M948.4 184.4h0M951 188.6h0M948.3 181h0M952.7 188.3h0M950.5 173.9h0M932.7 184h0M946.1 179.1h0M952.7 174.8h0M948.5 193.5h0M946.3 195.8h0M944.3 190h0M953.3 172.4h0M945.7 184.8h0M946 198.9h0M945 174.7h0M952.8 188.2h0M949.9 176.9h0M946.8 178.4h0M947.1 169.8h0M953.3 177.6h0M945.5 179.6h0M951.3 179.5h0M939.7 188.1h0M951.9 177.9h0M947.6 186h0M947.6 178.1h0M949 189.8h0M937.8 194.1h0M952.9 187.6h0M946.5 188.6h0M945.3 182.5h0M954.3 178h0M950.1 193.3h0M951.8 190.3h0M941.5 186.9h0M949.8 191.2h0M948.6 182.8h0M950.8 181.7h0M934.6 184.8h0M951.5 191.5h0M951.5 177.3h0M943.8 192.2h0M952.8 178.2h0M944.2 174.4h0M943.8 184.6h0M946.2 195.3h0M945.1 182.9h0M950.9 181.4h0M951.3 181.8h0M946.7 183.3h0M951.6 174.3h0M939.9 179.6h0M951.2 186.7h0M947.7 179.7h0M950.2 180.8h0M950.5 175.5h0M944.9 197.6h0M953.3 185.5h0M951 183.6h0M947.5 193.4h0M942.8 182.8h0M953.8 173.5h0M948.4 177h0M952.2 175.5h0M951.6 185.5h0M951.9 180.4h0M950.2 185h0M948.8 198.1h0M948.7 191.1h0M935.8 184.8h0M951.6 175.7h0M951.5 176.2h0M945.8 181.3h0M949.8 185.3h0M920.4 170.9h0M939.6 183.5h0M953 174.3h0M951.9 186.4h0M942.2 192.7h0M934.3 189.3h0M948 185.2h0M950.5 187.2h0M947.3 190.6h0M948.2 174.8h0M948.6 199.3h0M942.6 194.2h0M952.8 175h0"/><path fill="none" stroke="#a0be64" stroke-width="3.4" stroke-opacity="0.78" stroke-linecap="round" d="M876.8 221.5h0M868.3 218.5h0"/><path fill="none" stroke="#64a06e" stroke-width="3.4" stroke-opacity="0.78" stroke-linecap="round" d="M879.3 180.8h0M885.9 183h0M865.7 183.9h0M887 189.5h0"/><path fill="none" stroke="#46508c" stroke-width="3.4" stroke-opacity="0.78" stroke-linecap="round" d="M846 149.7h0M903.7 119.3h0M897.5 96.5h0M907.7 124.2h0M828.4 170.9h0M906.3 136.7h0M900.7 144.4h0M893.8 96.5h0M904.6 132.6h0M905.3 142.6h0M906.5 133.9h0M907.3 113.8h0M889.5 93.4h0M888.4 95.7h0M893.7 93.9h0M921 140.5h0M904.9 137.9h0M843.8 154h0M901.6 120.1h0M894.3 136.5h0M884.7 92.1h0M846.8 141h0M884.5 98.9h0"/><path fill="none" stroke="#6eaa6e" stroke-width="3.4" stroke-opacity="0.78" stroke-linecap="round" d="M881.1 196.7h0M889.9 183.6h0"/><path fill="none" stroke="#32648c" stroke-width="3.4" stroke-opacity="0.78" stroke-linecap="round" d="M922.3 143.5h0M913.5 142.5h0M925.6 137.7h0M925.7 139.6h0M925.1 147.2h0M917 148h0M930.5 138h0M942 138.9h0M945.6 136.9h0M936.1 145.2h0"/><path fill="none" stroke="#504696" stroke-width="3.4" stroke-opacity="0.78" stroke-linecap="round" d="M874.9 139.9h0M892.1 134.7h0M874.4 142.1h0M888 140.7h0M893.7 135.4h0M858.7 147.9h0M887.7 141.9h0"/><path fill="none" stroke="#8cbe5a" stroke-width="3.4" stroke-opacity="0.78" stroke-linecap="round" d="M899.6 193.8h0"/><path fill="none" stroke="#5a64aa" stroke-width="3.4" stroke-opacity="0.78" stroke-linecap="round" d="M851.8 147.3h0M861 142.8h0M870.2 146h0M864.2 141.7h0M900.1 121.5h0M889.7 129h0M846.4 137.3h0"/><path fill="none" stroke="#788cd2" stroke-width="3.4" stroke-opacity="0.78" stroke-linecap="round" d="M791.8 201.7h0M805 196.6h0"/><path fill="none" stroke="#966ea0" stroke-width="3.4" stroke-opacity="0.78" stroke-linecap="round" d="M845.2 222.5h0M836.3 230.7h0M839.4 223.7h0M832.8 222.6h0M838.3 224.6h0"/><path fill="none" stroke="#324682" stroke-width="3.4" stroke-opacity="0.78" stroke-linecap="round" d="M916.5 107.1h0M917.5 115.5h0M927.2 116.3h0M920.5 119.3h0M925.7 118.2h0M925 122h0M924.8 116.1h0M906.4 109.6h0M906.7 102.1h0M934.1 122.9h0M924.9 112.9h0M915.2 114.2h0M917.2 109.7h0M916.3 111.1h0M921.6 110h0M931.8 121.5h0M927 114.8h0M919 108h0M925.5 114.9h0"/><path fill="none" stroke="#463c8c" stroke-width="3.4" stroke-opacity="0.78" stroke-linecap="round" d="M894.1 137.1h0M888.7 156.6h0M880.7 143.6h0M889.5 145.1h0M863.1 151.2h0M907.5 146.7h0M880.8 145.4h0M872 141.1h0M898.1 149h0M880.6 151.3h0M869.9 154.2h0M888.8 151.6h0M881.1 154.5h0M882.8 153.5h0M886.1 146.7h0M900.2 148.5h0M893.1 157h0M905.3 155.5h0M880.5 148.8h0M891.8 156h0M883.7 155.8h0M881.3 142.1h0M888.1 141.1h0M886.7 150.2h0M883.5 136.8h0M896.1 139.1h0M883.1 151.5h0M864.6 148.8h0M889 148.3h0M894.7 145.4h0M879.5 143.5h0M897.5 135.2h0M902 147h0M887.3 150.4h0M883.4 165.4h0M897.4 149.8h0M897.4 142.1h0M877.2 139.8h0M887.8 154.2h0M882 148.5h0"/><path fill="none" stroke="#967896" stroke-width="3.4" stroke-opacity="0.78" stroke-linecap="round" d="M856.7 222.3h0M859.8 223h0"/><path fill="none" stroke="#5a8cc8" stroke-width="3.4" stroke-opacity="0.78" stroke-linecap="round" d="M846.5 119.4h0M870.4 106.3h0M839.2 166.3h0M855.4 111.6h0M854.6 119.1h0M837.3 127.5h0M863.3 111.2h0M876.9 104.3h0M836.1 115.2h0M841.1 113.4h0M837 117h0M830.2 128.7h0M858.1 123.9h0"/><path fill="none" stroke="#8264b4" stroke-width="3.4" stroke-opacity="0.78" stroke-linecap="round" d="M821.3 229.3h0M794 241.7h0M806.8 227.3h0M800.3 240.3h0M802.7 234.4h0M816.6 229.7h0M802.7 244.1h0M813.5 225.9h0M804.5 234.6h0M804.7 247h0M799.6 233.8h0M818.1 239.4h0M804 246.5h0M801.4 231.5h0M799.4 242h0M794.1 241.3h0M798.4 228.6h0M818.1 227h0M794.4 241.1h0M798.2 237.9h0M804.9 239.8h0M819.3 228h0M790.9 241.6h0M813.3 236h0M785.6 230.4h0M809 235.5h0M810.8 225.6h0M799.1 244h0M796.8 238.3h0M815.3 244h0M795.6 237.7h0M803.8 233.7h0M801.3 227.5h0M792.4 239.5h0M799.4 246.3h0M803.5 245.1h0M815.1 240h0M802.1 237.7h0M801.2 234.3h0M794.1 243.5h0M810.5 245.3h0M791.5 231.5h0M800.8 247h0M800.8 242.8h0M798.9 244.2h0"/><path fill="none" stroke="#5ab478" stroke-width="3.4" stroke-opacity="0.78" stroke-linecap="round" d="M951.8 188.1h0M921.1 183.3h0M912.7 185.8h0M938.5 192h0M931.6 176.6h0M927.7 192.3h0M945.4 196.3h0"/><path fill="none" stroke="#82828c" stroke-width="3.4" stroke-opacity="0.78" stroke-linecap="round" d="M868.4 197.4h0"/><path fill="none" stroke="#826eaa" stroke-width="3.4" stroke-opacity="0.78" stroke-linecap="round" d="M842.9 178.2h0M828 181.6h0M831 191.9h0"/><path fill="none" stroke="#a05aa0" stroke-width="3.4" stroke-opacity="0.78" stroke-linecap="round" d="M839 250.2h0M842 246.9h0M837.6 255h0M850.5 258.2h0M843.7 256.3h0M835.6 257.1h0M846.2 257.9h0M833.8 255.5h0M839.4 254.2h0"/><path fill="none" stroke="#465a8c" stroke-width="3.4" stroke-opacity="0.78" stroke-linecap="round" d="M837.3 160.3h0"/><path fill="none" stroke="#32828c" stroke-width="3.4" stroke-opacity="0.78" stroke-linecap="round" d="M944.3 142.3h0M943.5 137.7h0M945.2 140.6h0M943.5 146.6h0"/><path fill="none" stroke="#be5a96" stroke-width="3.4" stroke-opacity="0.78" stroke-linecap="round" d="M851.8 248.2h0M853.4 244.4h0M855.7 258.1h0M854.4 250h0M842.8 253.7h0M861.6 253h0M851.3 247h0M862.3 248.2h0M863.3 255.2h0M864.7 251.9h0M852.9 250.5h0"/><path fill="none" stroke="#504682" stroke-width="3.4" stroke-opacity="0.78" stroke-linecap="round" d="M843.6 182.7h0M888.3 162.3h0M834.6 170.3h0"/><path fill="none" stroke="#465096" stroke-width="3.4" stroke-opacity="0.78" stroke-linecap="round" d="M880.9 99.4h0M896.5 125.7h0M912.9 128.5h0M890.7 97h0M895.8 128h0M883 103.7h0"/><path fill="none" stroke="#505a96" stroke-width="3.4" stroke-opacity="0.78" stroke-linecap="round" d="M843.9 140.4h0M825.9 170.4h0"/><path fill="none" stroke="#7882d2" stroke-width="3.4" stroke-opacity="0.78" stroke-linecap="round" d="M801.8 192.5h0"/><path fill="none" stroke="#5a82be" stroke-width="3.4" stroke-opacity="0.78" stroke-linecap="round" d="M848.1 126.6h0M833.8 136.3h0M838.1 121.7h0M845.5 134.3h0M878.2 103h0M825.7 133.5h0M841.2 120.8h0M838 134.2h0M846.1 120.6h0M825.2 172.3h0M868.4 106.7h0M836.2 126.3h0M841.7 130.7h0"/><path fill="none" stroke="#508cbe" stroke-width="3.4" stroke-opacity="0.78" stroke-linecap="round" d="M819.3 154.8h0M881.7 90.4h0M830 135.5h0M886.4 101.6h0M820.6 162.2h0M827.4 163.5h0M839.6 142.9h0M823.5 165.7h0M878.3 89h0M843.1 137.7h0M881.5 96.3h0M884 92.2h0M890.1 93.3h0M875.1 92.8h0"/><path fill="none" stroke="#78be64" stroke-width="3.4" stroke-opacity="0.78" stroke-linecap="round" d="M910.2 184.3h0M919.8 178.9h0M892.7 183.3h0M946 195.5h0M905.7 194h0M918.8 175.9h0M943.4 193.8h0"/><path fill="none" stroke="#96be5a" stroke-width="3.4" stroke-opacity="0.78" stroke-linecap="round" d="M899.8 190.3h0"/><path fill="none" stroke="#46468c" stroke-width="3.4" stroke-opacity="0.78" stroke-linecap="round" d="M891.2 141.4h0M869.8 146.6h0M893 93.4h0M901.6 144.4h0M882.1 91.6h0M906.7 126.5h0M891.8 98.5h0M906.2 111.6h0M893.3 97.1h0M903.9 144.4h0M902.6 120.6h0M909.4 139.9h0M901.7 148.1h0M906.5 149.5h0M895 146h0M912.5 145.7h0M898.5 137.7h0M860.5 151.5h0M887.6 101.1h0M904.4 141.8h0M896.7 98.8h0M884 102.4h0M898.9 99.5h0"/><path fill="none" stroke="#3ca082" stroke-width="3.4" stroke-opacity="0.78" stroke-linecap="round" d="M954.6 170h0M929.1 158.6h0M923.2 165.9h0M953.6 167.9h0M931.9 165.7h0M949.7 163.7h0M927.2 172.3h0M932.4 172.4h0M933.4 167.3h0M953.4 166.9h0M953.6 172.2h0M953.2 159.8h0"/><path fill="none" stroke="#be8c78" stroke-width="3.4" stroke-opacity="0.78" stroke-linecap="round" d="M873.6 246.5h0M870.8 235.8h0M871.1 246h0M870.2 238.6h0"/><path fill="none" stroke="#c8d250" stroke-width="3.4" stroke-opacity="0.78" stroke-linecap="round" d="M886.7 247.5h0M887.2 240.2h0M881.3 241.8h0M903.4 243h0M882.8 248.1h0M882.6 248.1h0M883 249.2h0M883.7 241.7h0M896.8 249.4h0M887.5 247.1h0M886.5 245.8h0M881.9 245.4h0M887.6 247.3h0M884.6 242.5h0M893.5 250.7h0"/><path fill="none" stroke="#6e96d2" stroke-width="3.4" stroke-opacity="0.78" stroke-linecap="round" d="M788 193.2h0M794 186.7h0"/><path fill="none" stroke="#826eb4" stroke-width="3.4" stroke-opacity="0.78" stroke-linecap="round" d="M810.9 227.6h0M834.8 199.9h0M817.1 229.9h0M817.6 234.1h0M833.8 190.6h0M814.1 228.8h0M821 224.6h0M820.8 226.1h0M805.3 234.8h0M796.3 227.7h0M811.1 223.9h0"/><path fill="none" stroke="#329682" stroke-width="3.4" stroke-opacity="0.78" stroke-linecap="round" d="M939.1 167.7h0M946.6 149.9h0"/><path fill="none" stroke="#9678a0" stroke-width="3.4" stroke-opacity="0.78" stroke-linecap="round" d="M847.8 223.3h0M848.7 225.6h0"/><path fill="none" stroke="#5a9678" stroke-width="3.4" stroke-opacity="0.78" stroke-linecap="round" d="M901.9 162.8h0M897.1 161.9h0M909.5 169.5h0M889.5 164.1h0M908.5 159.4h0M899.4 167.1h0M896.3 155.9h0M910 162.1h0"/><path fill="none" stroke="#c8b464" stroke-width="3.4" stroke-opacity="0.78" stroke-linecap="round" d="M887.9 245.3h0M872.9 244.3h0M877.4 248.4h0"/><path fill="none" stroke="#465a82" stroke-width="3.4" stroke-opacity="0.78" stroke-linecap="round" d="M912.8 160.8h0"/><path fill="none" stroke="#b464a0" stroke-width="3.4" stroke-opacity="0.78" stroke-linecap="round" d="M854.4 256h0"/><path fill="none" stroke="#78b464" stroke-width="3.4" stroke-opacity="0.78" stroke-linecap="round" d="M910.3 180.6h0M900.1 189.8h0M901 187.5h0M892 187.6h0"/><path fill="none" stroke="#c86496" stroke-width="3.4" stroke-opacity="0.78" stroke-linecap="round" d="M872.5 241.6h0M881.6 253.1h0M868.4 249.7h0M876.4 251.2h0"/><path fill="none" stroke="#5a5aaa" stroke-width="3.4" stroke-opacity="0.78" stroke-linecap="round" d="M884.2 128.3h0M862.7 136.2h0M886.8 127.5h0M864.8 144.5h0M881.6 130.8h0"/><path fill="none" stroke="#506482" stroke-width="3.4" stroke-opacity="0.78" stroke-linecap="round" d="M910.5 149.3h0M908.9 152.1h0M919.4 156.9h0M903.8 148.4h0"/><path fill="none" stroke="#825ab4" stroke-width="3.4" stroke-opacity="0.78" stroke-linecap="round" d="M808.2 244.5h0M795.6 243.6h0M811.2 233.7h0M799.2 240.6h0M808.3 245.9h0M812.5 245.6h0M808.2 245.8h0M802.7 234.4h0M801.6 237.3h0M795.3 242h0M807.4 249.6h0M801.9 243.8h0M796.4 239.1h0M794 233.7h0M805.4 246.5h0"/><path fill="none" stroke="#328c8c" stroke-width="3.4" stroke-opacity="0.78" stroke-linecap="round" d="M945.6 142.5h0M926.8 155.2h0M948.1 154.5h0M946.5 140.3h0M947.9 143.5h0M947.4 141.5h0"/><path fill="none" stroke="#3c3c82" stroke-width="3.4" stroke-opacity="0.78" stroke-linecap="round" d="M897.7 111.8h0M890.5 103.1h0M891 106.6h0M911.6 112.8h0M904.8 100.4h0M894.7 97h0M873.1 99.2h0M890.1 93.5h0M893.1 103.3h0M890.4 116.8h0M890.7 92.5h0M887.5 108.6h0M909.8 104.5h0M887.1 103.7h0M897.9 112.9h0M894.2 95h0M880.7 92.6h0"/><path fill="none" stroke="#7864a0" stroke-width="3.4" stroke-opacity="0.78" stroke-linecap="round" d="M851.8 189.4h0M837.4 176.6h0M860.2 194.4h0M845.3 189.5h0"/><path fill="none" stroke="#3caa82" stroke-width="3.4" stroke-opacity="0.78" stroke-linecap="round" d="M952.9 172h0M952.4 172.8h0M953.4 176.3h0M936.9 172.3h0M948.7 164.3h0M952.2 172.3h0M942.7 167.5h0M945.2 169.5h0M939 168.2h0M953 172.5h0M951.7 173.5h0M949.3 172h0M950.1 169.8h0M954.4 167.3h0M952.3 180.6h0M949.9 176.4h0M953.8 172.4h0M942.4 169.3h0M954.5 169.7h0M944.8 186.1h0"/><path fill="none" stroke="#646eb4" stroke-width="3.4" stroke-opacity="0.78" stroke-linecap="round" d="M875.7 128.4h0M881.8 114.3h0M862.9 139.7h0M867 139.7h0M879.3 131.8h0M872.2 134.7h0"/><path fill="none" stroke="#4664a0" stroke-width="3.4" stroke-opacity="0.78" stroke-linecap="round" d="M885.7 97h0M886.2 92.5h0M887.8 98.3h0M889.3 94.9h0M884.6 94.7h0M881.5 91.6h0M889.5 92.4h0M886 94.6h0"/><path fill="none" stroke="#50a0c8" stroke-width="3.4" stroke-opacity="0.78" stroke-linecap="round" d="M824 160.8h0M882.9 96.3h0M883.6 92.9h0M831.2 154.1h0"/><path fill="none" stroke="#c89678" stroke-width="3.4" stroke-opacity="0.78" stroke-linecap="round" d="M890.9 248.2h0M880.9 248.1h0M878.6 249.7h0M887.7 241.5h0M869.4 248.6h0"/><path fill="none" stroke="#5a7878" stroke-width="3.4" stroke-opacity="0.78" stroke-linecap="round" d="M869.9 183.7h0"/><path fill="none" stroke="#286e8c" stroke-width="3.4" stroke-opacity="0.78" stroke-linecap="round" d="M938.4 140.2h0M946.7 142.1h0M942.8 151.3h0M939.3 134.4h0M928.6 150.1h0M936.4 132.8h0M939.9 137.8h0M944.8 140.5h0M939.9 129.9h0M937.8 138.1h0M944.2 141.2h0M946.7 140.5h0M946 143.6h0M941.5 144.2h0M938.6 145.9h0M930.2 136.1h0"/><path fill="none" stroke="#5078aa" stroke-width="3.4" stroke-opacity="0.78" stroke-linecap="round" d="M845.6 146.6h0M836.6 168.3h0M842.9 162.6h0"/><path fill="none" stroke="#3c4682" stroke-width="3.4" stroke-opacity="0.78" stroke-linecap="round" d="M886.5 94.9h0M902.1 120.3h0M912.5 118.8h0M895.7 101.4h0M892.4 95.1h0M889.9 100.1h0M887.1 93.6h0M898.1 125h0M915.8 116.5h0M902 110.8h0"/><path fill="none" stroke="#64a0dc" stroke-width="3.4" stroke-opacity="0.78" stroke-linecap="round" d="M762.8 196h0M769.3 185.6h0M800.3 176.8h0M769.1 197h0M787 188.9h0M796.3 185.2h0M765.1 191.5h0M800.5 195.6h0M795.2 200.9h0M804.9 197.6h0M787.3 194h0M812.6 197.6h0M778.6 205.8h0"/><path fill="none" stroke="#969682" stroke-width="3.4" stroke-opacity="0.78" stroke-linecap="round" d="M868.5 207.7h0"/><path fill="none" stroke="#96d250" stroke-width="3.4" stroke-opacity="0.78" stroke-linecap="round" d="M942.5 207.6h0M939.4 194.2h0M942.5 206.7h0M942.8 194.1h0M950.6 195.9h0M941 205.1h0M942.2 212.8h0"/><path fill="none" stroke="#3c5a8c" stroke-width="3.4" stroke-opacity="0.78" stroke-linecap="round" d="M903.1 143.3h0M907.6 138.3h0M916.3 134.2h0M919.5 138.6h0"/><path fill="none" stroke="#5a5082" stroke-width="3.4" stroke-opacity="0.78" stroke-linecap="round" d="M853.7 183.7h0M858.9 174.3h0M840.7 174.7h0"/><path fill="none" stroke="#288c8c" stroke-width="3.4" stroke-opacity="0.78" stroke-linecap="round" d="M942.3 133.9h0M938.5 144.2h0M936 141.5h0M949.9 148.2h0M939.7 136.6h0M946.6 152.5h0M942.5 148h0M936.5 148.5h0M947.9 149.3h0M948.9 149.2h0M948.6 143.7h0M943 140.9h0M941.6 149.5h0M939.2 137.1h0M947 143.6h0"/><path fill="none" stroke="#96c85a" stroke-width="3.4" stroke-opacity="0.78" stroke-linecap="round" d="M943.3 207.2h0M894.3 189.8h0M943.1 200.2h0M942.8 205.4h0M897.9 198.5h0M944.6 208.6h0M903.6 193.9h0M948.5 194.3h0M941.4 209.3h0"/><path fill="none" stroke="#a0c85a" stroke-width="3.4" stroke-opacity="0.78" stroke-linecap="round" d="M874.7 195.8h0M879 197.2h0M874.7 211.6h0"/><path fill="none" stroke="#827896" stroke-width="3.4" stroke-opacity="0.78" stroke-linecap="round" d="M871 199.1h0M871.9 183.7h0"/><path fill="none" stroke="#5a78be" stroke-width="3.4" stroke-opacity="0.78" stroke-linecap="round" d="M838.2 125.1h0M844.7 129.4h0M886.5 115.8h0"/><path fill="none" stroke="#6482be" stroke-width="3.4" stroke-opacity="0.78" stroke-linecap="round" d="M811.4 170.3h0M850.8 133.2h0"/><path fill="none" stroke="#bec85a" stroke-width="3.4" stroke-opacity="0.78" stroke-linecap="round" d="M874 229.4h0M873.1 235.5h0"/><path fill="none" stroke="#5aaa6e" stroke-width="3.4" stroke-opacity="0.78" stroke-linecap="round" d="M894.6 171h0M902.1 169.5h0M919.2 178.4h0"/><path fill="none" stroke="#505a6e" stroke-width="3.4" stroke-opacity="0.78" stroke-linecap="round" d="M880.1 175.8h0"/><path fill="none" stroke="#32508c" stroke-width="3.4" stroke-opacity="0.78" stroke-linecap="round" d="M924.4 112.2h0M926.7 114.5h0M923.3 115.1h0M907.8 121.5h0M926.3 115.3h0"/><path fill="none" stroke="#645a8c" stroke-width="3.4" stroke-opacity="0.78" stroke-linecap="round" d="M858.1 180.1h0M844.6 175.6h0M854.7 187.2h0"/><path fill="none" stroke="#50b478" stroke-width="3.4" stroke-opacity="0.78" stroke-linecap="round" d="M944.9 182.2h0M943.4 192.3h0M941.3 202.4h0M943.7 184h0M949 198.7h0M950.6 190.3h0M925.9 181.7h0M951.3 191.4h0M942 189.6h0"/><path fill="none" stroke="#82c864" stroke-width="3.4" stroke-opacity="0.78" stroke-linecap="round" d="M923.9 190.9h0M920.7 187.5h0M944.6 188.9h0M948.9 197h0"/><path fill="none" stroke="#8278be" stroke-width="3.4" stroke-opacity="0.78" stroke-linecap="round" d="M814.5 212.3h0M828.8 192.8h0M832.1 196.6h0M798.2 216.3h0M799.7 224.6h0M815.6 221.8h0M799.9 211.9h0M836.5 190.5h0"/><path fill="none" stroke="#5a8c78" stroke-width="3.4" stroke-opacity="0.78" stroke-linecap="round" d="M899.2 159.7h0M913.9 170h0M900.8 168.3h0M895.7 161.2h0M897 162.6h0"/><path fill="none" stroke="#aa9678" stroke-width="3.4" stroke-opacity="0.78" stroke-linecap="round" d="M849.6 231.9h0"/><path fill="none" stroke="#6e648c" stroke-width="3.4" stroke-opacity="0.78" stroke-linecap="round" d="M854.4 185.5h0"/><path fill="none" stroke="#6e8cc8" stroke-width="3.4" stroke-opacity="0.78" stroke-linecap="round" d="M824.4 195.1h0"/><path fill="none" stroke="#506ea0" stroke-width="3.4" stroke-opacity="0.78" stroke-linecap="round" d="M833.7 162.1h0M832.9 166.1h0M850.7 138.3h0"/><path fill="none" stroke="#463c78" stroke-width="3.4" stroke-opacity="0.78" stroke-linecap="round" d="M835.5 170.8h0M881.9 157h0M851.1 181.3h0M831.4 159.2h0M837 175.1h0M844.7 155.7h0M848 156.4h0M856.4 153.4h0M859.1 176.8h0M844.3 158h0M850.7 154.9h0M861.1 144h0M852.7 153.9h0M834.8 158.8h0M858.9 151.5h0M852.1 144.3h0"/><path fill="none" stroke="#505a82" stroke-width="3.4" stroke-opacity="0.78" stroke-linecap="round" d="M896.6 156.9h0M895.7 165.6h0"/><path fill="none" stroke="#c8be5a" stroke-width="3.4" stroke-opacity="0.78" stroke-linecap="round" d="M875.7 237.5h0M877.4 242.8h0M863.3 236.8h0M863.2 243.6h0M885.4 251.2h0"/><path fill="none" stroke="#32788c" stroke-width="3.4" stroke-opacity="0.78" stroke-linecap="round" d="M947.4 143.1h0M935.3 138.1h0M942.2 143.1h0M927.4 151.5h0M928.8 141.2h0M939.1 133.8h0M945.5 138h0M948 141.9h0"/><path fill="none" stroke="#a0be5a" stroke-width="3.4" stroke-opacity="0.78" stroke-linecap="round" d="M878.8 199.4h0"/><path fill="none" stroke="#8c6ebe" stroke-width="3.4" stroke-opacity="0.78" stroke-linecap="round" d="M819.9 215.1h0M814.6 219.3h0M822.9 216.1h0M820.3 209.3h0M814.3 213.9h0M823.6 209.7h0"/><path fill="none" stroke="#7882c8" stroke-width="3.4" stroke-opacity="0.78" stroke-linecap="round" d="M798.9 190.3h0M799 200.8h0M798.5 188.2h0M793.3 206.6h0M792.4 201h0M787.8 211.7h0M797.6 201.9h0M812.6 184.6h0M791.6 197.6h0M823.1 183.9h0M795.5 202.1h0"/><path fill="none" stroke="#50b482" stroke-width="3.4" stroke-opacity="0.78" stroke-linecap="round" d="M944.6 183.3h0M949.7 198.4h0M946.1 183.8h0M945 182.9h0M953.8 182.4h0M936.8 195.3h0M934.3 191h0M948.4 173.9h0"/><path fill="none" stroke="#5050a0" stroke-width="3.4" stroke-opacity="0.78" stroke-linecap="round" d="M890 133h0M874.8 140.8h0M888.6 126.8h0"/><path fill="none" stroke="#5a7882" stroke-width="3.4" stroke-opacity="0.78" stroke-linecap="round" d="M896.4 170.4h0"/><path fill="none" stroke="#c86e8c" stroke-width="3.4" stroke-opacity="0.78" stroke-linecap="round" d="M881.9 239.9h0M884.2 252h0M879.5 248.4h0"/><path fill="none" stroke="#82be64" stroke-width="3.4" stroke-opacity="0.78" stroke-linecap="round" d="M916.8 179h0M886.4 192.3h0M912.6 195.2h0M899.4 189.6h0M923.1 185.8h0M909.3 188.5h0"/><path fill="none" stroke="#7864aa" stroke-width="3.4" stroke-opacity="0.78" stroke-linecap="round" d="M849.2 185.8h0"/><path fill="none" stroke="#463278" stroke-width="3.4" stroke-opacity="0.78" stroke-linecap="round" d="M873.5 159h0M843.3 156.3h0M854 153.6h0M843 147.2h0M868.1 157.1h0M866.4 145.4h0M864.8 160.9h0M849.3 157.4h0M871.4 147.9h0M853 157.4h0M838.3 171.8h0"/><path fill="none" stroke="#be6496" stroke-width="3.4" stroke-opacity="0.78" stroke-linecap="round" d="M859.4 238.1h0M840 249.5h0M866 241.9h0M888.1 248.3h0M878.4 245.9h0M856.8 241.2h0M850.7 255.3h0"/><path fill="none" stroke="#bed250" stroke-width="3.4" stroke-opacity="0.78" stroke-linecap="round" d="M898.5 247.5h0M888.1 223.9h0M896.3 244.2h0M900.6 242.4h0M894.2 248.4h0M895.5 224.6h0M871.3 231.8h0M897.1 249.1h0M876.7 228.2h0"/><path fill="none" stroke="#646e78" stroke-width="3.4" stroke-opacity="0.78" stroke-linecap="round" d="M861.4 186.9h0"/><path fill="none" stroke="#646ebe" stroke-width="3.4" stroke-opacity="0.78" stroke-linecap="round" d="M847.2 138.2h0M875.4 136.7h0M872.8 139.7h0M875.7 109.2h0M871.3 132h0M871.8 134.4h0M878.2 143.8h0M881.9 131.8h0M873.9 135.9h0M865.9 139.5h0"/><path fill="none" stroke="#5aa078" stroke-width="3.4" stroke-opacity="0.78" stroke-linecap="round" d="M921 163h0M920.2 169.9h0"/><path fill="none" stroke="#c88c78" stroke-width="3.4" stroke-opacity="0.78" stroke-linecap="round" d="M886.6 251.5h0M881.9 250.7h0"/><path fill="none" stroke="#aac85a" stroke-width="3.4" stroke-opacity="0.78" stroke-linecap="round" d="M851.9 234.4h0M880.8 229.5h0"/><path fill="none" stroke="#c8c850" stroke-width="3.4" stroke-opacity="0.78" stroke-linecap="round" d="M886 250h0M894 249.3h0M893.8 249h0"/><path fill="none" stroke="#96aa6e" stroke-width="3.4" stroke-opacity="0.78" stroke-linecap="round" d="M868.4 203.6h0M866.9 198.7h0M874.9 204.4h0"/><path fill="none" stroke="#6482c8" stroke-width="3.4" stroke-opacity="0.78" stroke-linecap="round" d="M861.4 101.1h0M873.7 104.1h0M869.9 111.6h0M862 118.9h0M864.5 113.4h0M870.1 111.6h0M842 130h0M860.8 122.8h0M859.3 117.5h0M851.7 115.4h0M862.6 110.8h0M853.9 117.9h0M849.6 117.2h0"/><path fill="none" stroke="#505082" stroke-width="3.4" stroke-opacity="0.78" stroke-linecap="round" d="M903.6 166h0M890.8 151.9h0M880 154.4h0"/><path fill="none" stroke="#646496" stroke-width="3.4" stroke-opacity="0.78" stroke-linecap="round" d="M845.4 169.1h0"/><path fill="none" stroke="#5a786e" stroke-width="3.4" stroke-opacity="0.78" stroke-linecap="round" d="M877.6 181.7h0M880.1 175.8h0"/><path fill="none" stroke="#5064a0" stroke-width="3.4" stroke-opacity="0.78" stroke-linecap="round" d="M830.2 134.9h0M834.9 171h0M836.9 158.7h0M845.3 146.9h0"/><path fill="none" stroke="#64aa6e" stroke-width="3.4" stroke-opacity="0.78" stroke-linecap="round" d="M896.5 164.9h0M889 185.6h0M891.1 173.9h0M884.4 169.8h0M906.6 182h0M881.7 175.9h0M880.7 185.9h0M891.7 165.1h0M912.8 170.7h0M911.6 174.6h0M887.6 187.9h0M887.5 177.5h0M902.6 163.4h0"/><path fill="none" stroke="#3c508c" stroke-width="3.4" stroke-opacity="0.78" stroke-linecap="round" d="M907.8 122.7h0M903.3 129.3h0M901.7 130.3h0M904.9 128.8h0M906.1 127h0M903 121.9h0M902.4 138.6h0"/><path fill="none" stroke="#c8a06e" stroke-width="3.4" stroke-opacity="0.78" stroke-linecap="round" d="M893.9 246.2h0M880.2 249.2h0M881.4 253.1h0"/><path fill="none" stroke="#505a8c" stroke-width="3.4" stroke-opacity="0.78" stroke-linecap="round" d="M836.2 160.7h0M836.3 162.1h0M838.2 161h0M848.1 184.8h0"/><path fill="none" stroke="#78aa6e" stroke-width="3.4" stroke-opacity="0.78" stroke-linecap="round" d="M881.2 184.8h0M873.1 186.6h0"/><path fill="none" stroke="#6e82d2" stroke-width="3.4" stroke-opacity="0.78" stroke-linecap="round" d="M757.1 206.3h0M760.6 210.8h0M757.3 195.5h0"/><path fill="none" stroke="#5a78b4" stroke-width="3.4" stroke-opacity="0.78" stroke-linecap="round" d="M873.2 112.4h0M877.1 113h0M853.5 124.4h0M843.8 136.7h0M829.5 164.1h0"/><path fill="none" stroke="#8282c8" stroke-width="3.4" stroke-opacity="0.78" stroke-linecap="round" d="M804.8 208h0M808.1 200.9h0M809.5 194.8h0"/><path fill="none" stroke="#506496" stroke-width="3.4" stroke-opacity="0.78" stroke-linecap="round" d="M837.4 176.8h0"/><path fill="none" stroke="#5a6478" stroke-width="3.4" stroke-opacity="0.78" stroke-linecap="round" d="M891.1 177.6h0"/><path fill="none" stroke="#323c82" stroke-width="3.4" stroke-opacity="0.78" stroke-linecap="round" d="M920.8 109.4h0M915 113.4h0M906.5 105.6h0"/><path fill="none" stroke="#a064a0" stroke-width="3.4" stroke-opacity="0.78" stroke-linecap="round" d="M845.4 242.6h0M837.9 240.3h0M842.9 245.2h0"/><path fill="none" stroke="#5aaae6" stroke-width="3.4" stroke-opacity="0.78" stroke-linecap="round" d="M801.9 178.7h0"/><path fill="none" stroke="#46a082" stroke-width="3.4" stroke-opacity="0.78" stroke-linecap="round" d="M927.6 171.1h0"/><path fill="none" stroke="#96d25a" stroke-width="3.4" stroke-opacity="0.78" stroke-linecap="round" d="M931 197.8h0"/><path fill="none" stroke="#be8c82" stroke-width="3.4" stroke-opacity="0.78" stroke-linecap="round" d="M871 241.4h0"/><path fill="none" stroke="#6e78be" stroke-width="3.4" stroke-opacity="0.78" stroke-linecap="round" d="M761.8 208.5h0M764.3 212.5h0M757.3 205.3h0M762.4 209.1h0M763.5 211.1h0M767.4 204.8h0"/><path fill="none" stroke="#463c82" stroke-width="3.4" stroke-opacity="0.78" stroke-linecap="round" d="M875.9 155.8h0M880.6 140.2h0M888.5 122.5h0M860 150.7h0M879.3 157.7h0M879.8 164h0M871.7 158.5h0M847.9 146h0M877.1 164h0"/><path fill="none" stroke="#46466e" stroke-width="3.4" stroke-opacity="0.78" stroke-linecap="round" d="M860.6 175.9h0M877.4 183.4h0"/><path fill="none" stroke="#5078b4" stroke-width="3.4" stroke-opacity="0.78" stroke-linecap="round" d="M831.1 172h0M868.7 95.8h0M886 92.8h0M874.5 90.2h0M880.3 89.6h0M891.5 94.9h0M889.9 94h0M844.1 145h0M879.4 102.8h0"/><path fill="none" stroke="#aa6e96" stroke-width="3.4" stroke-opacity="0.78" stroke-linecap="round" d="M854.9 237.6h0M848.5 253.3h0"/><path fill="none" stroke="#968c8c" stroke-width="3.4" stroke-opacity="0.78" stroke-linecap="round" d="M864.9 220.2h0M856.7 209h0"/><path fill="none" stroke="#b45aa0" stroke-width="3.4" stroke-opacity="0.78" stroke-linecap="round" d="M850.5 257.8h0M853.7 247.3h0M848.1 250.6h0M849.5 254.9h0M853 258h0M846.9 254.6h0M849.1 254.1h0"/><path fill="none" stroke="#96b464" stroke-width="3.4" stroke-opacity="0.78" stroke-linecap="round" d="M879.7 199.9h0M880.3 192.8h0"/><path fill="none" stroke="#468c82" stroke-width="3.4" stroke-opacity="0.78" stroke-linecap="round" d="M917.7 160h0"/><path fill="none" stroke="#b46e96" stroke-width="3.4" stroke-opacity="0.78" stroke-linecap="round" d="M855.2 244.3h0"/><path fill="none" stroke="#7878b4" stroke-width="3.4" stroke-opacity="0.78" stroke-linecap="round" d="M834.6 191.1h0M840.2 172.8h0"/><path fill="none" stroke="#a0828c" stroke-width="3.4" stroke-opacity="0.78" stroke-linecap="round" d="M846.5 229.2h0"/><path fill="none" stroke="#78be6e" stroke-width="3.4" stroke-opacity="0.78" stroke-linecap="round" d="M928.7 185.7h0"/><path fill="none" stroke="#b49678" stroke-width="3.4" stroke-opacity="0.78" stroke-linecap="round" d="M850.2 225.4h0M850.5 227h0M855.1 233.8h0"/><path fill="none" stroke="#a06ea0" stroke-width="3.4" stroke-opacity="0.78" stroke-linecap="round" d="M851.8 227.9h0"/><path fill="none" stroke="#466482" stroke-width="3.4" stroke-opacity="0.78" stroke-linecap="round" d="M902.3 146.9h0M918.7 151.9h0"/><path fill="none" stroke="#aaaa6e" stroke-width="3.4" stroke-opacity="0.78" stroke-linecap="round" d="M855.9 231h0M868.3 214h0"/><path fill="none" stroke="#7878c8" stroke-width="3.4" stroke-opacity="0.78" stroke-linecap="round" d="M773.8 214.6h0M780.5 217.7h0M783.8 216.8h0M788.1 216.5h0M761.1 208.6h0M769.2 212.2h0M791.4 211h0"/><path fill="none" stroke="#a0b46e" stroke-width="3.4" stroke-opacity="0.78" stroke-linecap="round" d="M859.8 225.9h0"/><path fill="none" stroke="#786496" stroke-width="3.4" stroke-opacity="0.78" stroke-linecap="round" d="M855.1 195.2h0M866.6 181.8h0M858.7 178.4h0"/><path fill="none" stroke="#b46496" stroke-width="3.4" stroke-opacity="0.78" stroke-linecap="round" d="M844.6 247.1h0M842.8 251.7h0M856.7 245.5h0"/><path fill="none" stroke="#469682" stroke-width="3.4" stroke-opacity="0.78" stroke-linecap="round" d="M917.5 160.4h0M922.9 162.2h0M929.2 157.8h0"/><path fill="none" stroke="#503c78" stroke-width="3.4" stroke-opacity="0.78" stroke-linecap="round" d="M846.6 175.4h0M851.7 176.4h0"/><path fill="none" stroke="#5a82c8" stroke-width="3.4" stroke-opacity="0.78" stroke-linecap="round" d="M844.1 127.1h0"/><path fill="none" stroke="#7878be" stroke-width="3.4" stroke-opacity="0.78" stroke-linecap="round" d="M774.7 214.7h0M782.1 217.4h0M788.2 211.5h0"/><path fill="none" stroke="#6464a0" stroke-width="3.4" stroke-opacity="0.78" stroke-linecap="round" d="M828.4 176.5h0"/><path fill="none" stroke="#5a6eb4" stroke-width="3.4" stroke-opacity="0.78" stroke-linecap="round" d="M848.5 131.6h0M840.1 134.6h0M840.9 138.1h0M843.5 143.7h0"/><path fill="none" stroke="#aac850" stroke-width="3.4" stroke-opacity="0.78" stroke-linecap="round" d="M891.6 200.6h0M878.3 201h0M871.9 203.8h0"/><path fill="none" stroke="#bea06e" stroke-width="3.4" stroke-opacity="0.78" stroke-linecap="round" d="M869.1 228h0M893.1 249.4h0"/><path fill="none" stroke="#5a6ea0" stroke-width="3.4" stroke-opacity="0.78" stroke-linecap="round" d="M833.4 170.7h0"/><path fill="none" stroke="#beaa6e" stroke-width="3.4" stroke-opacity="0.78" stroke-linecap="round" d="M868.4 236.1h0M886.8 248.2h0M850.9 230.2h0M878.9 251.9h0"/><path fill="none" stroke="#6e7882" stroke-width="3.4" stroke-opacity="0.78" stroke-linecap="round" d="M869.6 183.8h0"/><path fill="none" stroke="#9664a0" stroke-width="3.4" stroke-opacity="0.78" stroke-linecap="round" d="M843.7 245.1h0M832.7 249.6h0"/><path fill="none" stroke="#5a826e" stroke-width="3.4" stroke-opacity="0.78" stroke-linecap="round" d="M870.4 177.2h0"/><path fill="none" stroke="#466eaa" stroke-width="3.4" stroke-opacity="0.78" stroke-linecap="round" d="M894.8 98.5h0M889 100.5h0M886 92.5h0M887.1 94.1h0M894.7 94.1h0"/><path fill="none" stroke="#aa8c82" stroke-width="3.4" stroke-opacity="0.78" stroke-linecap="round" d="M850.6 244.4h0M864.3 239.8h0"/><path fill="none" stroke="#509678" stroke-width="3.4" stroke-opacity="0.78" stroke-linecap="round" d="M921.2 174.3h0"/><path fill="none" stroke="#6e6ebe" stroke-width="3.4" stroke-opacity="0.78" stroke-linecap="round" d="M767 206.6h0M757.6 203.1h0M758.5 208.8h0"/><path fill="none" stroke="#5aaad2" stroke-width="3.4" stroke-opacity="0.78" stroke-linecap="round" d="M880.3 91.1h0M879.1 90.7h0M877.4 94.1h0"/><path fill="none" stroke="#a08c82" stroke-width="3.4" stroke-opacity="0.78" stroke-linecap="round" d="M861.4 227.9h0"/><path fill="none" stroke="#64a0d2" stroke-width="3.4" stroke-opacity="0.78" stroke-linecap="round" d="M811.8 177.4h0"/><path fill="none" stroke="#968296" stroke-width="3.4" stroke-opacity="0.78" stroke-linecap="round" d="M851.2 225.9h0"/><path fill="none" stroke="#5abe78" stroke-width="3.4" stroke-opacity="0.78" stroke-linecap="round" d="M949.4 186.7h0M949.1 199.6h0"/><path fill="none" stroke="#c8c85a" stroke-width="3.4" stroke-opacity="0.78" stroke-linecap="round" d="M888.7 252.4h0M885.1 241.8h0M873.5 252.1h0"/><path fill="none" stroke="#8c64a0" stroke-width="3.4" stroke-opacity="0.78" stroke-linecap="round" d="M843.4 225.4h0M836.2 227h0"/><path fill="none" stroke="#b4b464" stroke-width="3.4" stroke-opacity="0.78" stroke-linecap="round" d="M871.1 235.2h0M879.9 219.5h0"/><path fill="none" stroke="#8c7896" stroke-width="3.4" stroke-opacity="0.78" stroke-linecap="round" d="M864.1 199.9h0M856.1 191.5h0"/><path fill="none" stroke="#aa788c" stroke-width="3.4" stroke-opacity="0.78" stroke-linecap="round" d="M864.3 235.3h0"/><path fill="none" stroke="#3c468c" stroke-width="3.4" stroke-opacity="0.78" stroke-linecap="round" d="M912.1 129.8h0M894.8 100.7h0"/><path fill="none" stroke="#5a5078" stroke-width="3.4" stroke-opacity="0.78" stroke-linecap="round" d="M862.7 180.5h0"/><path fill="none" stroke="#5a5a96" stroke-width="3.4" stroke-opacity="0.78" stroke-linecap="round" d="M839.4 167.2h0M835.8 175.4h0"/><path fill="none" stroke="#787882" stroke-width="3.4" stroke-opacity="0.78" stroke-linecap="round" d="M879.1 191.5h0"/><path fill="none" stroke="#508278" stroke-width="3.4" stroke-opacity="0.78" stroke-linecap="round" d="M902 157.4h0M907.8 170.5h0"/><path fill="none" stroke="#506e6e" stroke-width="3.4" stroke-opacity="0.78" stroke-linecap="round" d="M879.1 161.9h0"/><path fill="none" stroke="#5a5a82" stroke-width="3.4" stroke-opacity="0.78" stroke-linecap="round" d="M852.6 174.5h0"/><path fill="none" stroke="#8cb464" stroke-width="3.4" stroke-opacity="0.78" stroke-linecap="round" d="M874.9 183.5h0"/><path fill="none" stroke="#50a078" stroke-width="3.4" stroke-opacity="0.78" stroke-linecap="round" d="M914.3 163.5h0M928.2 173.5h0"/><path fill="none" stroke="#beb464" stroke-width="3.4" stroke-opacity="0.78" stroke-linecap="round" d="M894.6 245.9h0M867.6 245.2h0"/><path fill="none" stroke="#506e82" stroke-width="3.4" stroke-opacity="0.78" stroke-linecap="round" d="M904.9 154.3h0M904 155.3h0M899.4 150.8h0"/><path fill="none" stroke="#646eaa" stroke-width="3.4" stroke-opacity="0.78" stroke-linecap="round" d="M823 180.8h0"/><path fill="none" stroke="#aab464" stroke-width="3.4" stroke-opacity="0.78" stroke-linecap="round" d="M866.6 220.8h0M870 223.7h0"/><path fill="none" stroke="#5082b4" stroke-width="3.4" stroke-opacity="0.78" stroke-linecap="round" d="M876.4 91.8h0M829.3 162h0M833.8 151.9h0M884.3 96.9h0"/><path fill="none" stroke="#b48c82" stroke-width="3.4" stroke-opacity="0.78" stroke-linecap="round" d="M858.8 231.5h0"/><path fill="none" stroke="#b4be5a" stroke-width="3.4" stroke-opacity="0.78" stroke-linecap="round" d="M862.7 227.8h0"/><path fill="none" stroke="#323c78" stroke-width="3.4" stroke-opacity="0.78" stroke-linecap="round" d="M918.2 106.7h0M921.6 110.8h0M915 109.5h0M918.8 110.4h0M922.7 111.5h0M921 109.7h0"/><path fill="none" stroke="#c86e96" stroke-width="3.4" stroke-opacity="0.78" stroke-linecap="round" d="M870.9 254h0"/><path fill="none" stroke="#5a5a8c" stroke-width="3.4" stroke-opacity="0.78" stroke-linecap="round" d="M851.6 175.7h0M836.1 176.7h0"/><path fill="none" stroke="#96a078" stroke-width="3.4" stroke-opacity="0.78" stroke-linecap="round" d="M870.3 204h0"/><path fill="none" stroke="#465078" stroke-width="3.4" stroke-opacity="0.78" stroke-linecap="round" d="M885.9 167.7h0M878.3 158.3h0"/><path fill="none" stroke="#6e6eaa" stroke-width="3.4" stroke-opacity="0.78" stroke-linecap="round" d="M829 177.4h0"/><path fill="none" stroke="#c8788c" stroke-width="3.4" stroke-opacity="0.78" stroke-linecap="round" d="M872.8 242.3h0M885.4 252.2h0"/><path fill="none" stroke="#6e82be" stroke-width="3.4" stroke-opacity="0.78" stroke-linecap="round" d="M811.8 176.5h0"/><path fill="none" stroke="#50786e" stroke-width="3.4" stroke-opacity="0.78" stroke-linecap="round" d="M874.4 168.3h0"/><path fill="none" stroke="#50646e" stroke-width="3.4" stroke-opacity="0.78" stroke-linecap="round" d="M868.3 178.9h0M874.9 181.2h0M893.4 172.5h0"/><path fill="none" stroke="#5a5a78" stroke-width="3.4" stroke-opacity="0.78" stroke-linecap="round" d="M870.4 178.3h0"/><path fill="none" stroke="#64be6e" stroke-width="3.4" stroke-opacity="0.78" stroke-linecap="round" d="M945.5 193.8h0M922.5 195.6h0"/><path fill="none" stroke="#5a6e78" stroke-width="3.4" stroke-opacity="0.78" stroke-linecap="round" d="M875.2 191.4h0"/><path fill="none" stroke="#a09682" stroke-width="3.4" stroke-opacity="0.78" stroke-linecap="round" d="M853.2 227.4h0M869.5 220h0"/><path fill="none" stroke="#6464b4" stroke-width="3.4" stroke-opacity="0.78" stroke-linecap="round" d="M894.5 141.9h0M882.8 139h0"/><path fill="none" stroke="#786e8c" stroke-width="3.4" stroke-opacity="0.78" stroke-linecap="round" d="M855.9 183.4h0"/><path fill="none" stroke="#a0d25a" stroke-width="3.4" stroke-opacity="0.78" stroke-linecap="round" d="M921.3 193.7h0"/><path fill="none" stroke="#bec850" stroke-width="3.4" stroke-opacity="0.78" stroke-linecap="round" d="M888.5 247.4h0"/><path fill="none" stroke="#78788c" stroke-width="3.4" stroke-opacity="0.78" stroke-linecap="round" d="M868.5 180.4h0"/><path fill="none" stroke="#aa64a0" stroke-width="3.4" stroke-opacity="0.78" stroke-linecap="round" d="M852 255.3h0"/><path fill="none" stroke="#a0a078" stroke-width="3.4" stroke-opacity="0.78" stroke-linecap="round" d="M850 226.5h0M868.2 211.8h0"/><path fill="none" stroke="#78b46e" stroke-width="3.4" stroke-opacity="0.78" stroke-linecap="round" d="M894.6 196.9h0"/><path fill="none" stroke="#8c78a0" stroke-width="3.4" stroke-opacity="0.78" stroke-linecap="round" d="M871.2 198.8h0"/><path fill="none" stroke="#505aa0" stroke-width="3.4" stroke-opacity="0.78" stroke-linecap="round" d="M893.4 124.7h0M903.4 124.1h0M883.9 112.2h0M890.7 136.8h0"/><path fill="none" stroke="#be9678" stroke-width="3.4" stroke-opacity="0.78" stroke-linecap="round" d="M865.4 222.8h0M865.2 244h0"/><path fill="none" stroke="#6e8278" stroke-width="3.4" stroke-opacity="0.78" stroke-linecap="round" d="M862.5 191.2h0"/><path fill="none" stroke="#78a06e" stroke-width="3.4" stroke-opacity="0.78" stroke-linecap="round" d="M880.3 187.9h0"/><path fill="none" stroke="#c8966e" stroke-width="3.4" stroke-opacity="0.78" stroke-linecap="round" d="M881.6 253.5h0"/><path fill="none" stroke="#be6e8c" stroke-width="3.4" stroke-opacity="0.78" stroke-linecap="round" d="M871.9 245.7h0M859.1 255.1h0"/><path fill="none" stroke="#be788c" stroke-width="3.4" stroke-opacity="0.78" stroke-linecap="round" d="M857.1 247h0"/><path fill="none" stroke="#aaa078" stroke-width="3.4" stroke-opacity="0.78" stroke-linecap="round" d="M870.6 229.6h0"/><path fill="none" stroke="#8c8296" stroke-width="3.4" stroke-opacity="0.78" stroke-linecap="round" d="M864.9 200.4h0"/><path fill="none" stroke="#6482b4" stroke-width="3.4" stroke-opacity="0.78" stroke-linecap="round" d="M838 178h0"/><path fill="none" stroke="#6e64a0" stroke-width="3.4" stroke-opacity="0.78" stroke-linecap="round" d="M840.6 183.7h0"/><path fill="none" stroke="#5a78aa" stroke-width="3.4" stroke-opacity="0.78" stroke-linecap="round" d="M836 175.1h0"/><path fill="none" stroke="#466ea0" stroke-width="3.4" stroke-opacity="0.78" stroke-linecap="round" d="M879.5 98.6h0"/><path fill="none" stroke="#aadc50" stroke-width="3.4" stroke-opacity="0.78" stroke-linecap="round" d="M917.2 187.1h0"/><path fill="none" stroke="#aabe5a" stroke-width="3.4" stroke-opacity="0.78" stroke-linecap="round" d="M873.7 229.7h0"/><path fill="none" stroke="#c8dc50" stroke-width="3.4" stroke-opacity="0.78" stroke-linecap="round" d="M891.7 250h0"/><path fill="none" stroke="#508c82" stroke-width="3.4" stroke-opacity="0.78" stroke-linecap="round" d="M920.1 164.4h0"/><path fill="none" stroke="#7854b4" stroke-width="3.6" stroke-opacity="0.5" stroke-linecap="round" d="M1153.8 219.5h0M1157.8 219.1h0M1146.5 230.6h0M1156.6 227h0M1136.9 216.1h0M1143.1 225.2h0M1150.1 223h0M1143.7 223.4h0M1156.5 218h0M1140.1 224.5h0M1146.1 211.1h0M1147 220h0M1158 209.4h0M1158.5 232h0M1165.5 219.7h0M1141.4 218h0M1149.5 220.8h0M1146.2 218h0M1146.4 234.6h0M1150.7 226h0M1158.3 224.9h0M1148.2 220.6h0M1153.7 222.4h0M1159.8 220.3h0M1157.5 219.1h0M1143.5 229.6h0M1144.5 234.4h0M1147.7 226.3h0M1135.5 217.9h0M1139.3 207.5h0"/><path fill="none" stroke="#5490d8" stroke-width="3.6" stroke-opacity="0.5" stroke-linecap="round" d="M1083.5 122.2h0M1086 118.3h0M1081.5 128.1h0M1085 125.4h0M1084.9 120.5h0M1083.4 119h0M1070 119.8h0M1083.1 121.8h0M1094.5 118.6h0M1078.7 124.2h0M1074.7 120.6h0M1088.5 112.6h0M1097 123.7h0M1085.4 122.3h0M1077.5 113.1h0M1074.6 127.3h0M1083.4 113.7h0M1075 112.2h0M1088.4 125.6h0M1086.5 118.9h0M1081.4 112.8h0M1078.8 130h0M1083.5 128.6h0M1087.7 124.6h0M1083.9 118.7h0M1090.3 122.7h0M1091.7 113.5h0M1083.5 128.4h0M1080.5 130.5h0M1080.8 129.4h0M1083 129.4h0M1089.1 115.5h0"/><path fill="none" stroke="#8448a8" stroke-width="3.6" stroke-opacity="0.5" stroke-linecap="round" d="M1165 223.9h0M1187.1 208.1h0M1167.4 229.1h0M1178.1 217h0M1180.7 227.6h0M1179.2 216.1h0M1179.7 228.1h0M1175.6 227.1h0M1170.4 217.6h0M1175.3 214.8h0M1181.6 216.1h0M1173.3 230.9h0M1174 223.5h0M1180 219.4h0M1180 214.6h0M1164.7 216.1h0M1158.5 225.7h0M1164.8 217.8h0M1174.8 220.6h0M1185 220h0M1169.3 225.7h0M1175.9 218.8h0"/><path fill="none" stroke="#6c6cc0" stroke-width="3.6" stroke-opacity="0.5" stroke-linecap="round" d="M1092.3 187.9h0M1115 195.2h0M1105 203.1h0M1105.2 204.3h0M1108.9 184.4h0M1113.3 186.4h0M1091.3 182.5h0M1108.4 197.9h0M1108.1 194.7h0M1097.6 175.3h0M1104.3 202h0M1102.8 181.2h0M1104.4 196.3h0M1095.6 185h0M1083.2 190.1h0M1098.8 207.6h0M1109 196.9h0M1103.4 188.5h0M1093.2 186.9h0M1095.6 186.5h0M1106.9 194.5h0M1093.3 178.6h0M1100 196.5h0M1103.2 194.7h0M1103 188.9h0M1105.3 205.6h0M1113 199.2h0M1106.5 192.5h0M1093.7 194.2h0M1093.6 204.5h0M1091.5 177h0M1103.7 193.8h0M1104.4 191.4h0M1111.2 198.7h0M1094.2 182.7h0M1104.9 191h0M1096.5 202.1h0M1101.6 190.6h0M1104.6 186.6h0M1099.7 193.3h0"/><path fill="none" stroke="#3cb4f0" stroke-width="3.6" stroke-opacity="0.5" stroke-linecap="round" d="M1126.5 98.4h0M1133.5 104.1h0M1136.1 110h0M1131.4 100.6h0M1121.2 97.9h0M1126.3 101.2h0M1130.8 104.5h0M1109.3 95.7h0M1126 102.7h0M1132.1 96.2h0M1142.5 117.4h0M1118.4 100.4h0M1122.1 88.1h0M1119.2 104.7h0M1136.7 111.9h0M1117.8 111.4h0M1123.4 93.6h0M1122.3 95.7h0M1134 85.3h0M1114.8 91.6h0M1130.5 96.2h0M1135 105.3h0M1123.5 108.4h0M1133.4 104.3h0M1141.5 106.1h0M1126.4 105.8h0M1136.3 105.2h0M1130.9 99.9h0M1124.2 105.8h0M1133.1 110.5h0"/><path fill="none" stroke="#3cb4e4" stroke-width="3.6" stroke-opacity="0.5" stroke-linecap="round" d="M1118.9 91.9h0M1108.8 101.2h0M1117.9 96.8h0M1125.5 99.1h0M1108.2 105.7h0M1128.7 90.4h0M1115.5 92.9h0M1118.6 100.1h0M1111.6 89.1h0M1110.8 92.6h0M1129.3 100.9h0M1127.2 110.8h0M1122.8 95.6h0M1118.1 90.9h0M1114.1 103.4h0M1123 93.8h0M1129 91.9h0M1126.4 88.8h0M1122.6 88.5h0"/><path fill="none" stroke="#48a8e4" stroke-width="3.6" stroke-opacity="0.5" stroke-linecap="round" d="M1106.1 95.6h0M1110.8 83.4h0M1099.4 98.9h0M1110.9 94.4h0M1115.2 105.5h0M1102.9 90.6h0M1111.6 101.1h0M1096.4 96.9h0M1112.1 98.1h0M1106.3 102h0M1094.3 96.4h0M1099.7 98.6h0M1113.3 93.5h0M1098.7 96.3h0M1102.9 98.6h0M1109.2 96.9h0M1107.1 99.8h0M1116.9 101.5h0M1107.1 113.9h0M1103.2 92.6h0M1105.2 101.3h0M1098.3 95.7h0M1096.2 93.7h0M1110 99.1h0M1096.2 103.8h0M1098.3 103.1h0M1102.5 87.4h0M1105.5 104.8h0M1100 106h0M1104.3 86.4h0M1111.6 103.9h0M1103.5 94.8h0M1100.9 99.4h0M1098.2 105.6h0M1107.8 94.3h0M1094.9 106.3h0M1097.8 90h0"/><path fill="none" stroke="#6084cc" stroke-width="3.6" stroke-opacity="0.5" stroke-linecap="round" d="M1079.7 133.2h0M1084.9 152h0M1080.2 151.1h0M1089.2 148.9h0M1080.2 136.6h0M1084.7 145.9h0M1077.8 144.1h0M1083.9 153.6h0M1077.3 153.8h0M1094.2 140.3h0M1083.7 135.2h0M1075.8 142.4h0M1082.3 157.1h0M1079.2 149.6h0M1082.6 158.5h0M1073.8 141.4h0M1085.4 148.4h0M1078.6 161.7h0M1080 151.5h0M1084.4 141.4h0M1095 148.4h0M1091.3 144.5h0M1082.4 139h0M1086 150.6h0"/><path fill="none" stroke="#6c60b4" stroke-width="3.6" stroke-opacity="0.5" stroke-linecap="round" d="M1121.6 220.2h0M1136.3 214.8h0M1127.4 219h0M1108.4 200.3h0M1126.6 210.6h0M1128.3 209.9h0M1128.1 211.4h0M1120.3 213.8h0M1124.1 217.2h0M1123.1 206.1h0M1144.6 215.9h0M1129.6 205.8h0M1122.8 196.7h0M1127.7 214.3h0M1138.1 211.5h0M1145.6 215.8h0M1127.4 209.3h0M1119 211.4h0M1106.9 204.6h0M1139 212.5h0M1122.7 206.4h0M1132.3 218.2h0M1112.8 204.5h0M1137.4 210h0M1121.5 210.8h0M1132.9 205.6h0M1134.2 223.5h0M1125.5 217.9h0M1126.4 206.7h0M1129.8 211.5h0M1125.1 206.8h0M1125.8 226.6h0M1126.4 205.3h0M1118.7 214.2h0M1121.8 215.7h0M1122.3 210.6h0M1117.8 213.2h0M1114.9 200.9h0M1124 209.3h0M1142.9 207.1h0M1120.6 216.9h0M1117.9 205.4h0M1113.6 207.6h0M1143.6 205.9h0M1119.5 204.7h0M1123.5 207.4h0"/><path fill="none" stroke="#8454a8" stroke-width="3.6" stroke-opacity="0.5" stroke-linecap="round" d="M1171.5 226.5h0M1162.2 234h0M1162 225.2h0M1171.3 221.8h0M1166.8 226.9h0M1165.5 216.2h0M1162.8 226h0M1163.2 212.6h0"/><path fill="none" stroke="#3cc0f0" stroke-width="3.6" stroke-opacity="0.5" stroke-linecap="round" d="M1141.6 110.3h0M1128.6 109.7h0M1129.8 114.7h0M1137.2 115.7h0M1139.8 117.6h0M1132.7 113.7h0M1149.3 103.3h0M1133.6 115.5h0M1142.7 121.1h0M1142.7 108.3h0M1136.4 109.5h0M1134.9 106.3h0M1135.2 97.4h0M1139.5 111.6h0M1138.7 107.9h0M1135.6 105.2h0M1134.7 113.8h0M1144.1 96h0M1143.3 113h0M1138.1 111.3h0M1133.6 107h0M1140.3 117.7h0M1129 117.2h0M1134.4 106.6h0"/><path fill="none" stroke="#9048a8" stroke-width="3.6" stroke-opacity="0.5" stroke-linecap="round" d="M1190.4 206.8h0M1183.8 209.8h0M1178.2 201.5h0M1188 207.9h0M1185.7 206.7h0M1183.6 228.1h0M1190.5 212.6h0M1183.2 212.8h0M1178.9 212.7h0M1178.7 207.1h0M1168.8 200.3h0M1191.1 204.4h0M1193.1 211.2h0M1194.7 209.8h0M1195 208.2h0M1193.7 216h0M1180.4 208.6h0M1185.4 203.1h0M1186.2 201.6h0M1188.2 203.7h0"/><path fill="none" stroke="#549cd8" stroke-width="3.6" stroke-opacity="0.5" stroke-linecap="round" d="M1094.1 114.4h0M1089.2 98.6h0M1106.9 105.8h0M1076.8 109.7h0M1103.4 116.2h0M1085.9 108.2h0M1092.6 103.7h0"/><path fill="none" stroke="#6c78c0" stroke-width="3.6" stroke-opacity="0.5" stroke-linecap="round" d="M1090.6 177.6h0M1079 183.7h0M1094.9 188.2h0M1088.2 184h0M1092.9 170.4h0M1095.4 180.5h0"/><path fill="none" stroke="#7860b4" stroke-width="3.6" stroke-opacity="0.5" stroke-linecap="round" d="M1130.6 216.8h0M1142.2 221.7h0M1147.4 210.7h0M1141 215.5h0M1134.6 213h0M1148 212.3h0"/><path fill="none" stroke="#6c60c0" stroke-width="3.6" stroke-opacity="0.5" stroke-linecap="round" d="M1115.5 206.1h0M1114 203.7h0M1111.3 206.2h0"/><path fill="none" stroke="#6078cc" stroke-width="3.6" stroke-opacity="0.5" stroke-linecap="round" d="M1097.5 159.7h0M1077.6 163.7h0M1088.3 168.8h0M1089.2 172.6h0M1087.7 152.8h0M1082.7 165.3h0M1091.2 167.5h0M1084.1 171.1h0M1083.6 166.4h0M1090.5 178.4h0M1087.4 165.9h0M1080.4 172.5h0M1084.7 156.5h0M1100.5 161.3h0M1101 172h0M1089.2 174.5h0M1093.7 168.2h0M1083.7 163.5h0M1085.2 156.6h0M1091 155.7h0M1087 160.4h0M1083.1 160.5h0M1088.9 174.8h0M1096.1 175.4h0M1087.6 151.6h0M1087 165.9h0M1086.1 181.5h0M1092.7 162.2h0M1093.3 166.6h0"/><path fill="none" stroke="#489ce4" stroke-width="3.6" stroke-opacity="0.5" stroke-linecap="round" d="M1095.7 99.8h0M1089.9 113.3h0M1090.9 107.9h0M1096.8 99.2h0M1094.8 98.9h0M1097.1 89.4h0M1103.5 102.1h0M1107.5 100.1h0M1083.1 100.8h0M1087 104.4h0M1094.3 96.1h0M1088.6 92h0"/><path fill="none" stroke="#7854a8" stroke-width="3.6" stroke-opacity="0.5" stroke-linecap="round" d="M1161 220.8h0M1162.2 219.4h0M1161.6 224.4h0M1159.6 232.7h0M1172.4 228.5h0M1167.1 224.9h0M1162.6 223.2h0M1166.5 222.9h0M1157.9 221.6h0M1165.8 218.6h0M1156.2 222.1h0"/><path fill="none" stroke="#489cd8" stroke-width="3.6" stroke-opacity="0.5" stroke-linecap="round" d="M1096.3 108.2h0M1091.6 97.2h0"/><path fill="none" stroke="#6084d8" stroke-width="3.6" stroke-opacity="0.5" stroke-linecap="round" d="M1082.2 139.7h0M1074.9 130.6h0M1085.7 140.9h0M1075.1 147.8h0M1077.7 126.7h0M1068.3 131.8h0M1076.7 134.2h0"/><path fill="none" stroke="#3ca8e4" stroke-width="3.6" stroke-opacity="0.5" stroke-linecap="round" d="M1104.1 102.4h0M1112.7 97.8h0"/><path fill="none" stroke="#5484d8" stroke-width="3.6" stroke-opacity="0.5" stroke-linecap="round" d="M1080.9 134.8h0M1086.7 126.9h0M1078.6 134.4h0"/><path fill="none" stroke="#3cc0f0" stroke-width="3.6" stroke-opacity="0.8" stroke-linecap="round" d="M1140.9 113.1h0M1142.4 111.3h0M1138.5 115.4h0M1137 116.6h0M1140.2 113.5h0M1138.4 115.4h0M1140.4 114.6h0M1141.7 111.7h0M1141 114.9h0M1136.6 112.8h0M1141.3 111.9h0M1139 113.9h0M1142.3 110.4h0M1140.2 112.8h0M1139.7 113.9h0M1141.4 107.2h0M1138.5 111.7h0M1139.6 112.4h0M1139.8 111.1h0M1138.3 114.1h0M1138.4 111.5h0M1138.4 113.8h0M1138.8 110.2h0M1137.1 113.2h0M1138.5 109.9h0M1137.8 112.1h0M1139.5 107.9h0M1138.3 109.1h0M1136.5 112.3h0M1138.4 110h0M1140 107.8h0M1138.6 109.3h0M1134.4 113.7h0M1140.1 107.7h0M1136.9 108.4h0M1136.1 112h0M1139.4 108.9h0M1138.7 107.8h0M1138.6 107.4h0M1135.6 111.8h0M1138.5 106.1h0M1136.9 108.9h0M1132.6 112.3h0M1132.9 109.7h0M1133.8 111.1h0M1136.5 108.8h0M1133.8 110.3h0M1137.4 108h0M1137.3 107.2h0M1137.9 105.6h0M1133.1 111.7h0M1136 105.4h0M1135 109h0M1133.2 109.3h0M1134.5 107h0M1134.7 109.6h0M1132.7 108.2h0M1135 106.7h0M1136 106.7h0M1133.6 106.5h0M1134.6 105.4h0M1136.5 105.9h0M1132.4 110.1h0M1132.1 109.1h0M1134.5 109.2h0M1133.1 108.2h0M1134.6 106.2h0M1131.9 107h0M1132.3 106.1h0M1135.4 102.3h0M1134.2 106h0M1136.6 103h0M1134.4 103.1h0"/><path fill="none" stroke="#3cb4f0" stroke-width="3.6" stroke-opacity="0.8" stroke-linecap="round" d="M1133.6 103.4h0M1133.3 103.4h0M1132.4 107h0M1129.2 110.1h0M1131.3 105h0M1133 104h0M1130.5 106.1h0M1133.6 102h0M1132.6 104.3h0M1129.8 108.6h0M1130.6 107.3h0M1133.2 103.2h0M1130.6 103.4h0M1132.7 103.4h0M1133.2 101.9h0M1130.5 104.2h0M1130.8 105.3h0M1132.6 98.9h0M1133 102.1h0M1129.9 105.1h0M1128.3 108.2h0M1127.7 107.4h0M1126.8 107.5h0M1131.7 102.7h0M1128.6 104.5h0M1128.1 107.7h0M1131.3 102.7h0M1128.8 105.9h0M1127.8 105.6h0M1128 105.8h0M1127.2 106.6h0M1129.2 106.3h0M1132.1 99.8h0M1126.8 104.7h0M1129.6 103.9h0M1131.4 100.1h0M1131.1 100.4h0M1129.7 102.5h0M1126.4 103.7h0M1132.2 99.7h0M1129.9 100.6h0M1129.2 99.9h0M1127.6 105h0M1129 102h0M1131 97.6h0M1130.3 100.6h0M1128.1 100.2h0M1129.8 102.4h0M1129.5 99.9h0M1130.2 98.5h0M1129.2 101.7h0M1128 99.9h0M1124.8 104.9h0M1126.9 102.6h0M1128.2 98h0M1129.7 97.7h0M1128.6 97.9h0M1125.2 102.2h0M1128.1 99.2h0M1127.4 98.1h0M1128.7 98.2h0M1128.2 98.1h0M1127.3 99.3h0M1125.5 104.1h0M1124.8 102.3h0M1125.8 99.5h0M1124.8 103.7h0M1126.4 98.4h0M1126.5 98.9h0M1123.8 104.9h0M1124.6 101.3h0M1122.7 101.4h0M1123.8 101.7h0M1123.4 103h0M1122.8 105.9h0M1126.9 97.6h0M1125.4 97.2h0M1126.2 95.8h0M1122.8 104.5h0M1125.4 95.5h0M1126.7 96.3h0M1123.1 99.7h0M1126 96.7h0M1125.3 99.2h0M1124.7 97.2h0M1124.4 97.5h0M1122.8 99.9h0M1126.1 94.8h0M1123 99.3h0M1121.6 102.4h0M1122.5 102.3h0M1123.5 99.2h0M1121.4 99.3h0M1123.7 97.2h0M1121.8 102.6h0M1123.6 97.7h0M1122.7 101.2h0M1122.7 100.6h0M1124.5 96.6h0M1123.4 94h0M1121.1 101.3h0M1122.6 99.7h0M1122.7 98.7h0M1121.4 97.4h0M1120.9 99h0M1121.8 98.1h0M1119.2 103h0M1123.8 94.5h0"/><path fill="none" stroke="#3cb4e4" stroke-width="3.6" stroke-opacity="0.8" stroke-linecap="round" d="M1118.7 101.3h0M1121.2 94.8h0M1121.5 93.9h0M1120.1 99.2h0M1122.1 95.8h0M1118.7 103.8h0M1118.9 101.9h0M1120.9 97.6h0M1117.8 103.3h0M1121.6 97.2h0M1118.3 101.8h0M1118.1 101.4h0M1121.6 96.4h0M1120.9 94.3h0M1118.6 99.4h0M1119.5 96.4h0M1119.5 94.6h0M1118.1 102.6h0M1119.4 100.1h0M1119.4 97.1h0M1119.2 99.5h0M1119.6 94.1h0M1118.1 102.2h0M1118.9 97.4h0M1117.4 96.6h0M1119.7 92.8h0M1116.4 101.2h0M1120.7 92.4h0M1118.4 100.7h0M1117.5 102.5h0M1118.8 91.8h0M1116.7 100.3h0M1117.1 98.4h0M1117.7 93.2h0M1116.4 101.8h0M1115.6 99.6h0M1117.6 97.6h0M1118.3 93.4h0M1115.2 100h0M1118.2 95.4h0M1119.8 92.1h0M1119.1 91.6h0M1115.6 100.6h0M1117.3 99.5h0M1115.7 98.9h0M1115.6 100.3h0M1115.7 97.8h0M1116.9 101.7h0M1116 103h0M1117.2 100.6h0M1115.9 96.9h0M1116.6 92.8h0M1116.5 92.2h0M1116.7 95.2h0M1117.1 90.4h0M1115.2 99.1h0M1116 93.5h0M1114.9 100.8h0M1115.2 99.3h0M1114.9 94.3h0M1113.4 100.5h0M1114.4 99.7h0M1114 98.2h0M1114.9 97.6h0M1116.5 90.8h0M1113.1 97.5h0M1113.8 98.2h0M1113.8 98.3h0M1115.2 90.6h0M1114.7 101.8h0M1114.2 101.5h0M1115.7 101.1h0M1113.7 93.7h0M1114.7 97h0M1114.3 101.4h0M1113.4 90.2h0M1113.1 101.6h0M1114.7 90.2h0M1113.2 95.7h0M1113.6 91.8h0M1112.5 98.6h0M1114.3 95.6h0M1112.5 99.7h0M1112.8 99.6h0M1112 102.4h0M1111.2 97.3h0M1112.9 96.1h0M1111.7 92.1h0M1112.2 92.5h0M1111.9 91.3h0"/><path fill="none" stroke="#3ca8e4" stroke-width="3.6" stroke-opacity="0.8" stroke-linecap="round" d="M1112.7 90.2h0M1111.2 100.8h0M1112 98h0M1110.7 101.6h0M1110.9 101.7h0M1110.1 99.5h0M1112.1 92.9h0M1109.5 100.2h0M1112.2 96.8h0M1111.3 99.8h0"/><path fill="none" stroke="#48a8e4" stroke-width="3.6" stroke-opacity="0.8" stroke-linecap="round" d="M1112.4 93.4h0M1111.2 98.3h0M1112 91.3h0M1111.1 100.8h0M1111.7 97.8h0M1109.5 92h0M1109.6 93.9h0M1109.4 98.3h0M1110.2 96.6h0M1111.1 98.9h0M1110.3 101.1h0M1109 91.7h0M1111.5 102.1h0M1110.7 92.7h0M1111.2 90.1h0M1109.4 101.4h0M1109.2 95.7h0M1109.6 96.3h0M1109.3 99.4h0M1110.5 92.7h0M1109.9 98h0M1108.7 94.6h0M1109.5 99.2h0M1109 101.9h0M1108.4 93.2h0M1109 99.5h0M1108.4 98h0M1109.6 97.3h0M1108.8 98h0M1109.9 103h0M1107.1 91.5h0M1109.7 92.5h0M1107.1 91.1h0M1108.8 99.2h0M1108.1 94.1h0M1107.5 100.8h0M1108.7 99.8h0M1106.5 93.8h0M1108.7 96.4h0M1107 90.8h0M1106.7 96.2h0M1106.2 91.9h0M1106.9 96.1h0M1107.9 96.2h0M1107.5 99.8h0M1106.4 98.1h0M1106.3 91.7h0M1104.7 95.1h0M1107.3 95.8h0M1106.2 96.2h0M1104.9 96.9h0M1107.2 100h0M1106 101.8h0M1106.9 100.6h0M1105.3 92.6h0M1105.3 90.8h0M1104.5 97.4h0M1106.4 101.3h0M1106.1 98.5h0M1103.5 91.3h0M1105.3 100.9h0M1106.7 102.9h0M1104.3 99.6h0M1105.1 102.8h0M1105.3 97.2h0M1106 101.9h0M1102.1 90.3h0M1104.1 99.1h0M1105.7 99.6h0M1105.7 95.1h0M1105.9 99.7h0M1104.6 100.1h0M1105.1 100.7h0M1102.8 92.4h0M1101.8 92h0M1103.6 99h0M1105.9 104.3h0M1102.9 95.1h0M1104.8 101.7h0M1104.5 98.9h0M1101.5 91.3h0M1105 102.9h0M1104.5 97.2h0M1101 93h0M1100.6 92h0M1102.9 101.1h0M1105.2 102.5h0M1105.2 103.7h0M1103.4 101.1h0M1102.1 93.2h0M1101.7 93.9h0M1103.5 99.5h0M1101.6 98.4h0M1100.9 95.6h0M1100.8 94.8h0M1104.2 101.7h0M1099.4 93.6h0M1103.1 101.4h0M1102.4 98.5h0M1102.9 102.4h0M1099.6 94.2h0M1101.2 96.7h0M1101.5 98.1h0M1101.5 93.6h0M1100.6 97.9h0M1097.7 93.5h0M1100.1 93.4h0M1101.3 99.5h0M1102.5 102.3h0M1101.1 95.5h0M1098.8 96.5h0M1100.7 96.5h0M1101.4 100.8h0M1098.8 96.9h0M1099.5 94.4h0M1102.7 103.5h0M1100.6 104.3h0M1100 98.9h0M1098.9 96.7h0M1100.1 99.4h0M1098.1 94.4h0M1097.6 95.7h0M1100.7 101.4h0M1100.3 103h0M1101.3 103.8h0M1099.4 99.1h0M1100.3 101.6h0M1099.3 101h0M1101.1 101.9h0M1101 104.4h0M1098.9 100.3h0M1099.6 101.6h0M1101.7 105.3h0M1096 97.6h0M1096.5 95.1h0M1101 104.3h0M1097.5 99.2h0M1098.9 100.7h0M1099.3 102.6h0M1101.2 103.3h0M1093.8 94.8h0M1094.8 96.9h0M1101.5 104.5h0M1096.4 97.4h0M1096 96h0M1096.9 100.7h0M1099.9 104.7h0M1095.7 94.6h0M1099.5 102.4h0M1100.5 105.2h0M1093.3 94.6h0M1093.5 95.3h0M1096.4 98.3h0M1095.4 99.1h0M1097.7 100.1h0M1095.3 100.4h0M1092.5 96.4h0M1098.8 104.4h0M1095.2 98.7h0M1096.6 103.6h0M1097.8 104.2h0M1094.1 97h0M1095.3 99.5h0M1095 100.5h0M1095.3 99.6h0M1091.3 98.3h0M1092.7 96.7h0M1098.1 101.9h0M1097.9 104.4h0M1092.6 98.7h0M1092.2 99.4h0M1093.8 98.1h0M1097.7 106.4h0M1090.9 98.1h0M1092.4 98.6h0"/><path fill="none" stroke="#489ce4" stroke-width="3.6" stroke-opacity="0.8" stroke-linecap="round" d="M1096.4 101.5h0M1094.7 103.4h0M1094 102.8h0M1092.9 100.5h0M1093.3 100.5h0M1093.8 100.3h0M1088.6 97.5h0M1092.5 103.6h0M1094.6 101.7h0M1095.8 105.6h0M1091 98.4h0M1092.2 98.4h0M1092.3 101.1h0M1092.6 101.1h0M1093.9 102.7h0M1091.6 102.3h0M1097.9 106.8h0M1099.4 105.8h0M1096 104.1h0M1096.9 103.6h0M1098.1 104.8h0M1094.3 101.6h0M1097.8 106.5h0M1091.9 102.4h0M1094.6 103.8h0M1095.6 105.1h0M1097.4 106.7h0M1097.3 108.2h0M1089.3 99.8h0M1094.9 103.4h0M1094.6 106.6h0M1094.2 105.4h0M1094.4 106.9h0M1097.9 107h0M1093.9 104.1h0M1095.1 107.8h0M1095.2 105.9h0M1092.1 104.5h0M1088 101.7h0M1094.1 105.5h0M1090.9 102.8h0M1092.4 102.6h0M1095 107.4h0M1091.2 102.2h0M1093.8 105.8h0M1096.2 107.5h0M1091.4 101.9h0M1088.1 100.4h0M1096.3 107.5h0M1091.4 106.1h0M1094 105.9h0M1095.4 105.9h0M1095.7 108.8h0M1088.1 102h0M1093.7 107.6h0M1091.2 104h0M1094.1 107.5h0M1091.4 102.1h0M1086.6 100.3h0M1088.1 103.6h0M1090.3 103.7h0M1087 102.7h0M1094.5 107.6h0M1089.9 104.6h0M1095.7 108.3h0M1088.4 104h0M1089.4 105h0M1095.4 110.2h0M1096.8 109.2h0M1092.3 105.6h0M1091.7 106.5h0M1095.2 108.5h0M1090.8 108.9h0M1090.8 105.3h0M1093 109.6h0M1095.8 108.7h0M1087.9 105.4h0M1093.3 107.7h0M1086 103.4h0M1092.8 107.7h0M1092 109.7h0M1087.2 103.4h0M1092.7 107.6h0M1092.2 110.3h0M1091.1 107.3h0M1088.9 105.8h0M1084.6 102.3h0M1091.7 108.8h0M1092.4 109.7h0M1089.6 106.8h0M1092.9 108.5h0M1088.4 106.6h0M1087.7 105.1h0M1090.8 106.9h0M1093.6 107.6h0M1091.3 108.2h0M1090.8 107.6h0M1086.6 105.5h0M1091.4 109.7h0M1085.3 105h0M1091.5 110.2h0M1082.2 105.1h0M1086.8 108.1h0M1083.1 106.4h0M1084.5 104.8h0M1093.1 110.1h0M1092.5 110.3h0M1084.9 104.4h0M1090.6 111.8h0M1088.4 109.5h0M1092.6 111.3h0M1093.9 111.3h0M1095.7 111.3h0"/><path fill="none" stroke="#489cd8" stroke-width="3.6" stroke-opacity="0.8" stroke-linecap="round" d="M1088.3 109.6h0M1094.9 112.6h0M1090.6 111.1h0M1093.7 111.4h0M1083.6 107.9h0M1084.5 107h0M1083.9 107.5h0M1088.5 109.3h0M1087 109.6h0M1094.1 111.6h0M1086.1 109.5h0M1085.2 106.5h0M1088 110.1h0M1080.6 105.5h0M1090.6 112.2h0M1092.5 112.9h0M1094.2 113h0M1089 108.4h0M1082.5 107.8h0M1089.4 112.9h0M1094.3 114.8h0M1091.1 110.8h0M1090.1 112.1h0M1088.4 109.5h0M1083.4 109.2h0M1085.5 109.7h0M1091.9 113.1h0M1090.3 112.6h0M1090.9 113.7h0M1083.3 109.9h0M1080.6 109.1h0M1089.8 112.9h0M1092.7 114.3h0M1092.8 115.2h0M1090 112.7h0M1085.4 110.2h0M1086.3 111.9h0M1090.6 112.7h0M1092.8 115.1h0M1088.5 112.6h0M1083.3 108.8h0M1094 114.9h0M1086.8 111h0"/><path fill="none" stroke="#549cd8" stroke-width="3.6" stroke-opacity="0.8" stroke-linecap="round" d="M1085.6 112.4h0M1082.8 109.5h0M1080.3 108.8h0M1087 112.5h0M1093.7 116.1h0M1092.5 115.2h0M1083.8 110.4h0M1079.3 109.1h0M1088.9 112.6h0M1080.7 110.6h0M1084.6 111.2h0M1080.2 110.4h0M1092.3 116h0M1089.7 115.9h0M1084.5 111.4h0M1081.7 109.5h0M1086.1 112.7h0M1087.5 112.2h0M1092.9 115.2h0M1092.4 115.6h0M1083.5 110h0M1089.8 115.2h0M1088.5 113.4h0M1085.6 112.9h0M1087 114.2h0M1087 113.9h0M1085.8 113h0M1086.1 113.1h0M1087 113.6h0M1085.7 113.4h0M1083.6 112.4h0M1084.4 112.4h0M1080.8 112.4h0M1082.3 111.3h0M1091.8 117.7h0M1081.1 111.4h0M1086.2 114.8h0M1092.1 118.2h0M1083.2 113.6h0M1093.4 117h0M1092.5 118.8h0M1089.4 116.1h0M1083.1 114.2h0M1083.8 113.7h0M1081.7 113.3h0M1087.1 114.6h0M1090.3 117h0M1080.8 110.6h0M1088.2 116.5h0M1089.9 118.1h0M1091.6 117.5h0M1086.9 116.6h0M1088.3 115.7h0M1085.2 115.4h0M1081 113.8h0M1090.5 117.9h0M1085.8 115h0M1081.9 115.6h0M1090.2 118.8h0M1092.8 118.4h0M1088.2 117.7h0M1080.1 114.5h0M1084.9 115.6h0M1082.9 114.6h0M1085.9 118h0M1077.7 114.3h0M1080.2 114.1h0M1084.8 115.9h0M1082 114.7h0M1081.5 116.2h0M1083.5 116.1h0M1085.6 117.7h0M1079.5 116h0M1090.4 118.9h0M1082 114.4h0M1082.5 116.4h0M1085.4 116.2h0M1088 117.9h0M1088.7 118h0M1083.5 117.4h0M1079.6 114.1h0M1087.6 118.6h0M1083 116.2h0M1087.9 117.9h0M1083 116.5h0M1086.4 118.4h0M1084.3 117.6h0M1092 121.6h0M1081.7 116.2h0M1089.1 119h0M1090.1 119.5h0M1092.2 119.5h0M1091 120.5h0M1090.6 118.9h0M1078.1 115.5h0M1090.1 121.1h0M1089.2 120.3h0M1085.6 119h0"/><path fill="none" stroke="#5490d8" stroke-width="3.6" stroke-opacity="0.8" stroke-linecap="round" d="M1081.7 117.5h0M1088.1 120.7h0M1079 117.9h0M1089 121h0M1080.9 117.8h0M1084.7 118.4h0M1090.7 120.8h0M1081.4 117.3h0M1087.8 120.4h0M1079 117.5h0M1089 122.6h0M1080.9 117.9h0M1084.1 117.7h0M1078.1 117.6h0M1082.9 119.6h0M1083.3 119.9h0M1088.7 121.4h0M1084.4 119.7h0M1085.2 118.8h0M1082.8 119.9h0M1079.4 118.8h0M1082.2 118.6h0M1089.4 122.2h0M1083.8 119.3h0M1078.3 119.1h0M1086.2 120.2h0M1083.6 119.4h0M1087.6 121.9h0M1081.8 118.9h0M1079.9 121.1h0M1078.7 119.8h0M1085.8 121.8h0M1080 118.3h0M1087.6 122.6h0M1078.5 118.6h0M1082.7 121h0M1078.6 120.3h0M1088 122.4h0M1077 119.9h0M1084.3 119.4h0M1081.5 120.2h0M1077.9 118.5h0M1085.3 121h0M1077.7 120.2h0M1080.2 120.2h0M1084.4 122.6h0M1086.2 123h0M1081.2 121h0M1085.3 121.6h0M1088.9 123.5h0M1085.5 122.8h0M1083.4 122.6h0M1088.1 122.8h0M1084.8 122.5h0M1075.9 119.3h0M1078.5 121.9h0M1087.8 123.5h0M1079.8 121.1h0M1087 123.9h0M1091.9 125.1h0M1085 122.5h0M1076.5 120.1h0M1087.2 124.5h0M1081.4 121.8h0M1088.1 125.7h0M1077.9 122h0M1081.3 124h0M1076.5 121.9h0M1085.5 124h0M1077.2 121.4h0M1089.8 125.4h0M1087.3 125h0M1080.3 121.8h0M1078.6 122h0M1084.8 124.2h0M1087.8 124.4h0M1085.6 125h0M1083.1 124.1h0M1080.4 122.2h0M1080.9 125.1h0M1085 124.1h0M1077.8 122.7h0M1087.4 124.8h0M1081.2 123.3h0M1086 123.8h0M1083 124.5h0M1084.7 125h0M1076 123.9h0M1078 123.3h0M1078.9 122h0M1078.1 123.2h0M1081.6 125.7h0M1082.9 123.5h0M1088.4 125.3h0M1089.8 126h0M1082.7 124.8h0M1077.3 123.4h0M1077.8 123.8h0M1080.2 125.9h0M1084.1 127h0M1082.7 126.8h0M1087.5 125.4h0M1088.1 126.9h0M1076.6 123.9h0M1078.3 124.7h0M1082.6 125.4h0M1086.1 127.3h0M1089.2 128.1h0M1089.2 126.9h0M1080.2 125.5h0M1088.7 127.3h0M1086.6 127.3h0M1089.8 128.7h0M1085.9 127.2h0M1088.4 126.9h0M1078.8 125.9h0M1088.4 128.7h0M1075.8 124.7h0M1088.8 127.1h0M1086.5 129.7h0M1087.1 127.2h0M1086.4 127.3h0M1083.2 126.4h0M1078.4 124.4h0M1085 128.1h0M1088.7 128h0M1079.9 126.2h0M1087.5 128.6h0M1076.2 126.2h0M1082.8 128.1h0M1074.8 126.2h0M1083 128.3h0M1084.8 128.5h0M1082.7 128.6h0M1083.8 128h0M1076 128.4h0M1081 127.9h0M1078.8 126.2h0M1088.5 130.3h0M1080.1 126.5h0M1084.4 127.2h0M1089.3 129.2h0M1074.6 127h0M1084.1 128.6h0M1084.9 128.4h0M1087.6 130.1h0M1084.1 130.3h0M1086 129h0M1085.9 128.9h0M1084.3 129.5h0M1088.5 129.1h0M1073.9 127.7h0M1078.2 128.3h0M1078.1 126.5h0M1075.7 128h0M1086 129.4h0M1085.3 129.4h0M1083.2 129.4h0M1089.5 129h0M1082.1 128.6h0M1075.9 128.2h0M1085.3 131.3h0M1082 129.6h0M1082.8 129.6h0M1085.5 130.3h0M1084.5 129.9h0M1074.2 129.2h0M1078.5 130.1h0M1083.3 130.1h0M1089.4 130.5h0M1084.9 130.7h0M1081 130.1h0M1087.7 131.3h0M1081 129.7h0M1080 129.6h0M1074.4 129.5h0M1085.4 131.6h0M1079.8 131.3h0M1087 132.2h0M1083.1 130h0M1088 133.4h0M1086.1 132.8h0M1087.7 132.9h0M1080.4 130.3h0M1074.4 130.6h0M1075.9 130.9h0M1087.1 132.1h0M1088.1 132.7h0M1087 130.4h0M1086.8 133.2h0M1078.7 131.5h0M1081.1 131.9h0M1079.6 131.5h0M1077.9 131.1h0M1079.5 130.9h0M1081.4 131.8h0M1085.3 132.6h0M1075.7 130.4h0M1085.8 134h0M1083.9 132.4h0M1076.5 131.9h0M1085.2 132.9h0M1080.3 132.3h0M1082 132.9h0M1077.4 131.3h0M1076.3 132.3h0M1075.4 131.8h0M1076.5 131.3h0M1081.1 132.2h0M1074.8 130.6h0M1086.6 134.2h0M1086.9 134.7h0M1078.1 133.1h0M1077.8 132.7h0M1075 131.5h0M1078.2 131.2h0M1077.6 133.1h0M1086.2 134.3h0M1088 133.9h0M1074.9 134.4h0M1074.3 133.7h0M1076 133.5h0M1075 133.9h0M1084.3 133.4h0M1086.8 134.5h0M1073.6 136.4h0M1076.9 134.4h0M1076.4 132.9h0M1075.8 134h0M1090.7 134.2h0M1075.5 134.6h0M1080.3 134.1h0M1083.2 134.6h0M1083.6 134h0M1076.9 132.9h0M1081.1 135h0M1082.4 134.2h0M1082.3 133.7h0M1082.7 136.9h0M1079.2 133.8h0M1080.1 135h0M1074 134.7h0M1084.6 136.4h0M1075.2 135.3h0M1077.6 135.7h0M1077.9 136h0M1075.1 134.9h0M1076 135.5h0M1073.4 134.2h0M1080 136.5h0M1083.5 135.9h0M1075.8 135.7h0M1086.7 136.7h0M1085.6 136h0M1080.5 136.5h0M1080.9 137.1h0M1080.2 135.7h0M1088.6 136.2h0M1082.6 136.9h0M1082.8 136.1h0M1082.2 136h0M1087 138.3h0M1079.3 137.4h0M1083.2 134.9h0M1081.8 138.4h0M1085 137.2h0M1077.9 137.5h0M1072.4 135.8h0M1081.8 137.8h0M1084.6 136.8h0M1073.9 136.5h0M1083.7 137.6h0M1079.7 136h0M1076.4 137.2h0M1082.6 139h0M1077 138h0M1074.8 137.4h0M1079.9 138.5h0M1078.2 137.1h0M1079.9 136.9h0"/><path fill="none" stroke="#5484d8" stroke-width="3.6" stroke-opacity="0.8" stroke-linecap="round" d="M1075.4 136.9h0M1082.4 136.7h0M1079.4 138.9h0M1081.1 138.1h0M1082.3 138.5h0M1077.2 138.4h0M1076.1 139.2h0M1086.2 138.6h0M1077.9 138.2h0M1076 138.1h0M1072.3 138.3h0M1083.4 138.6h0M1083.2 139.4h0M1073.1 138.8h0M1077.5 139h0M1082 139.4h0M1079.8 137.9h0M1087.9 139.4h0M1074.5 138.8h0M1080.6 138.8h0M1082.4 140.2h0M1085.1 139.9h0M1081 140.9h0M1076.3 139.5h0M1084.9 139.4h0M1087.5 138.7h0M1076.7 138.4h0M1081.6 138.7h0M1075.5 139.9h0M1085.5 140.9h0M1081.4 139.5h0M1078.5 140.4h0M1084.4 140.3h0M1082.4 140.1h0M1080.1 139.5h0M1078.3 141.8h0M1074.5 140.9h0M1086.4 140.1h0M1081.9 140.5h0M1074.4 140.2h0M1084 140.9h0M1080 140.3h0M1078.2 140.6h0M1088.6 139.2h0M1076.3 142h0M1074.6 141.5h0M1085.4 142.3h0M1081.7 140.3h0M1075.7 141.5h0"/><path fill="none" stroke="#6084d8" stroke-width="3.6" stroke-opacity="0.8" stroke-linecap="round" d="M1071.9 142.2h0M1085.4 140.8h0M1074 142.2h0M1083.2 140.7h0M1081.3 141.2h0M1074.5 142.9h0M1073.6 143.4h0M1074 142h0M1076.2 141.9h0M1086.5 142.6h0M1084.9 142.6h0M1083.4 140.2h0M1075.8 141.9h0M1087.8 142.3h0M1086.6 141.1h0M1077.7 143.6h0M1086.1 142.3h0M1080.8 143.4h0M1078.1 142.1h0M1080.9 143.6h0M1077.3 142.9h0M1081.5 143.3h0M1082.5 142.3h0M1074.9 143.4h0M1080.9 142.8h0M1078.2 142.2h0M1087.8 141.1h0M1081.8 143.5h0M1078.9 144.4h0M1085.3 143.3h0M1086.6 144h0M1083.9 144h0M1087.7 142.1h0M1078.4 143h0M1076 142.6h0M1078.2 145h0M1078.7 145h0M1082.6 143.6h0M1081.4 144.7h0M1079.6 144.4h0M1076.3 144h0M1078.1 146h0M1084.2 144.5h0M1089.2 143.6h0M1085.1 144.1h0M1082.8 145.9h0M1073.3 145.6h0M1080.5 144.9h0M1078.4 144.8h0M1072.1 146.5h0M1079.2 145.4h0M1086.9 145.2h0M1077.8 143.4h0M1078 145.6h0M1082.7 146h0M1081.4 144.7h0M1087.6 145.4h0M1081.8 146.6h0M1080.2 146.3h0M1080.2 146.2h0M1080.1 145.4h0M1079.1 145.2h0M1080.8 145.4h0M1082.8 145.6h0M1089.7 146.1h0M1088.6 146.2h0M1086.3 146.1h0M1085.1 145.8h0M1079.1 146.3h0M1084.3 145h0M1077.6 146.8h0M1082.5 145.7h0M1073.6 147.5h0M1079 147.3h0M1074 148h0M1087.9 146h0M1081.6 145.3h0M1072.9 148.8h0M1085.6 146.1h0M1078.2 147h0M1080.9 147.5h0M1081.7 147.2h0M1079.4 146.9h0M1083.1 148.5h0"/><path fill="none" stroke="#6084cc" stroke-width="3.6" stroke-opacity="0.8" stroke-linecap="round" d="M1078.9 149.7h0M1080.7 147.7h0M1081.3 147h0M1079.9 148.4h0M1076.3 147.6h0M1080.5 148.9h0M1082.5 147.3h0M1080.3 148.8h0M1084.3 149.4h0M1079.6 148.5h0M1087.8 146.1h0M1077.5 149.4h0M1083.5 148.1h0M1082.8 148.1h0M1085.8 147.2h0M1081.7 148.8h0M1085.4 149.2h0M1087 147.5h0M1075.1 149.1h0M1078.1 148.4h0M1088.3 147.9h0M1089.3 148.7h0M1088.2 146.9h0M1087.6 147.5h0M1077.1 150.1h0M1081.9 149.4h0M1083.6 148h0M1080.5 149.7h0M1079.2 149.7h0M1088.6 147.7h0M1084.2 150.2h0M1080.8 150.4h0M1090.5 147.4h0M1078.8 151.4h0M1078.7 149.6h0M1076.7 151.2h0M1075.8 150.8h0M1081.5 149.9h0M1083.9 150.5h0M1087.9 149.6h0M1075.9 152.5h0M1084.5 149.2h0M1089.2 149.2h0M1079.8 149.6h0M1083.4 151.9h0M1075.8 150.4h0M1082.8 150.9h0M1075.7 151.9h0M1084.3 149.6h0M1086.1 150.6h0M1079.1 150.9h0M1083.6 151.4h0M1074.9 151.4h0M1079.7 151.5h0M1087.1 148.3h0M1082.3 151.6h0M1086.8 150.8h0M1081.6 152.5h0M1082.5 150.8h0M1086.8 151h0M1085.7 152.2h0M1074.5 154.1h0M1075.1 152.4h0M1083 151.2h0M1075.1 154.5h0M1078.6 152.4h0M1077.8 152.5h0M1081.4 152.8h0M1075.9 154.3h0M1084.7 151.1h0M1084.5 152.2h0M1077.4 153.5h0M1081.3 153.4h0M1081.3 154h0M1084.1 154.2h0M1075.4 154.5h0M1084.4 152.5h0M1079 155.2h0M1075.6 155.6h0M1086.9 151h0M1083.6 153.1h0M1083 151.2h0M1084.6 152.9h0M1089 151.8h0M1077.4 155.8h0M1077.9 153.7h0M1079.2 153.8h0M1084.7 151.5h0M1089.6 153h0M1087.8 151.2h0M1076.4 154.9h0M1081 155.9h0M1078.4 155.4h0M1084.6 151.9h0M1078.3 155h0M1078.5 155h0M1084.8 155h0M1082.9 155.9h0M1085.4 154h0M1078.5 156.6h0M1086.9 153.1h0M1079.7 157h0M1087.5 152.4h0M1088.8 152.2h0M1084.4 153.6h0M1085.9 154h0M1086.8 153.4h0M1086.1 154.5h0M1075.6 156.8h0M1074.8 156.7h0M1088.9 153.6h0M1082.2 154.2h0M1077.3 156.9h0M1084.1 155.6h0M1079.4 156.3h0M1076.7 156.4h0M1080.2 154.3h0M1079.8 156.8h0M1079.5 156.9h0M1083.2 157.9h0M1087.2 154.2h0M1084.1 156.3h0M1083.1 156.3h0M1088.7 154.6h0M1076 156.5h0M1089.5 153.9h0M1090.5 154.6h0M1083.5 156.6h0M1089.7 154.5h0M1076.7 159.5h0M1081.1 157.6h0M1082.1 155.6h0M1088 155.3h0M1085.8 155.9h0M1085.2 156.9h0M1083.9 158.1h0M1086.5 157.1h0M1078 157.6h0M1089.6 155.5h0M1087.5 156.1h0M1088.2 155.7h0M1090.9 154.9h0M1078.9 158.7h0M1078.9 157.6h0M1081.8 158.7h0M1090.9 155.7h0M1083.9 159h0M1078.2 160.5h0M1082.4 158.1h0M1076.5 158h0M1085.6 155.6h0M1077.8 159.5h0M1078.5 157.8h0M1082.4 158.6h0M1085.9 158.2h0M1089.8 156.7h0M1089.8 158.3h0M1083.3 158.5h0M1088.4 157.1h0M1083.3 158.9h0M1079.9 159.4h0M1081.6 159.9h0M1075.9 162.2h0M1082.6 159.7h0M1081.4 159.9h0M1087.7 158h0M1084 158.5h0M1082.4 159.2h0M1087.2 157.7h0M1088.9 158.3h0M1083.4 158.6h0M1077.9 161.3h0M1079.6 161.7h0M1079 159.9h0M1088.4 157h0M1083.2 160.4h0M1086 158.9h0M1083.6 160.8h0M1081.3 160.1h0M1076.5 162.3h0M1088.6 158h0M1088.1 158.7h0M1085.9 160.4h0M1084.2 162.1h0M1088.8 158.8h0M1083.5 160.3h0M1089.7 158.2h0M1080.2 160.7h0M1085.3 160h0M1090.1 160.6h0M1090.9 158.2h0M1085.8 161.5h0M1080.5 161.3h0M1089.3 159.3h0M1076.9 164.3h0M1085.6 161.3h0M1078.5 162.9h0M1084.7 160.5h0M1087.8 159.1h0M1080.3 163h0M1087.9 160.9h0M1082.8 162h0M1083.1 162.9h0M1088.2 159.1h0M1088 161h0M1076.8 165.3h0M1089.9 159.7h0M1079.7 163.6h0M1088 160.6h0M1090.2 159.5h0M1081.6 162.5h0M1085.9 162.7h0M1087.3 161.2h0M1090 160.5h0M1080.6 164h0M1085.9 161h0M1084.4 161.9h0"/><path fill="none" stroke="#6078cc" stroke-width="3.6" stroke-opacity="0.8" stroke-linecap="round" d="M1081.3 164.4h0M1083.2 162h0M1084.7 161.6h0M1087.1 161.7h0M1092.7 160.6h0M1078.5 165.9h0M1090 160.8h0M1078.1 166.1h0M1089.7 161.6h0M1082 164.3h0M1091 162.2h0M1087.9 163.4h0M1081.1 164.2h0M1079.7 165.6h0M1086 163.1h0M1083.9 165.3h0M1082.3 163.3h0M1079.2 167.3h0M1090.8 162.3h0M1080.2 165.7h0M1093.1 160.1h0M1080.7 165.4h0M1089.8 163.7h0M1079.8 165.3h0M1094.9 161.3h0M1078.4 166h0M1081.1 165.7h0M1086.3 163.3h0M1093.1 162.8h0M1081 167h0M1084 165.5h0M1091.6 161h0M1090 162.7h0M1089.6 162.6h0M1093.6 163.7h0M1080.1 166.2h0M1085.6 164.5h0M1085.2 165.2h0M1083.7 165.2h0M1088.1 162.9h0M1092.6 163.6h0M1078.6 166.4h0M1088 164.5h0M1090 164.9h0M1090.3 164h0M1082.9 167.9h0M1084.8 166h0M1089.2 163.6h0M1080.5 167.1h0M1078.9 168.3h0M1085.6 165.1h0M1081.8 167.2h0M1081.6 169.2h0M1086.7 165.9h0M1083.4 167.6h0M1081.5 167.6h0M1091.9 165.3h0M1087.8 164.8h0M1089.9 164.4h0M1080 168.6h0M1093.7 163h0M1083.6 166.7h0M1091.2 164.2h0M1093.2 164.2h0M1089 166.1h0M1093.4 165.4h0M1080.9 170.1h0M1081.2 167.8h0M1082.4 167.8h0M1090 164.8h0M1081.5 171.5h0M1093.1 165h0M1082.6 168.5h0M1093.7 164.9h0M1088.9 166.5h0M1088.6 165.5h0M1082.1 169h0M1091 167.1h0M1092.6 165.3h0M1094.4 163.5h0M1084.6 169.8h0M1084.3 169.6h0M1081.8 169.3h0M1086.7 168h0M1093 166.2h0M1088.4 166.9h0M1085.1 170h0M1086.5 169.3h0M1090.1 166.6h0M1086 170.9h0M1081.4 171h0M1086.8 167.3h0M1087 168.1h0M1092.7 166.3h0M1086.1 169.4h0M1094.8 166.3h0M1091 167.8h0M1084.9 170.8h0M1090.3 168.4h0M1083.3 170.5h0M1081.6 173h0M1093.1 167h0M1080.7 172.9h0M1085.7 170.6h0M1094.1 167.2h0M1081.6 172.3h0M1093 166h0M1095.2 169.2h0M1092.9 165.9h0M1092.9 167.2h0M1087.4 168.7h0M1093.9 167.9h0M1091.3 167.7h0M1087 169.9h0M1082 171.7h0M1088.7 169.7h0M1086.2 170.5h0M1092.3 167.9h0M1081.6 171.6h0M1087.4 171h0M1090.6 171.2h0M1084.9 171.1h0M1086.1 171h0M1093.6 168.4h0M1079.3 173.7h0M1083 174.3h0M1081.5 174.4h0M1084 172.1h0M1092.8 168.1h0M1089.5 170.4h0M1082.7 173.9h0M1087.4 171h0M1082.7 173h0M1086.3 172.7h0M1095.8 167h0M1089.8 170.2h0M1094.9 169.2h0M1087.9 171.8h0M1087.2 172.1h0M1084.4 172.5h0M1090.5 170.6h0M1088.1 172.9h0M1093.7 168.8h0M1086.3 173.1h0M1095 169.8h0M1093.8 169.2h0M1089.8 170.8h0M1092.5 171.2h0M1081 175.4h0M1094.8 170.5h0M1090.6 171.4h0M1091 172.5h0M1090.3 172.2h0M1090.1 172.4h0M1088.9 172.8h0M1080 176.5h0M1087.2 173.7h0M1081.1 177h0M1086.4 176.1h0M1082.4 173.9h0M1090.1 171.5h0M1088.6 173.1h0M1084.8 175.7h0M1088.6 173.9h0M1087.5 175.4h0M1087.1 173.7h0M1090.6 172.8h0M1086.7 174.5h0M1087.8 175.1h0M1093.4 174.3h0M1093.6 170.5h0M1095.8 172.1h0M1083.5 176.3h0M1093.8 170.9h0M1086.6 175.9h0M1085.7 176.4h0M1089.3 174.4h0M1097.7 169.9h0M1093.5 172.7h0M1091.8 174.6h0M1086.7 175.1h0M1096.8 170.1h0M1095.8 171.6h0M1083.6 178.2h0M1085.8 175.3h0M1090.4 174.7h0M1092.7 173.2h0M1085.2 177.3h0M1091.1 174.2h0M1092.1 174.8h0M1090.2 174.6h0M1087.9 174.4h0M1091.6 174.3h0M1085 179.4h0M1095.4 172.2h0M1093.6 175.2h0M1085 178.4h0M1094.6 172.6h0M1084.3 177.5h0M1097 172.3h0M1095.9 171.2h0M1085 178.9h0M1094.2 174.3h0M1090.3 176.2h0M1096.8 172.1h0M1087 177.9h0M1095 174.5h0M1088.5 176.4h0M1089.1 177.8h0M1093.6 173.8h0M1091.7 176h0M1084.9 179.9h0M1096.7 174.3h0M1096.3 172.9h0M1090.5 176.6h0M1089.1 178.3h0M1089.7 177.3h0M1093.9 176.7h0M1089.3 178.4h0M1091 176.1h0M1087.8 179.4h0M1093.7 176.6h0M1083.2 179.6h0M1086.6 180.5h0M1096.7 174.2h0M1090.6 178.4h0M1093 176.9h0M1086.1 179.7h0M1088.8 177.5h0M1098.8 174.8h0M1090 178.9h0M1096.6 175.7h0M1097.8 174.1h0M1092.9 176.9h0M1098.7 173.9h0M1092.9 177h0M1094.1 177.1h0M1087.9 181.9h0M1086 180.6h0M1085 181.4h0M1095.8 175.6h0M1092.3 179.7h0M1087.5 180.4h0M1096.2 176.1h0M1094.3 175.5h0M1093.3 176.4h0M1093.7 178.1h0M1094.7 176.8h0M1097.7 177.2h0M1084.2 181.8h0M1090.4 179.5h0M1095 177.7h0M1086.5 182.3h0M1087.9 182.3h0M1091.5 177.9h0M1087.2 181.9h0M1097.4 175.4h0M1093.5 179.2h0M1097.9 175.1h0M1086.1 184h0M1098.8 177h0M1093.1 181h0M1087.4 183.5h0M1090.5 180.7h0M1091.8 179.5h0M1100.1 175.7h0M1097.3 177.2h0M1091.8 180.2h0M1088.4 182h0M1095.5 179.1h0M1097.7 178h0M1094.9 179.2h0M1093.4 179.5h0M1097.7 177.8h0M1088.5 182.8h0M1091.3 183.4h0M1087.7 185.4h0M1097.2 178.4h0M1095.2 179.2h0M1092.7 180.4h0M1091.4 181.7h0M1086.2 184.5h0M1087.6 184.3h0M1094.3 181.1h0M1094.4 180.3h0M1095.7 178.3h0M1099.5 178.1h0M1093 182.9h0M1096.9 178.2h0M1092.6 182.1h0M1087.2 184.6h0M1087 185.4h0M1087.8 185.5h0M1093.8 180.9h0M1090.5 183.8h0M1098.5 179.8h0M1094.2 180.5h0M1097.9 178.7h0M1095.2 179.6h0M1101.3 178.4h0M1096.5 178.8h0"/><path fill="none" stroke="#6c78c0" stroke-width="3.6" stroke-opacity="0.8" stroke-linecap="round" d="M1093.6 182.3h0M1096.6 180.3h0M1091.4 181.4h0M1096 182.2h0M1093.7 180.5h0M1098.1 177.8h0M1097.4 179.9h0M1097.4 180.6h0M1098 179.9h0M1099.7 180.1h0M1091.8 184.2h0M1093.2 181.1h0M1092.5 183.5h0M1094.8 180.9h0M1096.8 181.5h0M1096.7 180.9h0M1090.4 185.2h0M1093.9 181h0M1088.8 187.9h0M1097.9 180.8h0M1094.7 182.7h0M1095.5 184.5h0M1096 182.6h0M1097.9 182.3h0M1096.9 181.7h0M1096.1 183.4h0M1100.9 179.6h0M1098 181.7h0M1095 183.9h0M1096.2 184.2h0M1093.9 185.1h0M1094.1 185.6h0M1097.5 182.7h0M1089.9 188.2h0M1092.1 186.4h0M1088.7 187.7h0M1096.9 182.4h0M1097.5 184.6h0M1095 184.8h0M1100.2 181.2h0M1099.8 181.3h0M1099 179.9h0M1097.1 184.8h0M1099.8 181.7h0M1100.6 181.1h0M1097.4 181.6h0M1092.1 187.1h0M1089.6 188.7h0M1101.6 180.2h0M1095.4 185.5h0M1094.2 185.6h0M1099.5 182.6h0M1093.4 185.7h0M1093.3 186.1h0M1092 187h0M1094.7 186.3h0"/><path fill="none" stroke="#6c6cc0" stroke-width="3.6" stroke-opacity="0.8" stroke-linecap="round" d="M1090.7 189.3h0M1090.1 189.5h0M1095.3 185.4h0M1094.1 188.3h0M1094.5 186.4h0M1098.7 183.2h0M1102.3 183.4h0M1103.2 181h0M1098.3 185.2h0M1089.8 189.8h0M1098.9 182.3h0M1098.4 183.3h0M1101.3 182h0M1100.5 180.9h0M1094 188h0M1100 184.2h0M1093.2 189.9h0M1101.5 183.7h0M1099.2 185h0M1092.5 190.2h0M1092.9 188.1h0M1094.9 188.4h0M1098.9 185.2h0M1103 183.3h0M1098.9 185.2h0M1100 183.1h0M1097.6 187.3h0M1098.6 186.1h0M1102.7 183.6h0M1101.5 184.7h0M1097 187.9h0M1093.9 190.8h0M1104.9 182.8h0M1099.6 185.8h0M1102.5 183.6h0M1101.1 184h0M1102.1 184.4h0M1099.3 185.6h0M1097.8 187.2h0M1099.9 187h0M1098.7 187.1h0M1102 184.4h0M1099.4 185.8h0M1093 190.9h0M1103.8 184.9h0M1095.4 191.3h0M1097.4 189.8h0M1104.9 184.3h0M1095.4 189.8h0M1104.7 183.4h0M1099 186.4h0M1102.4 186.2h0M1098.6 189h0M1102.1 186h0M1096.1 188.6h0M1095.6 190.8h0M1094.7 192.1h0M1102.6 185.8h0M1092.3 193.3h0M1094 192.9h0M1094.5 192.7h0M1096.4 190.3h0M1092 192.4h0M1105.9 185.5h0M1099.7 188.7h0M1095.1 192.3h0M1097.3 193.1h0M1102.8 185.5h0M1103.2 184.1h0M1095.2 192.9h0M1101.3 187.2h0M1099.3 189.3h0M1104.6 185.8h0M1095.2 190.3h0M1099.3 188.8h0M1096.8 191.8h0M1094.1 192.9h0M1100.6 188.4h0M1101.5 186.3h0M1095.7 194.5h0M1105.7 183.8h0M1094.4 194.2h0M1098 191.2h0M1096.4 192.7h0M1096.6 191.1h0M1095.6 195.8h0M1102.6 188.1h0M1100.1 189.6h0M1100.8 190.9h0M1100.3 191.8h0M1103.2 188.1h0M1095.9 195h0M1103 189h0M1102.4 189h0M1104.4 188.3h0M1103.6 187.3h0M1097.9 193.6h0M1102.2 189.3h0M1099.6 192h0M1101.7 189.2h0M1097.5 193.9h0M1097.6 193.3h0M1103.8 188.8h0M1095.9 195.1h0M1097.9 193.1h0M1106.2 187.4h0M1103.4 189.9h0M1103.2 188.8h0M1106.4 186.2h0M1100.1 191.6h0M1098.8 193.2h0M1097 193.2h0M1099.6 194.9h0M1104.6 188.2h0M1097.7 194.8h0M1105.4 187.3h0M1102.7 189.7h0M1101.9 191.7h0M1101.7 190.9h0M1103.3 189h0M1096.4 195.8h0M1100.4 192.6h0M1100.5 193.3h0M1103.8 190.5h0M1106 187.6h0M1095.6 196.1h0M1096.4 197.6h0M1105.1 189.4h0M1106.3 186.7h0M1101.9 191.9h0M1095.8 199h0M1106.3 191.1h0M1105.6 189h0M1103.8 192.4h0M1096.6 197h0M1106 187.9h0M1099 194.8h0M1103.9 192.2h0M1104.5 190.8h0M1099.1 196.2h0M1097.3 197.5h0M1099 198.5h0M1099.6 196.8h0M1102.9 191.3h0M1101.7 196.1h0M1100.5 193.5h0M1098.6 198h0M1106 190h0M1099.9 197.1h0M1101.5 196.7h0M1101.2 196.6h0M1106.3 189.7h0M1104.3 191.9h0M1098.6 198.3h0M1098.6 199.5h0M1105.4 190.6h0M1102 194.5h0M1102.4 194.2h0M1108.7 188.4h0M1100.4 197.4h0M1097.6 198.2h0M1101.7 197.3h0M1099.6 198.9h0M1096.8 198.9h0M1109.8 188.4h0M1105.6 192.9h0M1104.3 193h0M1101.2 196.8h0M1104.6 195.3h0M1108.1 192.7h0M1101.7 195.5h0M1100.6 198h0M1103.8 194.5h0M1103.7 193.9h0M1105.1 192.3h0M1106.6 194.9h0M1103.3 196.1h0M1109.2 189.7h0M1109.7 190.4h0M1099.3 197.6h0M1103.3 196.7h0M1101.4 197.3h0M1100.9 197.7h0M1101.2 199.6h0M1108 193.6h0M1107.6 192.3h0M1106 196.3h0M1107.5 192.1h0M1101.7 199.7h0M1109.5 192.3h0M1108.8 191.4h0M1107.1 193.7h0M1104.4 195.2h0M1100.9 199.1h0M1109.9 191.4h0M1104.1 196.6h0M1105.9 195h0M1108.7 193h0M1103.6 197.5h0M1104.7 195.9h0M1104.8 197.6h0M1100.2 199.6h0M1106.5 193.7h0M1109.3 194.3h0M1108.9 191.1h0M1106.5 195.2h0M1101 200h0M1106.9 194.9h0M1108.5 192.9h0M1111.1 190.5h0M1101 200.4h0M1100 200.8h0M1104.7 198.7h0M1107.7 195.7h0M1108.7 191.8h0M1100.6 201.3h0M1105.1 197.4h0M1102.3 199.9h0M1104.9 197.8h0M1102.2 202.1h0M1111 191.1h0M1106.9 198.1h0M1102.9 203.3h0M1104.5 201.2h0M1107.5 199h0M1102.2 202.8h0M1105.2 198.1h0M1103.8 200.7h0M1106.4 196.5h0M1109.1 193.4h0M1110.5 193.9h0M1110.1 193.4h0M1110.5 193.8h0M1110 195.1h0M1107.8 197h0M1107.1 195.4h0M1107 198.1h0M1105.8 199.2h0M1109.8 198.8h0M1109.3 196.3h0M1107 198.9h0M1114 191.7h0M1105.7 200.7h0M1107.4 199.1h0M1112.3 192.6h0M1107.4 197.9h0M1104.5 201.4h0M1105.7 199.9h0M1106.7 200.6h0M1103.4 203.5h0M1106.7 200.6h0M1103.6 203.9h0M1111.7 193.9h0M1105.9 203.7h0M1107.8 198.3h0M1106.6 199.3h0M1108 199.1h0M1106.4 200.7h0M1111.9 195.2h0M1108 199.5h0M1113 194.4h0M1113.3 196.8h0M1112.6 195.5h0M1111.3 195.6h0M1106.9 200.5h0M1110.6 196.8h0M1107 202.1h0M1110.2 198.1h0M1104.3 205.3h0M1112.3 195.6h0M1112.9 194.3h0M1106 204.5h0M1110.3 197.4h0M1105.8 202.1h0M1105.9 203.8h0M1112.1 195.5h0M1104.7 204.9h0M1115 194.5h0M1110.9 198.7h0M1113.1 195.5h0M1108.2 204.7h0M1108.6 202.8h0M1113.1 197.9h0M1105.4 205.2h0M1113 197h0M1112.9 194.8h0M1112.9 196.8h0M1106.5 203.2h0M1112 198.4h0M1112.2 199.5h0M1109.1 202.8h0M1112.9 197.6h0M1109.8 198.1h0M1107.3 205.2h0M1110.9 200.9h0M1107.6 204h0M1114.3 197.5h0M1109.5 203h0M1109.2 202.4h0M1113.6 198h0M1109.3 202.3h0M1111.7 201.9h0M1115.4 195.7h0M1112 200h0M1111.2 200.5h0M1109.3 205h0M1112.7 198.9h0M1114.3 198.3h0M1107.4 205.4h0M1107.4 205.5h0M1116 196.4h0M1113.5 198.8h0M1109.7 202.7h0M1111.1 203.8h0M1117.3 194.9h0M1113.4 198.6h0M1114.8 196.2h0M1108 207.7h0M1116.3 196.7h0M1109.6 204.3h0M1112 202.1h0M1107.8 209.4h0M1111.6 201.9h0M1113.1 200.4h0M1108.3 207.9h0M1112.7 200.3h0M1113.8 201.4h0M1112 202.8h0M1112.7 201.9h0M1112.4 202.3h0M1108.8 207.1h0M1109.6 207.7h0M1115.8 197h0M1110.3 207.6h0M1108.1 208.7h0M1113.9 200.2h0M1114.5 200.7h0M1117.2 195.3h0M1108.7 208.6h0M1112.1 204.3h0M1112.5 201.5h0M1111.1 204.4h0M1111.3 204.8h0M1110.4 207.1h0M1112.4 207.4h0M1112.6 202.9h0M1108.5 209h0M1112.3 205.4h0M1115.5 201.2h0M1110.3 208.5h0M1113.1 203.9h0M1113.8 203h0M1116 202h0M1116.8 198.4h0M1110 208.3h0M1112.4 204.7h0M1114.5 202.3h0"/><path fill="none" stroke="#6c60c0" stroke-width="3.6" stroke-opacity="0.8" stroke-linecap="round" d="M1109.5 210.3h0M1112.2 206.1h0M1110.9 209h0M1112.1 206.3h0M1113.1 205h0M1115.4 200.4h0M1110.2 209.5h0M1111.9 208.4h0M1112.4 208h0M1111 208.6h0M1112 209.8h0M1113.1 205.4h0M1118.8 197.6h0M1113 207.5h0M1113.6 208.5h0M1115.8 201.2h0M1114.6 206h0M1117.8 200.9h0M1118.4 198h0M1118.5 199h0M1117.6 202.3h0M1116.3 202.4h0M1112.6 210.5h0M1110.8 209.2h0M1116.7 202.6h0M1117.7 200.9h0M1117.3 199.4h0M1111.5 211.4h0M1114.9 206.8h0M1111.8 210.2h0M1116.3 205.6h0M1117.2 200.6h0M1113.7 207.7h0M1112.6 212.2h0M1114.7 207.1h0M1114.1 210h0M1114.2 209.2h0M1120 199h0M1118.8 198.8h0M1112.2 213.5h0M1114.9 207.9h0M1111.5 210.8h0"/><path fill="none" stroke="#6c60b4" stroke-width="3.6" stroke-opacity="0.8" stroke-linecap="round" d="M1115.5 207.4h0M1114.5 210.2h0M1119 201.3h0M1119.6 201h0M1117.8 202.3h0M1115 205.2h0M1113.8 210.6h0M1114.4 208.5h0M1119.4 201.9h0M1114.9 209.1h0M1117.4 202.1h0M1113.3 211h0M1116.1 207.2h0M1119 201.8h0M1114.3 211.9h0M1117.2 208.7h0M1116.3 212.1h0M1114.1 212.1h0M1121.4 199.6h0M1114.2 211.6h0M1118.3 205.3h0M1118 206.5h0M1119 205.8h0M1119.2 203.7h0M1119 204.2h0M1113.6 211.8h0M1117.9 206.6h0M1120.3 202.6h0M1117.8 204.3h0M1119.8 204.9h0M1115.4 210.8h0M1115.4 212.7h0M1117.5 205.5h0M1114.7 213.6h0M1115.7 209.6h0M1117.7 207.7h0M1122.2 199.7h0M1119.1 208.2h0M1118.6 206.6h0M1116.2 209h0M1118.4 206.5h0M1116 212.5h0M1122.4 202.2h0M1120 204.2h0M1122 201.3h0M1116.7 210.7h0M1122.8 201.4h0M1118.3 206.8h0M1122 202.8h0M1117.4 210.6h0M1121 203.5h0M1120.2 205.7h0M1116.2 212.4h0M1121.2 205.1h0M1122.6 202.8h0M1119.5 207.5h0M1118.3 210.5h0M1121.9 205.2h0M1116.1 211.5h0M1120.9 207.9h0M1120 205.8h0M1122.3 201.8h0M1120.6 207.8h0M1122.7 201.8h0M1124.4 201.6h0M1124.2 201.7h0M1117.7 214.4h0M1119.2 209.2h0M1123.5 203.8h0M1119.5 210.4h0M1119.1 212.3h0M1124.7 200.7h0M1124.8 200.6h0M1122.9 205.5h0M1122.6 204.7h0M1118.4 212h0M1117.7 210.2h0M1124.1 203.3h0M1121.9 205.2h0M1122.6 205.2h0M1118.8 211h0M1124.4 204.6h0M1120.4 207.9h0M1119.1 211.3h0M1125.1 203.7h0M1119.8 213.3h0M1118.8 212.5h0M1121.2 208h0M1120.1 211h0M1120.2 210h0M1121.5 208.5h0M1119.8 216h0M1122.5 208.5h0M1119 214.6h0M1121.6 207.5h0M1119 214.2h0M1122.3 209.1h0M1124.5 205.4h0M1121.9 212.7h0M1121.1 212.5h0M1121 215h0M1120.3 212.3h0M1122.8 208.8h0M1123.7 204.6h0M1120.2 211h0M1126.5 204.2h0M1127.4 203h0M1121.5 212.6h0M1119.2 216.4h0M1120.9 215.8h0M1125.6 204.9h0M1123.1 210.1h0M1120.5 215.4h0M1126.5 205.5h0M1122.9 207.8h0M1125.8 204.6h0M1126.6 202.4h0M1121.9 212.9h0M1125.5 204.7h0M1124.8 207.1h0M1124.4 210.7h0M1124.6 206.6h0M1125 210.1h0M1127.2 202.3h0M1126.5 203.6h0M1120.2 212.1h0M1124.5 211.3h0M1127.7 203.9h0M1123.1 208.3h0M1126.4 206.7h0M1126.9 204.4h0M1125.9 205.8h0M1124.3 209.2h0M1127 206.3h0M1125.3 208h0M1123.4 213.7h0M1123.9 212.6h0M1127.1 204.7h0M1119.9 215.6h0M1122.5 213.1h0M1123.3 215.7h0M1124.6 212h0M1125.6 208.9h0M1126.9 207.9h0M1124 209h0M1128.5 203.4h0M1124.9 209.5h0M1128 210.6h0M1125.7 210.8h0M1130.6 205.2h0M1124.2 213h0M1125 212.5h0M1122.4 215.1h0M1126.5 207.4h0M1128.6 206.7h0M1124.4 216.2h0M1127 207.8h0M1122.9 215.3h0M1125.6 210h0M1127.3 210.8h0M1126.8 209.7h0M1127.5 208.4h0M1126.3 210.9h0M1126.5 213.1h0M1125.1 214.8h0M1126.5 212.7h0M1128.2 206h0M1128.7 205.1h0M1125.8 212.4h0M1129 205.4h0M1125.6 212.4h0M1127.9 210h0M1127.2 211.3h0M1124.2 215.8h0M1126.4 211.6h0M1130.6 204.5h0M1129.6 204.7h0M1129.1 211.1h0M1125.2 215.5h0M1125.7 214.5h0M1125.4 215.4h0M1128.3 210.6h0M1131.6 206.2h0M1125.5 215.3h0M1125.6 215.1h0M1126.9 211.6h0M1128.2 210.3h0M1130.4 206.6h0M1128.8 210.5h0M1127.5 213.7h0M1131.4 206.9h0M1131.2 207.2h0M1125.9 215.7h0M1125.2 217.5h0M1127.6 215.5h0M1129.2 210.1h0M1130 212.9h0M1126.8 213.4h0M1130.9 205.8h0M1128.6 211.1h0M1130.4 206.7h0M1127.8 215.7h0M1126 218.3h0M1130.5 210h0M1130.5 209.7h0M1127 214.4h0M1131 208.2h0M1130.4 206.5h0M1128.3 212.5h0M1126.5 214.7h0M1130.9 212.3h0M1127 218.2h0M1126.8 218.7h0M1130.2 209.9h0M1131.1 207.5h0M1130.6 208.7h0M1129.5 215.7h0M1130 215.8h0M1128.9 210.2h0M1130.1 210h0M1128.5 215.7h0M1130.3 210.2h0M1134 207.7h0M1132.8 206h0M1131.2 210.3h0M1129.6 217.7h0M1131.2 211.4h0M1127.2 219.9h0M1130.1 215.4h0M1129.2 216h0M1129.6 213.2h0M1131.7 212.7h0M1129.7 214.3h0M1132.7 210.9h0M1132.6 210.8h0M1130.5 210.8h0M1127.5 219.8h0M1127.7 217.9h0M1133.5 210.3h0M1131.4 217.1h0M1130.9 213.3h0M1129.1 219.8h0M1127.9 220.2h0M1130.6 218.2h0M1128.8 219.5h0M1131.9 213.9h0M1133.3 208h0M1132.4 211h0M1131.2 215h0M1130.3 217.9h0M1134.3 208.5h0M1135.5 207.6h0M1132.4 214.7h0M1131.9 213.9h0M1132.3 214.3h0M1129.5 218.9h0M1134.5 208.2h0M1128.8 218.7h0M1133.9 211.2h0M1131.7 215.2h0M1130.2 220h0M1131.8 216.9h0M1129.1 219.2h0M1131.3 216.2h0M1131.6 220.1h0M1136 209.1h0M1135.9 207.2h0M1131.7 218.6h0M1131.5 221h0M1131.6 217h0M1130.6 220h0M1131 219h0M1134.3 209.1h0M1132.3 220.1h0M1130.6 218.3h0M1131.8 217.6h0M1136.3 208.4h0M1134.6 213.8h0M1132 219.5h0M1132.7 219.3h0M1131.2 218.1h0M1132.7 218.3h0M1136.2 209.9h0M1135.3 213.4h0M1136.4 208.1h0M1137 208.6h0M1135.6 210h0M1132.9 220.1h0M1136.3 210.9h0M1133.7 217.8h0M1137.1 208.5h0M1132.1 222.3h0M1134.1 218.7h0M1135.9 213.5h0M1135.2 213.3h0M1132.6 218.3h0M1137 213.5h0M1137 210.6h0M1135.2 215.6h0M1137.6 209.4h0M1135.1 216h0M1134.9 218.2h0M1135.4 214.4h0M1137 214.6h0M1134.3 218.5h0M1137.8 211.4h0M1134.2 218.7h0M1132.6 220.6h0M1134 220.5h0M1134.1 219.5h0M1135.1 217.8h0M1136.2 215.8h0M1133.6 220.8h0M1133.8 221.8h0M1137.3 214.7h0M1137.7 211.9h0M1135.2 216.4h0M1135.2 221.2h0M1133.7 222.5h0M1135.5 220.2h0M1140.2 208h0M1137.2 211.7h0M1135.5 220.9h0M1138.4 213.6h0M1138.5 210.2h0M1137.6 216h0M1136.1 216.6h0M1133.9 218.7h0M1136.5 215.9h0M1136.2 217.8h0M1140.7 214.1h0M1139.5 210.3h0M1137.3 214.1h0M1135.4 217.4h0M1134.1 222h0M1134.8 222.2h0M1135.4 222.2h0M1134.2 222.4h0M1138.3 212h0M1139.4 212.8h0M1140.5 213.5h0M1138.8 211.8h0M1137.6 217.1h0"/><path fill="none" stroke="#7860b4" stroke-width="3.6" stroke-opacity="0.8" stroke-linecap="round" d="M1135.8 218h0M1140.3 211.4h0M1136.1 221h0M1138.2 219.5h0M1138.2 214.4h0M1136.7 219.3h0M1139.7 212.4h0M1139.6 210.4h0M1137.8 222h0M1136.8 220.7h0M1138.9 216.5h0M1140.4 211.1h0M1140 213h0M1137.1 222.9h0M1137.6 220.3h0M1136.7 222.3h0M1140.1 218.5h0M1140.7 214.2h0M1138 221.2h0M1136.8 222h0M1136.5 222.5h0M1138.8 218.1h0M1140.5 212.5h0M1137.8 220.6h0M1140 213.7h0M1140.7 212.6h0M1140.3 214.6h0M1139.3 216h0M1139.8 221.7h0M1142 215.5h0M1139.4 218.3h0M1142.7 211.7h0M1141.2 213h0M1140.8 215.9h0M1138 221.9h0"/><path fill="none" stroke="#7854b4" stroke-width="3.6" stroke-opacity="0.8" stroke-linecap="round" d="M1141.6 219.6h0M1138.9 223.2h0M1141.7 219.3h0M1140.1 219.6h0M1142.6 211.4h0M1139.7 217.4h0M1139.7 218.9h0M1142.4 217h0M1142.6 213.2h0M1142.1 220.1h0M1140.3 218.1h0M1140.1 221.7h0M1142.6 213.5h0M1138.8 222.1h0M1140 221.4h0M1140.7 222.4h0M1144.1 211.2h0M1144.7 211.1h0M1139.6 221.9h0M1141 220.2h0M1143 212.8h0M1141.2 217.2h0M1142.9 215.2h0M1144.4 212h0M1143.6 215.7h0M1145 213.3h0M1141.5 222.3h0M1142.6 217.4h0M1146.4 210.5h0M1144 212.3h0M1146.5 211h0M1141.1 222.1h0M1145.1 213.5h0M1145.6 213.1h0M1142.6 219.1h0M1143.6 216.6h0M1141.4 225.5h0M1145.9 212.3h0M1143 219.5h0M1142.6 220.3h0M1144.6 216.6h0M1142.5 221h0M1146.3 212h0M1145.1 213.9h0M1140.4 225h0M1146.2 212.1h0M1145.2 212.7h0M1141.6 224.2h0M1144.6 217.7h0M1144.1 219.5h0M1142.2 223.9h0M1144.2 218.4h0M1146.5 213.4h0M1146.4 212.6h0M1144 221h0M1144 217.8h0M1145.5 216.1h0M1145 218h0M1143.8 220.4h0M1146 217.5h0M1144.6 219.2h0M1146.4 216.2h0M1144.6 222.5h0M1144.3 219.5h0M1143.9 222.8h0M1147.2 215.9h0M1143.3 223.8h0M1145.5 220h0M1148.5 212.7h0M1145.7 215.4h0M1145.2 220.7h0M1143.2 223.1h0M1143.1 222.1h0M1149.4 215.9h0M1145.5 225.2h0M1145.3 220.1h0M1147.6 219.4h0M1146.2 217.5h0M1146.3 218h0M1143.8 223.6h0M1148.1 213h0M1147.3 218.7h0M1145.2 222.5h0M1149.7 214.1h0M1145.7 225.3h0M1147.2 218.7h0M1144.8 225.2h0M1145.2 222h0M1147.7 216.3h0M1148.7 215.9h0M1146.8 221.6h0M1148.9 215.6h0M1149.7 216.8h0M1149 219.6h0M1148.5 221.2h0M1146.4 223.7h0M1147.4 221.5h0M1147.8 218.7h0M1145.9 224.1h0M1149.1 219.7h0M1150.8 216.3h0M1149.9 216.9h0M1147.1 224h0M1148.3 223.7h0M1148.5 221.2h0M1147.3 220.8h0M1146.7 224.6h0M1149.8 218h0M1150.8 217.7h0M1148.1 225.2h0M1147.7 223.5h0M1149.7 215.9h0M1150.1 213.9h0M1150.5 220.5h0M1147.2 224.1h0M1149.7 219.3h0M1151 215.9h0M1147.9 226.5h0M1150.7 216.7h0M1149.6 221.2h0M1150.3 220.2h0M1148.6 225h0M1152.4 217.2h0M1149.3 223.5h0M1148.8 227.1h0M1151.1 222.6h0M1152.1 215.9h0M1150.6 218.6h0M1151.5 220.8h0M1152.3 219.4h0M1149.5 222.4h0M1152.4 214.4h0M1151.8 223.1h0M1148.8 226.1h0M1151.8 218h0M1153.3 217.2h0M1150.2 222.9h0M1152.3 220h0M1152.7 217.4h0M1154.7 215.2h0M1153.9 219.2h0M1151.8 219.4h0M1152.5 221.2h0M1153.9 216.8h0M1154.2 218.5h0M1153.6 221.8h0M1153.7 219.3h0M1153.1 219.9h0M1152.8 221h0M1152.4 220.7h0M1155.2 217.1h0M1152.6 224.9h0M1153.7 223.4h0M1156.5 216.8h0M1154 222.7h0M1156 218.4h0M1153.4 222.3h0M1152.5 221.6h0M1154.7 219.7h0M1155.2 219.3h0M1155.8 220.9h0M1154.2 220h0M1153.4 218.6h0M1154.9 221h0M1153 221.3h0M1156 218.6h0M1155.9 221.6h0M1152.2 226.6h0M1154.9 221.4h0M1154.4 226.6h0M1158.5 216.4h0M1153.2 227.4h0M1154.4 227.5h0M1155.2 227.1h0M1155 225.1h0M1152.9 226.8h0M1157.2 217.6h0M1156.3 218.4h0M1154.6 226.6h0M1156.8 220.2h0M1156.7 223.1h0M1156.8 220.6h0M1156.3 217.6h0"/><path fill="none" stroke="#7854a8" stroke-width="3.6" stroke-opacity="0.8" stroke-linecap="round" d="M1155.8 227h0M1155.3 225.3h0M1157 219.7h0M1158 218.9h0M1156.2 223.1h0M1156.8 218.1h0M1158.8 219.3h0M1155.4 226.9h0M1157.7 220.2h0M1156.6 222.6h0M1155.9 225.6h0M1157.4 217.6h0M1156.2 220h0M1157.6 221.9h0M1156.1 224.8h0M1156.1 226.8h0M1157.1 222.8h0M1158.1 218.1h0M1157.5 227.6h0M1157.7 219.3h0M1157.5 228.4h0M1157.2 225.4h0M1158.2 221.4h0M1158 226.3h0M1157.2 223.6h0M1159.2 222.5h0M1158.7 225.4h0M1159.8 219.2h0M1160 219.6h0M1157.7 223.4h0M1159.8 222.8h0M1158.2 225.2h0M1160.2 217.6h0M1160.5 219.5h0M1160.2 219.1h0M1159.1 225.4h0M1159.1 225.7h0M1161.6 219.6h0M1160.5 225.9h0M1160.5 227.4h0M1160.9 221.4h0M1162 220.7h0M1161.4 220.4h0M1159.9 220.3h0M1161.7 219.1h0M1160.7 222.6h0M1163 223.3h0M1163.3 223.8h0M1160.2 225.9h0M1162.2 227.2h0M1161.7 226h0M1162 219.4h0M1161.1 223.8h0M1162 222.3h0M1162 227.4h0M1161.7 226.5h0M1163.1 221.6h0M1162.2 227.2h0M1163.7 222.5h0M1160.5 226.9h0M1162.7 219.3h0M1163.7 222.4h0M1162.6 226.3h0M1163.9 227.5h0M1163.3 223.8h0M1163.9 226.2h0M1163.7 219.2h0M1162.5 225.8h0M1163.2 222.1h0M1163.5 226.2h0M1164.5 226.1h0M1163.7 224.9h0M1164.5 228h0M1165.1 221h0M1164.2 227.9h0M1165 224h0M1165.2 221.1h0M1164.9 220.6h0M1165.6 228.2h0M1164.8 223.9h0M1165.2 222.1h0"/><path fill="none" stroke="#8454a8" stroke-width="3.6" stroke-opacity="0.8" stroke-linecap="round" d="M1164 222.5h0M1165.6 224.4h0M1165.7 224.9h0M1165.9 221.6h0M1166.9 220.5h0M1166.6 222.2h0M1166.1 221.8h0M1167.1 220.6h0M1166.6 225.6h0M1166.3 226.1h0M1168 220.1h0M1167.1 223.6h0M1167 225.1h0M1167.5 220.3h0M1166.5 222.8h0M1165.8 219.6h0M1166.9 226.9h0M1168.1 222.9h0M1168.1 222.4h0M1167 227.3h0M1168.3 222.3h0M1170.1 221.2h0M1167.2 223.8h0M1169.4 227h0M1167.8 218.7h0M1169.5 221.9h0M1167.2 224.4h0M1168.5 226.5h0M1169.6 222.5h0M1168.5 218.8h0M1168.6 220.3h0M1168.8 219.2h0M1168.7 221.8h0M1168.6 222.3h0M1170 223.2h0"/><path fill="none" stroke="#8448a8" stroke-width="3.6" stroke-opacity="0.8" stroke-linecap="round" d="M1171.5 226h0M1170 221.2h0M1169.5 221h0M1171.3 222.7h0M1171.6 224.7h0M1170.8 221.9h0M1172 221.2h0M1172.3 224.5h0M1169.3 223.1h0M1172.6 226h0M1171.9 220.8h0M1173 226.8h0M1171.8 225h0M1172.7 219.5h0M1173.5 224.7h0M1173.4 224.9h0M1174.5 224.4h0M1171.8 222.5h0M1172.1 218.5h0M1173.2 221.3h0M1172.5 217.8h0M1175.5 224h0M1174.4 223.3h0M1172.5 219.1h0M1176.7 224.2h0M1171.9 217.9h0M1174.6 224.1h0M1173.4 218.4h0M1174 223h0M1177.1 224.6h0M1177.4 224.2h0M1174.7 222.6h0M1175.9 223.4h0M1178.5 223.4h0M1174.2 223h0M1175.4 221.3h0M1176 219.3h0M1173.5 219.8h0M1175.4 218.4h0M1177 222.8h0M1178.7 222.6h0M1174.3 219.4h0M1176.5 219.2h0M1179.1 222.7h0M1176.6 220.9h0M1176.9 218.5h0M1177.8 223.1h0M1178.8 219.9h0M1180.6 221h0M1177.8 219.9h0M1179.5 222.2h0M1175.3 216.5h0M1176.5 216.3h0M1175.7 219h0M1179.4 220.6h0M1180.1 220.9h0M1178 217.8h0"/><path fill="none" stroke="#9048a8" stroke-width="3.6" stroke-opacity="0.8" stroke-linecap="round" d="M1180.3 219.6h0M1178.9 217.7h0M1181.9 219.8h0M1179.6 219.1h0M1178.2 218.1h0M1180.1 216.7h0M1178.4 219.2h0M1178.1 215h0M1180.5 217.4h0M1178.1 214.2h0M1182.7 218.8h0M1181.7 218h0M1182.9 216.3h0M1182.9 217.2h0M1179.5 215h0M1182.5 217.4h0M1182.5 217.6h0M1180.5 214.4h0M1182.7 216.9h0M1180.7 216.3h0M1181.6 215.6h0M1178.1 213.2h0M1182 214.9h0M1180.5 212.6h0M1184.7 215.1h0M1180.9 212.7h0M1181.9 213.7h0M1182.1 213h0M1182 214.7h0M1179.9 212.3h0M1182.8 213.1h0M1184.4 213.4h0M1184.2 212.4h0M1181.2 210h0M1182.3 212.2h0M1184.3 212.1h0M1184.5 212.7h0M1185.2 213.3h0M1182.6 209.9h0M1185 212.5h0M1185.8 212h0M1184.7 212h0M1185.1 209.5h0M1185.8 209.9h0M1185.6 212.9h0M1186.8 211.1h0M1184.8 208.8h0M1186.3 209.4h0M1187.4 210.4h0M1187.3 210.6h0M1183.6 208.1h0M1184.9 207.9h0M1188.2 209.6h0M1184.8 207h0M1186.4 206.7h0M1186.4 206.5h0"/><path fill="none" stroke="#3cc0f0" stroke-width="3.6" stroke-opacity="0.85" stroke-linecap="round" d="M1140.6 114.5h0M1140.8 112.9h0M1140.6 111.5h0M1140 113h0M1138.1 112.2h0M1139.7 110h0M1138.4 111.1h0M1137 109.8h0M1138.4 109.2h0M1135.9 110.8h0M1136.7 109.9h0M1136.6 108.3h0M1133.7 108.4h0M1134.5 106.1h0M1134.5 105.2h0M1134.5 105.9h0M1133.5 106.9h0"/><path fill="none" stroke="#3cb4f0" stroke-width="3.6" stroke-opacity="0.85" stroke-linecap="round" d="M1133 104.7h0M1131.5 106.3h0M1130.3 106.6h0M1131.3 106.3h0M1130.7 106.4h0M1129.7 106.7h0M1131 103.4h0M1131 104.5h0M1129.9 104.8h0M1128.9 105.3h0M1129.2 103.2h0M1130.9 101.9h0M1129.7 101.6h0M1129.2 101h0M1128.3 102.6h0M1129.3 101.4h0M1128.8 102h0M1127.7 102.6h0M1125.8 105.4h0M1126.4 103h0M1128.3 101.6h0M1127.9 102.4h0M1127.2 98.9h0M1124.7 102.9h0M1126 101.5h0M1125.4 102.6h0M1125.7 99.1h0M1124.5 102h0M1125.2 99.3h0M1125 100h0M1123 100.1h0M1124.1 100.5h0M1122.4 101.4h0M1123.4 98.1h0M1122.4 98.5h0M1121.5 101.2h0M1121 98.1h0M1121.4 100h0M1121.2 99.1h0M1121.3 98.6h0"/><path fill="none" stroke="#3cb4e4" stroke-width="3.6" stroke-opacity="0.85" stroke-linecap="round" d="M1121.4 97.5h0M1121 96.3h0M1119.6 99h0M1119.9 98.5h0M1119 99.7h0M1121.3 95.3h0M1118.1 96.1h0M1116.6 99.4h0M1116.6 99.4h0M1117.8 96.1h0M1116.9 95.6h0M1118 96h0M1116.1 99.5h0M1115.7 99h0M1116.1 95.1h0M1115.9 95.9h0M1115.1 95.5h0M1115.6 97h0M1114.6 94.7h0M1113.3 97.1h0M1113.6 99.3h0M1114.6 94.8h0M1113.1 93.1h0M1112.2 96.7h0M1112.2 100.1h0M1112.4 98.3h0"/><path fill="none" stroke="#3ca8e4" stroke-width="3.6" stroke-opacity="0.85" stroke-linecap="round" d="M1110.8 94.6h0M1110.7 97.4h0"/><path fill="none" stroke="#48a8e4" stroke-width="3.6" stroke-opacity="0.85" stroke-linecap="round" d="M1110.2 96.9h0M1110.9 97.3h0M1109.7 94.7h0M1110.6 93.3h0M1109.8 98.7h0M1109.8 95.1h0M1108.6 96.8h0M1108.7 94.5h0M1108.8 96.5h0M1108.8 98.2h0M1107.5 99.3h0M1106.3 93.5h0M1106.9 98h0M1105.7 93.1h0M1106.1 95.9h0M1106.9 98.6h0M1105 94.8h0M1104.8 93.8h0M1105.1 95.7h0M1104.5 100.2h0M1103.8 96.6h0M1102.9 95.6h0M1102.9 94.8h0M1102.2 94.7h0M1103.1 99h0M1103 99.3h0M1102.2 98.6h0M1101.7 97h0M1101.1 98h0M1100.2 97.4h0M1101.5 100.1h0M1100 97h0M1099.8 97.5h0M1099.4 97h0M1098.7 96.1h0M1100.6 101.4h0M1098 96.3h0M1098.3 100.7h0M1097.5 99.7h0M1097.4 99.6h0M1096.9 99.2h0M1099.2 101.8h0M1098.4 103.3h0M1096.2 99.7h0M1097.5 102.8h0M1096.5 99.9h0M1095.8 100.7h0M1093.3 98.3h0M1093.1 98.9h0M1096 101h0"/><path fill="none" stroke="#489ce4" stroke-width="3.6" stroke-opacity="0.85" stroke-linecap="round" d="M1094.7 102.1h0M1094 102h0M1096.2 103.1h0M1094.8 102.9h0M1094.4 102.6h0M1093.6 100.9h0M1094.4 102.7h0M1092.6 101.7h0M1090.1 101h0M1090.8 102.6h0M1089.5 102.4h0M1090.7 101h0M1093.7 103.6h0M1094.6 105.7h0M1093.1 103.4h0M1094.1 105.6h0M1091.4 102.9h0M1094.1 105.6h0M1094.5 106.4h0M1090.1 104.3h0M1093 104.8h0M1091.1 105.1h0M1089.3 104.7h0M1091.2 105.2h0M1094.1 108h0M1089.1 104.3h0M1091.7 106.6h0M1087.3 105.3h0M1092.9 108.8h0M1090.5 106h0M1091.8 107.1h0M1086 105.3h0M1088.5 105.1h0M1089.6 107.9h0M1091.1 108.1h0M1089.2 108.4h0M1092.9 109.6h0M1087.9 107.5h0M1091.9 108.9h0M1085.8 107.8h0M1087.2 106.2h0M1089.7 109.4h0"/><path fill="none" stroke="#489cd8" stroke-width="3.6" stroke-opacity="0.85" stroke-linecap="round" d="M1086.9 108h0M1088.4 109.5h0M1089.8 109.6h0M1090.3 111.2h0M1090.6 111.3h0M1087.7 109.6h0M1088.6 111.4h0M1085.6 109.6h0M1089.2 111.5h0M1090.9 113.9h0M1086.3 110.4h0M1089.4 113.3h0M1086.2 111.4h0M1084.1 109.5h0M1089.7 115.2h0"/><path fill="none" stroke="#549cd8" stroke-width="3.6" stroke-opacity="0.85" stroke-linecap="round" d="M1088.6 113.6h0M1085.4 112.2h0M1090.5 114.6h0M1084.5 112.9h0M1083.2 111.9h0M1087.2 113.6h0M1085.6 113.2h0M1085.7 114.4h0M1087.7 114.7h0M1084.5 113.8h0M1085.5 114.9h0M1086 113.6h0M1087.6 116h0M1084.9 113.3h0M1082.8 113.2h0M1082.8 114.5h0M1084.2 115h0M1086.9 115.6h0M1086.3 116.3h0M1088.5 117.5h0M1085.3 115.6h0M1085.4 117.7h0M1084 116.8h0M1088.3 118.3h0M1085.4 118.9h0M1081.8 116.9h0M1086.9 118.6h0"/><path fill="none" stroke="#5490d8" stroke-width="3.6" stroke-opacity="0.85" stroke-linecap="round" d="M1085.4 119h0M1081.7 117.5h0M1086.5 120.1h0M1081.3 119h0M1083.5 119h0M1083.6 118h0M1083.2 119.7h0M1082.5 119.7h0M1083.6 119.2h0M1083.3 120.7h0M1083.5 121.2h0M1083.1 119.6h0M1086.3 121.7h0M1082.8 121.6h0M1084.7 121.4h0M1082.3 121.5h0M1086 121.8h0M1085.8 124.1h0M1079.3 121.7h0M1082 122.8h0M1079.5 121.6h0M1079 121.5h0M1081.6 123h0M1081.9 122.9h0M1080.9 123.3h0M1081.2 123.4h0M1085.9 124.2h0M1080.5 123.2h0M1081.5 124.3h0M1080.8 124.6h0M1084.1 124.8h0M1085.7 126h0M1083.6 125.8h0M1082.4 124.9h0M1084.3 125.7h0M1084 125.4h0M1082.7 126h0M1080.3 126.1h0M1082.4 127.5h0M1084.7 127.8h0M1078.7 126.2h0M1084.4 128.1h0M1081.8 128.2h0M1078 127.3h0M1085.5 128.7h0M1079.8 128.7h0M1082.5 129.1h0M1080.7 128.9h0M1079.4 128.3h0M1081.3 128.6h0M1083.4 128.9h0M1081.6 130.7h0M1080.4 130.7h0M1081.3 130h0M1078.3 130h0M1079.1 129.9h0M1080.8 129.6h0M1082.3 130.6h0M1085.6 131.5h0M1083.5 132.3h0M1080.4 132h0M1084.6 132.8h0M1079.4 131.1h0M1079.7 132.5h0M1077.5 133.2h0M1078.1 133.1h0M1081.9 132.7h0M1084.5 134h0M1078.2 132h0M1080.2 133.3h0M1078.2 134.1h0M1078.3 133.8h0M1080.4 135.2h0M1077.9 133.3h0M1079.1 133.6h0M1077.6 134.5h0M1077.1 135.7h0M1078.2 137h0M1077.8 135.5h0M1079.5 136.9h0M1084.8 135.7h0M1082.9 137.2h0M1083.9 137.1h0M1079.1 136.8h0M1083.1 137.7h0M1077.9 137.2h0M1080.5 137.6h0"/><path fill="none" stroke="#5484d8" stroke-width="3.6" stroke-opacity="0.85" stroke-linecap="round" d="M1083.5 138.7h0M1077.3 137.8h0M1081.1 138.1h0M1079.1 138.6h0M1079.9 138.8h0M1078.8 139.3h0M1077.2 138.6h0M1076.8 140.2h0M1082.7 140.2h0M1080.7 139.9h0M1083.5 139.6h0M1079.9 140h0M1084.1 142h0M1081.7 140.9h0M1082.8 141h0"/><path fill="none" stroke="#6084d8" stroke-width="3.6" stroke-opacity="0.85" stroke-linecap="round" d="M1077.2 141.9h0M1083.2 140.7h0M1083.6 141.8h0M1082.8 142.2h0M1084.4 142.2h0M1077 143.5h0M1081.2 142.9h0M1083.5 142.9h0M1083.7 142.9h0M1084.1 144.2h0M1077.5 144.3h0M1079.2 143.9h0M1081.6 144.5h0M1078.3 145.3h0M1080.4 144.1h0M1078.5 145.6h0M1083.9 145.3h0M1078 145.8h0M1083.9 145.4h0M1076.7 147.5h0M1079.5 147.1h0M1079.7 146.8h0M1079.9 146.5h0M1083.2 146.1h0M1079.3 147.2h0M1080.5 147.6h0M1083.1 146.8h0"/><path fill="none" stroke="#6084cc" stroke-width="3.6" stroke-opacity="0.85" stroke-linecap="round" d="M1077.9 149.8h0M1078.5 147.4h0M1078.8 149.2h0M1080.3 149h0M1079.2 148.8h0M1084.5 147.8h0M1084 149.8h0M1079.4 150.5h0M1078 149.5h0M1077 150.3h0M1082.2 150.4h0M1086 149.7h0M1079.8 150.9h0M1085 150.2h0M1077.5 150.7h0M1084.4 152h0M1079.9 152.2h0M1083.4 151.2h0M1081.7 152.2h0M1084.4 151.4h0M1084.8 151.7h0M1079.1 153.8h0M1083 152.5h0M1081.8 153.2h0M1083.9 153.6h0M1084.7 153.1h0M1080.1 154.5h0M1079.9 154.8h0M1083.1 154.3h0M1083 153.3h0M1086.2 154.1h0M1081.2 155h0M1080.5 156.2h0M1081.7 156.2h0M1080.5 156.8h0M1081.1 156.2h0M1085.8 154.6h0M1082.6 156.6h0M1082.2 155.5h0M1081.4 157.5h0M1080.6 158.1h0M1083.6 156.9h0M1080.6 157.9h0M1083.9 157.4h0M1084.3 156.5h0M1081.5 158.5h0M1086 158h0M1082.8 158.6h0M1084.6 159.1h0M1081.5 159.8h0M1083.9 159.5h0M1082.8 160.9h0M1080.4 160.5h0M1086.6 158.6h0M1086.8 158.7h0M1087.3 159.1h0M1088.1 158.8h0M1083.1 163.6h0M1087.9 160h0M1083.2 160.9h0M1083.6 161.6h0M1082.5 161.1h0M1085.4 162.1h0M1084.6 162h0M1084.7 161.5h0M1080.8 163.1h0"/><path fill="none" stroke="#6078cc" stroke-width="3.6" stroke-opacity="0.85" stroke-linecap="round" d="M1082.3 164.8h0M1083.6 161.8h0M1088 161.7h0M1090 162.4h0M1084.7 164.6h0M1089 162.4h0M1083.4 164.3h0M1086.6 164h0M1083.3 165.2h0M1083.6 165.2h0M1080.9 166h0M1086.4 163h0M1087.1 165h0M1087.5 165h0M1089.4 165.3h0M1086.4 165.7h0M1083.2 166.6h0M1083.1 166.5h0M1087.1 167.2h0M1088.5 166.4h0M1085.2 167.6h0M1085.3 169.4h0M1085.8 168.7h0M1090.8 166.2h0M1086.2 169.5h0M1084.2 169.8h0M1084.5 169.2h0M1090 167.7h0M1084.7 169.8h0M1089.2 169.1h0M1090.5 168.3h0M1085.9 170.2h0M1085.5 169.3h0M1090.5 169.1h0M1086.8 170.7h0M1090.3 169.7h0M1089.8 170h0M1090.2 170.6h0M1087.1 173h0M1088.6 171.9h0M1090.3 171h0M1086.4 172.7h0M1088.1 172.6h0M1089.2 172.4h0M1088.7 173h0M1090 172.1h0M1088.3 173.4h0M1090.9 172h0M1091.2 172.2h0M1089.2 173.3h0M1091.3 172.1h0M1090 172.8h0M1087.9 174.3h0M1087.5 174.4h0M1090.8 173.8h0M1087.9 176h0M1089.1 174.3h0M1088.7 176.3h0M1089.6 174.4h0M1092.9 175.2h0M1089.6 177h0M1092.5 176h0M1089.7 175.4h0M1089.8 176.5h0M1087.5 177.8h0M1087.9 177.8h0M1089.6 178.2h0M1093.1 175.5h0M1091.7 177.3h0M1092.5 176.5h0M1092.1 177.6h0M1091.7 178.3h0M1088.5 180.6h0M1090.1 178.4h0M1094.6 177h0M1093.4 178.8h0M1096.7 177.6h0M1091.3 178.7h0M1091.1 180.5h0M1094.2 178.8h0M1094.7 177.5h0M1091.9 180.9h0M1092.3 180.4h0M1094.6 178.5h0M1095.2 178.9h0M1092.1 181.8h0M1095.2 178.7h0M1094.8 181.2h0M1095.7 179.1h0M1093.7 181.9h0"/><path fill="none" stroke="#6c78c0" stroke-width="3.6" stroke-opacity="0.85" stroke-linecap="round" d="M1096.2 180.5h0M1095.4 180.4h0M1095.6 180.4h0M1092.1 184.8h0M1090.9 185.4h0M1095.8 181.8h0M1097.5 181.3h0M1096.6 180.9h0M1092 184.8h0M1096.8 183.3h0M1092 185.5h0M1093.6 185h0M1095.4 183.8h0M1097.2 183.3h0M1094.6 185.6h0M1095 186.4h0M1092.6 186.3h0M1093.2 186.5h0"/><path fill="none" stroke="#6c6cc0" stroke-width="3.6" stroke-opacity="0.85" stroke-linecap="round" d="M1097.6 184.1h0M1094 186.8h0M1095.6 185.7h0M1099.3 184.6h0M1096.5 185.9h0M1095.3 188.1h0M1099.3 186.3h0M1097.9 186.9h0M1099.4 185.9h0M1099.7 185.6h0M1096 189.7h0M1100 185.3h0M1097.2 188.3h0M1100.2 186.3h0M1095.8 188.8h0M1101.2 187.3h0M1102.2 186.5h0M1095.9 190.1h0M1099.3 189.2h0M1096 189.8h0M1099.9 187.4h0M1099.3 189.8h0M1101.9 187.8h0M1096.7 191.2h0M1097.6 191.6h0M1100.1 189.4h0M1100.2 189.7h0M1098.2 191.8h0M1100.5 189.3h0M1099.9 190.5h0M1098 193.3h0M1099.8 192.3h0M1097.8 192.4h0M1099.2 193.7h0M1099.2 192.8h0M1103.6 187.5h0M1098.7 193.8h0M1098.6 194.4h0M1102.5 191.5h0M1102.6 192.6h0M1101.6 192h0M1105.3 191.5h0M1102.8 193.3h0M1103.4 191.9h0M1100.6 192.9h0M1104 193h0M1100.2 196.4h0M1099.2 195.2h0M1103.6 194.3h0M1100.4 194.5h0M1103.3 193.8h0M1101.7 196.9h0M1102.3 194.8h0M1106 191.7h0M1103.2 196h0M1106.9 191.9h0M1106.8 193.2h0M1102.4 198h0M1103.7 196.7h0M1106.3 193.8h0M1107 195h0M1104.6 196.6h0M1107.1 196.4h0M1106.7 197h0M1109 194.6h0M1104.7 196.8h0M1108.7 195.4h0M1104.7 198.4h0M1108 195.4h0M1105.5 197.5h0M1107.6 198h0M1108.3 195.3h0M1110.1 195.9h0M1110.1 195.9h0M1105.7 200.3h0M1106.4 200h0M1110 197.9h0M1106.2 200.8h0M1106.6 200h0M1109.7 196.5h0M1110.6 198.1h0M1109.9 196.7h0M1108.9 199h0M1106.7 201h0M1108.9 200.4h0M1107.7 203.4h0M1111.7 198.4h0M1111.9 198.7h0M1111.4 198.2h0M1109.9 200.9h0M1110.8 202h0M1108.1 202.6h0M1110.9 201.8h0M1109.6 204.1h0M1113.4 199.3h0M1109.4 203.3h0M1112.1 202.4h0M1113.1 199.6h0M1113.1 199.2h0M1110.5 204.1h0M1110.5 203.5h0M1109.5 205h0M1114.3 200.6h0M1114.2 201.4h0M1112.6 202.4h0M1112 205.1h0M1112.3 205.1h0M1111.5 205h0M1115.5 203.4h0M1111.2 206h0M1113.7 202.7h0"/><path fill="none" stroke="#6c60c0" stroke-width="3.6" stroke-opacity="0.85" stroke-linecap="round" d="M1111.8 207.2h0M1115.9 200.8h0M1112.8 206.2h0M1114 205.2h0M1112.7 207.4h0M1116.5 202.9h0M1117.8 203.2h0M1117.5 201.2h0M1116.8 202.4h0M1118.1 202.8h0M1114.8 208.3h0M1116.1 204.8h0"/><path fill="none" stroke="#6c60b4" stroke-width="3.6" stroke-opacity="0.85" stroke-linecap="round" d="M1117.8 202.4h0M1115.8 207.5h0M1115 207h0M1118.7 204.9h0M1120 202.8h0M1117 207.8h0M1116 207.4h0M1116.7 208.9h0M1116.7 207.1h0M1117.4 209.1h0M1117.6 208.5h0M1120.1 205.1h0M1119.8 208.2h0M1121.2 203.7h0M1121 205h0M1120.1 208.7h0M1120.8 205h0M1120.5 203.5h0M1122.5 204.1h0M1122.3 206.6h0M1122.3 205.3h0M1121.7 207.2h0M1122 205.6h0M1120.1 209.5h0M1121.4 209h0M1123.1 206.7h0M1119.3 210h0M1121.7 208.5h0M1121.3 210h0M1123.5 207.1h0M1123.3 209.3h0M1124 206.8h0M1120.1 213h0M1123.2 208.6h0M1122.7 210.7h0M1124.5 209.2h0M1125 206.3h0M1123.3 210.5h0M1122.2 211.1h0M1125.2 208h0M1123.4 209.9h0M1123.5 212.5h0M1126.5 208h0M1124.7 211.1h0M1125.2 209.6h0M1123.6 214h0M1125.5 210h0M1128 207.1h0M1127.3 206.8h0M1126.5 212.4h0M1125.9 213.1h0M1128.2 210h0M1126.3 212h0M1126.9 211.5h0M1128.6 208.8h0M1128.9 209.6h0M1128.2 213.5h0M1127.2 213.5h0M1127.2 213.9h0M1129.2 208.5h0M1127.2 213.9h0M1130.3 211.4h0M1127.8 214.2h0M1128.1 213.8h0M1127.8 215.9h0M1127.7 213.2h0M1129.5 213.5h0M1128.6 216.4h0M1130.9 210.7h0M1132 210.2h0M1130.8 212.3h0M1129.1 213.4h0M1132.1 213.7h0M1131.2 215.4h0M1130 217.6h0M1132.6 214.1h0M1131.1 215.9h0M1133.6 210.1h0M1133.4 211.5h0M1131.5 216.2h0M1131.5 215.3h0M1132.8 216.3h0M1134.5 212.4h0M1133.5 215.1h0M1135.9 210.9h0M1132.8 215.8h0M1134.4 215.4h0M1134.5 216.8h0M1133.1 217.7h0M1136.2 213.2h0M1136.4 213h0M1134 216h0M1134.8 214.6h0M1135.1 217.7h0M1136.4 213.8h0M1136.3 213.9h0M1136.9 216h0M1137.2 215.1h0M1136.1 217.3h0M1137.8 214.9h0M1137.1 216.4h0M1136.1 217.8h0M1139.5 212.2h0M1139.1 214.8h0M1137.7 216.5h0"/><path fill="none" stroke="#7860b4" stroke-width="3.6" stroke-opacity="0.85" stroke-linecap="round" d="M1138.6 216h0M1137.3 219.7h0M1138.9 215.8h0M1140.6 213.7h0M1138.9 217.3h0M1139.2 217h0M1140.3 217.6h0M1139.5 217.9h0M1140 215h0M1141.4 213.9h0M1139.2 218.6h0M1141.4 214.8h0"/><path fill="none" stroke="#7854b4" stroke-width="3.6" stroke-opacity="0.85" stroke-linecap="round" d="M1142.9 214h0M1142 218.8h0M1141.7 219.1h0M1141.8 219.1h0M1140.5 218.2h0M1142 218.4h0M1143.2 217.8h0M1140.9 220.5h0M1140.8 220.6h0M1142.7 218.1h0M1142.1 220.4h0M1144.5 214.1h0M1143.1 219.9h0M1142.7 220.3h0M1143.1 219.3h0M1145.1 217.6h0M1145.2 217.8h0M1144.4 216.5h0M1144.5 221.2h0M1144.6 222.3h0M1144.2 222.9h0M1145.4 221.3h0M1147 217.6h0M1145.7 218.9h0M1146.8 218.1h0M1147.2 217.2h0M1145.7 219.7h0M1147.2 219.3h0M1145.9 220.6h0M1145.6 223.2h0M1146.2 220.7h0M1147.8 219.5h0M1148.7 219.5h0M1147.5 220.3h0M1149.1 219.3h0M1149.4 218.2h0M1149.6 220.2h0M1149.5 219.6h0M1149.5 221.5h0M1150.1 221.7h0M1150.1 220.2h0M1149.7 222.8h0M1151.3 220.5h0M1150.7 223.1h0M1151.8 221.6h0M1152.7 221.9h0M1152.8 221.8h0M1152.9 222.3h0M1152.9 222h0M1155.3 219.7h0M1153.4 221.7h0M1153.6 224.7h0M1155.8 222.1h0M1155 222h0M1154.4 223.5h0M1156 220h0M1155.7 222.8h0"/><path fill="none" stroke="#7854a8" stroke-width="3.6" stroke-opacity="0.85" stroke-linecap="round" d="M1157 221.2h0M1156.7 221.5h0M1156.3 224.7h0M1157.3 220.2h0M1158.1 225.7h0M1157.7 224.3h0M1157.7 223.8h0M1158.8 221.1h0M1159.3 224.9h0M1159.9 220.6h0M1159.8 221.8h0M1159.5 224.4h0M1159.1 223h0M1160.5 222.3h0M1160.7 224.5h0M1160.3 226.7h0M1161.5 224.3h0M1162.7 221.9h0M1163.1 225.3h0M1162.4 225h0M1163 223.2h0M1163.3 226h0M1163.3 225.3h0M1163.5 220.7h0M1165 225.5h0M1163.9 222.2h0"/><path fill="none" stroke="#8454a8" stroke-width="3.6" stroke-opacity="0.85" stroke-linecap="round" d="M1166.3 220.6h0M1165.3 224.3h0M1166.7 221.2h0M1166.1 220.9h0M1166.6 222.2h0M1167.4 224.8h0M1167.1 221.5h0M1168.8 225.7h0M1167.1 220.8h0M1168.5 221.3h0M1169 222.4h0M1169.2 225h0M1169.3 224.2h0"/><path fill="none" stroke="#8448a8" stroke-width="3.6" stroke-opacity="0.85" stroke-linecap="round" d="M1169.5 221.5h0M1171.1 223.5h0M1170.7 220h0M1172.7 219.8h0M1172.9 221.6h0M1174.8 222.3h0M1173.7 220.2h0M1174.4 221.5h0M1174.8 220.3h0M1175.8 219.8h0M1175.6 219h0M1178.1 220.1h0M1178.2 220.4h0M1177 217.4h0"/><path fill="none" stroke="#9048a8" stroke-width="3.6" stroke-opacity="0.85" stroke-linecap="round" d="M1178 215.8h0M1179.7 217.9h0M1179.4 216.1h0M1177.7 216.3h0M1180.3 216.1h0M1181.8 216h0M1179.9 213.2h0M1184.2 214.7h0M1181.4 213.2h0M1181.6 213h0M1181.6 211.8h0M1183 211.6h0M1183.9 211.2h0M1185.3 212.8h0M1184.8 209.9h0M1184.3 209h0M1184.9 208.9h0M1186.4 207.7h0M1186.8 207.7h0M1186.2 207.2h0"/><path fill="none" stroke="#54c0e4" stroke-width="3.6" stroke-opacity="0.6" stroke-linecap="round" d="M1141.6 109.1h0M1146.2 116.4h0M1136.4 117.1h0M1141.7 105.4h0M1140.6 111.8h0M1140.2 120.7h0M1135.7 109.8h0M1131.8 111.2h0M1144.3 120.4h0M1139.5 116.8h0M1130.5 119h0M1137 107.9h0M1140.2 119.9h0M1143.9 114.1h0M1138.9 125.1h0M1134 108.9h0M1126.4 114.2h0M1139.8 111.6h0M1137.1 115.5h0M1129.6 108.6h0M1133.9 111.4h0M1138 119.8h0M1136 103.3h0M1134.1 113.2h0M1133.8 113.4h0M1139.8 111.2h0M1148.4 112.7h0M1146.4 118.5h0M1134.8 111h0M1132.3 121.5h0M1132.6 113.9h0M1145.2 110h0M1149.1 108.8h0M1135.2 126.8h0M1136.7 117.5h0M1131.7 111.3h0M1136.3 113.6h0M1136.2 112.3h0M1152.6 110.8h0M1144.4 113.2h0M1140.2 113.1h0M1132.8 114h0M1143.3 116.9h0M1140.2 106.8h0M1137.3 116.5h0M1147.8 112.8h0M1132.2 110.5h0M1138.6 116h0M1133.9 108h0M1123.2 107.3h0M1149.4 111.4h0M1140.4 109h0M1128.2 118.7h0M1146.9 113.1h0M1137.7 114h0M1144.6 118.6h0M1136.4 111.8h0M1144.7 120.6h0M1133.1 110.6h0M1140.3 110.4h0M1135.8 113.6h0M1146.7 110.6h0M1136.2 114.4h0M1144.2 123.3h0M1143 118.7h0M1133.4 113.9h0M1134.9 117.8h0M1151.1 99.6h0M1138.8 116.5h0M1140.2 106.2h0M1138.5 116h0M1139.3 107.3h0M1137.4 119.7h0M1130.7 107.5h0M1143.6 113.4h0M1127 107.3h0M1129.8 117.8h0M1133.4 111.4h0M1141.2 107.1h0M1135.4 115h0M1138.6 105.3h0M1138.8 104.8h0M1150.1 115.9h0M1135.3 103h0M1144.7 112.2h0M1124.5 108.1h0M1116.8 108.7h0M1134.7 110.7h0M1129.3 114h0M1138.6 104.4h0M1129.5 110.1h0M1141.7 106.6h0"/><path fill="none" stroke="#60cce4" stroke-width="3.6" stroke-opacity="0.6" stroke-linecap="round" d="M1136.3 113h0M1127.6 130.3h0M1137.2 107.1h0M1140 107.1h0M1137.1 109.5h0M1138.9 108.4h0M1146.8 114.9h0M1140.4 115.4h0M1146.2 103.8h0M1139.4 115.8h0M1138.2 102.4h0M1136.6 115h0M1132.3 109.2h0M1139.6 112.4h0M1143.8 109h0M1136.5 114.5h0M1141 109.3h0M1136.4 106.1h0M1136.4 108.6h0M1126.2 117.3h0M1146.1 107.5h0M1137.9 117.7h0M1136.7 115.4h0M1136.1 116.5h0M1148.3 107.6h0M1148 105.2h0M1140.5 123.3h0M1130.8 110.7h0M1147.5 123.8h0M1140.7 109.3h0M1136.3 107.8h0M1137.5 104.5h0M1137.5 101.5h0M1137.4 110h0M1135.7 106.7h0M1145.1 124.9h0M1135.9 109.3h0M1135.7 118.4h0M1131.1 118.4h0M1135.8 112.2h0M1148.4 107.6h0M1147.1 109.1h0M1135 114.7h0M1142.5 116.9h0M1139.9 118.9h0M1141.8 108.6h0M1138.3 120.1h0M1125.9 100.4h0M1147.7 111.5h0M1125.5 107.6h0M1149.8 111.3h0M1134.3 107.4h0M1137.9 119.8h0M1130.4 110.7h0M1149.6 119.2h0M1141.7 113.9h0M1125.3 107.2h0M1151.9 113.7h0M1134.2 102h0M1142.3 114.4h0M1138.8 119.4h0M1130.8 115.2h0M1128.5 114.2h0M1155.8 120.2h0M1144.6 110.5h0M1124.4 124.7h0M1137.5 110.8h0M1138.1 113.2h0M1140.3 112h0M1137.8 120.5h0M1138.7 114h0M1135.5 120.3h0M1122.6 115.9h0M1136.1 117.5h0M1141.3 108.6h0M1139.5 104.4h0M1149.4 112.9h0M1142.8 109.7h0M1137.6 102.2h0M1129.5 114.4h0M1133.2 110h0M1139.6 116.6h0M1137.1 107.8h0M1136.5 115.5h0M1139.3 116.5h0M1128.2 109.2h0M1130.9 116.5h0M1142.2 114.5h0M1148.5 115.7h0M1150.4 108.7h0M1135.4 114.3h0M1133.9 128.9h0M1144.1 108.2h0M1141.9 114.5h0M1132.5 99.3h0M1130.7 106.6h0M1141.9 107.7h0M1147.7 106.2h0M1128.1 108.9h0M1129.8 117.4h0M1138.6 115h0M1133.4 109.7h0M1137.7 112.2h0M1128.1 109.5h0M1139.3 109.8h0M1135.2 109.4h0M1140.3 117.6h0M1139.3 121.1h0M1132.1 122.4h0M1148.9 114.8h0M1134.5 115.1h0M1138.6 107.8h0M1136.1 118.9h0M1149.6 118.6h0M1129.1 112.1h0M1148 128.3h0M1142.2 109.7h0M1135.2 118.9h0M1137.3 103h0M1145 112h0M1146.9 110.8h0M1140 119.5h0M1147 109.2h0M1131.2 116.2h0M1129.5 125h0M1151.5 107.6h0M1135.8 119.7h0M1145.4 109h0M1133 101.8h0M1140.4 111.6h0M1147.5 111.7h0M1139.1 111.8h0M1133.3 119.5h0M1145.1 110.3h0M1148.6 114.3h0M1149.4 117.8h0M1148 111h0M1142.7 112.5h0M1144.1 115.8h0M1143.5 110.7h0M1142.1 120.7h0M1141.4 112.8h0M1145.1 113.4h0M1145.4 112.3h0M1139.4 113.5h0M1134.1 116h0M1141.9 111.9h0M1138.2 111.5h0M1125.5 105.9h0M1139.1 117h0M1135.1 107.8h0M1133.2 117h0M1142.1 103.6h0M1129.6 109.3h0M1125.1 110h0M1141.3 117h0M1128.1 118.9h0"/><path fill="none" stroke="#48c0e4" stroke-width="3.6" stroke-opacity="0.6" stroke-linecap="round" d="M1140.9 115.5h0M1142.7 101.8h0M1139.7 116.1h0M1134.3 124.8h0M1146.1 126.2h0M1126.5 111.4h0M1128.6 111.1h0M1135.4 106.8h0M1127.3 105.6h0M1127.6 104.1h0M1132.4 116.1h0M1147.3 118.9h0M1144.4 116.7h0M1140.2 118.8h0M1135.8 117.6h0M1133.2 114.8h0M1136.6 106.1h0M1129.7 114.2h0M1142.3 115.6h0M1139.6 125.1h0M1140.2 113.5h0M1144.3 107.1h0M1155.5 116.8h0M1144.6 111.7h0M1122.5 119.4h0M1151.3 112.8h0M1136.1 114.1h0"/><path fill="none" stroke="#6ccce4" stroke-width="3.6" stroke-opacity="0.6" stroke-linecap="round" d="M1139.1 108.9h0M1143.8 112.1h0M1117.9 110.2h0M1131.6 102.9h0M1139.7 111.2h0M1151 121.2h0M1143.4 113.3h0M1143.8 115.4h0M1138.7 109.3h0M1140.1 111.8h0M1152.8 110.8h0M1145.1 119.8h0M1148.3 111.6h0M1143.6 113.5h0M1135.5 119.2h0M1138.6 125.1h0M1151.9 107.2h0M1140.6 115.8h0M1150.5 118.2h0M1141.5 115h0M1124 108.2h0M1147.4 114.9h0M1134 113.9h0M1129.5 107.5h0M1137.9 109.7h0M1149.9 109h0M1139.9 113.6h0M1146.6 107.7h0M1133.1 109.8h0M1140.7 120.2h0M1133.2 119.4h0M1136.5 108.5h0M1128.4 119.6h0M1143.5 108.6h0M1142.6 115.7h0M1144.5 117.6h0M1142.9 102h0M1145.1 118.9h0M1140.4 118.5h0M1140.4 114.8h0M1147.3 111.3h0M1134 98.8h0M1146.8 106.8h0M1152.6 121.5h0M1128 119.1h0M1141.3 122.2h0M1150 111.4h0M1131.7 114h0M1133 115.3h0M1139.1 121.9h0M1139 122.3h0M1142.8 109.1h0M1138.8 117.1h0M1135.1 122.4h0M1136.3 103.5h0M1141.7 103.4h0M1152.1 123.8h0M1135.9 107.9h0M1152.3 110.7h0M1140.4 116.7h0M1138.9 110.9h0M1134.6 110h0M1133.8 113.7h0M1136.4 115.3h0M1157.2 109.9h0"/><path fill="none" stroke="#54cce4" stroke-width="3.6" stroke-opacity="0.6" stroke-linecap="round" d="M1151.5 109.9h0M1149.1 108.9h0M1128.5 109.5h0M1140.4 110h0M1137.8 116.7h0M1129.4 119.3h0M1137.5 120.4h0M1133.5 99.3h0M1139 110h0M1133.9 112.2h0M1141.1 104.9h0M1130.8 112.7h0M1142.7 111h0M1142.1 115.4h0M1120.7 112.7h0M1134.9 110h0M1146.3 105.6h0M1151.9 120h0M1132.7 112.1h0M1144.2 118.4h0M1134 109h0M1147.8 113.6h0M1131.8 116.7h0M1143.6 118.4h0M1138 112.1h0M1143.4 113.9h0M1147.6 114.3h0M1130 116.1h0M1149.7 106.3h0M1128.4 108.3h0M1134.1 119.2h0M1131.2 113.9h0M1135.9 104.6h0M1136.8 112.3h0M1139.4 118.5h0M1142.3 109h0M1148.4 113.7h0M1144.8 117h0M1148.2 111.6h0M1140.3 114.6h0M1144 109.4h0M1134.5 112h0M1138.9 117.6h0M1143 110.9h0M1141.6 108.7h0M1129.7 113.1h0M1144 110.2h0M1142.7 109.5h0M1138 105.9h0M1151.7 104.9h0M1150.4 119.3h0M1148.9 112.9h0M1150.7 101.7h0M1148.9 111.2h0M1133.4 113.6h0M1127.1 110.1h0M1139.1 110.9h0M1145.9 111.9h0M1144.5 119.2h0M1144.9 117.7h0M1131 107.4h0M1134.5 111.5h0M1139.1 107.2h0M1141.4 116.1h0M1138.9 110.3h0M1147.7 110.4h0M1143.2 117.1h0M1132.2 118.4h0M1137.6 108.1h0M1133.3 107h0M1139.3 111h0M1138.2 107.8h0M1137.9 127h0M1137.7 111.1h0M1143.5 121.7h0M1147.7 107.6h0M1131.3 107.9h0M1136.4 110.2h0M1131.9 102.1h0"/><path fill="none" stroke="#6ccce4" stroke-width="3.6" stroke-opacity="0.5" stroke-linecap="round" d="M1123.2 124.9h0M1122.7 136.9h0M1122.1 115.9h0M1141.1 122.8h0M1115.7 132.8h0M1121.4 124.6h0M1136 130.5h0M1146.9 121.1h0M1121.7 119.1h0M1132.7 127.3h0M1121.9 136h0M1113.2 127.8h0M1131.3 128h0M1118 132.2h0M1122.8 129.6h0M1134.6 128.7h0M1124.5 133h0M1130.7 129.3h0M1122.1 129.3h0M1109.6 126.6h0M1125.2 128.4h0M1131 122.9h0M1125.8 142.4h0M1136.7 131.1h0M1117.1 119.5h0M1114.2 124.7h0M1108.9 126.2h0M1116.6 128h0M1126 124.5h0M1121 132h0M1117.7 127.8h0M1119.7 122.9h0M1129.2 119.7h0M1118.6 124.5h0M1122 120.8h0M1116.5 128.8h0M1114.3 115.7h0M1117.8 122.1h0M1124.4 125.8h0M1119 120.5h0M1127.3 128.1h0M1119.6 134.2h0M1119.3 121.3h0M1126.7 134.7h0M1127.8 125h0M1121.4 126.3h0M1106.7 124.2h0M1130.3 131.7h0M1119.5 126.3h0M1130.4 128.8h0M1126.3 129.5h0M1114.4 127.5h0M1120.8 128.8h0M1122 130.5h0M1116.7 130.5h0M1112.8 126.3h0M1115.7 126.6h0M1134.8 126.4h0M1125.5 119.7h0M1122 127.9h0"/><path fill="none" stroke="#3c1860" stroke-width="3.4" stroke-opacity="0.85" stroke-linecap="round" d="M1036.4 149.1h0M1035.7 153.7h0M1035.8 156.1h0M1035.2 156.2h0M1034.6 157.5h0M1034.2 157.6h0M1035 151.3h0M1033.8 157.3h0M1035.9 152.7h0M1034.1 156.1h0M1033.7 156.8h0M1035.9 150.4h0M1034.2 154.2h0M1035.2 149h0M1035 150.4h0M1033.7 155.3h0M1034.6 151h0M1033.9 153.9h0M1035 152.7h0M1033.1 155.7h0M1032.8 156.9h0M1033.2 154.4h0M1034.8 149.1h0M1032.6 157.5h0M1032 155.3h0M1032.3 156.3h0M1033.8 152.9h0M1034.5 149.9h0M1033.9 149h0M1032.8 153.3h0M1034 152.1h0M1031.9 156.5h0M1032.1 154.7h0M1032.1 153h0M1030.8 158.2h0M1034.1 149.6h0M1032.7 152h0M1031.5 157h0M1032.4 150.9h0M1031.8 154.1h0M1031.1 153.7h0M1032.9 151.7h0M1031.8 156.1h0M1031.9 154.6h0M1030.5 156.5h0M1030.5 157h0M1032 151.8h0M1031.4 151.9h0"/><path fill="none" stroke="#3c2460" stroke-width="3.4" stroke-opacity="0.85" stroke-linecap="round" d="M1031.4 151.8h0M1031.5 149.8h0M1032.7 148h0M1030.6 152.1h0M1030.3 155.7h0M1031.3 151.5h0M1029.5 150h0M1030.1 153.6h0M1029.8 153.7h0M1030 153.6h0M1029.9 153.2h0M1031.1 149h0M1029.4 156h0M1029.9 152.9h0M1030.6 152h0M1027.7 156.3h0M1030 150.6h0M1030.5 151.3h0M1030 150.2h0M1029.1 152.3h0M1028.9 153.3h0M1028.4 155.7h0M1029.4 149.8h0M1027.8 155.6h0M1029.4 148h0M1029.1 150.2h0M1028.9 148.4h0M1028.8 153h0M1028.9 150.3h0M1028.5 156.1h0M1027.7 154.8h0M1028 150.3h0M1026.6 154.7h0M1027.6 156.2h0M1026.7 150h0M1027.1 151.1h0M1028.7 148h0"/><path fill="none" stroke="#3c246c" stroke-width="3.4" stroke-opacity="0.85" stroke-linecap="round" d="M1026.3 155.3h0M1025.6 154.2h0M1027.9 147.4h0M1026.8 152.1h0M1026.7 149h0M1026.9 151.7h0M1025.2 154.4h0M1027.1 150.7h0M1027.3 148h0M1025.1 152.8h0M1024.7 155.1h0M1025.4 152.1h0M1026.5 146.9h0M1026.6 147.4h0M1025.8 147.5h0M1024.2 152.5h0M1025.1 151.4h0M1024.7 151.5h0M1024.4 155.3h0M1025 149.2h0M1026 149.4h0M1023.5 151.4h0M1024.8 151.8h0M1025.2 148.1h0M1024.1 149.2h0M1023.4 154.5h0M1024.6 147.1h0M1023.9 150.3h0M1023.8 150.1h0M1023.7 151.2h0M1023.5 149.5h0M1022.8 152.4h0M1023.7 148.9h0M1022 150.8h0M1023.3 146.4h0M1023.1 153h0M1022.9 152.8h0M1022.5 149.1h0M1022.2 151.6h0M1021 147.9h0M1022.4 148.8h0M1021.4 151.8h0M1021.7 153.6h0M1021.8 152.7h0M1021.3 150.5h0M1021.3 152.8h0M1020.8 152h0M1020.8 153.5h0"/><path fill="none" stroke="#3c306c" stroke-width="3.4" stroke-opacity="0.85" stroke-linecap="round" d="M1020.7 149.4h0M1021.4 148h0M1020.4 148.8h0M1021.1 154.3h0M1020.9 150h0M1020.1 147.8h0M1019.7 154.3h0M1020 147.1h0M1020.6 151.2h0M1020 149.1h0M1019.1 152.3h0M1019.6 147.8h0M1019.4 151.6h0M1018.4 151.5h0M1019.1 152.4h0M1019.1 154.2h0M1019.6 153.8h0M1018.4 152.5h0M1018.2 154.1h0M1018.4 154.2h0M1018.6 149.4h0"/><path fill="none" stroke="#3c3078" stroke-width="3.4" stroke-opacity="0.85" stroke-linecap="round" d="M1019.3 153.9h0M1017.3 152.7h0M1017.7 149.2h0M1016.9 147.4h0M1017.9 146.6h0M1016.7 153.7h0M1017.5 149.2h0M1017.5 150.5h0M1017 149.7h0M1016.7 152.4h0M1015.8 150.4h0M1017.1 153.3h0M1016.2 150.2h0M1016.5 152.6h0M1016.6 148.4h0M1016.5 150.1h0M1016.2 150.3h0M1015.6 152.3h0M1015.5 151.9h0M1015.4 152.4h0M1015.4 154.2h0M1014.6 148.3h0M1015.8 153.1h0M1015.4 151.2h0M1015 153.3h0M1014.9 148.1h0M1014.7 152.6h0M1014.8 149.9h0M1014.7 150.5h0M1013.9 154.1h0M1013.8 152.7h0M1014.1 151.8h0M1012.5 151.5h0M1013.5 151.5h0M1013.6 152.2h0M1012.9 154h0M1013 151.1h0M1012.2 153.1h0M1012.5 148.5h0M1012 151.9h0M1012.2 153.1h0M1011.5 149.7h0M1011.5 150h0M1010.2 150.7h0M1010.9 153.5h0"/><path fill="none" stroke="#3c3c78" stroke-width="3.4" stroke-opacity="0.85" stroke-linecap="round" d="M1011.2 152.3h0M1010.4 149.3h0M1010.8 153.9h0M1009.8 151h0M1010.4 149.3h0M1010.4 153h0M1010.4 153.7h0M1009.8 151.4h0M1008.4 149.9h0M1009.3 153.6h0"/><path fill="none" stroke="#3c4884" stroke-width="3.4" stroke-opacity="0.85" stroke-linecap="round" d="M1000 154.8h0M999.7 154.5h0M999.4 153.6h0M998.1 152.7h0M999 155.5h0M997.9 154.4h0M997.5 155.2h0M997.7 155.8h0M996.4 153.8h0M998.1 156.8h0M995.7 155.1h0M996.1 156.9h0M995.4 154.3h0M995.5 156.8h0M993.4 155.1h0M994.4 157h0M994.5 156.6h0M994.2 156.2h0M994.4 158.1h0M993 158.1h0M994.2 158.2h0M992.9 158.9h0M992.6 160.4h0M991.5 157.7h0M991.5 158.2h0M990.7 158.1h0M990.2 158.3h0M991.3 160.4h0M991.6 161.1h0"/><path fill="none" stroke="#3c5484" stroke-width="3.4" stroke-opacity="0.85" stroke-linecap="round" d="M990.2 160.1h0M988.9 159.4h0M989.6 161.3h0M989.7 161.1h0"/><path fill="none" stroke="#306090" stroke-width="3.4" stroke-opacity="0.85" stroke-linecap="round" d="M984.7 171.8h0M985.3 172h0M984.9 171.9h0M983.8 172.2h0M984.5 172.5h0M987 173.4h0M985.3 174.4h0M983.3 174.8h0M986.2 174.5h0M987.1 175.4h0M984.9 175.5h0M984.8 176.6h0M983.7 177h0M986.5 176.6h0M984.5 177.7h0M986.9 177.7h0M987.3 178h0M984.5 178.3h0M985.2 178.1h0M985.1 178.8h0M985.9 179.8h0M988 179.5h0M983.8 180.6h0M987.6 180.2h0M986.8 181.1h0M986.1 182.3h0M987.4 182.4h0M985 182.3h0M985.9 182.7h0M984.5 183.9h0M985.1 184.7h0M986 183.5h0M987.2 183.1h0M988 184.7h0M984.7 184.7h0M988.3 184.2h0M984.8 186.6h0M987.6 186.8h0M987.7 186.5h0M986.6 186.9h0M988.5 187.1h0"/><path fill="none" stroke="#306c90" stroke-width="3.4" stroke-opacity="0.85" stroke-linecap="round" d="M987.6 187.3h0M987.9 188.8h0M986.8 189.2h0M988.2 188.7h0M988.6 189.3h0M985.8 190.2h0M986.8 191.2h0M987.9 190.5h0M985.6 192.1h0M986.3 192.3h0M989.2 192h0M986.7 191.4h0M987.9 192.9h0M986.7 193.5h0M988 193.9h0M988.5 193h0M989.7 194.2h0M987.8 194.6h0M987.2 194.6h0M988.9 195.1h0M987.3 195.6h0M988.1 196.3h0M988.8 196.8h0M989.7 196.5h0M989.5 196.7h0M989 197.5h0M989.2 198.3h0M988.3 199h0M989.5 198.8h0M991.5 198.7h0M989 199h0M989 200.5h0M988.3 200.9h0M990.3 201h0M991.9 200.6h0M989.7 201.4h0M988.9 202.3h0M989.2 203.8h0M990.4 202.3h0M993 202.3h0M990 203.6h0"/><path fill="none" stroke="#307890" stroke-width="3.4" stroke-opacity="0.85" stroke-linecap="round" d="M989.8 203.7h0M991.3 203.7h0M991.2 204.4h0M991.8 204.4h0M991.1 205.5h0M991.9 205.3h0M992.1 206.2h0M993.5 205.9h0M990.7 207.4h0M990.8 207.8h0M993.3 206.7h0M993.9 207.8h0M991.9 208.7h0M994.5 207.4h0M993.9 208.3h0M993.2 209.7h0M993.6 209.9h0M993.9 210.7h0M993.6 210.4h0M995.1 211.1h0"/><path fill="none" stroke="#30a884" stroke-width="3.4" stroke-opacity="0.85" stroke-linecap="round" d="M1049.9 255.1h0M1049.6 256.4h0M1050.5 256h0M1050.3 254.5h0M1050.7 254.3h0M1050.9 253.2h0M1051 252.7h0M1050.8 254.2h0M1050.5 257h0M1050.4 256h0M1051.9 255.8h0M1051.9 254.4h0M1051.6 257.8h0M1052.4 255.3h0"/><path fill="none" stroke="#48b478" stroke-width="3.4" stroke-opacity="0.85" stroke-linecap="round" d="M1069.9 260.2h0M1070.2 259.3h0M1070.4 257.5h0M1070.3 258.2h0M1070.7 256.8h0M1070.1 253.9h0M1070.3 258.6h0M1070.2 254.7h0M1071.4 257.8h0M1071.3 257.5h0M1071.4 255.1h0M1072.2 255h0"/><path fill="none" stroke="#48b46c" stroke-width="3.4" stroke-opacity="0.85" stroke-linecap="round" d="M1072.1 260.2h0M1072.3 255.6h0M1073.3 258.6h0M1072.5 259.9h0M1073 259h0M1073.7 260.3h0M1073.1 254.2h0M1073.6 254.5h0"/><path fill="none" stroke="#6cc060" stroke-width="3.4" stroke-opacity="0.85" stroke-linecap="round" d="M1093.7 256.4h0M1093.6 255.4h0M1093 251.1h0M1093.4 256.2h0M1092.7 251.3h0M1093.3 254.6h0M1093.9 252h0M1093.1 251.4h0M1093.8 256.4h0M1095 256h0M1093.3 251.4h0M1093 251.8h0M1094.2 253.1h0M1095.9 256.5h0M1094.9 254.3h0M1095.3 253.1h0M1096.3 255.4h0M1094.2 249.5h0"/><path fill="none" stroke="#78cc54" stroke-width="3.4" stroke-opacity="0.85" stroke-linecap="round" d="M1102.2 249.1h0M1103.2 253.2h0M1103.4 253h0M1101.9 250.9h0M1104.1 253.6h0M1104.4 252.1h0M1104.7 252h0M1104.2 250.9h0M1103.4 251h0"/><path fill="none" stroke="#b4d83c" stroke-width="3.4" stroke-opacity="0.85" stroke-linecap="round" d="M1130.2 244.5h0M1130.7 245.6h0M1129.2 240.3h0M1129.2 240.6h0M1130.4 243.5h0M1130.9 246.4h0M1131.7 246.3h0M1129.7 244.2h0M1130.9 244.5h0M1130.1 244.2h0M1130.7 242.8h0M1131.2 243.2h0M1132.2 244.2h0M1128.5 239.4h0M1128.3 238h0M1128 237.3h0M1129.3 239.3h0M1131.7 243.8h0M1131.5 242.7h0M1130.4 240.2h0M1132.2 244.8h0M1129.4 238.7h0M1132.8 244.3h0M1130.3 240.7h0M1132.7 243.4h0M1133.3 245.2h0M1133.3 244.4h0M1129 236h0"/><path fill="none" stroke="#2c184a" stroke-width="3.6" stroke-opacity="0.8" stroke-linecap="round" d="M1031 156h0M1033.4 153.5h0M1045.4 160.4h0M1044 151.2h0M1028.2 159h0M1033.6 154.9h0M1043.5 155.8h0M1040.5 160.9h0M1023.9 153.8h0M1033.7 149.7h0M1029.5 153.2h0M1026.1 164.4h0M1035.1 154.9h0M1033 154h0M1031.7 156.7h0M1020.9 148.9h0M1026 151.2h0M1026.6 151.6h0M1045 152.6h0M1019.7 155h0M1021.5 158.1h0M1021.5 155.1h0M1026.6 155.8h0M1012.3 159.4h0M1040.8 152.3h0M1013 154.3h0M1031.3 157.9h0M1046.3 153.9h0M1027.9 160.6h0M1017.8 156h0M1029 152.2h0M1030.5 156.6h0M1026.3 145.5h0M1027.8 153.9h0M1028.6 158.6h0M1035.3 152.8h0M1033.7 151.6h0M1023.3 153.6h0M1023.1 153.4h0M1027.2 155.9h0M1035.3 153.1h0M1024.1 152.2h0M1029.8 155.9h0M1030.8 157.4h0M1043.5 162.5h0M1030.6 156.4h0M1038.6 160h0M1022.1 156h0M1036.8 151.3h0M1035.6 154.1h0M1035.5 154.4h0M1030.9 157.7h0M1015.6 155.8h0M1030.7 162.4h0M1027.7 154.4h0M1035.4 153.1h0M1043.6 155.4h0M1017.5 156.7h0M1018.9 158.1h0M1026.2 152.2h0M1019.9 165.2h0M1039.8 147.9h0M1021.8 154h0M1027.5 157.1h0M1029.4 163.6h0M1028 156.4h0M1037.6 148.5h0M1034.3 159.4h0M1027.8 154.8h0M1025.3 150.2h0M1025.3 154.8h0M1036.5 150.6h0M1040.6 155.2h0M1034 148.3h0M1036.2 160h0M1028.9 152.9h0M1022.8 148.6h0M1037.8 146.2h0M1033.9 158.9h0M1016.2 157.1h0M1037.2 153h0M1032.2 154h0M1024.4 152.3h0M1039.1 155.5h0M1024.3 160.3h0M1041 152.7h0M1031.9 153.3h0M1028.4 152.9h0M1026 152.1h0M1016.2 162h0M1027.9 159.2h0M1026.9 146.2h0M1029.5 158.8h0M1039.4 147.6h0M1046 156.2h0M1022.9 160.9h0M1021.2 158.3h0M1029.8 157.6h0M1037.1 160.2h0M1024.1 148.4h0M1042.4 149.2h0M1041.4 157.5h0M1039.7 154.8h0M1005 154.6h0M1025.9 146.2h0M1025.3 156.8h0M1029.8 153.4h0M1010.5 154.9h0M1049.1 166.4h0M1031.9 153.6h0M1024.3 149.7h0M1027.9 156.9h0M1027.5 159.3h0M1028.5 159.8h0M1026.5 156.7h0M1033.1 151.4h0M1036.9 146.2h0M1026.6 150.6h0M1028 156h0M1026 157.6h0M1033.4 150.4h0M1050.5 160.9h0M1031.6 158.3h0M1030.4 155.7h0M1031.7 149.7h0M1042.4 155.6h0M1029.1 158.3h0M1031 154.1h0M1031.7 164.9h0M1043.7 158.6h0M1045.8 153.4h0M1019.3 156h0M1034.6 154.6h0M1020.1 152.6h0M1023.2 147.7h0M1025.4 150.2h0M1028.3 155.3h0M1020 168.9h0M1032.1 150.1h0M1015.2 153.4h0M1033 150.9h0M1034.1 159.9h0M1034.7 153.9h0M1028.3 147.6h0M1041.5 156.6h0M1042.4 158.8h0M1020.8 153.3h0M1028.4 150.6h0M1032 155.3h0M1029 153.2h0M1019.2 156.9h0M1036.5 152.8h0M1028.5 153.1h0M1023.8 160.5h0M1040.1 156.1h0M1018.8 154.6h0M1039.6 150.5h0M1037.1 155.1h0M1026.1 159.3h0M1026 146.4h0M1029 159.3h0M1031.4 153.8h0M1040.5 155.8h0M1034.1 159.4h0M1032.4 152.7h0M1023.4 157.6h0M1015.7 161.5h0M1031.3 153h0M1027.7 150.4h0M1021.4 148.3h0M1043 159h0M1024.5 154.2h0M1036 160.9h0M1027.9 156.8h0M1032.6 150.2h0M1020.7 156.7h0M1036 155.5h0M1028.2 156.9h0M1011.4 161.5h0M1032.4 157.3h0M1032.1 154.8h0M1030.3 158.8h0M1023.4 155.7h0M1023.6 145.5h0M1039.2 153.7h0M1035.6 150.6h0M1020.7 155.1h0M1038.6 158.6h0M1036.4 158.2h0M1026.5 157.4h0M1035.9 155.5h0M1043.8 153.7h0M1035.9 160.5h0M1035.6 150.9h0M1029.5 157.3h0M1024.3 155.1h0M1054.7 156.6h0M1015.3 153.1h0M1037.7 161.5h0M1023 157.4h0M1029.9 157.9h0M1038.2 152.3h0M1021.1 153.2h0M1034.3 156.5h0M1019.3 153.3h0M1025.5 157.7h0M1024.2 157.7h0M1032.7 155.2h0M1034.5 146.9h0M1011.6 155.4h0M1041.3 159.7h0M1037.2 160h0M1039.3 150.2h0M1035 162.2h0M1026.2 157.2h0M1035.6 157h0M1037.1 152.8h0M1034.7 151.2h0M1028 154.2h0M1026.9 156.2h0M1036.2 146.6h0M1029.9 156.5h0M1050.1 149.1h0M1024.3 152.8h0M1025 151.8h0M1032.5 152.9h0M1036.5 155.8h0M1031.4 155.7h0M1026.4 151.7h0M1026.4 155h0M1032.3 151.9h0M1021.3 159.3h0M1031.4 158.9h0M1024.1 149.4h0M1027.9 151.2h0M1030.8 159.5h0M1021.8 149h0M1036 158.8h0M1035.3 153h0M1032.9 161.5h0M1022.2 147.5h0M1019 157.3h0M1025.9 158.1h0M1029.5 157.7h0M1027.1 147.2h0M1029.6 149.4h0M1028.9 156.8h0M1030.9 158h0M1032.5 148.8h0M1040.7 155.2h0M1034.1 152.7h0M1040.6 152.4h0M1027.8 154.6h0M1035.1 158.3h0M1020.7 152.9h0M1033.2 150.8h0M1022.8 150h0M1018.4 151.6h0M1033.7 152.8h0M1032.1 155.8h0M1025.7 157.1h0M1021 152.2h0M1012.2 155.3h0M1034.8 157.4h0M1017.6 155.8h0M1030.9 158.5h0M1032.7 162.3h0M1037.6 161.3h0M1042.7 158.6h0M1043.2 157.3h0M1031.7 155.2h0M1022.2 153.7h0M1023.3 154.2h0M1037.3 154.3h0M1026 164.6h0M1036.7 152.9h0M1012.4 157.6h0M1027.8 155.9h0M1026.9 153.7h0M1024.4 159.5h0M1036.7 154.8h0M1040.9 153.9h0M1025.3 154.2h0M1025.4 151.6h0M1030.1 157.9h0M1033.1 148.3h0M1046.1 149.3h0M1025.1 152.1h0M1045.2 156h0M1024.5 159.3h0M1023.9 151.7h0M1030.3 152.2h0M1030.5 154.7h0M1018.4 152.5h0M1035.5 150.7h0M1036.9 163.3h0M1032.1 153.7h0M1048.2 156.1h0M1038.3 151.8h0M1046.6 156.3h0M1031.7 155.1h0M1029.1 148.7h0M1036.3 155.8h0M1023.8 148.8h0M1025.6 154.6h0M1039 157.1h0M1038.4 148.7h0M1023.6 152.5h0M1035.1 158.4h0M1027.7 159.6h0M1049.5 151.7h0M1029 157.7h0M1020.4 150h0M1035.3 156.1h0M1048.9 150.8h0M1037.4 148.3h0M1028.2 153.8h0M1019.8 150.8h0M1028 149.6h0M1028.5 163.5h0M1029.3 158.9h0M1042.6 156.4h0M1030.1 153.2h0M1021.5 158.4h0M1015 158.6h0M1018.7 153.2h0M1036.1 157.7h0M1023.7 159.4h0M1030.3 150.6h0M1036.1 148.2h0M1032.4 152.9h0M1033.6 159.5h0M1037.6 151.5h0M1021.2 161.1h0M1022.5 155.3h0M1024.6 154.3h0M1038 155.7h0M1037.5 156.3h0M1038 157.5h0M1042.5 156.3h0M1017.2 155.5h0M1029.7 150.8h0M1031.9 146.1h0M1039 157.7h0M1025.6 147.9h0M1025 158.8h0M1047.4 150.1h0M1024.2 150.7h0M1041.4 156.5h0M1024.6 152.2h0M1032.2 150.7h0M1044.3 156.6h0M1034.7 152.9h0M1034.4 156.7h0M1021.1 148.4h0M1027.7 154h0M1033.9 150h0M1024.1 152.4h0M1026.2 150.8h0M1029.4 153.8h0M1026.8 154.9h0M1024.3 158.4h0M1029.7 156.4h0M1044.7 152.1h0M1024.9 149.8h0M1026.2 166.2h0M1027.7 153.1h0M1031.8 157.8h0M1038.3 159.7h0M1040.1 145.8h0M1041.4 153.6h0M1018.4 161.5h0M1029.6 150.4h0M1033 148.1h0M1043.1 160.8h0M1038.1 150.4h0M1020.2 154h0M1024 155.1h0M1014.1 154.5h0M1028.5 156.7h0M1031.1 152.2h0M1033.9 159.2h0M1036.4 155.1h0M1027.1 155.3h0M1035.1 157.5h0M1038 156.8h0M1038.5 157.2h0M1037.5 159.1h0M1026.2 159.5h0M1028.4 153.6h0M1037.6 155.5h0M1021 161.7h0M1008.6 154h0M1041.7 150.3h0M1023.9 151.9h0M1046.5 153h0M1029.8 157.2h0M1027.7 153h0M1030.7 157.5h0M1030.3 155.4h0M1026.4 151.1h0M1038.4 153.4h0M1041.6 156.7h0M1029.6 154.3h0M1038.4 159.1h0M1026 154.6h0M1030.6 155.6h0M1034.3 150.2h0M1043.1 154h0M1036.4 153.2h0M1024.3 149.3h0M1025.5 151.6h0M1017.6 153.7h0M1023.3 147.6h0M1031.2 155.9h0M1034.8 153.6h0M1034.1 149.4h0M1031.4 155.7h0M1048.3 154.8h0M1026.7 151.9h0M1026.5 157.2h0M1033.9 157.5h0M1037.1 153.6h0M1016.9 153.8h0M1028.1 150.4h0M1029.2 156h0M1033 158.7h0M1039.7 148h0M1029.6 154h0M1023.6 155.2h0M1021.8 155.4h0M1036.9 148.5h0M1027.2 156.5h0M1036.1 155h0M1023.6 144.8h0M1020.4 155.2h0M1040.7 148h0M1039.2 157.9h0M1021.4 155.3h0M1020.5 154.1h0M1041.1 149.9h0M1046.5 149.2h0M1031.5 151.4h0M1019.2 152h0M1029.3 163.7h0M1026.3 152.2h0M1034.1 151.6h0M1031.1 147h0M1037.5 152.5h0M1033.4 147.1h0M1030 150.2h0M1030.4 157.5h0M1026.4 150.9h0M1041.4 158.5h0M1032.4 156.2h0M1019.1 156.2h0M1031.4 158.6h0M1023.5 154.8h0M1032.8 156h0M1023.9 159.4h0M1040.1 155h0M1026.5 156.3h0M1041 154.1h0M1026.8 149h0M1039.2 155.1h0M1032.5 153.4h0M1034 155.2h0M1044.9 163.1h0M1015.1 151.5h0M1025.9 154.7h0M1043.6 156.6h0M1032.3 161.3h0M1027.6 159.3h0M1022.8 158.7h0M1040.8 161.1h0M1039 154.7h0M1042.6 160.2h0M1041.9 152h0M1037.4 151.2h0M1027.8 155.5h0M1034.9 157.4h0M1027.2 156.5h0M1039.4 150.1h0M1038.7 160h0M1027.2 154.9h0M1034 162.7h0M1023.3 156.1h0M1016.9 155.6h0M1032 155.2h0M1036.5 148.6h0M1024.1 155.8h0M1035.7 155.6h0M1032.1 158.2h0M1025.4 156.3h0M1018 158h0M1031.6 158.8h0M1039.9 157.5h0M1023.1 154.2h0M1041.4 152.8h0M1024.3 147h0M1036.3 156.5h0M1021.2 152.4h0M1029.7 153.2h0M1029.8 149.4h0M1022.5 153.2h0M1024 146.3h0M1024.8 163.4h0M1033 162h0M1041.3 153.7h0M1031.7 155.1h0M1035 145.6h0M1033.6 151.9h0M1022.9 146.6h0M1014.8 154.8h0M1025.8 153.9h0M1034.1 161.8h0M1026.9 155.5h0M1040.9 155.4h0M1027 162.2h0M1035.5 155.3h0M1032.4 157.2h0M1029.2 148.9h0M1027.5 158.3h0M1030.3 157.9h0M1031.9 156.4h0M1027.7 157.3h0M1037.6 157.3h0M1036.1 153.5h0M1026.7 152.2h0M1031.8 156.5h0M1026.5 158.3h0M1036.3 153h0M1015.7 157.6h0M1022.8 155.5h0M1028.4 152.7h0M1026.8 163.3h0M1046.2 148.9h0M1031.5 159.7h0M1045.7 156h0M1018.5 149.9h0M1028 158.9h0M1031.6 146.4h0M1028.4 153.3h0M1035.2 158.8h0M1035.1 153.5h0M1037.6 158h0M1021.7 143.7h0M1035.5 160.7h0M1030.5 156h0M1042 152.1h0M1021.7 157.1h0M1031.6 162h0M1031.1 152.2h0M1029.7 158.7h0M1030.8 151.6h0M1025.8 157.2h0M1029.7 155.3h0M1018.8 154.9h0M1044 155.7h0M1020.3 158.9h0"/><path fill="none" stroke="#341e54" stroke-width="3.6" stroke-opacity="0.75" stroke-linecap="round" d="M1057.1 145.7h0M1031.5 145.4h0M1043.9 152.8h0M1037.7 150.1h0M1041.6 146.2h0M1033.2 148.5h0M1049.1 153.8h0M1049 146h0M1048 156.1h0M1048 140.8h0M1049 151.7h0M1047.9 164.4h0M1051.9 152.9h0M1034.6 136.8h0M1035.8 149h0M1041.6 137.5h0M1060.5 147.3h0M1044.4 145.8h0M1044.6 148.1h0M1041.4 148.6h0M1042.2 136.2h0M1052.6 150.5h0M1057.5 144.6h0M1059.9 151.6h0M1044 146.8h0M1048.8 144h0M1044.3 148.3h0M1044.7 146.8h0M1054.3 158.6h0M1035.8 140.5h0M1057.1 148h0M1035.8 154.6h0M1047 151.8h0M1054.6 144.3h0M1045.3 139.4h0M1052.6 141.1h0M1044.4 147.3h0M1051.1 144.3h0M1062.5 155.4h0M1043.2 142.4h0M1056.9 144.3h0M1042.1 151.5h0M1046.9 153.2h0M1062.4 146.8h0M1051.5 161.2h0M1057.9 146.5h0M1059.6 140.1h0M1056.4 145.9h0M1038.4 147.3h0M1049.8 153.2h0M1052.1 140.1h0M1057.7 141.8h0M1038.4 142.1h0M1045.8 136.5h0M1060.8 147.1h0M1055.1 140.4h0M1051.1 148.5h0M1043.3 141.3h0M1044.3 139.2h0M1054.3 153.2h0M1044.9 150.4h0M1058.4 141.9h0M1047.6 152.8h0M1043.8 147.5h0M1045.3 146.4h0M1041.6 144.9h0M1049.6 146.8h0M1047.6 145.1h0M1031 152.1h0M1056 145.2h0"/><path fill="none" stroke="#90ccf0" stroke-width="3.6" stroke-opacity="0.8" stroke-linecap="round" d="M1045 206h0"/><text x="387.9" y="331.7" font-size="27" textLength="15.8" lengthAdjust="spacingAndGlyphs" font-weight="bold" fill="#1a1a1a" stroke="#1a1a1a" stroke-width="0.6">c</text><text x="762.9" y="329.7" font-size="18.9" textLength="206.9" lengthAdjust="spacingAndGlyphs">Within-animal decoding</text><text x="-1.6" y="0" font-size="20" textLength="102.8" lengthAdjust="spacingAndGlyphs" transform="translate(487.5 432.5) rotate(-90)">Position (m)</text><path fill="none" stroke="#3a3a3a" stroke-width="1.2" d="M521.3 351.5H525.3V414.5H521.3 M521.3 372.5H525.3 M521.3 393.5H525.3"/><text x="507.4" y="377.4" font-size="14.8" textLength="6.4" lengthAdjust="spacingAndGlyphs">1</text><text x="503.3" y="419.5" font-size="14.8" textLength="10.5" lengthAdjust="spacingAndGlyphs">0</text><path fill="none" stroke="#5dbb76" stroke-width="2.2" stroke-linejoin="round" d="M533 414.5 L537 412.8 L541 409.5 L546 395.6 L551 380.9 L554 359.9 L557 347.3 L561 359.1 L565 364.9 L570 380.9 L574 397.7 L577 410.3 L580 412.4 L584 412.4 L590 389.3 L594 368.3 L597 347.3 L600 353.6 L603 380.9 L606 412.4 L612 412.4 L617 385.1 L622 347.3 L627 355.7 L633 372.5 L638 393.5 L644 412.4 L654 412.4 L660 389.3 L665 364.1 L669 347.3 L673 359.9 L677 389.3 L681 412.4 L688 412.4 L695 397.7 L700 376.7 L705 347.3 L710 347.3 L714 359.9 L718 376.7 L722 389.3 L727 414.5"/><path fill="none" stroke="#6a4ea8" stroke-width="1.5" stroke-linejoin="round" d="M533 414.4 L534.3 412.4 L535.6 414.6 L536.9 411.6 L538.2 412.1 L539.5 411 L540.8 407.2 L542.1 406.2 L543.4 402.9 L544.7 398.3 L546 394.2 L546.5 368.3 L547.3 391.8 L548.6 387.2 L549.9 385.4 L551.2 380 L551.5 370.4 L552.5 371 L553.8 363 L555.1 357.2 L556.4 351.9 L557.7 349.7 L559 353.4 L560.3 357.4 L561.5 383 L561.6 359.9 L562.9 363.5 L564.2 363.9 L565.5 366.2 L566.5 383 L566.8 369.7 L568.1 375.9 L569.4 379.5 L570.7 386.4 L572 389.9 L573.3 397.5 L574.6 402 L575.9 404.3 L577.2 413.2 L578.5 410.3 L579.8 411.8 L581.1 412.8 L582.4 411.8 L583.7 411.7 L585 407.2 L586 389.3 L586.3 403.8 L587.6 399.3 L588.9 394.3 L590.2 389.5 L591.5 381.5 L592 410.3 L592.8 375.6 L594.1 366.3 L595.4 360.9 L596.7 350.8 L598 350.6 L599.3 354.8 L600.6 356.7 L601.9 373.9 L603.2 383.4 L604.5 397.3 L605.8 408.2 L607.1 414.9 L608.4 411 L609.7 413.3 L611 412.6 L612.3 411.6 L613.6 402.9 L614.9 398 L616.2 389.6 L617.5 380.9 L618.8 369.2 L620.1 364.7 L621.4 349.9 L622.7 347.3 L624 351.3 L625.3 352.5 L626.6 355.6 L627.9 356.1 L629.2 361.6 L630.5 365.8 L631.8 369.4 L633.1 373.2 L634.4 378.6 L635.4 353.6 L640.2 353.6 L640.3 393.5 L640.9 402.8 L642.2 406.9 L643.5 410.4 L644.8 412.7 L646.1 412.6 L647.4 412 L648.7 411.2 L650 413 L651.3 412.9 L652.6 410 L653.9 411.7 L655.2 409 L656.5 399.8 L657.8 396.8 L659.1 393.5 L660.4 388.8 L661.7 380.4 L663 375.2 L664.3 369 L665.6 363.2 L666.9 356.8 L668.2 349.3 L669.5 349.4 L670.8 354.8 L672.1 356.2 L673.4 362.8 L674.7 371.3 L676 380.4 L677.3 391.2 L678.6 398.7 L679.9 406.1 L681.2 413.8 L682.5 411.6 L683.8 410.7 L685.1 412.2 L686.4 412.7 L687.7 412.7 L689 411.3 L690 375 L690.3 408.6 L691.6 405.3 L692.9 403.2 L694.2 399.9 L695 372.5 L695.5 397.6 L696.8 389.7 L698.1 384.6 L699.4 380.7 L700.7 375.5 L702 364.9 L703.3 355.9 L704.6 350.6 L705.9 347.9 L707.2 348 L708.5 346.5 L709.8 348.5 L711.1 349.5 L712.4 355.2 L713.7 357.8 L715 364.1 L716.3 369.9 L717.6 376.9 L718.9 380.4 L720.2 384 L721.5 386.9 L722 380.9 L722.8 393 L724.1 400.8 L725.4 405.9 L726.7 411.7"/><path fill="none" stroke="#3a3a3a" stroke-width="1.2" d="M756.8 352.4H760.8V415.4H756.8 M756.8 373.4H760.8 M756.8 394.4H760.8"/><text x="742.9" y="378.3" font-size="14.8" textLength="6.4" lengthAdjust="spacingAndGlyphs">1</text><text x="738.8" y="420.4" font-size="14.8" textLength="10.5" lengthAdjust="spacingAndGlyphs">0</text><path fill="none" stroke="#5dbb76" stroke-width="2.2" stroke-linejoin="round" d="M768.5 415.4 L772.5 413.7 L776.5 410.4 L781.5 396.5 L786.5 381.8 L789.5 360.8 L792.5 348.2 L796.5 360 L800.5 365.8 L805.5 381.8 L809.5 398.6 L812.5 411.2 L815.5 413.3 L819.5 413.3 L825.5 390.2 L829.5 369.2 L832.5 348.2 L835.5 354.5 L838.5 381.8 L841.5 413.3 L847.5 413.3 L852.5 386 L857.5 348.2 L862.5 356.6 L868.5 373.4 L873.5 394.4 L879.5 413.3 L889.5 413.3 L895.5 390.2 L900.5 365 L904.5 348.2 L908.5 360.8 L912.5 390.2 L916.5 413.3 L923.5 413.3 L930.5 398.6 L935.5 377.6 L940.5 348.2 L945.5 348.2 L949.5 360.8 L953.5 377.6 L957.5 390.2 L962.5 415.4"/><path fill="none" stroke="#6a4ea8" stroke-width="1.3" stroke-linejoin="round" d="M768.5 415.4 L769 415.4 L769.6 410.4 L770.1 415.4 L770.7 415.4 L771.2 403.8 L771.8 413.3 L772.3 409.6 L772.9 407.8 L773.4 415.4 L774 408.2 L774.5 415.4 L775.1 406.7 L775.6 406 L776.2 415.4 L776.7 402.5 L777.3 379.1 L777.8 409 L778.4 405.5 L778.9 405.7 L779.5 402.3 L780 415.4 L780.6 388.3 L781.1 411.4 L781.7 385.3 L782.2 401.7 L782.8 410.3 L783.3 397.6 L783.9 394.8 L784.4 396.6 L785 392.1 L785.5 389.6 L786.1 397.5 L786.6 378.7 L787.2 392 L787.7 376.4 L788.3 355.8 L788.8 351.3 L789.4 362.4 L789.9 352.3 L790.5 392 L791 368.9 L791.6 348.2 L792.1 352.3 L792.7 356 L793.2 348.2 L793.8 385.7 L794.3 348.2 L794.9 350.6 L795.4 354.3 L796 356.8 L796.5 368.1 L797.1 368.2 L797.6 358.3 L798.2 373.8 L798.7 357.1 L799.3 348.2 L799.8 405 L800.4 378.3 L800.9 354.5 L801.5 373.2 L802 369.8 L802.6 361.2 L803.1 384 L803.7 379.7 L804.2 397.3 L804.8 387.4 L805.3 374.7 L805.9 394.5 L806.4 374.9 L807 384 L807.5 389.7 L808.1 408.5 L808.6 388.1 L809.2 394.6 L809.7 400.8 L810.3 399 L810.8 409.8 L811.4 415.4 L811.9 415.4 L812.5 415.4 L813 415.4 L813.6 415.4 L814.1 405.1 L814.7 412.3 L815.2 415.4 L815.8 415.4 L816.3 415.4 L816.9 415.4 L817.4 415.4 L818 373.2 L818.5 402.7 L819.1 415.4 L819.6 415.4 L820.2 415.4 L820.7 414.8 L821.3 408.7 L821.8 398 L822.4 407.8 L822.9 402.7 L823.5 409.2 L824 389.4 L824.6 409.5 L825.1 415.4 L825.7 400.2 L826.2 378.3 L826.8 382.6 L827.3 374.4 L827.9 361.7 L828.4 378.9 L829 372.1 L829.5 363.4 L830.1 359.8 L830.6 364.9 L831.2 377.7 L831.7 348.2 L832.3 348.2 L832.8 348.2 L833.4 348.2 L833.9 348.2 L834.5 356.5 L835 354.7 L835.6 348.2 L836.1 348.2 L836.7 371.6 L837.2 363.7 L837.8 348.2 L838.3 385.8 L838.9 378.6 L839.4 385.4 L840 402.3 L840.5 413.1 L841.1 412.7 L841.6 415.4 L842.2 381.7 L842.7 399.7 L843.3 415.4 L843.8 409.9 L844.4 415.4 L844.9 415.4 L845.5 413.8 L846 415.4 L846.6 411.6 L847.1 415.1 L847.7 411.3 L848.2 415.4 L848.8 415.4 L849.3 406.9 L849.9 415.4 L850.4 392.9 L851 384.3 L851.5 382.8 L852.1 415.4 L852.6 369.7 L853.2 385.6 L853.7 378 L854.3 377.2 L854.8 363.1 L855.4 376.9 L855.9 351.4 L856.5 359.4 L857 348.2 L857.6 382.3 L858.1 376.4 L858.7 359.4 L859.2 352.5 L859.8 348.2 L860.3 350.7 L860.9 373.3 L861.4 385.8 L862 348.2 L862.5 396.7 L863.1 365.8 L863.6 393.5 L864.2 361.9 L864.7 370.6 L865.3 358.6 L865.8 372.9 L866.4 400.9 L866.9 367.5 L867.5 373.7 L868 371.6 L868.6 375.6 L869.1 376 L869.7 355.1 L870.2 377.3 L870.8 394.2 L871.3 405.6 L871.9 399 L872.4 407.6 L873 415.4 L873.5 391.7 L874.1 389.9 L874.6 383.2 L875.2 386.7 L875.7 388.1 L876.3 385 L876.8 406.2 L877.4 392.9 L877.9 396.1 L878.5 415.4 L879 389 L879.6 403.9 L880.1 382.2 L880.7 415.4 L881.2 410.2 L881.8 415.4 L882.3 413.7 L882.9 415.4 L883.4 412.7 L884 401.9 L884.5 415.4 L885.1 415.4 L885.6 403.4 L886.2 415.4 L886.7 415.4 L887.3 415.4 L887.8 408.1 L888.4 411.8 L888.9 415.4 L889.5 415.4 L890 398.2 L890.6 406.2 L891.1 415.4 L891.7 413.6 L892.2 389.8 L892.8 389.4 L893.3 415.4 L893.9 387 L894.4 392.9 L895 387.1 L895.5 386.4 L896.1 374.9 L896.6 396.2 L897.2 382.4 L897.7 348.2 L898.3 369.5 L898.8 377.2 L899.4 368 L899.9 373 L900.5 360.7 L901 348.2 L901.6 358.4 L902.1 348.2 L902.7 367.5 L903.2 362.5 L903.8 349.6 L904.3 386.7 L904.9 348.2 L905.4 348.2 L906 348.2 L906.5 364.9 L907.1 351 L907.6 363.7 L908.2 348.2 L908.7 352.4 L909.3 363.8 L909.8 360.7 L910.4 367.9 L910.9 353.8 L911.5 389.7 L912 396.1 L912.6 383.2 L913.1 415.4 L913.7 397.1 L914.2 406 L914.8 404.4 L915.3 415.4 L915.9 413.5 L916.4 409 L917 394.5 L917.5 415.4 L918.1 415.4 L918.6 415.4 L919.2 399.9 L919.7 409.8 L920.3 415.4 L920.8 401.9 L921.4 407.7 L921.9 415.4 L922.5 410.8 L923 415.4 L923.6 415.4 L924.1 415.4 L924.7 415.4 L925.2 404.7 L925.8 409 L926.3 405.3 L926.9 399.4 L927.4 415.4 L928 415.4 L928.5 415.4 L929.1 399.4 L929.6 408 L930.2 408.5 L930.7 400.7 L931.3 382.1 L931.8 401.9 L932.4 396.8 L932.9 386.3 L933.5 415.4 L934 391.2 L934.6 368.4 L935.1 351.5 L935.7 371.2 L936.2 382.5 L936.8 358 L937.3 365.4 L937.9 375.7 L938.4 357.7 L939 364 L939.5 359 L940.1 348.2 L940.6 348.2 L941.2 354.8 L941.7 348.2 L942.3 348.2 L942.8 348.2 L943.4 348.2 L943.9 375.1 L944.5 350.7 L945 371.7 L945.6 366.3 L946.1 351.9 L946.7 348.2 L947.2 348.2 L947.8 352 L948.3 363.6 L948.9 352 L949.4 363.2 L950 358.6 L950.5 405.9 L951.1 398.7 L951.6 382.8 L952.2 365.3 L952.7 348.2 L953.3 383.5 L953.8 377.1 L954.4 413.3 L954.9 381.7 L955.5 384.8 L956 385 L956.6 392.4 L957.1 403.1 L957.7 381.1 L958.2 376 L958.8 380.4 L959.3 398.9 L959.9 399.4 L960.4 406.8 L961 384.4 L961.5 411.1 L962.1 404.2"/><path fill="none" stroke="#3a3a3a" stroke-width="1.2" d="M991.8 350.4H995.8V413.4H991.8 M991.8 371.4H995.8 M991.8 392.4H995.8"/><text x="977.9" y="376.3" font-size="14.8" textLength="6.4" lengthAdjust="spacingAndGlyphs">1</text><text x="973.8" y="418.4" font-size="14.8" textLength="10.5" lengthAdjust="spacingAndGlyphs">0</text><path fill="none" stroke="#5dbb76" stroke-width="2.2" stroke-linejoin="round" d="M1003.5 413.4 L1007.5 411.7 L1011.5 408.4 L1016.5 394.5 L1021.5 379.8 L1024.5 358.8 L1027.5 346.2 L1031.5 358 L1035.5 363.8 L1040.5 379.8 L1044.5 396.6 L1047.5 409.2 L1050.5 411.3 L1054.5 411.3 L1060.5 388.2 L1064.5 367.2 L1067.5 346.2 L1070.5 352.5 L1073.5 379.8 L1076.5 411.3 L1082.5 411.3 L1087.5 384 L1092.5 346.2 L1097.5 354.6 L1103.5 371.4 L1108.5 392.4 L1114.5 411.3 L1124.5 411.3 L1130.5 388.2 L1135.5 363 L1139.5 346.2 L1143.5 358.8 L1147.5 388.2 L1151.5 411.3 L1158.5 411.3 L1165.5 396.6 L1170.5 375.6 L1175.5 346.2 L1180.5 346.2 L1184.5 358.8 L1188.5 375.6 L1192.5 388.2 L1197.5 413.4"/><path fill="none" stroke="#6a4ea8" stroke-width="1.3" stroke-linejoin="round" d="M1003.5 413.4 L1004.1 407.8 L1004.8 412.1 L1005.4 413.4 L1006.1 413.4 L1006.7 413.4 L1007.4 413.4 L1008 400.8 L1008.7 413.4 L1009.3 408.3 L1010 412.6 L1010.6 393.7 L1011.3 403.2 L1011.9 406.4 L1012.6 404.7 L1013.2 394.6 L1013.9 402.2 L1014.5 393.8 L1015.2 394.1 L1015.8 400.5 L1016.5 397.6 L1017.1 394.9 L1017.8 385.6 L1018.4 378 L1019.1 391.4 L1019.7 380.3 L1020.4 383.7 L1021 381.7 L1021.7 383.7 L1022.3 367.5 L1023 370.6 L1023.6 352.6 L1024.3 372.4 L1024.9 358.6 L1025.6 355.7 L1026.2 351.1 L1026.9 350.7 L1027.5 346.2 L1028.2 348.9 L1028.8 346.2 L1029.5 356.2 L1030.1 357.2 L1030.8 352.1 L1031.4 363.8 L1032.1 352.7 L1032.7 357.3 L1033.4 357.5 L1034 360.2 L1034.7 360.8 L1035.3 356.4 L1036 364.1 L1036.6 368.4 L1037.3 380.6 L1037.9 380 L1038.6 370.5 L1039.2 380.6 L1039.9 373.3 L1040.5 376 L1041.2 413.4 L1041.8 390.5 L1042.5 383.6 L1043.1 388.4 L1043.8 390.6 L1044.4 391.7 L1045.1 400.7 L1045.7 387.3 L1046.4 365.1 L1047 409.1 L1047.7 411.3 L1048.3 406.7 L1049 413.1 L1049.6 408.9 L1050.3 411.7 L1050.9 413.4 L1051.6 411.5 L1052.2 406.6 L1052.9 413.4 L1053.5 413.4 L1054.2 405.9 L1054.8 413.4 L1055.5 409.8 L1056.1 409.6 L1056.8 397.1 L1057.4 408.1 L1058.1 402.2 L1058.7 397 L1059.4 403.9 L1060 387.7 L1060.7 390.1 L1061.3 377.5 L1062 383.3 L1062.6 376.8 L1063.3 378.7 L1063.9 374.1 L1064.6 375.1 L1065.2 361.2 L1065.9 346.2 L1066.5 351.5 L1067.2 346.2 L1067.8 350.9 L1068.5 347.9 L1069.1 348.7 L1069.8 346.2 L1070.4 355.7 L1071.1 356.3 L1071.7 357.5 L1072.4 390.3 L1073 368.5 L1073.7 387.2 L1074.3 383.3 L1075 396 L1075.6 398.3 L1076.3 400.8 L1076.9 413.4 L1077.6 412.7 L1078.2 413.4 L1078.9 410.3 L1079.5 413.4 L1080.2 410.9 L1080.8 403 L1081.5 405.8 L1082.1 401.8 L1082.8 413.4 L1083.4 401.1 L1084.1 377.5 L1084.7 401.6 L1085.4 392.8 L1086 387.2 L1086.7 396.4 L1087.3 379 L1088 383.7 L1088.6 369.1 L1089.3 374.5 L1089.9 372.7 L1090.6 366.2 L1091.2 350.2 L1091.9 346.2 L1092.5 351.1 L1093.2 349.2 L1093.8 350.2 L1094.5 353.5 L1095.1 346.3 L1095.8 348.1 L1096.4 354.8 L1097.1 358.1 L1097.7 357.5 L1098.4 361 L1099 360.5 L1099.7 358.4 L1100.3 347.9 L1101 355.9 L1101.6 346.2 L1102.3 370.9 L1102.9 378.1 L1103.6 363.3 L1104.2 376.9 L1104.9 383 L1105.5 387.5 L1106.2 408 L1106.8 375.1 L1107.5 388.1 L1108.1 388.5 L1108.8 384.6 L1109.4 400.6 L1110.1 402.9 L1110.7 396.5 L1111.4 367.2 L1112 399.2 L1112.7 399.7 L1113.3 406 L1114 407 L1114.6 377.9 L1115.3 410.8 L1115.9 413.4 L1116.6 413.4 L1117.2 403.2 L1117.9 383.5 L1118.5 413.4 L1119.2 397.5 L1119.8 413.4 L1120.5 404.4 L1121.1 413.2 L1121.8 407.6 L1122.4 413.4 L1123.1 369.9 L1123.7 404.8 L1124.4 397.9 L1125 411.2 L1125.7 403.4 L1126.3 403.6 L1127 409.6 L1127.6 405.3 L1128.3 369.4 L1128.9 383.3 L1129.6 383.8 L1130.2 392 L1130.9 385 L1131.5 397.9 L1132.2 362.9 L1132.8 380.8 L1133.5 372.5 L1134.1 346.2 L1134.8 346.2 L1135.4 368.1 L1136.1 359.6 L1136.7 359.5 L1137.4 374.6 L1138 349.1 L1138.7 346.2 L1139.3 346.2 L1140 346.2 L1140.6 346.2 L1141.3 357.4 L1141.9 356.4 L1142.6 356 L1143.2 356.7 L1143.9 367.9 L1144.5 369.5 L1145.2 365.3 L1145.8 346.2 L1146.5 384.8 L1147.1 389.5 L1147.8 413.4 L1148.4 388 L1149.1 395.6 L1149.7 408.6 L1150.4 413.4 L1151 413.4 L1151.7 407.6 L1152.3 413.4 L1153 403.2 L1153.6 413.4 L1154.3 406.8 L1154.9 411.2 L1155.6 412.8 L1156.2 413.4 L1156.9 413.4 L1157.5 413.4 L1158.2 413.4 L1158.8 406.3 L1159.5 397.6 L1160.1 404.7 L1160.8 406.9 L1161.4 399.4 L1162.1 398.3 L1162.7 394.5 L1163.4 411.1 L1164 397.3 L1164.7 387.5 L1165.3 409.6 L1166 372.6 L1166.6 403.8 L1167.3 369.3 L1167.9 383.8 L1168.6 369.9 L1169.2 383.3 L1169.9 373.8 L1170.5 380.8 L1171.2 373.7 L1171.8 360.5 L1172.5 375.5 L1173.1 356 L1173.8 354.3 L1174.4 346.2 L1175.1 351.1 L1175.7 346.2 L1176.4 346.2 L1177 346.2 L1177.7 347.5 L1178.3 347.6 L1179 348.6 L1179.6 351 L1180.3 346.2 L1180.9 346.2 L1181.6 346.2 L1182.2 353.1 L1182.9 351.2 L1183.5 360.2 L1184.2 354.9 L1184.8 359.1 L1185.5 369.2 L1186.1 363.1 L1186.8 366 L1187.4 376.4 L1188.1 369.2 L1188.7 349.7 L1189.4 374.1 L1190 386.8 L1190.7 380.5 L1191.3 381.7 L1192 387 L1192.6 413.4 L1193.3 396.6 L1193.9 378.1 L1194.6 410.2 L1195.2 407.5 L1195.9 372.8 L1196.5 413.4 L1197.2 413.4"/><rect x="534" y="427" width="40" height="5.4" fill="#1a1a1a"/><text x="536.1" y="449" font-size="14.8" textLength="30.5" lengthAdjust="spacingAndGlyphs">10 s</text><line x1="596" y1="439.3" x2="612.3" y2="439.3" stroke="#6a4ea8" stroke-width="2.4"/><text x="621.1" y="444.1" font-size="16.7" textLength="75.7" lengthAdjust="spacingAndGlyphs">Prediction</text><line x1="723.9" y1="439.3" x2="740" y2="439.3" stroke="#5dbb76" stroke-width="2.4"/><text x="749.4" y="444.1" font-size="16.7" textLength="95.7" lengthAdjust="spacingAndGlyphs">Ground truth</text><text x="-0.3" y="415.7" font-size="27" textLength="18.7" lengthAdjust="spacingAndGlyphs" font-weight="bold" fill="#1a1a1a" stroke="#1a1a1a" stroke-width="0.6">d</text><path fill="none" stroke="#3a3a3a" stroke-width="1.2" d="M118.6 427.5H124.6V662.4H118.6M118.6 603.7H124.6M118.6 545H124.6M118.6 486.2H124.6"/><text x="86" y="432.8" font-size="15.5" textLength="25.4" lengthAdjust="spacingAndGlyphs">0.8</text><text x="86" y="491.5" font-size="15.5" textLength="25.4" lengthAdjust="spacingAndGlyphs">0.6</text><text x="86" y="550.3" font-size="15.5" textLength="25.1" lengthAdjust="spacingAndGlyphs">0.4</text><text x="86" y="609" font-size="15.5" textLength="25.5" lengthAdjust="spacingAndGlyphs">0.2</text><text x="101.4" y="667.7" font-size="15.5" textLength="9.9" lengthAdjust="spacingAndGlyphs">0</text><text x="-1.6" y="0" font-size="19.3" textLength="120.1" lengthAdjust="spacingAndGlyphs" transform="translate(71.3 603.8) rotate(-90)">MAE error (m)</text><path fill="none" stroke="#6a6a6a" stroke-width="1.2" d="M152.8 417V412.6H265V417M153.3 446V440.9H214.2V446"/><text x="194.6" y="412.6" font-size="22" textLength="39.1" lengthAdjust="spacingAndGlyphs">****</text><text x="164.6" y="441" font-size="22" textLength="39.1" lengthAdjust="spacingAndGlyphs">****</text><path fill="none" stroke="#d9867b" stroke-opacity="0.85" stroke-width="3.6" stroke-linecap="round" d="M149 568.5h0M156 575h0M160 583.7h0M163.4 592.2h0M162.4 603.4h0M161.2 610.5h0M152 617h0M154 617h0M150.2 624h0M158.5 624.4h0M158.8 649.6h0M156.9 630.2h0M159.3 647.6h0M157.8 657.7h0M163.5 643h0M153.7 659.7h0M163.8 659.7h0M148.4 640.4h0M166.9 627.5h0M159.9 642h0M147.9 658.4h0M148.8 646.9h0M152.4 657.6h0M156.9 660.7h0M164.4 650h0M160.4 647.2h0M160.8 647.9h0M153.2 649.5h0M167.5 626.7h0M161.8 634h0M152.2 654.1h0M149 654.9h0M155.6 637.3h0M155.3 633.8h0M164.5 628.6h0M151.8 660.9h0M157 630.9h0M155.5 627.6h0M160.2 660.1h0M153 636.8h0M154.3 659.8h0M162.8 628.3h0M152.5 659.2h0M148.8 659.5h0M151.2 636h0M156.5 645.7h0M162.2 657.6h0M160.5 658.9h0M156 659.2h0M153 657h0"/><rect x="154.4" y="626.3" width="6.4" height="28.8" fill="#c23b40"/><rect x="149.1" y="644" width="17" height="5.6" fill="#c23b40"/><path fill="none" stroke="#8eaad2" stroke-opacity="0.85" stroke-width="3.6" stroke-linecap="round" d="M207.5 461.7h0M215.8 461.7h0M215.4 484.4h0M214 496.6h0M212.2 516.6h0M205 546.3h0M216.6 546.3h0M211.7 566.6h0M215 569h0M212.4 575.9h0M204.4 583h0M213.4 598.3h0M200.7 603.2h0M203.2 612.2h0M214.1 609.8h0M215.4 597.5h0M217 648.4h0M207.2 653.5h0M212.1 607.9h0M219.1 658.3h0M204.5 653.3h0M205.9 614.9h0M200.8 648.9h0M211 658.7h0M211.3 651.8h0M208.4 644.4h0M209 598.6h0M216.6 630.5h0M202.4 654.8h0M215.7 603.1h0M203.1 651.5h0M218.1 617.6h0M218.3 654.2h0M211.4 605.5h0M201.4 641.2h0M218.6 660.2h0M213.4 652.1h0M215.8 651.1h0M205.2 628.9h0M213.7 655.2h0M203.9 659.4h0M216.3 631.6h0M204.9 627.5h0M203.4 602.3h0M204.7 660.7h0M200.5 639.6h0M206.7 655.1h0M201.9 630.7h0M217.1 645h0M212.4 596.6h0M211 621.5h0M200 656.7h0M217.5 660.7h0M218.6 620.7h0M212 660.6h0"/><rect x="206.1" y="592.8" width="6.4" height="56.7" fill="#2e6e9e"/><rect x="200.8" y="626.4" width="17" height="5.6" fill="#2e6e9e"/><path fill="none" stroke="#f0ac78" stroke-opacity="0.85" stroke-width="3.6" stroke-linecap="round" d="M261.7 498.3h0M259.3 514h0M262.4 513h0M257.3 552h0M267.8 580.7h0M266.1 583.2h0M264.9 594.6h0M258.5 604.4h0M264.6 645.7h0M270 652.4h0M260.9 659.8h0M268 633.3h0M264.1 633.3h0M268.3 630.3h0M263.7 651.1h0M267.4 624.3h0M265.8 648.5h0M261.5 626.4h0M257.6 639h0M262.2 641h0M262.8 659.7h0M267.6 618.9h0M257.8 633.7h0M261.6 633.4h0M266.8 647.5h0M265 659.6h0M262 660.6h0M254.6 645.7h0M259.9 635.3h0M268.4 639.5h0M250.2 654.6h0M263.6 653h0M253.4 656.4h0M263.2 624h0M267.8 647.4h0M263.3 652.1h0M258.6 656.5h0M268.3 629.6h0M257.7 625.5h0M256.3 641h0M259.9 658.3h0M267 627.9h0M269 634.6h0M253.4 653.9h0M255.5 647h0M258.3 656h0M259.9 638.9h0M266.8 652.5h0"/><rect x="256.8" y="617.8" width="6.4" height="34.4" fill="#e3893a"/><rect x="251.5" y="638.2" width="17" height="5.6" fill="#e3893a"/><circle cx="91.7" cy="699.5" r="4.7" fill="#dd8c82"/><text x="105.9" y="704.5" font-size="15.8" textLength="61.1" lengthAdjust="spacingAndGlyphs">MARBLE</text><circle cx="91.7" cy="718.6" r="4.7" fill="#8aa8d0"/><text x="106.3" y="723.6" font-size="15.8" textLength="88.4" lengthAdjust="spacingAndGlyphs">CEBRA-time</text><circle cx="91.7" cy="737.7" r="4.7" fill="#f2b07a"/><text x="106.3" y="742.7" font-size="15.8" textLength="118.8" lengthAdjust="spacingAndGlyphs">CEBRA-behavior</text><text x="388.2" y="499.6" font-size="27" textLength="16" lengthAdjust="spacingAndGlyphs" font-weight="bold" fill="#1a1a1a" stroke="#1a1a1a" stroke-width="0.6">e</text><text x="756" y="496.4" font-size="18.6" textLength="210.3" lengthAdjust="spacingAndGlyphs">Across-animal decoding</text><defs><linearGradient id="cb" x1="0" x2="0" y1="0" y2="1"><stop offset="0" stop-color="#201d1e"/><stop offset="0.05" stop-color="#201d1e"/><stop offset="0.06" stop-color="#363637"/><stop offset="0.5" stop-color="#7c7c7e"/><stop offset="1" stop-color="#f4f4f4"/></linearGradient></defs><rect x="388.1" y="518.9" width="15.4" height="96.4" fill="url(#cb)" stroke="#555" stroke-width="0.8"/><text x="410.5" y="523.8" font-size="14.3" textLength="28.3" lengthAdjust="spacingAndGlyphs">100</text><text x="411.1" y="620.1" font-size="14.3" textLength="10.5" lengthAdjust="spacingAndGlyphs">0</text><text x="-1" y="0" font-size="19.3" textLength="137.6" lengthAdjust="spacingAndGlyphs" transform="translate(450 498.5) rotate(90)">Consistency (%)</text><text x="576.2" y="526.8" font-size="19" textLength="97" lengthAdjust="spacingAndGlyphs">Mean: 0.79</text><rect x="575.6" y="535" width="49.7" height="49.4" fill="#5c5d5f"/><text x="583.6" y="564.5" font-size="14.7" textLength="33.2" lengthAdjust="spacingAndGlyphs" fill="#f4f4f4">84.4</text><rect x="625" y="535" width="49.7" height="49.4" fill="#747577"/><text x="632.8" y="564.5" font-size="14.7" textLength="33.6" lengthAdjust="spacingAndGlyphs" fill="#f4f4f4">77.8</text><rect x="674.4" y="535" width="49.7" height="49.4" fill="#737476"/><text x="682.2" y="564.5" font-size="14.7" textLength="33.8" lengthAdjust="spacingAndGlyphs" fill="#f4f4f4">78.2</text><rect x="526.2" y="584.1" width="49.7" height="49.4" fill="#414041"/><text x="535.7" y="613.6" font-size="14.7" textLength="30.4" lengthAdjust="spacingAndGlyphs" fill="#f4f4f4">91.8</text><rect x="625" y="584.1" width="49.7" height="49.4" fill="#7a7b7d"/><text x="632.8" y="613.6" font-size="14.7" textLength="33.6" lengthAdjust="spacingAndGlyphs" fill="#f4f4f4">76.3</text><rect x="674.4" y="584.1" width="49.7" height="49.4" fill="#838486"/><text x="682.2" y="613.6" font-size="14.7" textLength="33.6" lengthAdjust="spacingAndGlyphs" fill="#f4f4f4">73.8</text><rect x="526.2" y="633.2" width="49.7" height="49.4" fill="#565759"/><text x="534.2" y="662.8" font-size="14.7" textLength="33.5" lengthAdjust="spacingAndGlyphs" fill="#f4f4f4">85.8</text><rect x="575.6" y="633.2" width="49.7" height="49.4" fill="#67686a"/><text x="585.1" y="662.8" font-size="14.7" textLength="30.5" lengthAdjust="spacingAndGlyphs" fill="#f4f4f4">81.2</text><rect x="674.4" y="633.2" width="49.7" height="49.4" fill="#97989a"/><text x="682.2" y="662.8" font-size="14.7" textLength="33.6" lengthAdjust="spacingAndGlyphs" fill="#f4f4f4">68.3</text><rect x="526.2" y="682.3" width="49.7" height="49.4" fill="#454445"/><text x="534.1" y="711.8" font-size="14.7" textLength="33.6" lengthAdjust="spacingAndGlyphs" fill="#f4f4f4">90.8</text><rect x="575.6" y="682.3" width="49.7" height="49.4" fill="#747577"/><text x="583.4" y="711.8" font-size="14.7" textLength="33.8" lengthAdjust="spacingAndGlyphs" fill="#f4f4f4">77.7</text><rect x="625" y="682.3" width="49.7" height="49.4" fill="#9a9b9d"/><text x="632.8" y="711.8" font-size="14.7" textLength="33.6" lengthAdjust="spacingAndGlyphs" fill="#f4f4f4">67.5</text><text x="-37.3" y="0" font-size="19" textLength="38.1" lengthAdjust="spacingAndGlyphs" transform="translate(555.4 749.5) rotate(-45)">Rat 1</text><text x="-41.5" y="0" font-size="19" textLength="42.3" lengthAdjust="spacingAndGlyphs" transform="translate(608.6 749.5) rotate(-45)">Rat 2</text><text x="-41.4" y="0" font-size="19" textLength="42.2" lengthAdjust="spacingAndGlyphs" transform="translate(659.7 749.5) rotate(-45)">Rat 3</text><text x="-41.4" y="0" font-size="19" textLength="42" lengthAdjust="spacingAndGlyphs" transform="translate(709.9 749.5) rotate(-45)">Rat 4</text><text x="810.7" y="526.8" font-size="19" textLength="99" lengthAdjust="spacingAndGlyphs">Mean: 0.69</text><g transform="rotate(-0.6 860.6 633.2)"><rect x="811.2" y="535" width="49.7" height="49.4" fill="#999a9c"/><text x="819" y="564.5" font-size="14.7" textLength="33.8" lengthAdjust="spacingAndGlyphs" fill="#f4f4f4">67.7</text><rect x="860.6" y="535" width="49.7" height="49.4" fill="#cccdcf"/><text x="870.2" y="564.5" font-size="14.7" textLength="30.4" lengthAdjust="spacingAndGlyphs" fill="#f4f4f4">54.1</text><rect x="910" y="535" width="49.7" height="49.4" fill="#7f8082"/><text x="917.8" y="564.5" font-size="14.7" textLength="33.7" lengthAdjust="spacingAndGlyphs" fill="#f4f4f4">74.9</text><rect x="761.8" y="584.1" width="49.7" height="49.4" fill="#9c9d9f"/><text x="771.2" y="613.6" font-size="14.7" textLength="30.6" lengthAdjust="spacingAndGlyphs" fill="#f4f4f4">67.1</text><rect x="860.6" y="584.1" width="49.7" height="49.4" fill="#edeef0"/><text x="868.9" y="613.6" font-size="14.7" textLength="33.1" lengthAdjust="spacingAndGlyphs" fill="#f4f4f4">45.0</text><rect x="910" y="584.1" width="49.7" height="49.4" fill="#b1b2b4"/><text x="919.4" y="613.6" font-size="14.7" textLength="30.2" lengthAdjust="spacingAndGlyphs" fill="#f4f4f4">61.4</text><rect x="761.8" y="633.2" width="49.7" height="49.4" fill="#6a6b6d"/><text x="769.8" y="662.8" font-size="14.7" textLength="33.5" lengthAdjust="spacingAndGlyphs" fill="#f4f4f4">80.6</text><rect x="811.2" y="633.2" width="49.7" height="49.4" fill="#969799"/><text x="819" y="662.8" font-size="14.7" textLength="33.6" lengthAdjust="spacingAndGlyphs" fill="#f4f4f4">68.5</text><rect x="910" y="633.2" width="49.7" height="49.4" fill="#5d5e60"/><text x="918" y="662.8" font-size="14.7" textLength="33.4" lengthAdjust="spacingAndGlyphs" fill="#f4f4f4">84.0</text><rect x="761.8" y="682.3" width="49.7" height="49.4" fill="#565759"/><text x="769.8" y="711.8" font-size="14.7" textLength="33.5" lengthAdjust="spacingAndGlyphs" fill="#f4f4f4">85.8</text><rect x="811.2" y="682.3" width="49.7" height="49.4" fill="#838486"/><text x="819" y="711.8" font-size="14.7" textLength="33.6" lengthAdjust="spacingAndGlyphs" fill="#f4f4f4">73.8</text><rect x="860.6" y="682.3" width="49.7" height="49.4" fill="#8e8f91"/><text x="868.4" y="711.8" font-size="14.7" textLength="33.7" lengthAdjust="spacingAndGlyphs" fill="#f4f4f4">70.9</text></g><text x="-37.3" y="0" font-size="19" textLength="38.1" lengthAdjust="spacingAndGlyphs" transform="translate(791 749.5) rotate(-45)">Rat 1</text><text x="-41.5" y="0" font-size="19" textLength="42.3" lengthAdjust="spacingAndGlyphs" transform="translate(844.2 749.5) rotate(-45)">Rat 2</text><text x="-41.4" y="0" font-size="19" textLength="42.2" lengthAdjust="spacingAndGlyphs" transform="translate(895.3 749.5) rotate(-45)">Rat 3</text><text x="-41.4" y="0" font-size="19" textLength="42" lengthAdjust="spacingAndGlyphs" transform="translate(945.5 749.5) rotate(-45)">Rat 4</text><text x="1047.2" y="526.8" font-size="19" textLength="93.2" lengthAdjust="spacingAndGlyphs">Mean: 0.91</text><rect x="1045.6" y="535" width="49.7" height="49.4" fill="#7d7e80"/><text x="1053.4" y="564.5" font-size="14.7" textLength="33.4" lengthAdjust="spacingAndGlyphs" fill="#f4f4f4">75.4</text><rect x="1095" y="535" width="49.7" height="49.4" fill="#2d2c2d"/><text x="1102.9" y="564.5" font-size="14.7" textLength="33.3" lengthAdjust="spacingAndGlyphs" fill="#f4f4f4">96.4</text><rect x="1144.4" y="535" width="49.7" height="49.4" fill="#323132"/><text x="1152.3" y="564.5" font-size="14.7" textLength="33.7" lengthAdjust="spacingAndGlyphs" fill="#f4f4f4">95.7</text><rect x="996.2" y="584.1" width="49.7" height="49.4" fill="#272627"/><text x="1004.1" y="613.6" font-size="14.7" textLength="33.6" lengthAdjust="spacingAndGlyphs" fill="#f4f4f4">97.3</text><rect x="1095" y="584.1" width="49.7" height="49.4" fill="#2f2e2f"/><text x="1102.9" y="613.6" font-size="14.7" textLength="33.7" lengthAdjust="spacingAndGlyphs" fill="#f4f4f4">96.2</text><rect x="1144.4" y="584.1" width="49.7" height="49.4" fill="#393839"/><text x="1152.3" y="613.6" font-size="14.7" textLength="33.6" lengthAdjust="spacingAndGlyphs" fill="#f4f4f4">93.9</text><rect x="996.2" y="633.2" width="49.7" height="49.4" fill="#333233"/><text x="1004.1" y="662.8" font-size="14.7" textLength="33.6" lengthAdjust="spacingAndGlyphs" fill="#f4f4f4">95.6</text><rect x="1045.6" y="633.2" width="49.7" height="49.4" fill="#87888a"/><text x="1053.4" y="662.8" font-size="14.7" textLength="33.8" lengthAdjust="spacingAndGlyphs" fill="#f4f4f4">72.7</text><rect x="1144.4" y="633.2" width="49.7" height="49.4" fill="#3e3d3e"/><text x="1152.3" y="662.8" font-size="14.7" textLength="33.6" lengthAdjust="spacingAndGlyphs" fill="#f4f4f4">92.8</text><rect x="996.2" y="682.3" width="49.7" height="49.4" fill="#201f20"/><text x="1004.1" y="711.8" font-size="14.7" textLength="33.6" lengthAdjust="spacingAndGlyphs" fill="#f4f4f4">98.3</text><rect x="1045.6" y="682.3" width="49.7" height="49.4" fill="#7b7c7e"/><text x="1053.4" y="711.8" font-size="14.7" textLength="33.6" lengthAdjust="spacingAndGlyphs" fill="#f4f4f4">76.0</text><rect x="1095" y="682.3" width="49.7" height="49.4" fill="#2d2c2d"/><text x="1102.9" y="711.8" font-size="14.7" textLength="33.3" lengthAdjust="spacingAndGlyphs" fill="#f4f4f4">96.4</text><text x="-37.3" y="0" font-size="19" textLength="38.1" lengthAdjust="spacingAndGlyphs" transform="translate(1025.4 749.5) rotate(-45)">Rat 1</text><text x="-41.5" y="0" font-size="19" textLength="42.3" lengthAdjust="spacingAndGlyphs" transform="translate(1078.6 749.5) rotate(-45)">Rat 2</text><text x="-41.4" y="0" font-size="19" textLength="42.2" lengthAdjust="spacingAndGlyphs" transform="translate(1129.7 749.5) rotate(-45)">Rat 3</text><text x="-41.4" y="0" font-size="19" textLength="42" lengthAdjust="spacingAndGlyphs" transform="translate(1179.9 749.5) rotate(-45)">Rat 4</text><text x="478.2" y="565" font-size="17.8" textLength="40.4" lengthAdjust="spacingAndGlyphs">Rat 1</text><text x="475.2" y="614.1" font-size="17.8" textLength="43.5" lengthAdjust="spacingAndGlyphs">Rat 2</text><text x="475.2" y="663.2" font-size="17.8" textLength="43.4" lengthAdjust="spacingAndGlyphs">Rat 3</text><text x="475.2" y="712.3" font-size="17.8" textLength="43.1" lengthAdjust="spacingAndGlyphs">Rat 4</text></svg></div></body></html>
